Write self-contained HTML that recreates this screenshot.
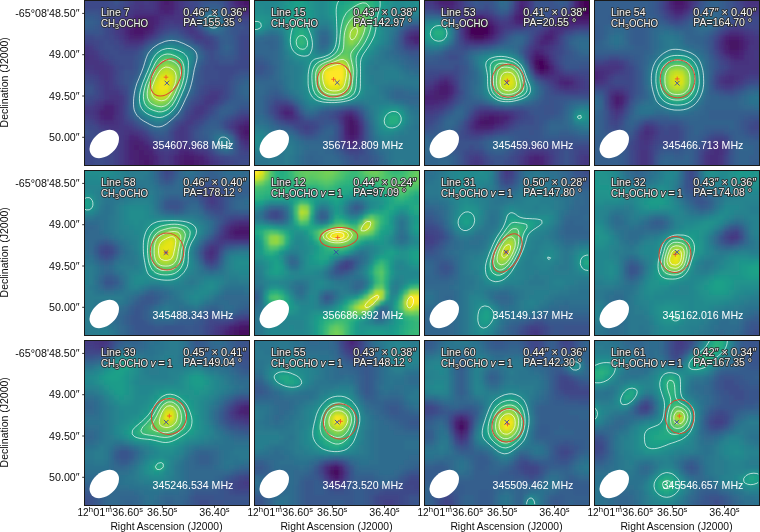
<!DOCTYPE html>
<html><head><meta charset="utf-8"><style>
html,body{margin:0;padding:0;background:#fff;}
svg{display:block;filter:blur(0.3px);font-family:"Liberation Sans",sans-serif;}
</style></head><body>
<svg width="760" height="532" viewBox="0 0 760 532">
<defs>
<filter id="bl" x="-10%" y="-10%" width="120%" height="120%"><feGaussianBlur stdDeviation="1.6"/></filter>
<clipPath id="cp0"><rect x="84" y="0" width="166" height="166"/></clipPath>
<clipPath id="cp1"><rect x="254" y="0" width="166" height="166"/></clipPath>
<clipPath id="cp2"><rect x="424" y="0" width="166" height="166"/></clipPath>
<clipPath id="cp3"><rect x="594" y="0" width="166" height="166"/></clipPath>
<clipPath id="cp4"><rect x="84" y="170" width="166" height="166"/></clipPath>
<clipPath id="cp5"><rect x="254" y="170" width="166" height="166"/></clipPath>
<clipPath id="cp6"><rect x="424" y="170" width="166" height="166"/></clipPath>
<clipPath id="cp7"><rect x="594" y="170" width="166" height="166"/></clipPath>
<clipPath id="cp8"><rect x="84" y="340" width="166" height="166"/></clipPath>
<clipPath id="cp9"><rect x="254" y="340" width="166" height="166"/></clipPath>
<clipPath id="cp10"><rect x="424" y="340" width="166" height="166"/></clipPath>
<clipPath id="cp11"><rect x="594" y="340" width="166" height="166"/></clipPath>
</defs>
<g clip-path="url(#cp0)">
<g filter="url(#bl)"><path fill="#471365" d="M244 0h5v5h-5z"/>
<path fill="#48186a" d="M244 -5h10v5h-10zM249 0h5v5h-5zM134 25h15v5h-15zM134 30h10v5h-10zM244 130h5v5h-5zM144 160h5v5h-5zM184 160h10v5h-10zM184 165h10v5h-10z"/>
<path fill="#481c6e" d="M244 -10h10v5h-10zM164 -5h5v5h-5zM239 -5h5v5h-5zM254 -5h5v5h-5zM164 0h5v5h-5zM239 0h5v5h-5zM254 0h5v5h-5zM244 5h10v5h-10zM139 20h10v5h-10zM129 30h5v5h-5zM244 125h10v5h-10zM249 130h5v5h-5zM134 145h5v5h-5zM139 150h5v5h-5zM139 155h10v5h-10zM184 155h10v5h-10zM139 160h5v5h-5zM149 160h5v5h-5zM179 160h5v5h-5zM194 160h5v5h-5zM139 165h15v5h-15zM179 165h5v5h-5zM194 165h5v5h-5zM139 170h10v5h-10zM184 170h10v5h-10z"/>
<path fill="#482071" d="M164 -10h5v5h-5zM239 -10h5v5h-5zM254 -10h5v5h-5zM169 -5h5v5h-5zM169 0h5v5h-5zM164 5h5v5h-5zM239 5h5v5h-5zM254 5h5v5h-5zM134 20h5v5h-5zM149 20h5v5h-5zM129 25h5v5h-5zM149 25h5v5h-5zM144 30h5v5h-5zM134 35h5v5h-5zM104 110h5v5h-5zM239 125h5v5h-5zM254 125h5v5h-5zM239 130h5v5h-5zM254 130h5v5h-5zM244 135h5v5h-5zM134 140h5v5h-5zM139 145h5v5h-5zM134 150h5v5h-5zM144 150h5v5h-5zM134 155h5v5h-5zM149 155h5v5h-5zM179 155h5v5h-5zM194 155h5v5h-5zM134 160h5v5h-5zM199 160h5v5h-5zM134 165h5v5h-5zM134 170h5v5h-5zM149 170h5v5h-5zM179 170h5v5h-5zM194 170h5v5h-5z"/>
<path fill="#482475" d="M159 -10h5v5h-5zM169 -10h5v5h-5zM159 -5h5v5h-5zM159 0h5v5h-5zM159 5h5v5h-5zM169 5h5v5h-5zM164 10h5v5h-5zM139 15h15v5h-15zM129 20h5v5h-5zM129 35h5v5h-5zM139 35h5v5h-5zM104 105h10v5h-10zM99 110h5v5h-5zM109 110h5v5h-5zM104 115h10v5h-10zM249 135h5v5h-5zM129 140h5v5h-5zM139 140h5v5h-5zM129 145h5v5h-5zM144 145h5v5h-5zM129 150h5v5h-5zM149 150h5v5h-5zM184 150h5v5h-5zM129 155h5v5h-5zM199 155h5v5h-5zM129 165h5v5h-5zM199 165h5v5h-5zM129 170h5v5h-5zM199 170h5v5h-5z"/>
<path fill="#482878" d="M234 -5h5v5h-5zM234 0h5v5h-5zM159 10h5v5h-5zM169 10h5v5h-5zM134 15h5v5h-5zM154 15h5v5h-5zM154 20h5v5h-5zM124 25h5v5h-5zM124 30h5v5h-5zM149 30h5v5h-5zM99 115h5v5h-5zM244 120h10v5h-10zM129 135h10v5h-10zM239 135h5v5h-5zM254 135h5v5h-5zM179 150h5v5h-5zM189 150h5v5h-5zM154 155h5v5h-5zM174 155h5v5h-5zM129 160h5v5h-5zM154 160h5v5h-5zM174 160h5v5h-5zM204 160h5v5h-5zM154 165h5v5h-5zM174 165h5v5h-5zM154 170h5v5h-5zM174 170h5v5h-5z"/>
<path fill="#472d7b" d="M174 -10h5v5h-5zM234 -10h5v5h-5zM174 -5h5v5h-5zM174 0h5v5h-5zM174 5h5v5h-5zM234 5h5v5h-5zM154 10h5v5h-5zM239 10h20v5h-20zM159 15h5v5h-5zM124 20h5v5h-5zM154 25h5v5h-5zM124 35h5v5h-5zM144 35h5v5h-5zM104 100h10v5h-10zM99 105h5v5h-5zM114 105h5v5h-5zM114 110h5v5h-5zM104 120h10v5h-10zM239 120h5v5h-5zM254 120h5v5h-5zM234 125h5v5h-5zM124 140h5v5h-5zM144 140h5v5h-5zM244 140h5v5h-5zM124 145h5v5h-5zM149 145h5v5h-5zM124 150h5v5h-5zM194 150h5v5h-5zM124 155h5v5h-5zM204 155h5v5h-5zM124 160h5v5h-5zM124 165h5v5h-5zM204 165h5v5h-5zM124 170h5v5h-5zM204 170h5v5h-5z"/>
<path fill="#46307e" d="M154 -10h5v5h-5zM154 -5h5v5h-5zM154 0h5v5h-5zM154 5h5v5h-5zM134 10h20v5h-20zM174 10h5v5h-5zM129 15h5v5h-5zM164 15h10v5h-10zM159 20h5v5h-5zM129 40h10v5h-10zM84 55h5v5h-5zM114 100h5v5h-5zM94 110h5v5h-5zM114 115h5v5h-5zM99 120h5v5h-5zM114 120h5v5h-5zM129 130h5v5h-5zM124 135h5v5h-5zM139 135h5v5h-5zM249 140h5v5h-5zM179 145h10v5h-10zM154 150h5v5h-5zM174 150h5v5h-5zM169 155h5v5h-5zM159 160h5v5h-5zM169 160h5v5h-5zM209 160h5v5h-5zM159 165h5v5h-5zM169 165h5v5h-5zM159 170h5v5h-5zM169 170h5v5h-5z"/>
<path fill="#463480" d="M139 -10h5v5h-5zM139 5h5v5h-5zM179 10h5v5h-5zM174 15h10v5h-10zM119 25h5v5h-5zM119 30h5v5h-5zM124 40h5v5h-5zM139 40h5v5h-5zM79 50h10v5h-10zM74 55h10v5h-10zM89 55h5v5h-5zM74 60h25v5h-25zM94 65h10v5h-10zM99 70h10v5h-10zM104 75h5v5h-5zM109 95h10v5h-10zM99 100h5v5h-5zM94 105h5v5h-5zM94 115h5v5h-5zM234 120h5v5h-5zM109 125h10v5h-10zM124 130h5v5h-5zM134 130h5v5h-5zM234 130h5v5h-5zM199 150h5v5h-5zM159 155h5v5h-5zM164 160h5v5h-5zM164 165h5v5h-5zM209 165h5v5h-5z"/>
<path fill="#453882" d="M134 -10h5v5h-5zM144 -10h10v5h-10zM179 -10h5v5h-5zM134 -5h20v5h-20zM179 -5h5v5h-5zM134 0h10v5h-10zM149 0h5v5h-5zM179 0h5v5h-5zM229 0h5v5h-5zM134 5h5v5h-5zM144 5h10v5h-10zM179 5h5v5h-5zM129 10h5v5h-5zM234 10h5v5h-5zM124 15h5v5h-5zM184 15h5v5h-5zM119 20h5v5h-5zM164 20h5v5h-5zM174 20h15v5h-15zM159 25h5v5h-5zM184 25h10v5h-10zM154 30h5v5h-5zM189 30h5v5h-5zM119 35h5v5h-5zM84 45h5v5h-5zM74 50h5v5h-5zM89 50h5v5h-5zM94 55h5v5h-5zM99 60h5v5h-5zM74 65h20v5h-20zM104 65h5v5h-5zM94 70h5v5h-5zM99 75h5v5h-5zM104 80h5v5h-5zM104 85h5v5h-5zM104 90h15v5h-15zM104 95h5v5h-5zM119 95h5v5h-5zM209 95h10v5h-10zM119 100h5v5h-5zM204 100h10v5h-10zM119 105h5v5h-5zM199 105h5v5h-5zM74 110h20v5h-20zM119 110h5v5h-5zM194 110h10v5h-10zM119 115h5v5h-5zM244 115h10v5h-10zM119 120h5v5h-5zM104 125h5v5h-5zM119 125h10v5h-10zM179 125h5v5h-5zM119 130h5v5h-5zM179 130h5v5h-5zM119 135h5v5h-5zM144 135h5v5h-5zM179 135h5v5h-5zM119 140h5v5h-5zM149 140h5v5h-5zM179 140h5v5h-5zM239 140h5v5h-5zM254 140h5v5h-5zM119 145h5v5h-5zM154 145h5v5h-5zM174 145h5v5h-5zM189 145h5v5h-5zM244 145h5v5h-5zM119 150h5v5h-5zM159 150h5v5h-5zM169 150h5v5h-5zM204 150h5v5h-5zM119 155h5v5h-5zM164 155h5v5h-5zM209 155h5v5h-5zM119 160h5v5h-5zM214 160h5v5h-5zM119 165h5v5h-5zM119 170h5v5h-5zM164 170h5v5h-5zM209 170h5v5h-5z"/>
<path fill="#443b84" d="M129 -10h5v5h-5zM229 -10h5v5h-5zM229 -5h5v5h-5zM144 0h5v5h-5zM129 5h5v5h-5zM229 5h5v5h-5zM184 10h5v5h-5zM169 20h5v5h-5zM189 20h5v5h-5zM114 25h5v5h-5zM114 30h5v5h-5zM194 30h5v5h-5zM149 35h5v5h-5zM194 35h10v5h-10zM74 45h10v5h-10zM89 45h5v5h-5zM94 50h5v5h-5zM104 60h5v5h-5zM109 65h5v5h-5zM74 70h5v5h-5zM89 70h5v5h-5zM109 70h5v5h-5zM109 75h5v5h-5zM99 80h5v5h-5zM109 80h5v5h-5zM109 85h5v5h-5zM209 90h10v5h-10zM204 95h5v5h-5zM94 100h5v5h-5zM74 105h20v5h-20zM194 105h5v5h-5zM204 105h5v5h-5zM74 115h10v5h-10zM89 115h5v5h-5zM189 115h10v5h-10zM239 115h5v5h-5zM254 115h5v5h-5zM94 120h5v5h-5zM184 120h10v5h-10zM99 125h5v5h-5zM129 125h5v5h-5zM184 125h5v5h-5zM229 125h5v5h-5zM109 130h10v5h-10zM139 130h5v5h-5zM174 130h5v5h-5zM184 130h5v5h-5zM114 135h5v5h-5zM174 135h5v5h-5zM184 135h5v5h-5zM174 140h5v5h-5zM184 140h5v5h-5zM249 145h5v5h-5zM164 150h5v5h-5zM214 165h5v5h-5z"/>
<path fill="#424086" d="M184 -10h5v5h-5zM129 -5h5v5h-5zM184 -5h5v5h-5zM129 0h5v5h-5zM184 0h5v5h-5zM184 5h5v5h-5zM124 10h5v5h-5zM119 15h5v5h-5zM189 15h5v5h-5zM239 15h20v5h-20zM114 20h5v5h-5zM164 25h5v5h-5zM179 25h5v5h-5zM184 30h5v5h-5zM114 35h5v5h-5zM119 40h5v5h-5zM204 40h5v5h-5zM124 45h15v5h-15zM99 55h5v5h-5zM79 70h10v5h-10zM94 75h5v5h-5zM99 85h5v5h-5zM114 85h5v5h-5zM99 90h5v5h-5zM119 90h5v5h-5zM219 90h5v5h-5zM99 95h5v5h-5zM199 100h5v5h-5zM214 100h5v5h-5zM189 110h5v5h-5zM204 110h5v5h-5zM84 115h5v5h-5zM199 115h5v5h-5zM124 120h5v5h-5zM229 120h5v5h-5zM104 130h5v5h-5zM114 140h5v5h-5zM114 145h5v5h-5zM169 145h5v5h-5zM194 145h5v5h-5zM239 145h5v5h-5zM254 145h5v5h-5zM114 150h5v5h-5zM114 155h5v5h-5zM214 155h5v5h-5zM114 160h5v5h-5zM219 160h5v5h-5zM114 165h5v5h-5zM219 165h5v5h-5zM114 170h5v5h-5zM214 170h5v5h-5z"/>
<path fill="#414487" d="M124 -10h5v5h-5zM189 -10h5v5h-5zM124 5h5v5h-5zM189 5h5v5h-5zM189 10h5v5h-5zM229 10h5v5h-5zM114 15h5v5h-5zM234 15h5v5h-5zM109 20h5v5h-5zM109 25h5v5h-5zM169 25h10v5h-10zM194 25h5v5h-5zM109 30h5v5h-5zM159 30h5v5h-5zM189 35h5v5h-5zM204 35h5v5h-5zM74 40h20v5h-20zM144 40h5v5h-5zM199 40h5v5h-5zM209 40h5v5h-5zM94 45h5v5h-5zM109 60h5v5h-5zM114 70h5v5h-5zM74 75h5v5h-5zM89 75h5v5h-5zM94 80h5v5h-5zM114 80h5v5h-5zM209 85h15v5h-15zM204 90h5v5h-5zM199 95h5v5h-5zM219 95h5v5h-5zM74 100h10v5h-10zM89 100h5v5h-5zM209 105h5v5h-5zM184 115h5v5h-5zM234 115h5v5h-5zM74 120h5v5h-5zM89 120h5v5h-5zM179 120h5v5h-5zM194 120h5v5h-5zM134 125h5v5h-5zM174 125h5v5h-5zM189 125h5v5h-5zM109 135h5v5h-5zM154 140h5v5h-5zM189 140h5v5h-5zM159 145h5v5h-5zM199 145h5v5h-5zM209 150h5v5h-5zM244 150h5v5h-5zM224 160h5v5h-5z"/>
<path fill="#3f4788" d="M124 -5h5v5h-5zM189 -5h5v5h-5zM124 0h5v5h-5zM189 0h5v5h-5zM119 10h5v5h-5zM109 15h5v5h-5zM199 30h5v5h-5zM109 35h5v5h-5zM154 35h5v5h-5zM94 40h5v5h-5zM114 40h5v5h-5zM244 40h5v5h-5zM119 45h5v5h-5zM204 45h10v5h-10zM244 45h5v5h-5zM99 50h5v5h-5zM104 55h5v5h-5zM244 55h5v5h-5zM114 65h5v5h-5zM79 75h10v5h-10zM114 75h5v5h-5zM94 85h5v5h-5zM119 85h5v5h-5zM204 85h5v5h-5zM94 95h5v5h-5zM124 95h5v5h-5zM84 100h5v5h-5zM124 100h5v5h-5zM194 100h5v5h-5zM189 105h5v5h-5zM124 115h5v5h-5zM79 120h10v5h-10zM129 120h5v5h-5zM94 125h5v5h-5zM99 130h5v5h-5zM144 130h5v5h-5zM189 130h5v5h-5zM104 135h5v5h-5zM149 135h5v5h-5zM189 135h5v5h-5zM234 135h5v5h-5zM109 140h5v5h-5zM169 140h5v5h-5zM109 145h5v5h-5zM164 145h5v5h-5zM204 145h5v5h-5zM109 150h5v5h-5zM239 150h5v5h-5zM249 150h10v5h-10zM109 155h5v5h-5zM219 155h5v5h-5zM109 160h5v5h-5zM229 160h5v5h-5zM109 165h5v5h-5zM224 165h5v5h-5zM109 170h5v5h-5zM219 170h5v5h-5z"/>
<path fill="#3e4a89" d="M74 -10h35v5h-35zM119 -10h5v5h-5zM194 -10h5v5h-5zM224 -10h5v5h-5zM74 -5h35v5h-35zM194 -5h5v5h-5zM224 -5h5v5h-5zM74 0h35v5h-35zM194 0h5v5h-5zM224 0h5v5h-5zM74 5h35v5h-35zM119 5h5v5h-5zM194 5h5v5h-5zM224 5h5v5h-5zM104 10h15v5h-15zM104 15h5v5h-5zM229 15h5v5h-5zM104 20h5v5h-5zM194 20h5v5h-5zM239 20h20v5h-20zM104 25h5v5h-5zM104 30h5v5h-5zM179 30h5v5h-5zM74 35h20v5h-20zM104 35h5v5h-5zM209 35h5v5h-5zM239 35h20v5h-20zM99 40h5v5h-5zM109 40h5v5h-5zM194 40h5v5h-5zM239 40h5v5h-5zM249 40h10v5h-10zM99 45h5v5h-5zM114 45h5v5h-5zM139 45h5v5h-5zM239 45h5v5h-5zM249 45h10v5h-10zM104 50h5v5h-5zM119 50h15v5h-15zM239 50h20v5h-20zM109 55h5v5h-5zM239 55h5v5h-5zM249 55h10v5h-10zM114 60h5v5h-5zM239 60h20v5h-20zM119 65h5v5h-5zM214 65h45v5h-45zM219 70h15v5h-15zM219 75h10v5h-10zM74 80h5v5h-5zM89 80h5v5h-5zM209 80h20v5h-20zM224 85h5v5h-5zM94 90h5v5h-5zM124 90h5v5h-5zM199 90h5v5h-5zM224 90h5v5h-5zM74 95h5v5h-5zM89 95h5v5h-5zM224 95h5v5h-5zM219 100h5v5h-5zM124 105h5v5h-5zM124 110h5v5h-5zM184 110h5v5h-5zM209 110h5v5h-5zM239 110h20v5h-20zM204 115h5v5h-5zM199 120h5v5h-5zM224 120h5v5h-5zM74 125h5v5h-5zM89 125h5v5h-5zM194 125h5v5h-5zM224 125h5v5h-5zM94 130h5v5h-5zM169 130h5v5h-5zM99 135h5v5h-5zM169 135h5v5h-5zM74 140h20v5h-20zM104 140h5v5h-5zM194 140h5v5h-5zM74 145h20v5h-20zM74 150h20v5h-20zM74 155h20v5h-20zM104 155h5v5h-5zM224 155h5v5h-5zM239 155h20v5h-20zM74 160h20v5h-20zM104 160h5v5h-5zM234 160h5v5h-5zM74 165h20v5h-20zM104 165h5v5h-5zM229 165h10v5h-10zM74 170h20v5h-20zM104 170h5v5h-5zM224 170h5v5h-5zM239 170h20v5h-20z"/>
<path fill="#3d4e8a" d="M109 -10h10v5h-10zM109 -5h15v5h-15zM109 0h5v5h-5zM119 0h5v5h-5zM109 5h10v5h-10zM99 10h5v5h-5zM194 10h5v5h-5zM194 15h5v5h-5zM234 20h5v5h-5zM244 25h10v5h-10zM164 30h5v5h-5zM239 30h20v5h-20zM94 35h10v5h-10zM184 35h5v5h-5zM104 40h5v5h-5zM214 40h5v5h-5zM104 45h10v5h-10zM214 45h5v5h-5zM109 50h10v5h-10zM134 50h5v5h-5zM209 50h5v5h-5zM114 55h20v5h-20zM209 55h5v5h-5zM119 60h15v5h-15zM209 60h10v5h-10zM234 60h5v5h-5zM124 65h10v5h-10zM204 65h10v5h-10zM119 70h5v5h-5zM204 70h15v5h-15zM234 70h5v5h-5zM119 75h5v5h-5zM204 75h15v5h-15zM229 75h5v5h-5zM79 80h10v5h-10zM119 80h5v5h-5zM204 80h5v5h-5zM124 85h5v5h-5zM199 85h5v5h-5zM79 95h10v5h-10zM194 95h5v5h-5zM189 100h5v5h-5zM214 105h5v5h-5zM229 115h5v5h-5zM174 120h5v5h-5zM79 125h10v5h-10zM139 125h5v5h-5zM74 130h10v5h-10zM89 130h5v5h-5zM229 130h5v5h-5zM74 135h25v5h-25zM94 140h10v5h-10zM159 140h10v5h-10zM94 145h15v5h-15zM94 150h15v5h-15zM94 155h10v5h-10zM229 155h10v5h-10zM94 160h10v5h-10zM239 160h20v5h-20zM94 165h10v5h-10zM239 165h20v5h-20zM94 170h10v5h-10zM229 170h10v5h-10z"/>
<path fill="#3b528b" d="M199 -5h5v5h-5zM114 0h5v5h-5zM199 0h5v5h-5zM74 10h5v5h-5zM89 10h10v5h-10zM224 10h5v5h-5zM99 15h5v5h-5zM99 25h5v5h-5zM234 25h10v5h-10zM254 25h5v5h-5zM99 30h5v5h-5zM169 30h10v5h-10zM234 35h5v5h-5zM149 40h5v5h-5zM199 45h5v5h-5zM204 50h5v5h-5zM214 50h5v5h-5zM134 55h5v5h-5zM214 55h5v5h-5zM234 55h5v5h-5zM204 60h5v5h-5zM219 60h15v5h-15zM124 70h10v5h-10zM199 70h5v5h-5zM239 70h20v5h-20zM124 75h5v5h-5zM199 75h5v5h-5zM124 80h5v5h-5zM199 80h5v5h-5zM229 80h5v5h-5zM74 85h20v5h-20zM229 85h5v5h-5zM74 90h20v5h-20zM229 90h5v5h-5zM234 110h5v5h-5zM179 115h5v5h-5zM134 120h5v5h-5zM169 125h5v5h-5zM84 130h5v5h-5zM194 130h5v5h-5zM154 135h5v5h-5zM164 135h5v5h-5zM194 135h5v5h-5zM199 140h5v5h-5zM234 140h5v5h-5zM214 150h5v5h-5zM234 150h5v5h-5z"/>
<path fill="#39558c" d="M199 -10h5v5h-5zM219 -5h5v5h-5zM204 0h5v5h-5zM219 0h5v5h-5zM199 5h5v5h-5zM79 10h10v5h-10zM99 20h5v5h-5zM229 20h5v5h-5zM74 30h25v5h-25zM204 30h5v5h-5zM234 30h5v5h-5zM159 35h5v5h-5zM214 35h5v5h-5zM234 40h5v5h-5zM234 45h5v5h-5zM234 50h5v5h-5zM204 55h5v5h-5zM219 55h5v5h-5zM134 60h5v5h-5zM134 65h5v5h-5zM199 65h5v5h-5zM129 75h5v5h-5zM234 75h5v5h-5zM194 90h5v5h-5zM229 95h5v5h-5zM224 100h5v5h-5zM184 105h5v5h-5zM239 105h20v5h-20zM214 110h5v5h-5zM129 115h5v5h-5zM209 115h5v5h-5zM224 115h5v5h-5zM204 120h5v5h-5zM219 120h5v5h-5zM199 125h5v5h-5zM149 130h5v5h-5zM159 135h5v5h-5zM204 140h5v5h-5zM209 145h5v5h-5zM234 145h5v5h-5z"/>
<path fill="#38598c" d="M219 -10h5v5h-5zM204 -5h5v5h-5zM209 0h10v5h-10zM219 5h5v5h-5zM94 15h5v5h-5zM224 15h5v5h-5zM94 25h5v5h-5zM199 25h5v5h-5zM229 25h5v5h-5zM229 30h5v5h-5zM179 35h5v5h-5zM189 40h5v5h-5zM144 45h5v5h-5zM139 50h5v5h-5zM224 55h10v5h-10zM134 70h5v5h-5zM239 75h5v5h-5zM254 75h5v5h-5zM129 80h5v5h-5zM194 80h5v5h-5zM234 80h5v5h-5zM194 85h5v5h-5zM189 95h5v5h-5zM219 105h5v5h-5zM214 115h5v5h-5zM144 125h5v5h-5zM219 125h5v5h-5zM164 130h5v5h-5zM199 130h5v5h-5zM199 135h5v5h-5z"/>
<path fill="#365c8d" d="M204 -10h5v5h-5zM209 -5h10v5h-10zM204 5h5v5h-5zM199 10h5v5h-5zM74 15h20v5h-20zM94 20h5v5h-5zM74 25h5v5h-5zM89 25h5v5h-5zM229 35h5v5h-5zM219 40h5v5h-5zM229 40h5v5h-5zM219 45h5v5h-5zM219 50h5v5h-5zM229 50h5v5h-5zM139 55h5v5h-5zM199 60h5v5h-5zM194 75h5v5h-5zM244 75h10v5h-10zM129 85h5v5h-5zM234 85h5v5h-5zM129 90h5v5h-5zM234 90h5v5h-5zM129 95h5v5h-5zM234 95h5v5h-5zM229 100h30v5h-30zM234 105h5v5h-5zM129 110h5v5h-5zM229 110h5v5h-5zM219 115h5v5h-5zM209 120h10v5h-10zM204 125h5v5h-5zM154 130h5v5h-5zM204 135h5v5h-5z"/>
<path fill="#355f8d" d="M209 -10h10v5h-10zM209 5h10v5h-10zM74 20h5v5h-5zM89 20h5v5h-5zM224 20h5v5h-5zM79 25h10v5h-10zM224 30h5v5h-5zM164 35h5v5h-5zM174 35h5v5h-5zM219 35h10v5h-10zM154 40h5v5h-5zM224 40h5v5h-5zM229 45h5v5h-5zM199 50h5v5h-5zM224 50h5v5h-5zM139 60h5v5h-5zM194 70h5v5h-5zM134 75h5v5h-5zM239 80h5v5h-5zM254 80h5v5h-5zM239 95h5v5h-5zM249 95h10v5h-10zM129 100h5v5h-5zM184 100h5v5h-5zM129 105h5v5h-5zM224 105h10v5h-10zM179 110h5v5h-5zM219 110h10v5h-10zM139 120h5v5h-5zM169 120h5v5h-5zM209 125h10v5h-10zM159 130h5v5h-5zM204 130h5v5h-5zM224 130h5v5h-5zM209 140h5v5h-5zM219 150h5v5h-5zM229 150h5v5h-5z"/>
<path fill="#33638d" d="M219 10h5v5h-5zM79 20h10v5h-10zM224 25h5v5h-5zM209 30h5v5h-5zM169 35h5v5h-5zM184 40h5v5h-5zM194 45h5v5h-5zM224 45h5v5h-5zM199 55h5v5h-5zM139 65h5v5h-5zM244 80h10v5h-10zM239 85h5v5h-5zM249 85h10v5h-10zM189 90h5v5h-5zM239 90h5v5h-5zM249 90h10v5h-10zM244 95h5v5h-5zM134 115h5v5h-5zM174 115h5v5h-5zM164 125h5v5h-5zM209 130h5v5h-5zM224 150h5v5h-5z"/>
<path fill="#31668e" d="M199 15h5v5h-5zM199 20h5v5h-5zM219 30h5v5h-5zM194 65h5v5h-5zM244 85h5v5h-5zM244 90h5v5h-5zM149 125h5v5h-5zM209 135h5v5h-5zM229 135h5v5h-5zM214 145h5v5h-5z"/>
<path fill="#30698e" d="M204 10h5v5h-5zM214 30h5v5h-5zM149 45h5v5h-5zM144 50h5v5h-5zM134 80h5v5h-5zM189 85h5v5h-5zM159 125h5v5h-5zM214 130h10v5h-10z"/>
<path fill="#2f6c8e" d="M214 10h5v5h-5zM219 15h5v5h-5zM204 25h5v5h-5zM159 40h5v5h-5zM194 60h5v5h-5zM139 70h5v5h-5zM189 80h5v5h-5zM184 95h5v5h-5zM179 105h5v5h-5zM144 120h5v5h-5zM154 125h5v5h-5zM229 145h5v5h-5z"/>
<path fill="#2e6f8e" d="M209 10h5v5h-5zM219 25h5v5h-5zM179 40h5v5h-5zM189 45h5v5h-5zM194 50h5v5h-5zM144 55h5v5h-5zM164 120h5v5h-5z"/>
<path fill="#2c728e" d="M219 20h5v5h-5zM194 55h5v5h-5zM189 75h5v5h-5zM134 85h5v5h-5zM134 110h5v5h-5zM139 115h5v5h-5zM214 135h5v5h-5zM214 140h5v5h-5zM229 140h5v5h-5z"/>
<path fill="#2b758e" d="M164 40h5v5h-5zM174 40h5v5h-5zM144 60h5v5h-5zM174 110h5v5h-5zM169 115h5v5h-5zM149 120h5v5h-5zM219 145h5v5h-5z"/>
<path fill="#2a788e" d="M204 15h5v5h-5zM214 25h5v5h-5zM169 40h5v5h-5zM154 45h5v5h-5zM189 70h5v5h-5zM139 75h5v5h-5zM134 90h5v5h-5zM184 90h5v5h-5zM224 135h5v5h-5z"/>
<path fill="#297b8e" d="M214 15h5v5h-5zM204 20h5v5h-5zM209 25h5v5h-5zM184 45h5v5h-5zM149 50h5v5h-5zM134 95h5v5h-5zM179 100h5v5h-5zM134 105h5v5h-5zM154 120h10v5h-10zM219 135h5v5h-5zM224 145h5v5h-5z"/>
<path fill="#277e8e" d="M144 65h5v5h-5zM189 65h5v5h-5zM134 100h5v5h-5zM144 115h5v5h-5z"/>
<path fill="#26828e" d="M209 15h5v5h-5zM214 20h5v5h-5zM189 50h5v5h-5zM219 140h5v5h-5z"/>
<path fill="#25848e" d="M179 45h5v5h-5zM189 60h5v5h-5zM184 85h5v5h-5zM139 110h5v5h-5zM224 140h5v5h-5z"/>
<path fill="#24878e" d="M209 20h5v5h-5zM159 45h5v5h-5zM189 55h5v5h-5zM139 80h5v5h-5zM179 95h5v5h-5zM164 115h5v5h-5z"/>
<path fill="#238a8d" d="M174 45h5v5h-5zM149 55h5v5h-5zM174 105h5v5h-5zM149 115h5v5h-5z"/>
<path fill="#228d8d" d="M184 50h5v5h-5zM144 70h5v5h-5zM184 80h5v5h-5zM169 110h5v5h-5z"/>
<path fill="#21918c" d="M164 45h10v5h-10zM154 115h10v5h-10z"/>
<path fill="#20938c" d="M154 50h5v5h-5zM139 85h5v5h-5zM139 105h5v5h-5z"/>
<path fill="#1f968b" d="M149 60h5v5h-5zM184 75h5v5h-5zM144 110h5v5h-5z"/>
<path fill="#1f998a" d="M179 50h5v5h-5zM184 55h5v5h-5zM179 90h5v5h-5z"/>
<path fill="#1e9c89" d="M184 70h5v5h-5zM144 75h5v5h-5zM139 90h5v5h-5zM174 100h5v5h-5z"/>
<path fill="#1fa088" d="M184 60h5v5h-5zM184 65h5v5h-5zM139 100h5v5h-5zM149 110h5v5h-5z"/>
<path fill="#1fa287" d="M159 50h5v5h-5zM174 50h5v5h-5zM149 65h5v5h-5zM139 95h5v5h-5zM164 110h5v5h-5z"/>
<path fill="#21a585" d="M154 55h5v5h-5z"/>
<path fill="#22a884" d="M169 105h5v5h-5zM154 110h5v5h-5z"/>
<path fill="#25ab82" d="M164 50h10v5h-10zM179 55h5v5h-5zM179 85h5v5h-5zM144 105h5v5h-5zM159 110h5v5h-5z"/>
<path fill="#28ae80" d="M144 80h5v5h-5zM174 95h5v5h-5z"/>
<path fill="#2fb47c" d="M149 70h5v5h-5z"/>
<path fill="#34b679" d="M174 55h5v5h-5zM154 60h5v5h-5zM179 60h5v5h-5zM179 80h5v5h-5z"/>
<path fill="#38b977" d="M159 55h5v5h-5zM144 100h5v5h-5zM149 105h5v5h-5z"/>
<path fill="#3fbc73" d="M144 85h5v5h-5zM164 105h5v5h-5z"/>
<path fill="#44bf70" d="M169 55h5v5h-5zM179 65h5v5h-5zM179 75h5v5h-5zM169 100h5v5h-5z"/>
<path fill="#4ac16d" d="M164 55h5v5h-5zM179 70h5v5h-5zM174 90h5v5h-5zM154 105h5v5h-5z"/>
<path fill="#50c46a" d="M144 90h5v5h-5zM144 95h5v5h-5zM159 105h5v5h-5z"/>
<path fill="#56c667" d="M174 60h5v5h-5zM154 65h5v5h-5zM149 75h5v5h-5z"/>
<path fill="#65cb5e" d="M159 60h5v5h-5zM149 100h5v5h-5z"/>
<path fill="#6ccd5a" d="M169 60h5v5h-5zM174 85h5v5h-5z"/>
<path fill="#73d056" d="M169 95h5v5h-5z"/>
<path fill="#7ad151" d="M164 60h5v5h-5zM174 65h5v5h-5zM149 80h5v5h-5zM164 100h5v5h-5z"/>
<path fill="#84d44b" d="M154 70h5v5h-5zM154 100h5v5h-5z"/>
<path fill="#8bd646" d="M149 95h5v5h-5zM159 100h5v5h-5z"/>
<path fill="#93d741" d="M159 65h5v5h-5zM174 70h5v5h-5zM174 80h5v5h-5z"/>
<path fill="#9bd93c" d="M169 65h5v5h-5zM174 75h5v5h-5zM149 85h5v5h-5z"/>
<path fill="#a2da37" d="M149 90h5v5h-5zM169 90h5v5h-5z"/>
<path fill="#addc30" d="M164 65h5v5h-5zM154 75h5v5h-5z"/>
<path fill="#b5de2b" d="M154 95h5v5h-5zM164 95h5v5h-5z"/>
<path fill="#bddf26" d="M159 70h5v5h-5zM169 70h5v5h-5z"/>
<path fill="#c5e021" d="M169 85h5v5h-5zM159 95h5v5h-5z"/>
<path fill="#cde11d" d="M164 70h5v5h-5zM154 80h5v5h-5z"/>
<path fill="#d8e219" d="M169 75h5v5h-5zM169 80h5v5h-5zM154 90h5v5h-5z"/>
<path fill="#dfe318" d="M159 75h5v5h-5zM154 85h5v5h-5zM164 90h5v5h-5z"/>
<path fill="#e7e419" d="M164 75h5v5h-5zM159 90h5v5h-5z"/>
<path fill="#efe51c" d="M159 80h10v5h-10zM159 85h10v5h-10z"/></g>
<path fill="none" stroke="#fff" stroke-opacity="0.72" stroke-width="0.95" stroke-linejoin="round" d="M209.2,15.6 212.2,14.9 215.2,15.7 216.8,16.7 218.2,18.5 219.1,20.2 219.4,23.2 218.2,26.1 216.8,27.3 215.2,27.9 212.2,27.9 210.8,27.5 208.7,26.2 207.2,24.8 206.2,23.2 205.9,20.2 206.3,18.8 207.8,16.6 209.2,15.6 Z M165.8,41.2 168.8,40.6 171.8,40.4 174.8,40.6 177.4,41.2 179.2,41.8 181.7,42.8 183.8,43.6 185.2,44.3 188.0,45.8 189.8,46.7 191.2,47.7 192.8,48.8 194.4,50.2 195.8,52.0 196.9,54.8 197.1,57.8 196.6,60.8 195.8,63.8 195.4,65.2 194.6,68.2 194.2,69.8 193.7,72.8 193.1,75.8 192.8,77.8 192.3,80.2 191.6,83.2 191.2,84.8 190.3,87.8 189.8,89.4 188.7,92.2 188.0,93.8 186.8,96.5 185.9,98.2 185.2,99.8 183.8,102.8 183.2,104.2 182.2,106.2 180.9,108.8 180.1,110.2 179.1,111.8 177.8,113.6 176.2,115.3 174.8,116.8 173.2,118.3 171.7,119.6 170.2,120.9 168.6,122.2 166.6,123.8 164.2,125.2 162.8,126.0 160.0,126.8 158.2,126.9 156.3,126.8 153.8,126.2 151.5,125.2 149.2,124.1 147.8,123.3 145.8,122.2 143.3,120.8 141.8,119.8 140.2,118.6 138.8,117.3 137.2,115.7 135.8,113.5 134.9,111.8 134.2,109.8 133.7,107.2 133.5,104.2 133.5,101.2 133.7,98.2 134.1,95.2 134.3,93.8 134.8,90.8 135.5,87.8 136.0,86.2 136.9,83.2 137.5,81.8 138.8,78.8 139.4,77.2 140.2,75.3 141.3,72.8 141.9,71.2 143.0,68.2 143.5,66.8 144.4,63.8 144.9,62.2 145.8,59.2 146.3,57.8 147.5,54.8 148.4,53.2 149.4,51.8 150.8,50.1 152.2,48.6 153.9,47.2 155.9,45.8 158.2,44.3 159.8,43.5 161.5,42.8 164.2,41.7 165.8,41.2 Z M222.8,137.1 224.7,137.2 227.2,138.4 228.8,139.9 229.7,141.8 229.7,144.8 228.8,146.4 225.8,147.8 225.5,147.8 222.8,147.1 221.2,146.2 219.8,144.7 218.5,141.8 219.3,138.8 221.2,137.4 222.8,137.1 Z M167.3,48.5 170.2,48.5 172.4,48.8 174.8,49.3 177.5,50.2 179.2,50.9 181.1,51.8 183.7,53.2 185.2,54.6 186.6,56.2 187.4,57.8 188.2,60.8 188.4,62.2 188.4,65.2 188.3,68.2 188.2,69.8 188.0,72.8 187.6,75.8 187.0,78.8 186.7,80.2 185.9,83.2 185.2,85.3 184.4,87.8 183.8,89.3 182.5,92.2 181.9,93.8 180.8,96.4 179.9,98.2 179.2,99.8 177.8,102.8 177.0,104.2 176.2,105.8 174.8,107.9 173.2,109.8 171.8,111.4 170.2,112.8 168.8,113.9 167.2,114.9 164.6,116.2 162.8,117.0 159.8,117.5 156.8,117.3 153.8,116.6 152.2,116.0 149.3,114.8 147.8,114.0 146.2,113.1 144.4,111.8 142.9,110.2 141.8,108.7 140.4,105.8 140.0,104.2 139.5,101.2 139.4,98.2 139.6,95.2 140.1,92.2 140.4,90.8 141.2,87.8 141.8,85.9 142.6,83.2 143.2,81.7 144.4,78.8 145.1,77.2 146.2,74.4 147.0,72.8 147.8,70.9 148.8,68.2 149.5,66.8 150.7,63.8 151.3,62.2 152.2,60.2 153.5,57.8 154.5,56.2 155.6,54.8 157.0,53.2 158.9,51.8 161.2,50.3 162.8,49.6 165.8,48.8 167.3,48.5 Z M164.2,54.6 167.2,54.0 170.2,54.2 172.3,54.8 174.8,55.7 176.2,56.4 178.6,57.8 180.5,59.2 181.7,60.8 182.6,62.2 183.6,65.2 183.9,66.8 184.2,69.8 184.2,72.8 184.0,75.8 183.8,77.5 183.2,80.2 182.4,83.2 181.9,84.8 180.8,87.8 180.2,89.2 179.2,91.5 178.3,93.8 177.6,95.2 176.2,98.2 175.4,99.8 174.6,101.2 173.2,103.5 171.8,105.5 170.2,107.2 168.8,108.5 167.2,109.6 165.8,110.5 162.8,111.5 161.3,111.8 158.4,111.8 156.8,111.4 153.8,110.5 152.2,109.9 149.9,108.8 147.8,107.3 146.2,105.8 145.2,104.2 144.5,102.8 143.7,99.8 143.4,96.8 143.5,93.8 144.0,90.8 144.7,87.8 145.1,86.2 146.1,83.2 146.7,81.8 147.8,79.2 148.6,77.2 149.2,75.7 150.5,72.8 151.2,71.2 152.2,69.0 153.4,66.8 154.1,65.2 155.2,63.1 156.7,60.8 157.8,59.2 159.2,57.8 161.0,56.2 162.8,55.2 164.2,54.6 Z M164.2,60.3 167.2,59.7 170.2,60.3 171.8,60.9 174.5,62.2 176.2,63.5 177.8,64.9 178.9,66.8 179.6,68.2 180.3,71.2 180.6,74.2 180.4,77.2 179.9,80.2 179.2,82.8 178.6,84.8 177.8,87.1 176.8,89.2 176.2,90.8 174.9,93.8 174.2,95.2 173.2,97.0 171.8,99.6 170.5,101.2 169.2,102.8 167.6,104.2 165.8,105.5 164.2,106.2 161.2,106.8 158.2,106.4 156.0,105.8 153.8,104.8 152.2,104.1 150.4,102.8 149.1,101.2 147.8,98.4 147.4,96.8 147.2,93.8 147.4,90.8 147.8,88.8 148.4,86.2 149.2,83.6 150.0,81.8 150.8,79.9 151.9,77.2 152.6,75.8 153.8,73.3 154.8,71.2 155.6,69.8 156.8,67.7 158.2,65.5 159.6,63.8 161.1,62.2 162.8,61.0 164.2,60.3 Z M162.8,68.2 165.8,67.0 168.8,67.4 170.7,68.2 173.2,69.8 174.6,71.2 175.4,72.8 176.1,75.8 176.1,78.8 175.6,81.8 174.8,84.7 174.1,86.2 173.2,88.5 172.2,90.8 171.5,92.2 170.2,94.6 168.8,96.8 167.4,98.2 165.8,99.6 164.2,100.3 161.2,100.8 158.2,100.1 156.8,99.5 154.6,98.2 153.1,96.8 152.2,95.2 151.6,92.2 151.7,89.2 152.2,86.4 152.8,84.8 153.8,82.0 154.6,80.2 155.2,78.7 156.7,75.8 157.6,74.2 158.5,72.8 159.8,71.0 161.2,69.4 162.8,68.2 Z"/>
<ellipse cx="166.0" cy="77.4" rx="20.3" ry="13.4" transform="rotate(-57.7 166.0 77.4)" fill="none" stroke="#e0442c" stroke-width="1"/>
<path d="M163.7 77.2h4.6M166.0 74.9v4.6" stroke="#f05a28" stroke-width="0.9"/>
<path d="M164.6 80.7l4.6 4.6M169.2 80.7l-4.6 4.6" stroke="#3446a8" stroke-width="0.9"/>
<ellipse cx="104.3" cy="144.0" rx="16.8" ry="11.6" transform="rotate(-42.0 104.3 144.0)" fill="#fff"/>
</g>
<rect x="84.5" y="0.5" width="165" height="165" fill="none" stroke="#1a1a1a" stroke-width="1"/>
<text x="100.9" y="16.2" font-size="10.20" fill="#f4f4f4" stroke="#2a2a2a" stroke-width="1.7" paint-order="stroke" stroke-linejoin="round" textLength="28.7" lengthAdjust="spacingAndGlyphs">Line 7</text>
<text x="101.0" y="26.5" font-size="10.20" fill="#f4f4f4" stroke="#2a2a2a" stroke-width="1.7" paint-order="stroke" stroke-linejoin="round" textLength="47" lengthAdjust="spacingAndGlyphs">CH<tspan font-size="7.4" dy="2.3">3</tspan><tspan dy="-2.3">OCHO</tspan></text>
<text x="183.3" y="15.8" font-size="10.20" fill="#f4f4f4" stroke="#2a2a2a" stroke-width="1.7" paint-order="stroke" stroke-linejoin="round" textLength="63.0" lengthAdjust="spacingAndGlyphs">0.46″ × 0.36″</text>
<text x="183.3" y="26.3" font-size="10.20" fill="#f4f4f4" stroke="#2a2a2a" stroke-width="1.7" paint-order="stroke" stroke-linejoin="round" textLength="58.7" lengthAdjust="spacingAndGlyphs">PA=155.35 °</text>
<text x="152.6" y="148.9" font-size="10.4" fill="#fff" textLength="80.8" lengthAdjust="spacingAndGlyphs">354607.968 MHz</text>
<g clip-path="url(#cp1)">
<g filter="url(#bl)"><path fill="#471365" d="M349 120h5v5h-5zM349 125h5v5h-5zM349 130h5v5h-5z"/>
<path fill="#481c6e" d="M349 115h5v5h-5zM354 125h5v5h-5zM354 130h5v5h-5zM349 135h5v5h-5z"/>
<path fill="#482071" d="M414 35h5v5h-5zM344 115h5v5h-5zM344 120h5v5h-5zM354 120h5v5h-5zM344 125h5v5h-5z"/>
<path fill="#482475" d="M419 35h5v5h-5zM284 110h5v5h-5zM344 130h5v5h-5zM354 135h5v5h-5z"/>
<path fill="#482878" d="M409 35h5v5h-5zM424 35h5v5h-5zM414 40h5v5h-5zM289 110h5v5h-5zM344 135h5v5h-5zM349 140h5v5h-5z"/>
<path fill="#472d7b" d="M419 40h5v5h-5zM279 110h5v5h-5zM284 115h10v5h-10zM354 115h5v5h-5z"/>
<path fill="#46307e" d="M414 30h10v5h-10zM409 40h5v5h-5zM424 40h5v5h-5zM284 105h5v5h-5zM349 110h5v5h-5zM344 140h5v5h-5zM354 140h5v5h-5z"/>
<path fill="#463480" d="M409 30h5v5h-5zM424 30h5v5h-5zM279 105h5v5h-5zM344 110h5v5h-5zM339 115h5v5h-5zM359 125h5v5h-5zM359 130h5v5h-5z"/>
<path fill="#453882" d="M404 35h5v5h-5zM289 105h5v5h-5zM279 115h5v5h-5zM294 115h5v5h-5zM339 120h5v5h-5zM359 135h5v5h-5zM349 145h5v5h-5z"/>
<path fill="#443b84" d="M404 40h5v5h-5zM359 120h5v5h-5zM354 145h5v5h-5z"/>
<path fill="#424086" d="M409 45h20v5h-20zM274 105h5v5h-5zM274 110h5v5h-5zM294 110h5v5h-5zM339 110h5v5h-5zM354 110h5v5h-5zM289 120h10v5h-10zM304 125h5v5h-5zM339 125h5v5h-5zM339 130h5v5h-5zM339 135h5v5h-5zM359 140h5v5h-5zM344 145h5v5h-5z"/>
<path fill="#414487" d="M404 30h5v5h-5zM334 115h5v5h-5zM284 120h5v5h-5zM299 120h5v5h-5zM299 125h5v5h-5zM309 125h5v5h-5zM339 140h5v5h-5z"/>
<path fill="#3f4788" d="M274 100h15v5h-15zM274 115h5v5h-5zM359 115h5v5h-5zM304 120h5v5h-5zM304 130h5v5h-5zM359 145h5v5h-5zM349 150h10v5h-10z"/>
<path fill="#3e4a89" d="M414 25h10v5h-10zM404 45h5v5h-5zM334 110h5v5h-5zM299 115h5v5h-5zM309 120h5v5h-5zM294 125h5v5h-5zM314 125h5v5h-5zM309 130h5v5h-5zM339 145h5v5h-5zM359 150h5v5h-5z"/>
<path fill="#3d4e8a" d="M409 25h5v5h-5zM424 25h5v5h-5zM269 105h5v5h-5zM294 105h5v5h-5zM269 110h5v5h-5zM329 115h5v5h-5zM279 120h5v5h-5zM314 120h5v5h-5zM334 120h5v5h-5zM299 130h5v5h-5zM344 150h5v5h-5zM354 155h5v5h-5zM354 170h5v5h-5z"/>
<path fill="#3b528b" d="M399 35h5v5h-5zM399 40h5v5h-5zM409 50h20v5h-20zM244 65h20v5h-20zM269 100h5v5h-5zM289 100h5v5h-5zM329 110h5v5h-5zM319 115h10v5h-10zM319 120h5v5h-5zM314 130h5v5h-5zM364 130h5v5h-5zM364 135h5v5h-5zM364 140h5v5h-5zM364 150h5v5h-5zM349 155h5v5h-5zM359 155h10v5h-10zM354 160h15v5h-15zM354 165h15v5h-15zM349 170h5v5h-5zM359 170h10v5h-10z"/>
<path fill="#39558c" d="M254 60h5v5h-5zM244 70h20v5h-20zM274 95h5v5h-5zM349 105h5v5h-5zM324 110h5v5h-5zM359 110h5v5h-5zM324 120h10v5h-10zM289 125h5v5h-5zM319 125h5v5h-5zM334 125h5v5h-5zM364 125h5v5h-5zM334 130h5v5h-5zM334 135h5v5h-5zM334 140h5v5h-5zM364 145h5v5h-5zM349 160h5v5h-5zM349 165h5v5h-5z"/>
<path fill="#38598c" d="M404 25h5v5h-5zM399 30h5v5h-5zM399 45h5v5h-5zM404 50h5v5h-5zM244 60h10v5h-10zM259 60h5v5h-5zM264 65h5v5h-5zM269 95h5v5h-5zM279 95h5v5h-5zM344 105h5v5h-5zM299 110h5v5h-5zM269 115h5v5h-5zM304 115h5v5h-5zM314 115h5v5h-5zM274 120h5v5h-5zM364 120h5v5h-5zM304 135h10v5h-10zM334 145h5v5h-5zM339 150h5v5h-5zM344 155h5v5h-5zM369 155h5v5h-5zM369 160h5v5h-5zM369 165h5v5h-5zM344 170h5v5h-5zM369 170h5v5h-5z"/>
<path fill="#365c8d" d="M409 55h20v5h-20zM264 60h5v5h-5zM264 70h5v5h-5zM274 90h5v5h-5zM264 100h5v5h-5zM264 105h5v5h-5zM354 105h5v5h-5zM264 110h5v5h-5zM319 110h5v5h-5zM309 115h5v5h-5zM284 125h5v5h-5zM324 125h5v5h-5zM294 130h5v5h-5zM319 130h5v5h-5zM314 135h5v5h-5zM369 150h5v5h-5zM344 160h5v5h-5zM374 160h5v5h-5zM344 165h5v5h-5z"/>
<path fill="#355f8d" d="M399 50h5v5h-5zM244 55h20v5h-20zM414 60h10v5h-10zM269 65h5v5h-5zM269 70h5v5h-5zM244 75h25v5h-25zM269 90h5v5h-5zM264 95h5v5h-5zM284 95h5v5h-5zM339 105h5v5h-5zM279 125h5v5h-5zM329 125h5v5h-5zM299 135h5v5h-5zM329 135h5v5h-5zM329 140h5v5h-5zM369 145h5v5h-5zM334 150h5v5h-5zM339 155h5v5h-5zM374 155h5v5h-5zM374 165h5v5h-5zM339 170h5v5h-5zM374 170h5v5h-5z"/>
<path fill="#33638d" d="M264 40h10v5h-10zM394 40h5v5h-5zM269 45h5v5h-5zM394 45h5v5h-5zM264 55h5v5h-5zM404 55h5v5h-5zM269 60h5v5h-5zM409 60h5v5h-5zM424 60h5v5h-5zM269 75h5v5h-5zM269 85h10v5h-10zM264 90h5v5h-5zM279 90h5v5h-5zM294 100h5v5h-5zM264 115h5v5h-5zM364 115h5v5h-5zM269 120h5v5h-5zM324 130h10v5h-10zM319 135h10v5h-10zM329 145h5v5h-5zM374 150h5v5h-5zM309 155h5v5h-5zM309 160h10v5h-10zM339 160h5v5h-5zM309 165h10v5h-10zM339 165h5v5h-5zM309 170h5v5h-5z"/>
<path fill="#31668e" d="M409 20h20v5h-20zM399 25h5v5h-5zM269 35h5v5h-5zM319 35h10v5h-10zM394 35h5v5h-5zM244 40h20v5h-20zM274 40h5v5h-5zM319 40h10v5h-10zM244 45h25v5h-25zM274 45h5v5h-5zM244 50h30v5h-30zM394 50h5v5h-5zM269 55h5v5h-5zM399 55h5v5h-5zM404 60h5v5h-5zM274 65h5v5h-5zM409 65h20v5h-20zM244 80h35v5h-35zM264 85h5v5h-5zM394 90h10v5h-10zM244 95h5v5h-5zM259 95h5v5h-5zM394 95h35v5h-35zM244 100h10v5h-10zM259 100h5v5h-5zM244 105h10v5h-10zM259 105h5v5h-5zM299 105h5v5h-5zM334 105h5v5h-5zM359 105h5v5h-5zM244 110h5v5h-5zM259 110h5v5h-5zM314 110h5v5h-5zM274 125h5v5h-5zM289 130h5v5h-5zM369 135h5v5h-5zM304 140h25v5h-25zM369 140h5v5h-5zM324 145h5v5h-5zM309 150h10v5h-10zM324 150h10v5h-10zM304 155h5v5h-5zM314 155h10v5h-10zM334 155h5v5h-5zM379 155h5v5h-5zM304 160h5v5h-5zM319 160h5v5h-5zM379 160h5v5h-5zM304 165h5v5h-5zM319 165h5v5h-5zM379 165h5v5h-5zM304 170h5v5h-5zM314 170h10v5h-10zM334 170h5v5h-5zM379 170h5v5h-5z"/>
<path fill="#30698e" d="M264 35h5v5h-5zM274 35h5v5h-5zM274 50h5v5h-5zM274 55h5v5h-5zM274 60h5v5h-5zM274 70h5v5h-5zM274 75h5v5h-5zM244 85h10v5h-10zM259 85h5v5h-5zM279 85h5v5h-5zM244 90h20v5h-20zM404 90h5v5h-5zM249 95h10v5h-10zM289 95h5v5h-5zM254 100h5v5h-5zM409 100h20v5h-20zM254 105h5v5h-5zM329 105h5v5h-5zM249 110h10v5h-10zM304 110h5v5h-5zM364 110h5v5h-5zM284 130h5v5h-5zM369 130h5v5h-5zM294 135h5v5h-5zM309 145h15v5h-15zM374 145h5v5h-5zM304 150h5v5h-5zM319 150h5v5h-5zM324 155h10v5h-10zM324 160h15v5h-15zM324 165h15v5h-15zM324 170h10v5h-10z"/>
<path fill="#2f6c8e" d="M404 20h5v5h-5zM319 30h10v5h-10zM394 30h5v5h-5zM244 35h5v5h-5zM259 35h5v5h-5zM319 45h5v5h-5zM389 50h5v5h-5zM394 55h5v5h-5zM399 60h5v5h-5zM404 65h5v5h-5zM414 70h10v5h-10zM279 80h5v5h-5zM254 85h5v5h-5zM284 90h5v5h-5zM389 90h5v5h-5zM409 90h20v5h-20zM389 95h5v5h-5zM404 100h5v5h-5zM324 105h5v5h-5zM309 110h5v5h-5zM244 115h20v5h-20zM264 120h5v5h-5zM269 125h5v5h-5zM369 125h5v5h-5zM279 130h5v5h-5zM299 140h5v5h-5zM304 145h5v5h-5zM379 150h5v5h-5zM299 155h5v5h-5zM299 160h5v5h-5zM384 160h5v5h-5zM299 165h5v5h-5zM384 165h5v5h-5zM299 170h5v5h-5z"/>
<path fill="#2e6f8e" d="M249 35h10v5h-10zM324 45h5v5h-5zM389 45h5v5h-5zM389 55h5v5h-5zM279 60h5v5h-5zM279 65h5v5h-5zM279 70h5v5h-5zM409 70h5v5h-5zM424 70h5v5h-5zM279 75h5v5h-5zM394 85h10v5h-10zM414 105h10v5h-10zM244 120h5v5h-5zM259 120h5v5h-5zM369 120h5v5h-5zM274 130h5v5h-5zM299 145h5v5h-5zM299 150h5v5h-5zM384 150h5v5h-5zM384 155h5v5h-5zM384 170h5v5h-5z"/>
<path fill="#2c728e" d="M399 20h5v5h-5zM394 25h5v5h-5zM269 30h5v5h-5zM279 40h5v5h-5zM389 40h5v5h-5zM279 45h5v5h-5zM279 50h5v5h-5zM384 50h5v5h-5zM279 55h5v5h-5zM384 55h5v5h-5zM394 60h5v5h-5zM399 65h5v5h-5zM404 70h5v5h-5zM284 85h5v5h-5zM389 85h5v5h-5zM404 85h10v5h-10zM424 85h5v5h-5zM384 90h5v5h-5zM294 95h5v5h-5zM299 100h5v5h-5zM399 100h5v5h-5zM319 105h5v5h-5zM364 105h5v5h-5zM409 105h5v5h-5zM424 105h5v5h-5zM249 120h10v5h-10zM289 135h5v5h-5zM294 140h5v5h-5zM374 140h5v5h-5zM379 145h5v5h-5zM294 155h5v5h-5zM294 160h5v5h-5zM294 165h5v5h-5zM294 170h5v5h-5z"/>
<path fill="#2b758e" d="M274 30h5v5h-5zM279 35h5v5h-5zM389 35h5v5h-5zM389 60h5v5h-5zM284 75h5v5h-5zM409 75h20v5h-20zM284 80h5v5h-5zM384 85h5v5h-5zM414 85h10v5h-10zM289 90h5v5h-5zM384 95h5v5h-5zM394 100h5v5h-5zM304 105h5v5h-5zM414 110h10v5h-10zM369 115h5v5h-5zM264 125h5v5h-5zM414 125h5v5h-5zM269 130h5v5h-5zM274 135h15v5h-15zM374 135h5v5h-5zM294 145h5v5h-5zM384 145h5v5h-5zM294 150h5v5h-5zM389 150h5v5h-5zM389 155h5v5h-5zM244 160h25v5h-25zM389 160h5v5h-5zM244 165h20v5h-20zM389 165h5v5h-5zM389 170h5v5h-5z"/>
<path fill="#2a788e" d="M409 15h20v5h-20zM394 20h5v5h-5zM319 25h10v5h-10zM264 30h5v5h-5zM389 30h5v5h-5zM329 35h5v5h-5zM329 40h5v5h-5zM384 45h5v5h-5zM319 50h5v5h-5zM379 50h5v5h-5zM379 55h5v5h-5zM284 60h5v5h-5zM379 60h10v5h-10zM284 65h5v5h-5zM374 65h5v5h-5zM394 65h5v5h-5zM284 70h5v5h-5zM399 70h5v5h-5zM404 75h5v5h-5zM389 80h40v5h-40zM379 85h5v5h-5zM379 90h5v5h-5zM354 100h10v5h-10zM314 105h5v5h-5zM369 110h5v5h-5zM409 110h5v5h-5zM424 110h5v5h-5zM414 115h10v5h-10zM414 120h10v5h-10zM244 125h10v5h-10zM259 125h5v5h-5zM409 125h5v5h-5zM419 125h10v5h-10zM409 130h20v5h-20zM399 135h30v5h-30zM274 140h20v5h-20zM379 140h5v5h-5zM394 140h35v5h-35zM274 145h10v5h-10zM389 145h40v5h-40zM274 150h10v5h-10zM394 150h35v5h-35zM244 155h40v5h-40zM289 155h5v5h-5zM394 155h35v5h-35zM269 160h15v5h-15zM289 160h5v5h-5zM394 160h5v5h-5zM404 160h25v5h-25zM264 165h20v5h-20zM289 165h5v5h-5zM394 165h5v5h-5zM404 165h25v5h-25zM244 170h40v5h-40zM289 170h5v5h-5zM394 170h35v5h-35z"/>
<path fill="#297b8e" d="M399 15h10v5h-10zM389 25h5v5h-5zM244 30h5v5h-5zM314 30h5v5h-5zM329 30h5v5h-5zM314 35h5v5h-5zM314 40h5v5h-5zM314 45h5v5h-5zM284 55h5v5h-5zM374 55h5v5h-5zM374 60h5v5h-5zM289 65h5v5h-5zM369 65h5v5h-5zM379 65h15v5h-15zM289 70h5v5h-5zM369 70h15v5h-15zM289 75h5v5h-5zM374 75h10v5h-10zM399 75h5v5h-5zM289 80h5v5h-5zM374 80h15v5h-15zM289 85h5v5h-5zM294 90h5v5h-5zM299 95h5v5h-5zM379 95h5v5h-5zM364 100h5v5h-5zM389 100h5v5h-5zM309 105h5v5h-5zM369 105h5v5h-5zM404 105h5v5h-5zM409 115h5v5h-5zM424 115h5v5h-5zM409 120h5v5h-5zM424 120h5v5h-5zM254 125h5v5h-5zM264 130h5v5h-5zM374 130h5v5h-5zM404 130h5v5h-5zM269 135h5v5h-5zM394 135h5v5h-5zM384 140h10v5h-10zM269 145h5v5h-5zM284 145h10v5h-10zM264 150h10v5h-10zM284 150h10v5h-10zM284 155h5v5h-5zM284 160h5v5h-5zM399 160h5v5h-5zM284 165h5v5h-5zM399 165h5v5h-5zM284 170h5v5h-5z"/>
<path fill="#277e8e" d="M394 15h5v5h-5zM389 20h5v5h-5zM279 30h5v5h-5zM384 40h5v5h-5zM379 45h5v5h-5zM284 50h5v5h-5zM324 50h5v5h-5zM289 60h5v5h-5zM369 60h5v5h-5zM294 65h5v5h-5zM294 70h5v5h-5zM384 70h15v5h-15zM294 75h5v5h-5zM369 75h5v5h-5zM384 75h15v5h-15zM294 80h5v5h-5zM369 80h5v5h-5zM294 85h5v5h-5zM374 85h5v5h-5zM374 90h5v5h-5zM369 95h10v5h-10zM304 100h5v5h-5zM349 100h5v5h-5zM369 100h20v5h-20zM374 125h5v5h-5zM404 125h5v5h-5zM399 130h5v5h-5zM379 135h5v5h-5zM389 135h5v5h-5zM269 140h5v5h-5zM244 150h20v5h-20z"/>
<path fill="#26828e" d="M389 15h5v5h-5zM319 20h10v5h-10zM384 20h5v5h-5zM269 25h10v5h-10zM314 25h5v5h-5zM384 25h5v5h-5zM259 30h5v5h-5zM384 30h5v5h-5zM384 35h5v5h-5zM329 45h5v5h-5zM314 50h5v5h-5zM374 50h5v5h-5zM299 65h5v5h-5zM364 65h5v5h-5zM299 70h5v5h-5zM364 70h5v5h-5zM369 85h5v5h-5zM299 90h5v5h-5zM369 90h5v5h-5zM364 95h5v5h-5zM374 105h5v5h-5zM374 110h5v5h-5zM374 120h5v5h-5zM244 130h20v5h-20zM264 135h5v5h-5zM384 135h5v5h-5zM264 145h5v5h-5z"/>
<path fill="#25848e" d="M394 10h35v5h-35zM329 25h5v5h-5zM249 30h5v5h-5zM284 45h5v5h-5zM289 55h5v5h-5zM369 55h5v5h-5zM294 60h5v5h-5zM299 75h5v5h-5zM364 75h5v5h-5zM299 80h5v5h-5zM364 80h5v5h-5zM299 85h5v5h-5zM364 90h5v5h-5zM344 100h5v5h-5zM399 105h5v5h-5zM404 110h5v5h-5zM374 115h5v5h-5zM394 130h5v5h-5zM264 140h5v5h-5zM244 145h5v5h-5zM259 145h5v5h-5z"/>
<path fill="#24878e" d="M264 -10h10v5h-10zM399 -10h5v5h-5zM264 -5h10v5h-10zM244 0h5v5h-5zM259 0h20v5h-20zM264 5h10v5h-10zM399 5h5v5h-5zM389 10h5v5h-5zM319 15h5v5h-5zM384 15h5v5h-5zM279 25h5v5h-5zM254 30h5v5h-5zM284 40h5v5h-5zM379 40h5v5h-5zM374 45h5v5h-5zM299 60h5v5h-5zM364 60h5v5h-5zM364 85h5v5h-5zM304 95h5v5h-5zM359 95h5v5h-5zM309 100h5v5h-5zM379 105h5v5h-5zM404 120h5v5h-5zM379 130h5v5h-5zM244 135h10v5h-10zM259 135h5v5h-5zM249 145h10v5h-10z"/>
<path fill="#238a8d" d="M244 -10h20v5h-20zM274 -10h5v5h-5zM319 -10h5v5h-5zM394 -10h5v5h-5zM404 -10h25v5h-25zM244 -5h20v5h-20zM274 -5h5v5h-5zM319 -5h5v5h-5zM394 -5h35v5h-35zM249 0h10v5h-10zM319 0h5v5h-5zM394 0h20v5h-20zM424 0h5v5h-5zM244 5h20v5h-20zM274 5h5v5h-5zM319 5h5v5h-5zM394 5h5v5h-5zM404 5h25v5h-25zM264 10h10v5h-10zM319 10h5v5h-5zM324 15h5v5h-5zM269 20h10v5h-10zM314 20h5v5h-5zM329 20h5v5h-5zM264 25h5v5h-5zM379 25h5v5h-5zM284 35h5v5h-5zM379 35h5v5h-5zM369 50h5v5h-5zM304 90h5v5h-5zM314 100h5v5h-5zM339 100h5v5h-5zM384 105h5v5h-5zM404 115h5v5h-5zM399 125h5v5h-5zM384 130h10v5h-10zM254 135h5v5h-5zM244 140h20v5h-20z"/>
<path fill="#228d8d" d="M279 -10h5v5h-5zM314 -10h5v5h-5zM324 -10h5v5h-5zM389 -10h5v5h-5zM279 -5h5v5h-5zM314 -5h5v5h-5zM324 -5h5v5h-5zM389 -5h5v5h-5zM279 0h5v5h-5zM314 0h5v5h-5zM324 0h5v5h-5zM414 0h10v5h-10zM279 5h5v5h-5zM314 5h5v5h-5zM324 5h5v5h-5zM389 5h5v5h-5zM244 10h20v5h-20zM274 10h5v5h-5zM314 10h5v5h-5zM324 10h5v5h-5zM384 10h5v5h-5zM269 15h10v5h-10zM314 15h5v5h-5zM379 20h5v5h-5zM244 25h5v5h-5zM284 30h5v5h-5zM379 30h5v5h-5zM289 50h5v5h-5zM294 55h5v5h-5zM364 55h5v5h-5zM304 60h5v5h-5zM304 65h5v5h-5zM304 70h5v5h-5zM304 85h5v5h-5zM319 100h5v5h-5zM389 105h10v5h-10zM379 110h5v5h-5zM379 125h5v5h-5z"/>
<path fill="#21918c" d="M389 0h5v5h-5zM279 10h5v5h-5zM244 15h5v5h-5zM264 15h5v5h-5zM279 15h5v5h-5zM329 15h5v5h-5zM379 15h5v5h-5zM264 20h5v5h-5zM279 20h5v5h-5zM374 40h5v5h-5zM309 50h5v5h-5zM299 55h20v5h-20zM359 70h5v5h-5zM304 75h5v5h-5zM359 75h5v5h-5zM304 80h5v5h-5zM359 80h5v5h-5zM359 85h5v5h-5zM359 90h5v5h-5zM354 95h5v5h-5zM324 100h15v5h-15z"/>
<path fill="#20938c" d="M309 -10h5v5h-5zM384 -10h5v5h-5zM284 -5h5v5h-5zM309 -5h5v5h-5zM284 0h5v5h-5zM309 0h5v5h-5zM309 5h5v5h-5zM384 5h5v5h-5zM249 15h15v5h-15zM244 20h5v5h-5zM309 20h5v5h-5zM284 25h5v5h-5zM309 25h5v5h-5zM309 30h5v5h-5zM334 30h5v5h-5zM334 35h5v5h-5zM309 45h5v5h-5zM369 45h5v5h-5zM329 50h5v5h-5zM319 55h5v5h-5zM359 60h5v5h-5zM359 65h5v5h-5zM309 95h5v5h-5zM379 115h5v5h-5zM379 120h5v5h-5z"/>
<path fill="#1f968b" d="M284 -10h5v5h-5zM329 -10h5v5h-5zM329 -5h5v5h-5zM384 -5h5v5h-5zM329 0h5v5h-5zM384 0h5v5h-5zM284 5h5v5h-5zM329 5h5v5h-5zM284 10h5v5h-5zM309 10h5v5h-5zM329 10h5v5h-5zM284 15h5v5h-5zM309 15h5v5h-5zM284 20h5v5h-5zM249 25h5v5h-5zM259 25h5v5h-5zM334 25h5v5h-5zM309 35h5v5h-5zM374 35h5v5h-5zM309 40h5v5h-5zM334 40h5v5h-5zM289 45h5v5h-5zM364 50h5v5h-5zM309 60h5v5h-5zM399 110h5v5h-5zM394 125h5v5h-5z"/>
<path fill="#1f998a" d="M289 0h5v5h-5zM304 0h5v5h-5zM379 10h5v5h-5zM249 20h5v5h-5zM259 20h5v5h-5zM334 20h5v5h-5zM374 30h5v5h-5zM294 50h5v5h-5zM359 55h5v5h-5zM384 110h5v5h-5zM399 120h5v5h-5zM384 125h5v5h-5z"/>
<path fill="#1e9c89" d="M289 -10h5v5h-5zM304 -10h5v5h-5zM334 -10h15v5h-15zM379 -10h5v5h-5zM289 -5h5v5h-5zM304 -5h5v5h-5zM334 -5h5v5h-5zM379 -5h5v5h-5zM289 5h5v5h-5zM304 5h5v5h-5zM379 5h5v5h-5zM289 10h5v5h-5zM304 10h5v5h-5zM289 15h5v5h-5zM304 15h5v5h-5zM334 15h5v5h-5zM254 20h5v5h-5zM289 20h5v5h-5zM254 25h5v5h-5zM289 25h5v5h-5zM374 25h5v5h-5zM289 30h5v5h-5zM289 40h5v5h-5zM369 40h5v5h-5zM304 50h5v5h-5zM309 90h5v5h-5zM399 115h5v5h-5zM389 125h5v5h-5z"/>
<path fill="#1fa088" d="M294 -10h10v5h-10zM349 -10h5v5h-5zM294 -5h10v5h-10zM339 -5h10v5h-10zM294 0h10v5h-10zM334 0h5v5h-5zM379 0h5v5h-5zM294 5h10v5h-10zM334 5h5v5h-5zM294 10h10v5h-10zM334 10h5v5h-5zM294 15h5v5h-5zM304 20h5v5h-5zM374 20h5v5h-5zM304 25h5v5h-5zM289 35h5v5h-5zM334 45h5v5h-5zM364 45h5v5h-5zM299 50h5v5h-5zM324 55h5v5h-5zM309 65h5v5h-5zM354 90h5v5h-5zM314 95h5v5h-5zM349 95h5v5h-5z"/>
<path fill="#1fa287" d="M349 -5h5v5h-5zM339 0h5v5h-5zM299 15h5v5h-5zM374 15h5v5h-5zM294 20h10v5h-10zM359 50h5v5h-5zM309 85h5v5h-5zM389 110h10v5h-10zM384 115h5v5h-5z"/>
<path fill="#21a585" d="M354 -10h5v5h-5zM374 -10h5v5h-5zM344 0h5v5h-5zM339 5h5v5h-5zM374 10h5v5h-5zM294 25h10v5h-10zM304 30h5v5h-5zM369 35h5v5h-5zM314 60h5v5h-5zM309 70h5v5h-5zM309 75h5v5h-5zM309 80h5v5h-5zM354 85h5v5h-5zM384 120h5v5h-5z"/>
<path fill="#22a884" d="M354 -5h5v5h-5zM374 -5h5v5h-5zM349 0h5v5h-5zM374 0h5v5h-5zM374 5h5v5h-5zM339 10h5v5h-5zM294 30h5v5h-5zM294 45h5v5h-5zM304 45h5v5h-5zM354 75h5v5h-5zM354 80h5v5h-5z"/>
<path fill="#25ab82" d="M359 -10h5v5h-5zM344 5h5v5h-5zM339 15h5v5h-5zM369 30h5v5h-5zM304 35h5v5h-5zM364 40h5v5h-5zM354 55h5v5h-5zM354 60h5v5h-5zM354 70h5v5h-5zM394 120h5v5h-5z"/>
<path fill="#28ae80" d="M369 -10h5v5h-5zM369 -5h5v5h-5zM339 20h5v5h-5zM299 30h5v5h-5zM294 35h5v5h-5zM294 40h5v5h-5zM304 40h5v5h-5zM299 45h5v5h-5zM334 50h5v5h-5zM354 65h5v5h-5zM319 95h5v5h-5zM344 95h5v5h-5zM389 115h10v5h-10zM389 120h5v5h-5z"/>
<path fill="#2cb17e" d="M364 -10h5v5h-5zM359 -5h5v5h-5zM354 0h5v5h-5zM369 0h5v5h-5zM349 5h5v5h-5zM344 10h5v5h-5zM339 25h5v5h-5zM369 25h5v5h-5zM359 45h5v5h-5zM329 55h5v5h-5zM314 90h5v5h-5z"/>
<path fill="#2fb47c" d="M364 -5h5v5h-5zM369 5h5v5h-5zM339 30h5v5h-5zM299 35h5v5h-5zM354 50h5v5h-5z"/>
<path fill="#34b679" d="M359 0h10v5h-10zM369 10h5v5h-5zM369 15h5v5h-5zM369 20h5v5h-5zM339 35h5v5h-5zM364 35h5v5h-5zM299 40h5v5h-5zM339 40h5v5h-5zM319 60h5v5h-5zM349 90h5v5h-5z"/>
<path fill="#38b977" d="M354 5h5v5h-5zM344 15h5v5h-5zM339 45h5v5h-5zM314 65h5v5h-5zM324 95h5v5h-5zM339 95h5v5h-5z"/>
<path fill="#3fbc73" d="M359 5h10v5h-10zM349 10h5v5h-5zM314 85h5v5h-5z"/>
<path fill="#44bf70" d="M364 30h5v5h-5zM359 40h5v5h-5zM329 95h10v5h-10z"/>
<path fill="#4ac16d" d="M364 10h5v5h-5zM344 20h5v5h-5zM354 45h5v5h-5zM339 50h5v5h-5zM349 55h5v5h-5zM314 80h5v5h-5zM349 85h5v5h-5z"/>
<path fill="#50c46a" d="M354 10h5v5h-5zM349 15h5v5h-5zM349 50h5v5h-5zM334 55h5v5h-5zM349 80h5v5h-5z"/>
<path fill="#56c667" d="M359 10h5v5h-5zM364 15h5v5h-5zM364 25h5v5h-5zM324 60h5v5h-5zM349 60h5v5h-5zM314 70h5v5h-5zM314 75h5v5h-5zM319 90h5v5h-5z"/>
<path fill="#5ec962" d="M364 20h5v5h-5zM344 25h5v5h-5zM359 35h5v5h-5zM344 50h5v5h-5zM349 75h5v5h-5z"/>
<path fill="#65cb5e" d="M344 45h10v5h-10zM349 65h5v5h-5zM349 70h5v5h-5zM344 90h5v5h-5z"/>
<path fill="#6ccd5a" d="M354 15h5v5h-5zM344 30h5v5h-5zM344 40h5v5h-5zM354 40h5v5h-5zM344 55h5v5h-5z"/>
<path fill="#73d056" d="M359 15h5v5h-5zM349 20h5v5h-5zM344 35h5v5h-5zM339 55h5v5h-5z"/>
<path fill="#7ad151" d="M359 30h5v5h-5zM329 60h5v5h-5zM319 65h5v5h-5z"/>
<path fill="#84d44b" d="M359 20h5v5h-5zM319 85h5v5h-5z"/>
<path fill="#8bd646" d="M354 20h5v5h-5zM349 25h5v5h-5zM359 25h5v5h-5zM349 40h5v5h-5zM324 90h5v5h-5z"/>
<path fill="#93d741" d="M354 35h5v5h-5zM344 60h5v5h-5zM344 85h5v5h-5zM339 90h5v5h-5z"/>
<path fill="#9bd93c" d="M354 25h5v5h-5zM349 35h5v5h-5zM319 80h5v5h-5z"/>
<path fill="#a2da37" d="M349 30h10v5h-10zM334 60h5v5h-5zM344 80h5v5h-5zM329 90h10v5h-10z"/>
<path fill="#addc30" d="M319 70h5v5h-5zM319 75h5v5h-5z"/>
<path fill="#b5de2b" d="M339 60h5v5h-5z"/>
<path fill="#bddf26" d="M324 65h5v5h-5zM344 65h5v5h-5zM344 75h5v5h-5z"/>
<path fill="#c5e021" d="M344 70h5v5h-5zM324 85h5v5h-5z"/>
<path fill="#cde11d" d="M339 85h5v5h-5z"/>
<path fill="#e7e419" d="M329 65h5v5h-5zM324 80h5v5h-5zM329 85h10v5h-10z"/>
<path fill="#efe51c" d="M339 80h5v5h-5z"/>
<path fill="#f6e620" d="M334 65h10v5h-10zM324 70h5v5h-5zM324 75h5v5h-5z"/>
<path fill="#fde725" d="M329 70h15v5h-15zM329 75h15v5h-15zM329 80h10v5h-10z"/></g>
<path fill="none" stroke="#fff" stroke-opacity="0.72" stroke-width="0.95" stroke-linejoin="round" d="M380.0,0.8 380.2,3.8 380.0,6.8 379.3,9.8 378.9,11.2 378.0,14.2 377.7,15.8 377.1,18.8 376.6,21.8 376.3,24.8 376.1,26.2 375.8,29.2 375.2,32.2 374.8,34.1 373.9,36.8 373.2,38.2 371.8,41.0 370.8,42.8 369.9,44.2 368.8,46.1 367.2,48.5 366.0,50.2 365.0,51.8 363.9,53.2 362.8,55.1 361.5,57.8 361.0,59.2 360.5,62.2 360.4,65.2 360.5,68.2 360.5,71.2 360.5,74.2 360.5,77.2 360.4,80.2 360.4,83.2 360.4,86.2 360.1,89.2 359.8,90.8 358.6,93.8 357.6,95.2 356.2,96.8 354.1,98.3 352.2,99.2 350.8,99.8 347.8,100.7 345.6,101.2 343.2,101.7 340.2,102.1 337.2,102.4 334.2,102.6 331.2,102.6 328.2,102.5 325.2,102.3 322.2,101.9 319.3,101.2 317.8,100.8 315.6,99.8 313.6,98.2 312.2,96.8 311.2,95.2 310.2,93.4 309.2,90.8 308.8,88.6 308.3,86.2 308.1,83.2 308.1,80.2 308.1,77.2 308.2,74.2 308.6,71.2 308.8,69.8 309.5,66.8 310.2,64.5 311.3,62.2 312.4,60.8 314.7,59.2 316.2,58.7 319.2,58.0 320.8,57.6 323.8,56.8 325.4,56.2 328.2,55.0 329.8,54.0 331.2,52.9 332.8,51.2 334.2,48.9 335.0,47.2 335.8,44.6 336.1,42.8 336.5,39.8 336.8,36.8 336.9,33.8 336.9,30.8 336.8,27.8 336.7,24.8 336.6,21.8 336.5,18.8 336.3,15.8 336.2,12.8 336.2,9.8 336.5,6.8 337.2,3.8 337.9,2.2 338.8,0.8 338.8,0.8 M254.8,21.4 257.8,21.5 259.2,22.0 260.8,23.2 261.3,26.2 260.4,27.8 257.9,29.2 256.2,29.5 254.8,29.4 M298.2,18.3 301.2,18.2 302.8,19.3 304.2,21.0 305.7,23.2 306.4,24.8 307.2,26.3 308.6,29.2 309.2,30.8 310.2,33.4 310.9,35.2 311.7,38.2 312.0,39.8 312.4,42.8 312.4,45.8 312.0,48.8 311.6,50.2 310.3,53.3 309.1,54.8 307.2,55.8 304.2,56.2 301.2,55.8 298.2,54.8 296.8,54.0 295.2,52.9 293.8,51.4 292.2,49.2 291.4,47.2 290.8,45.2 290.4,42.8 290.3,39.8 290.6,36.8 290.8,35.2 291.4,32.2 292.2,29.2 292.7,27.8 293.8,24.8 294.5,23.2 295.2,21.7 296.8,19.6 298.2,18.3 Z M392.8,111.5 395.8,111.7 397.2,112.3 398.8,113.3 400.2,115.2 401.2,117.8 401.1,120.8 400.2,123.0 398.8,125.1 397.2,126.3 395.8,127.1 392.8,127.9 389.8,127.8 387.2,126.8 385.5,125.2 384.7,123.8 384.2,120.8 384.8,117.8 385.5,116.2 386.8,114.6 388.2,113.2 391.2,111.8 392.8,111.5 Z M359.8,3.7 362.8,2.9 365.8,3.2 367.2,4.2 368.8,5.9 370.0,8.2 370.5,9.8 371.2,12.8 371.5,15.8 371.6,18.8 371.5,21.8 371.2,24.8 370.8,27.8 370.2,29.9 369.6,32.2 368.8,34.4 367.8,36.8 367.1,38.2 365.8,40.9 364.7,42.8 363.8,44.2 362.8,45.9 361.2,48.1 359.8,50.2 358.7,51.8 357.8,53.2 356.8,55.6 356.2,57.8 356.1,60.8 356.3,63.8 356.6,66.8 356.8,68.8 356.9,71.2 356.8,74.2 356.8,75.8 356.5,78.8 356.4,81.8 356.2,84.8 355.9,87.8 355.2,90.6 354.6,92.2 353.6,93.8 352.2,95.3 350.3,96.8 347.8,98.0 346.2,98.6 343.2,99.4 341.0,99.8 338.8,100.0 335.8,100.2 332.8,100.2 329.8,100.2 326.8,99.9 325.2,99.6 322.2,98.9 320.7,98.2 318.1,96.8 316.4,95.2 315.2,93.8 314.4,92.2 313.2,89.5 312.8,87.8 312.3,84.8 312.1,81.8 311.9,78.8 311.9,75.8 312.1,72.8 312.7,69.8 313.3,68.2 314.8,65.5 316.2,63.8 317.8,62.6 319.2,61.7 321.3,60.8 323.8,59.8 325.3,59.2 328.2,58.1 329.8,57.4 331.7,56.2 333.7,54.8 335.3,53.2 336.5,51.8 337.4,50.2 338.6,47.2 338.9,45.8 339.5,42.8 339.8,39.8 340.0,36.8 340.2,34.4 340.5,32.2 340.8,29.2 341.3,26.2 341.8,24.0 342.3,21.8 343.2,18.9 343.9,17.2 344.8,15.6 346.2,13.2 347.8,11.5 349.2,10.1 350.8,8.9 352.2,7.9 354.0,6.8 356.6,5.2 358.2,4.4 359.8,3.7 Z M299.8,35.8 302.8,35.5 304.8,36.8 306.1,38.2 307.2,40.7 307.6,42.8 307.3,45.8 306.5,47.2 304.8,48.8 302.8,49.3 300.2,48.8 298.2,47.4 297.1,45.8 296.5,44.2 296.2,41.2 296.8,39.1 298.2,36.8 299.8,35.8 Z M356.8,15.4 359.8,15.1 361.8,15.8 363.6,17.2 364.5,18.8 365.4,21.8 365.5,24.8 365.1,27.8 364.4,30.8 364.0,32.2 362.9,35.2 362.2,36.8 361.2,38.7 359.8,41.2 358.9,42.8 357.8,44.2 356.6,45.8 355.2,47.3 353.8,49.0 352.2,50.9 351.0,53.2 350.7,54.8 350.8,57.3 351.1,59.2 351.8,62.2 352.2,64.2 352.8,66.8 353.2,69.8 353.3,72.8 353.1,75.8 352.8,78.8 352.5,81.8 352.2,84.5 352.0,86.2 351.3,89.2 350.6,90.8 349.2,92.7 347.8,94.1 345.9,95.2 343.2,96.3 341.6,96.8 338.8,97.2 335.8,97.4 332.8,97.4 329.8,97.2 326.8,96.8 325.2,96.3 322.8,95.2 320.8,93.8 319.2,92.3 318.2,90.8 317.5,89.2 316.5,86.2 316.2,84.7 315.9,81.8 315.6,78.8 315.6,75.8 315.8,72.8 316.2,71.1 317.5,68.2 318.6,66.8 320.2,65.2 322.2,63.9 323.8,63.1 325.8,62.2 328.2,61.3 329.8,60.7 332.8,59.3 334.2,58.5 335.8,57.6 337.7,56.2 339.6,54.8 341.2,53.3 342.3,51.8 343.2,49.3 343.6,47.2 343.8,44.2 343.9,41.2 344.0,38.2 344.3,35.2 344.7,32.2 345.1,30.8 346.0,27.8 346.5,26.2 347.8,23.7 349.0,21.8 350.1,20.2 351.5,18.8 353.3,17.2 355.2,16.1 356.8,15.4 Z M355.2,27.3 356.8,27.9 357.5,30.8 357.0,33.8 356.4,35.2 355.2,37.4 353.8,39.0 352.2,39.8 350.8,39.3 349.9,36.8 350.2,33.8 350.7,31.9 352.2,29.3 353.8,27.9 355.2,27.3 Z M337.2,60.7 340.2,59.7 343.2,59.4 345.8,60.8 347.0,62.2 347.9,63.7 349.2,66.8 349.5,68.2 349.9,71.2 349.9,74.2 349.6,77.2 349.2,79.9 349.0,81.8 348.6,84.8 347.8,87.7 347.0,89.2 345.8,90.8 344.0,92.2 341.8,93.4 340.2,93.8 337.2,94.3 334.2,94.4 331.2,94.3 328.2,93.8 326.8,93.3 324.7,92.2 322.9,90.8 321.7,89.2 320.8,87.4 319.9,84.8 319.4,81.8 319.2,80.2 319.0,77.2 319.1,74.2 319.3,72.8 320.6,69.8 321.7,68.2 323.5,66.8 325.2,65.7 326.8,64.9 329.7,63.8 331.2,63.1 333.6,62.2 335.8,61.3 337.2,60.7 Z M335.8,64.9 338.8,64.2 341.8,64.4 343.4,65.2 344.8,66.8 346.2,69.8 346.5,71.2 346.6,74.2 346.2,77.0 345.9,78.8 345.3,81.8 344.8,83.9 343.9,86.2 342.9,87.8 341.2,89.2 338.8,90.4 336.7,90.8 334.2,90.9 332.3,90.8 329.8,90.3 327.5,89.2 325.7,87.8 324.7,86.2 323.8,84.0 323.2,81.8 322.7,78.8 322.6,75.8 323.2,72.8 324.0,71.2 325.3,69.7 327.2,68.2 329.8,67.0 331.2,66.4 334.2,65.3 335.8,64.9 Z"/>
<ellipse cx="334.2" cy="79.9" rx="17.5" ry="16.5" transform="rotate(-45.0 334.2 79.9)" fill="none" stroke="#e0442c" stroke-width="1"/>
<path d="M331.3 79.3h4.6M333.6 77.0v4.6" stroke="#f05a28" stroke-width="0.9"/>
<path d="M334.9 80.3l4.6 4.6M339.5 80.3l-4.6 4.6" stroke="#3446a8" stroke-width="0.9"/>
<ellipse cx="274.3" cy="144.0" rx="16.8" ry="11.6" transform="rotate(-42.0 274.3 144.0)" fill="#fff"/>
</g>
<rect x="254.5" y="0.5" width="165" height="165" fill="none" stroke="#1a1a1a" stroke-width="1"/>
<text x="270.9" y="16.2" font-size="10.20" fill="#f4f4f4" stroke="#2a2a2a" stroke-width="1.7" paint-order="stroke" stroke-linejoin="round" textLength="34.7" lengthAdjust="spacingAndGlyphs">Line 15</text>
<text x="271.0" y="26.5" font-size="10.20" fill="#f4f4f4" stroke="#2a2a2a" stroke-width="1.7" paint-order="stroke" stroke-linejoin="round" textLength="47" lengthAdjust="spacingAndGlyphs">CH<tspan font-size="7.4" dy="2.3">3</tspan><tspan dy="-2.3">OCHO</tspan></text>
<text x="353.3" y="15.8" font-size="10.20" fill="#f4f4f4" stroke="#2a2a2a" stroke-width="1.7" paint-order="stroke" stroke-linejoin="round" textLength="63.0" lengthAdjust="spacingAndGlyphs">0.43″ × 0.38″</text>
<text x="353.3" y="26.3" font-size="10.20" fill="#f4f4f4" stroke="#2a2a2a" stroke-width="1.7" paint-order="stroke" stroke-linejoin="round" textLength="58.7" lengthAdjust="spacingAndGlyphs">PA=142.97 °</text>
<text x="322.6" y="148.9" font-size="10.4" fill="#fff" textLength="80.8" lengthAdjust="spacingAndGlyphs">356712.809 MHz</text>
<g clip-path="url(#cp2)">
<g filter="url(#bl)"><path fill="#440154" d="M584 -10h5v5h-5zM584 -5h10v5h-10zM584 0h10v5h-10zM584 5h5v5h-5zM474 25h10v5h-10zM474 30h10v5h-10z"/>
<path fill="#450559" d="M589 -10h5v5h-5zM589 5h5v5h-5zM584 10h5v5h-5zM469 25h5v5h-5zM484 25h5v5h-5zM469 30h5v5h-5zM484 30h5v5h-5zM539 60h5v5h-5zM539 65h5v5h-5z"/>
<path fill="#460a5d" d="M579 -10h5v5h-5zM594 -10h5v5h-5zM579 -5h5v5h-5zM594 -5h5v5h-5zM579 0h5v5h-5zM594 0h5v5h-5zM579 5h5v5h-5zM594 5h5v5h-5zM589 10h5v5h-5zM474 20h10v5h-10zM474 35h10v5h-10z"/>
<path fill="#470e61" d="M579 10h5v5h-5zM594 10h5v5h-5zM534 60h5v5h-5zM544 65h5v5h-5z"/>
<path fill="#471365" d="M579 15h20v5h-20zM469 35h5v5h-5zM534 65h5v5h-5zM484 120h5v5h-5z"/>
<path fill="#48186a" d="M469 20h5v5h-5zM484 20h5v5h-5zM489 25h5v5h-5zM489 30h5v5h-5zM484 35h5v5h-5zM534 55h10v5h-10zM544 60h5v5h-5zM539 70h5v5h-5zM489 115h5v5h-5zM479 120h5v5h-5zM489 120h5v5h-5z"/>
<path fill="#481c6e" d="M574 10h5v5h-5zM519 15h5v5h-5zM574 15h5v5h-5zM544 70h5v5h-5zM439 85h10v5h-10zM439 90h10v5h-10zM484 115h5v5h-5zM494 115h5v5h-5zM494 120h5v5h-5z"/>
<path fill="#482071" d="M444 -5h5v5h-5zM444 0h5v5h-5zM519 10h5v5h-5zM464 25h5v5h-5zM464 30h5v5h-5zM434 90h5v5h-5zM434 95h10v5h-10zM479 115h5v5h-5zM499 115h5v5h-5zM479 125h10v5h-10zM534 160h5v5h-5zM534 165h5v5h-5z"/>
<path fill="#482475" d="M444 -10h5v5h-5zM519 -10h5v5h-5zM574 -10h5v5h-5zM439 -5h5v5h-5zM449 -5h5v5h-5zM519 -5h5v5h-5zM574 -5h5v5h-5zM439 0h5v5h-5zM449 0h5v5h-5zM574 0h5v5h-5zM519 5h5v5h-5zM574 5h5v5h-5zM474 15h10v5h-10zM514 15h5v5h-5zM569 15h5v5h-5zM489 20h5v5h-5zM519 20h5v5h-5zM564 20h35v5h-35zM489 35h5v5h-5zM544 35h10v5h-10zM534 50h5v5h-5zM544 55h5v5h-5zM549 65h5v5h-5zM444 80h5v5h-5zM564 80h5v5h-5zM414 95h20v5h-20zM444 95h5v5h-5zM504 115h5v5h-5zM474 120h5v5h-5zM499 120h5v5h-5zM474 125h5v5h-5zM489 125h5v5h-5zM534 155h5v5h-5zM529 160h5v5h-5zM539 160h5v5h-5zM529 165h5v5h-5zM539 165h5v5h-5zM534 170h5v5h-5z"/>
<path fill="#482878" d="M439 -10h5v5h-5zM449 -10h5v5h-5zM519 0h5v5h-5zM444 5h10v5h-10zM524 10h5v5h-5zM524 15h5v5h-5zM464 20h5v5h-5zM514 20h5v5h-5zM559 20h5v5h-5zM494 25h5v5h-5zM494 30h5v5h-5zM549 30h5v5h-5zM464 35h5v5h-5zM539 40h10v5h-10zM539 50h5v5h-5zM534 70h5v5h-5zM549 70h5v5h-5zM439 80h5v5h-5zM559 80h5v5h-5zM569 80h5v5h-5zM434 85h5v5h-5zM449 85h5v5h-5zM414 90h10v5h-10zM429 90h5v5h-5zM449 90h5v5h-5zM414 100h25v5h-25zM529 155h5v5h-5zM539 155h5v5h-5zM529 170h5v5h-5zM539 170h5v5h-5z"/>
<path fill="#472d7b" d="M524 -10h5v5h-5zM524 -5h5v5h-5zM434 0h5v5h-5zM454 0h5v5h-5zM524 0h5v5h-5zM439 5h5v5h-5zM524 5h5v5h-5zM514 10h5v5h-5zM469 15h5v5h-5zM484 15h5v5h-5zM564 15h5v5h-5zM554 25h15v5h-15zM544 30h5v5h-5zM554 30h5v5h-5zM539 35h5v5h-5zM474 40h10v5h-10zM549 40h5v5h-5zM539 45h5v5h-5zM529 55h5v5h-5zM529 60h5v5h-5zM549 60h5v5h-5zM559 75h5v5h-5zM564 85h5v5h-5zM424 90h5v5h-5zM439 100h5v5h-5zM484 110h15v5h-15zM474 115h5v5h-5zM504 120h5v5h-5zM494 125h5v5h-5zM524 160h5v5h-5zM544 160h5v5h-5zM544 165h5v5h-5z"/>
<path fill="#46307e" d="M454 -10h5v5h-5zM434 -5h5v5h-5zM454 -5h5v5h-5zM454 5h5v5h-5zM569 10h5v5h-5zM494 20h5v5h-5zM524 20h5v5h-5zM554 20h5v5h-5zM549 25h5v5h-5zM554 35h5v5h-5zM469 40h5v5h-5zM534 45h5v5h-5zM544 45h5v5h-5zM544 50h5v5h-5zM554 70h5v5h-5zM544 75h15v5h-15zM564 75h5v5h-5zM434 80h5v5h-5zM449 80h5v5h-5zM554 80h5v5h-5zM414 85h5v5h-5zM429 85h5v5h-5zM559 85h5v5h-5zM569 85h5v5h-5zM449 95h5v5h-5zM444 100h5v5h-5zM414 105h20v5h-20zM479 110h5v5h-5zM499 110h5v5h-5zM509 115h5v5h-5zM469 125h5v5h-5zM524 155h5v5h-5zM544 155h5v5h-5zM524 165h5v5h-5zM524 170h5v5h-5zM544 170h5v5h-5z"/>
<path fill="#463480" d="M434 -10h5v5h-5zM414 0h5v5h-5zM464 15h5v5h-5zM489 15h5v5h-5zM559 15h5v5h-5zM509 20h5v5h-5zM499 25h5v5h-5zM569 25h5v5h-5zM559 30h5v5h-5zM494 35h5v5h-5zM484 40h5v5h-5zM534 40h5v5h-5zM529 50h5v5h-5zM444 75h5v5h-5zM569 75h5v5h-5zM574 80h5v5h-5zM419 85h10v5h-10zM574 85h5v5h-5zM434 105h5v5h-5zM504 110h5v5h-5zM469 120h5v5h-5zM499 125h5v5h-5zM474 130h10v5h-10zM529 150h15v5h-15z"/>
<path fill="#453882" d="M514 -10h5v5h-5zM414 -5h10v5h-10zM429 -5h5v5h-5zM514 -5h5v5h-5zM419 0h15v5h-15zM434 5h5v5h-5zM514 5h5v5h-5zM509 15h5v5h-5zM574 25h5v5h-5zM499 30h5v5h-5zM539 30h5v5h-5zM464 40h5v5h-5zM554 40h5v5h-5zM549 45h5v5h-5zM549 55h5v5h-5zM554 65h5v5h-5zM439 75h5v5h-5zM539 75h5v5h-5zM439 105h5v5h-5zM509 110h5v5h-5zM509 120h5v5h-5zM484 130h5v5h-5zM544 150h5v5h-5zM584 155h10v5h-10zM474 160h5v5h-5zM519 160h5v5h-5zM584 160h10v5h-10zM474 165h5v5h-5zM584 165h10v5h-10zM584 170h10v5h-10z"/>
<path fill="#443b84" d="M414 -10h5v5h-5zM429 -10h5v5h-5zM459 -10h5v5h-5zM424 -5h5v5h-5zM459 -5h5v5h-5zM459 0h5v5h-5zM514 0h5v5h-5zM414 5h5v5h-5zM459 5h5v5h-5zM449 10h15v5h-15zM554 15h5v5h-5zM499 20h10v5h-10zM549 20h5v5h-5zM459 25h5v5h-5zM504 25h20v5h-20zM544 25h5v5h-5zM579 25h20v5h-20zM459 30h5v5h-5zM534 35h5v5h-5zM489 40h5v5h-5zM529 45h5v5h-5zM549 50h5v5h-5zM529 65h5v5h-5zM559 70h5v5h-5zM449 75h5v5h-5zM574 75h5v5h-5zM414 80h5v5h-5zM429 80h5v5h-5zM549 80h5v5h-5zM579 80h5v5h-5zM594 80h5v5h-5zM454 85h5v5h-5zM554 85h5v5h-5zM579 85h5v5h-5zM589 85h10v5h-10zM454 90h5v5h-5zM414 110h20v5h-20zM474 110h5v5h-5zM514 115h5v5h-5zM504 125h5v5h-5zM469 130h5v5h-5zM489 130h5v5h-5zM524 150h5v5h-5zM474 155h5v5h-5zM519 155h5v5h-5zM549 155h5v5h-5zM579 155h5v5h-5zM594 155h5v5h-5zM469 160h5v5h-5zM479 160h5v5h-5zM549 160h5v5h-5zM579 160h5v5h-5zM594 160h5v5h-5zM469 165h5v5h-5zM519 165h5v5h-5zM549 165h5v5h-5zM579 165h5v5h-5zM594 165h5v5h-5zM474 170h5v5h-5zM519 170h5v5h-5zM549 170h5v5h-5zM579 170h5v5h-5zM594 170h5v5h-5z"/>
<path fill="#424086" d="M419 -10h10v5h-10zM529 -10h5v5h-5zM569 -10h5v5h-5zM529 -5h5v5h-5zM569 -5h5v5h-5zM529 0h5v5h-5zM419 5h15v5h-15zM529 5h5v5h-5zM569 5h5v5h-5zM444 10h5v5h-5zM464 10h25v5h-25zM529 10h5v5h-5zM564 10h5v5h-5zM459 15h5v5h-5zM494 15h5v5h-5zM529 15h5v5h-5zM459 20h5v5h-5zM459 35h5v5h-5zM554 45h5v5h-5zM554 60h5v5h-5zM434 75h5v5h-5zM579 75h5v5h-5zM594 75h5v5h-5zM419 80h10v5h-10zM454 80h5v5h-5zM584 80h10v5h-10zM584 85h5v5h-5zM564 90h15v5h-15zM449 100h5v5h-5zM434 110h5v5h-5zM514 110h5v5h-5zM469 115h5v5h-5zM549 150h5v5h-5zM579 150h20v5h-20zM469 155h5v5h-5zM479 155h5v5h-5zM479 165h5v5h-5zM469 170h5v5h-5zM479 170h5v5h-5z"/>
<path fill="#414487" d="M569 0h5v5h-5zM529 20h5v5h-5zM524 25h5v5h-5zM534 30h5v5h-5zM564 30h5v5h-5zM499 35h5v5h-5zM559 35h5v5h-5zM554 50h5v5h-5zM554 55h5v5h-5zM564 70h5v5h-5zM414 75h5v5h-5zM429 75h5v5h-5zM584 75h10v5h-10zM559 90h5v5h-5zM579 90h20v5h-20zM454 95h5v5h-5zM444 105h5v5h-5zM519 110h5v5h-5zM414 115h20v5h-20zM519 115h5v5h-5zM514 120h5v5h-5zM464 125h5v5h-5zM464 130h5v5h-5zM494 130h5v5h-5zM529 145h15v5h-15zM519 150h5v5h-5zM514 155h5v5h-5zM574 155h5v5h-5zM514 160h5v5h-5zM574 160h5v5h-5zM514 165h5v5h-5zM574 165h5v5h-5zM514 170h5v5h-5zM574 170h5v5h-5z"/>
<path fill="#3f4788" d="M464 -10h5v5h-5zM464 -5h5v5h-5zM464 5h5v5h-5zM439 10h5v5h-5zM489 10h5v5h-5zM509 10h5v5h-5zM559 10h5v5h-5zM454 15h5v5h-5zM504 15h5v5h-5zM549 15h5v5h-5zM544 20h5v5h-5zM539 25h5v5h-5zM504 30h5v5h-5zM459 40h5v5h-5zM494 40h5v5h-5zM529 40h5v5h-5zM559 40h5v5h-5zM524 50h5v5h-5zM559 65h5v5h-5zM439 70h15v5h-15zM569 70h10v5h-10zM419 75h10v5h-10zM454 75h5v5h-5zM544 80h5v5h-5zM549 85h5v5h-5zM554 90h5v5h-5zM479 105h10v5h-10zM439 110h5v5h-5zM419 120h10v5h-10zM464 120h5v5h-5zM509 125h5v5h-5zM469 135h10v5h-10zM524 145h5v5h-5zM544 145h10v5h-10zM579 145h20v5h-20zM469 150h10v5h-10zM554 150h5v5h-5zM574 150h5v5h-5zM464 155h5v5h-5zM554 155h5v5h-5zM464 160h5v5h-5zM484 160h5v5h-5zM554 160h5v5h-5zM464 165h5v5h-5zM484 165h5v5h-5zM554 165h5v5h-5zM464 170h5v5h-5zM554 170h5v5h-5z"/>
<path fill="#3e4a89" d="M464 0h5v5h-5zM554 10h5v5h-5zM499 15h5v5h-5zM529 25h10v5h-10zM569 30h5v5h-5zM464 45h5v5h-5zM559 45h5v5h-5zM559 50h5v5h-5zM524 55h5v5h-5zM414 70h5v5h-5zM429 70h10v5h-10zM454 70h5v5h-5zM579 70h20v5h-20zM534 75h5v5h-5zM489 105h5v5h-5zM524 110h5v5h-5zM434 115h5v5h-5zM524 115h5v5h-5zM414 120h5v5h-5zM429 120h5v5h-5zM519 120h5v5h-5zM499 130h5v5h-5zM464 135h5v5h-5zM479 135h5v5h-5zM519 145h5v5h-5zM554 145h5v5h-5zM574 145h5v5h-5zM464 150h5v5h-5zM479 150h5v5h-5zM514 150h5v5h-5zM484 155h5v5h-5zM509 155h5v5h-5zM509 160h5v5h-5zM509 165h5v5h-5zM484 170h5v5h-5zM509 170h5v5h-5z"/>
<path fill="#3d4e8a" d="M469 -10h5v5h-5zM484 -10h5v5h-5zM469 5h5v5h-5zM484 5h5v5h-5zM414 10h5v5h-5zM434 10h5v5h-5zM549 10h5v5h-5zM509 30h5v5h-5zM529 30h5v5h-5zM529 35h5v5h-5zM459 45h5v5h-5zM469 45h10v5h-10zM524 45h5v5h-5zM449 55h10v5h-10zM559 55h5v5h-5zM559 60h5v5h-5zM454 65h5v5h-5zM419 70h10v5h-10zM459 90h5v5h-5zM549 90h5v5h-5zM454 100h5v5h-5zM449 105h5v5h-5zM474 105h5v5h-5zM469 110h5v5h-5zM529 115h5v5h-5zM524 120h10v5h-10zM424 125h5v5h-5zM514 125h5v5h-5zM459 130h5v5h-5zM504 130h5v5h-5zM459 135h5v5h-5zM449 140h5v5h-5zM524 140h5v5h-5zM469 145h5v5h-5zM559 145h15v5h-15zM559 150h5v5h-5zM569 150h5v5h-5zM559 155h5v5h-5zM569 155h5v5h-5zM489 160h5v5h-5zM504 160h5v5h-5zM559 160h5v5h-5zM569 160h5v5h-5zM489 165h5v5h-5zM504 165h5v5h-5zM559 165h5v5h-5zM569 165h5v5h-5zM559 170h5v5h-5zM569 170h5v5h-5z"/>
<path fill="#3b528b" d="M474 -10h10v5h-10zM489 -10h5v5h-5zM509 -10h5v5h-5zM534 -10h5v5h-5zM549 -10h5v5h-5zM564 -10h5v5h-5zM469 -5h5v5h-5zM484 -5h5v5h-5zM534 -5h5v5h-5zM549 -5h5v5h-5zM469 0h5v5h-5zM484 0h5v5h-5zM534 0h5v5h-5zM549 0h5v5h-5zM474 5h10v5h-10zM489 5h5v5h-5zM509 5h5v5h-5zM534 5h5v5h-5zM549 5h5v5h-5zM564 5h5v5h-5zM419 10h15v5h-15zM494 10h5v5h-5zM534 10h5v5h-5zM449 15h5v5h-5zM544 15h5v5h-5zM534 20h10v5h-10zM574 30h5v5h-5zM504 35h5v5h-5zM564 35h5v5h-5zM479 45h5v5h-5zM449 50h15v5h-15zM564 50h5v5h-5zM444 55h5v5h-5zM449 60h10v5h-10zM414 65h40v5h-40zM459 65h5v5h-5zM564 65h5v5h-5zM579 65h20v5h-20zM459 70h5v5h-5zM529 70h5v5h-5zM459 75h5v5h-5zM459 80h5v5h-5zM539 80h5v5h-5zM459 85h5v5h-5zM544 85h5v5h-5zM459 95h5v5h-5zM549 95h50v5h-50zM549 100h5v5h-5zM494 105h5v5h-5zM544 105h10v5h-10zM444 110h5v5h-5zM529 110h5v5h-5zM544 110h10v5h-10zM534 115h5v5h-5zM434 120h5v5h-5zM534 120h5v5h-5zM414 125h10v5h-10zM429 125h5v5h-5zM459 125h5v5h-5zM519 125h20v5h-20zM509 130h5v5h-5zM529 130h5v5h-5zM454 135h5v5h-5zM484 135h5v5h-5zM444 140h5v5h-5zM454 140h25v5h-25zM519 140h5v5h-5zM529 140h70v5h-70zM449 145h20v5h-20zM474 145h5v5h-5zM514 145h5v5h-5zM459 150h5v5h-5zM509 150h5v5h-5zM564 150h5v5h-5zM459 155h5v5h-5zM489 155h5v5h-5zM504 155h5v5h-5zM564 155h5v5h-5zM459 160h5v5h-5zM494 160h10v5h-10zM564 160h5v5h-5zM459 165h5v5h-5zM494 165h10v5h-10zM564 165h5v5h-5zM459 170h5v5h-5zM489 170h5v5h-5zM504 170h5v5h-5zM564 170h5v5h-5z"/>
<path fill="#39558c" d="M539 -10h10v5h-10zM554 -10h5v5h-5zM474 -5h10v5h-10zM489 -5h5v5h-5zM509 -5h5v5h-5zM539 -5h10v5h-10zM554 -5h5v5h-5zM564 -5h5v5h-5zM479 0h5v5h-5zM489 0h5v5h-5zM539 0h10v5h-10zM539 5h10v5h-10zM554 5h5v5h-5zM544 10h5v5h-5zM534 15h5v5h-5zM454 20h5v5h-5zM514 30h15v5h-15zM579 30h20v5h-20zM499 40h5v5h-5zM564 40h5v5h-5zM454 45h5v5h-5zM484 45h5v5h-5zM564 45h5v5h-5zM459 55h5v5h-5zM564 55h5v5h-5zM414 60h10v5h-10zM439 60h10v5h-10zM459 60h5v5h-5zM564 60h5v5h-5zM569 65h10v5h-10zM544 90h5v5h-5zM544 95h5v5h-5zM544 100h5v5h-5zM554 100h5v5h-5zM499 105h5v5h-5zM514 105h10v5h-10zM539 105h5v5h-5zM554 105h5v5h-5zM534 110h10v5h-10zM554 110h5v5h-5zM439 115h5v5h-5zM464 115h5v5h-5zM539 115h10v5h-10zM539 120h5v5h-5zM514 130h15v5h-15zM534 130h5v5h-5zM444 135h10v5h-10zM489 135h5v5h-5zM519 135h20v5h-20zM444 145h5v5h-5zM479 145h5v5h-5zM484 150h5v5h-5zM494 155h10v5h-10zM494 170h10v5h-10z"/>
<path fill="#38598c" d="M559 -10h5v5h-5zM474 0h5v5h-5zM509 0h5v5h-5zM554 0h5v5h-5zM564 0h5v5h-5zM559 5h5v5h-5zM504 10h5v5h-5zM539 10h5v5h-5zM539 15h5v5h-5zM454 40h5v5h-5zM524 40h5v5h-5zM444 50h5v5h-5zM464 50h5v5h-5zM569 50h5v5h-5zM439 55h5v5h-5zM569 55h5v5h-5zM424 60h15v5h-15zM569 60h30v5h-30zM464 65h5v5h-5zM464 70h5v5h-5zM459 100h5v5h-5zM539 100h5v5h-5zM559 100h5v5h-5zM469 105h5v5h-5zM504 105h10v5h-10zM524 105h15v5h-15zM559 105h5v5h-5zM549 115h5v5h-5zM459 120h5v5h-5zM434 125h5v5h-5zM539 125h5v5h-5zM414 130h20v5h-20zM454 130h5v5h-5zM539 130h5v5h-5zM439 135h5v5h-5zM514 135h5v5h-5zM539 135h5v5h-5zM559 135h15v5h-15zM439 140h5v5h-5zM479 140h5v5h-5zM514 140h5v5h-5zM454 150h5v5h-5zM504 150h5v5h-5z"/>
<path fill="#365c8d" d="M494 -10h5v5h-5zM559 -5h5v5h-5zM559 0h5v5h-5zM494 5h5v5h-5zM499 10h5v5h-5zM454 25h5v5h-5zM454 35h5v5h-5zM524 35h5v5h-5zM569 35h5v5h-5zM489 45h5v5h-5zM519 50h5v5h-5zM414 55h10v5h-10zM434 55h5v5h-5zM574 55h5v5h-5zM464 60h5v5h-5zM524 60h5v5h-5zM464 75h5v5h-5zM464 80h5v5h-5zM464 85h5v5h-5zM464 90h5v5h-5zM464 95h5v5h-5zM564 100h5v5h-5zM454 105h5v5h-5zM449 110h5v5h-5zM464 110h5v5h-5zM559 110h5v5h-5zM554 115h5v5h-5zM439 120h5v5h-5zM544 120h5v5h-5zM434 130h5v5h-5zM449 130h5v5h-5zM494 135h5v5h-5zM509 135h5v5h-5zM544 135h15v5h-15zM574 135h5v5h-5zM439 145h5v5h-5zM509 145h5v5h-5zM449 150h5v5h-5zM489 150h5v5h-5zM454 155h5v5h-5zM454 160h5v5h-5zM454 165h5v5h-5zM454 170h5v5h-5z"/>
<path fill="#355f8d" d="M494 -5h5v5h-5zM494 0h5v5h-5zM444 15h5v5h-5zM454 30h5v5h-5zM509 35h5v5h-5zM504 40h5v5h-5zM449 45h5v5h-5zM519 45h5v5h-5zM569 45h5v5h-5zM574 50h5v5h-5zM424 55h10v5h-10zM464 55h5v5h-5zM579 55h20v5h-20zM539 85h5v5h-5zM539 95h5v5h-5zM464 100h20v5h-20zM534 100h5v5h-5zM464 105h5v5h-5zM444 115h5v5h-5zM559 115h5v5h-5zM439 125h5v5h-5zM454 125h5v5h-5zM544 125h5v5h-5zM439 130h10v5h-10zM544 130h5v5h-5zM559 130h10v5h-10zM414 135h5v5h-5zM429 135h10v5h-10zM499 135h10v5h-10zM579 135h20v5h-20zM434 140h5v5h-5zM484 140h5v5h-5zM509 140h5v5h-5zM484 145h5v5h-5zM444 150h5v5h-5zM494 150h10v5h-10z"/>
<path fill="#33638d" d="M574 35h5v5h-5zM569 40h5v5h-5zM494 45h5v5h-5zM439 50h5v5h-5zM469 50h5v5h-5zM469 70h5v5h-5zM469 75h5v5h-5zM534 80h5v5h-5zM539 90h5v5h-5zM469 95h5v5h-5zM569 100h5v5h-5zM459 105h5v5h-5zM564 105h5v5h-5zM459 115h5v5h-5zM454 120h5v5h-5zM549 120h15v5h-15zM549 130h10v5h-10zM569 130h5v5h-5zM419 135h10v5h-10zM434 145h5v5h-5zM504 145h5v5h-5zM439 150h5v5h-5zM449 155h5v5h-5zM449 160h5v5h-5zM449 165h5v5h-5zM449 170h5v5h-5z"/>
<path fill="#31668e" d="M499 -10h10v5h-10zM499 5h10v5h-10zM414 15h10v5h-10zM514 35h10v5h-10zM579 35h20v5h-20zM509 40h5v5h-5zM519 40h5v5h-5zM574 45h5v5h-5zM414 50h5v5h-5zM579 50h5v5h-5zM589 50h10v5h-10zM469 65h5v5h-5zM469 80h5v5h-5zM469 85h5v5h-5zM469 90h5v5h-5zM484 100h5v5h-5zM529 100h5v5h-5zM574 100h5v5h-5zM454 110h10v5h-10zM564 110h5v5h-5zM449 115h10v5h-10zM444 120h5v5h-5zM444 125h10v5h-10zM549 125h20v5h-20zM574 130h5v5h-5zM414 140h10v5h-10zM429 140h5v5h-5zM489 140h5v5h-5zM504 140h5v5h-5zM489 145h5v5h-5zM414 150h5v5h-5zM429 150h10v5h-10zM414 155h35v5h-35zM414 160h25v5h-25zM414 165h25v5h-25zM414 170h35v5h-35z"/>
<path fill="#30698e" d="M499 -5h10v5h-10zM504 0h5v5h-5zM424 15h5v5h-5zM439 15h5v5h-5zM449 20h5v5h-5zM514 40h5v5h-5zM574 40h5v5h-5zM499 45h5v5h-5zM514 45h5v5h-5zM419 50h10v5h-10zM434 50h5v5h-5zM474 50h5v5h-5zM584 50h5v5h-5zM469 60h5v5h-5zM529 75h5v5h-5zM474 95h5v5h-5zM579 100h20v5h-20zM564 115h5v5h-5zM449 120h5v5h-5zM564 120h5v5h-5zM424 140h5v5h-5zM494 140h10v5h-10zM414 145h20v5h-20zM494 145h10v5h-10zM419 150h10v5h-10zM439 160h10v5h-10zM439 165h10v5h-10z"/>
<path fill="#2f6c8e" d="M499 0h5v5h-5zM429 15h10v5h-10zM579 40h20v5h-20zM444 45h5v5h-5zM504 45h10v5h-10zM579 45h20v5h-20zM429 50h5v5h-5zM469 55h5v5h-5zM519 55h5v5h-5zM474 70h5v5h-5zM474 75h5v5h-5zM474 80h5v5h-5zM534 95h5v5h-5zM524 100h5v5h-5zM569 105h5v5h-5zM569 125h5v5h-5zM579 130h20v5h-20z"/>
<path fill="#2e6f8e" d="M449 40h5v5h-5zM479 50h5v5h-5zM514 50h5v5h-5zM524 65h5v5h-5zM474 85h5v5h-5zM474 90h5v5h-5zM479 95h5v5h-5zM489 100h5v5h-5z"/>
<path fill="#2c728e" d="M414 45h5v5h-5zM474 65h5v5h-5zM534 85h5v5h-5zM534 90h5v5h-5zM569 110h5v5h-5zM569 120h5v5h-5zM574 125h5v5h-5z"/>
<path fill="#2b758e" d="M419 45h5v5h-5zM484 50h5v5h-5zM519 100h5v5h-5zM574 105h5v5h-5zM569 115h5v5h-5z"/>
<path fill="#2a788e" d="M414 20h5v5h-5zM449 25h5v5h-5zM424 45h5v5h-5zM439 45h5v5h-5zM489 50h5v5h-5zM509 50h5v5h-5zM474 55h5v5h-5zM474 60h5v5h-5zM479 75h5v5h-5zM479 80h5v5h-5zM479 85h5v5h-5zM479 90h5v5h-5zM529 95h5v5h-5zM579 125h5v5h-5zM589 125h10v5h-10z"/>
<path fill="#297b8e" d="M419 20h5v5h-5zM444 20h5v5h-5zM449 35h5v5h-5zM479 70h5v5h-5zM484 95h5v5h-5zM494 100h5v5h-5zM514 100h5v5h-5zM579 105h5v5h-5zM594 105h5v5h-5zM584 125h5v5h-5z"/>
<path fill="#277e8e" d="M449 30h5v5h-5zM429 45h10v5h-10zM494 50h15v5h-15zM529 80h5v5h-5zM584 105h10v5h-10z"/>
<path fill="#26828e" d="M424 20h5v5h-5zM414 40h5v5h-5zM479 55h5v5h-5zM514 55h5v5h-5zM519 60h5v5h-5zM479 65h5v5h-5zM524 70h5v5h-5zM574 120h5v5h-5z"/>
<path fill="#25848e" d="M419 40h5v5h-5zM444 40h5v5h-5zM499 100h5v5h-5zM509 100h5v5h-5zM594 120h5v5h-5z"/>
<path fill="#24878e" d="M429 20h5v5h-5zM439 20h5v5h-5zM414 25h5v5h-5zM479 60h5v5h-5zM484 90h5v5h-5zM529 90h5v5h-5zM504 100h5v5h-5zM574 110h5v5h-5zM579 120h15v5h-15z"/>
<path fill="#238a8d" d="M434 20h5v5h-5zM419 25h5v5h-5zM414 35h5v5h-5zM424 40h5v5h-5zM484 55h5v5h-5zM529 85h5v5h-5zM524 95h5v5h-5zM594 110h5v5h-5z"/>
<path fill="#228d8d" d="M414 30h5v5h-5zM419 35h5v5h-5zM484 75h5v5h-5zM484 80h5v5h-5zM484 85h5v5h-5zM489 95h5v5h-5zM584 110h10v5h-10zM589 115h10v5h-10z"/>
<path fill="#21918c" d="M424 25h5v5h-5zM419 30h5v5h-5zM429 40h5v5h-5zM509 55h5v5h-5zM484 70h5v5h-5zM579 110h5v5h-5zM584 115h5v5h-5z"/>
<path fill="#20938c" d="M444 25h5v5h-5zM439 40h5v5h-5zM489 55h5v5h-5zM524 75h5v5h-5z"/>
<path fill="#1f968b" d="M424 30h5v5h-5zM424 35h5v5h-5zM444 35h5v5h-5zM434 40h5v5h-5zM504 55h5v5h-5zM484 60h5v5h-5zM484 65h5v5h-5zM574 115h5v5h-5z"/>
<path fill="#1f998a" d="M429 25h5v5h-5zM494 55h5v5h-5zM519 95h5v5h-5z"/>
<path fill="#1e9c89" d="M444 30h5v5h-5zM499 55h5v5h-5zM519 65h5v5h-5z"/>
<path fill="#1fa088" d="M429 35h5v5h-5zM514 60h5v5h-5zM524 90h5v5h-5zM579 115h5v5h-5z"/>
<path fill="#1fa287" d="M434 25h10v5h-10zM429 30h5v5h-5zM524 80h5v5h-5zM489 90h5v5h-5zM494 95h5v5h-5z"/>
<path fill="#22a884" d="M434 35h10v5h-10zM489 60h5v5h-5zM524 85h5v5h-5zM514 95h5v5h-5z"/>
<path fill="#25ab82" d="M489 85h5v5h-5z"/>
<path fill="#28ae80" d="M434 30h10v5h-10zM509 60h5v5h-5zM489 65h5v5h-5zM489 70h5v5h-5zM489 75h5v5h-5zM489 80h5v5h-5z"/>
<path fill="#2cb17e" d="M519 70h5v5h-5z"/>
<path fill="#2fb47c" d="M494 60h5v5h-5zM499 95h5v5h-5zM509 95h5v5h-5z"/>
<path fill="#34b679" d="M504 60h5v5h-5z"/>
<path fill="#38b977" d="M499 60h5v5h-5zM519 90h5v5h-5zM504 95h5v5h-5z"/>
<path fill="#3fbc73" d="M514 65h5v5h-5z"/>
<path fill="#44bf70" d="M519 75h5v5h-5zM494 90h5v5h-5z"/>
<path fill="#4ac16d" d="M494 65h5v5h-5z"/>
<path fill="#56c667" d="M519 80h5v5h-5zM519 85h5v5h-5z"/>
<path fill="#5ec962" d="M494 70h5v5h-5z"/>
<path fill="#65cb5e" d="M509 65h5v5h-5zM494 75h5v5h-5zM494 85h5v5h-5zM514 90h5v5h-5z"/>
<path fill="#6ccd5a" d="M499 65h5v5h-5zM494 80h5v5h-5z"/>
<path fill="#73d056" d="M504 65h5v5h-5zM514 70h5v5h-5z"/>
<path fill="#7ad151" d="M499 90h5v5h-5z"/>
<path fill="#8bd646" d="M509 90h5v5h-5z"/>
<path fill="#93d741" d="M499 70h5v5h-5zM504 90h5v5h-5z"/>
<path fill="#9bd93c" d="M514 75h5v5h-5z"/>
<path fill="#a2da37" d="M514 85h5v5h-5z"/>
<path fill="#addc30" d="M504 70h10v5h-10zM514 80h5v5h-5z"/>
<path fill="#b5de2b" d="M499 75h5v5h-5zM499 85h5v5h-5z"/>
<path fill="#bddf26" d="M499 80h5v5h-5z"/>
<path fill="#cde11d" d="M509 85h5v5h-5z"/>
<path fill="#d8e219" d="M504 75h10v5h-10zM504 85h5v5h-5z"/>
<path fill="#dfe318" d="M509 80h5v5h-5z"/>
<path fill="#e7e419" d="M504 80h5v5h-5z"/></g>
<path fill="none" stroke="#fff" stroke-opacity="0.72" stroke-width="0.95" stroke-linejoin="round" d="M436.8,25.8 439.8,25.5 442.6,26.2 444.2,27.3 445.8,29.0 446.6,30.8 447.0,33.8 446.2,36.8 445.3,38.2 443.6,39.8 441.2,40.9 438.2,41.2 435.2,40.5 433.8,39.7 432.1,38.2 430.8,35.9 430.3,33.8 430.8,31.1 431.7,29.2 433.0,27.8 435.2,26.3 436.8,25.8 Z M492.2,57.7 495.2,56.9 498.2,56.5 501.2,56.4 504.2,56.6 507.2,57.1 509.8,57.8 511.8,58.3 513.9,59.2 516.2,60.5 517.8,61.6 519.2,62.9 520.8,64.6 522.2,66.8 523.0,68.2 523.8,69.8 524.9,72.8 525.4,74.2 526.5,77.2 527.1,78.8 528.2,81.6 528.9,83.2 529.8,85.6 530.3,87.8 530.4,90.8 529.8,93.0 528.3,95.2 526.8,96.5 525.2,97.4 523.6,98.2 520.8,99.3 519.2,99.8 516.2,100.6 513.2,101.2 511.8,101.5 508.8,101.7 505.8,101.7 502.8,101.5 501.2,101.2 498.2,100.4 496.8,99.7 494.2,98.2 492.3,96.8 491.0,95.2 489.9,93.8 489.2,92.2 488.2,89.2 487.8,86.2 487.7,84.8 487.6,81.8 487.6,78.8 487.5,75.8 487.1,72.8 486.5,69.8 486.2,68.2 485.7,65.2 486.2,62.2 487.1,60.8 488.8,59.2 490.8,58.2 492.2,57.7 Z M577.8,116.0 580.8,115.4 581.3,117.8 579.2,118.8 577.7,117.8 577.8,116.0 Z M495.2,60.4 498.2,59.7 501.2,59.5 504.2,59.7 507.2,60.2 509.4,60.8 511.8,61.4 513.7,62.2 516.2,63.7 517.8,64.9 519.2,66.5 520.5,68.2 521.4,69.8 522.2,71.7 523.2,74.2 523.8,75.8 524.7,78.8 525.2,80.4 526.2,83.2 526.8,85.4 527.2,87.8 526.9,90.8 526.2,92.2 525.1,93.8 523.3,95.2 520.8,96.6 519.2,97.3 516.3,98.2 514.8,98.7 511.8,99.3 508.8,99.6 505.8,99.6 502.8,99.2 499.8,98.4 498.2,97.7 496.6,96.8 494.8,95.2 493.5,93.8 492.2,91.6 491.3,89.2 490.8,86.2 490.6,84.8 490.5,81.8 490.5,78.8 490.5,75.8 490.4,72.8 490.2,69.8 490.2,66.8 490.8,64.2 492.1,62.2 493.8,61.1 495.2,60.4 Z M499.8,63.4 502.8,63.1 505.8,63.4 508.0,63.8 510.2,64.3 512.9,65.2 514.8,66.3 516.2,67.4 517.8,69.0 519.2,71.2 520.0,72.8 520.8,74.5 521.7,77.2 522.2,79.3 522.9,81.8 523.6,84.8 523.8,86.2 523.8,87.8 522.9,90.8 521.8,92.2 519.9,93.8 517.8,94.9 516.2,95.6 513.2,96.5 511.8,96.8 508.8,97.1 505.7,97.1 503.6,96.8 501.2,96.1 499.5,95.2 497.5,93.8 496.2,92.2 495.2,90.7 494.1,87.8 493.8,86.2 493.5,83.2 493.5,80.2 493.5,77.2 493.7,74.2 493.8,72.8 494.2,69.8 495.1,66.8 496.2,65.2 498.2,63.9 499.8,63.4 Z M501.2,67.8 504.2,67.1 507.2,67.2 510.2,67.7 511.8,68.3 514.2,69.8 515.8,71.2 516.9,72.8 517.8,74.3 518.9,77.2 519.4,78.8 520.0,81.8 520.5,84.8 520.2,87.8 519.2,89.8 517.8,91.4 516.2,92.4 513.2,93.7 511.8,94.1 508.8,94.4 505.8,94.3 503.4,93.8 501.2,92.8 499.8,91.6 498.2,89.8 497.2,87.8 496.8,86.2 496.4,83.2 496.4,80.2 496.6,77.2 496.8,75.8 497.5,72.8 498.2,70.8 499.8,68.8 501.2,67.8 Z M504.2,72.7 507.2,72.1 510.2,72.5 511.8,73.2 513.2,74.4 514.8,76.6 515.6,78.8 516.2,81.4 516.5,83.2 516.2,85.9 515.4,87.8 513.8,89.2 511.8,90.3 509.0,90.8 508.4,90.8 505.8,90.4 503.2,89.2 501.7,87.8 500.8,86.2 500.2,83.2 500.2,80.2 500.8,77.2 501.3,75.8 502.8,73.7 504.2,72.7 Z"/>
<ellipse cx="508.1" cy="80.7" rx="16.6" ry="16.1" transform="rotate(-90.0 508.1 80.7)" fill="none" stroke="#e0442c" stroke-width="1"/>
<path d="M505.0 81.0h4.6M507.3 78.7v4.6" stroke="#f05a28" stroke-width="0.9"/>
<path d="M504.4 80.4l4.6 4.6M509.0 80.4l-4.6 4.6" stroke="#3446a8" stroke-width="0.9"/>
<ellipse cx="444.3" cy="144.0" rx="16.8" ry="11.6" transform="rotate(-42.0 444.3 144.0)" fill="#fff"/>
</g>
<rect x="424.5" y="0.5" width="165" height="165" fill="none" stroke="#1a1a1a" stroke-width="1"/>
<text x="440.9" y="16.2" font-size="10.20" fill="#f4f4f4" stroke="#2a2a2a" stroke-width="1.7" paint-order="stroke" stroke-linejoin="round" textLength="34.7" lengthAdjust="spacingAndGlyphs">Line 53</text>
<text x="441.0" y="26.5" font-size="10.20" fill="#f4f4f4" stroke="#2a2a2a" stroke-width="1.7" paint-order="stroke" stroke-linejoin="round" textLength="47" lengthAdjust="spacingAndGlyphs">CH<tspan font-size="7.4" dy="2.3">3</tspan><tspan dy="-2.3">OCHO</tspan></text>
<text x="523.3" y="15.8" font-size="10.20" fill="#f4f4f4" stroke="#2a2a2a" stroke-width="1.7" paint-order="stroke" stroke-linejoin="round" textLength="63.0" lengthAdjust="spacingAndGlyphs">0.41″ × 0.38″</text>
<text x="523.3" y="26.3" font-size="10.20" fill="#f4f4f4" stroke="#2a2a2a" stroke-width="1.7" paint-order="stroke" stroke-linejoin="round" textLength="52.8" lengthAdjust="spacingAndGlyphs">PA=20.55 °</text>
<text x="492.6" y="148.9" font-size="10.4" fill="#fff" textLength="80.8" lengthAdjust="spacingAndGlyphs">345459.960 MHz</text>
<g clip-path="url(#cp3)">
<g filter="url(#bl)"><path fill="#471365" d="M729 40h10v5h-10zM729 45h10v5h-10z"/>
<path fill="#48186a" d="M674 -5h10v5h-10zM674 0h10v5h-10z"/>
<path fill="#481c6e" d="M674 -10h10v5h-10zM674 5h10v5h-10zM729 35h10v5h-10zM724 40h5v5h-5zM739 40h5v5h-5zM739 45h5v5h-5zM729 50h10v5h-10zM614 95h5v5h-5zM614 100h5v5h-5z"/>
<path fill="#482071" d="M684 -5h5v5h-5zM684 0h5v5h-5zM724 45h5v5h-5zM619 95h5v5h-5z"/>
<path fill="#482475" d="M684 -10h5v5h-5zM669 -5h5v5h-5zM669 0h5v5h-5zM684 5h5v5h-5zM724 35h5v5h-5zM739 35h5v5h-5zM724 50h5v5h-5zM739 50h5v5h-5zM734 55h5v5h-5zM619 100h5v5h-5z"/>
<path fill="#482878" d="M669 -10h5v5h-5zM669 5h5v5h-5zM674 10h10v5h-10zM744 40h5v5h-5zM744 45h5v5h-5zM729 55h5v5h-5zM739 55h5v5h-5zM594 70h5v5h-5zM589 75h10v5h-10zM614 105h5v5h-5z"/>
<path fill="#472d7b" d="M729 30h10v5h-10zM744 35h5v5h-5zM719 40h5v5h-5zM719 45h5v5h-5zM744 50h5v5h-5zM584 70h10v5h-10zM599 70h5v5h-5zM584 75h5v5h-5zM599 75h5v5h-5zM729 75h5v5h-5zM724 80h10v5h-10zM614 90h5v5h-5zM609 95h5v5h-5zM619 105h5v5h-5zM644 130h5v5h-5zM714 145h5v5h-5zM714 150h5v5h-5zM709 155h10v5h-10zM709 160h10v5h-10zM709 165h10v5h-10zM709 170h10v5h-10z"/>
<path fill="#46307e" d="M689 -5h5v5h-5zM749 -5h20v5h-20zM689 0h5v5h-5zM749 0h20v5h-20zM669 10h5v5h-5zM739 30h5v5h-5zM749 40h5v5h-5zM764 40h5v5h-5zM744 55h5v5h-5zM734 60h15v5h-15zM604 70h5v5h-5zM724 75h5v5h-5zM734 75h5v5h-5zM594 80h5v5h-5zM619 90h5v5h-5zM609 100h5v5h-5zM649 130h5v5h-5zM644 135h5v5h-5zM719 145h5v5h-5zM709 150h5v5h-5zM719 150h5v5h-5z"/>
<path fill="#463480" d="M689 -10h5v5h-5zM749 -10h20v5h-20zM689 5h5v5h-5zM749 5h20v5h-20zM684 10h5v5h-5zM719 35h5v5h-5zM749 35h5v5h-5zM759 35h10v5h-10zM754 40h10v5h-10zM749 45h20v5h-20zM719 50h5v5h-5zM749 50h5v5h-5zM759 50h10v5h-10zM724 55h5v5h-5zM749 55h5v5h-5zM759 55h10v5h-10zM729 60h5v5h-5zM749 60h20v5h-20zM584 65h35v5h-35zM734 65h35v5h-35zM609 70h5v5h-5zM729 70h20v5h-20zM604 75h5v5h-5zM739 75h5v5h-5zM584 80h10v5h-10zM599 80h5v5h-5zM719 80h5v5h-5zM734 80h5v5h-5zM609 90h5v5h-5zM624 95h5v5h-5zM609 105h5v5h-5zM614 110h5v5h-5zM644 125h5v5h-5zM639 135h5v5h-5zM649 135h5v5h-5zM644 140h5v5h-5zM714 140h10v5h-10zM709 145h5v5h-5zM639 150h10v5h-10zM639 155h10v5h-10zM704 155h5v5h-5zM719 155h5v5h-5zM639 160h10v5h-10zM704 160h5v5h-5zM719 160h5v5h-5zM639 165h10v5h-10zM704 165h5v5h-5zM719 165h5v5h-5zM639 170h10v5h-10zM704 170h5v5h-5zM719 170h5v5h-5z"/>
<path fill="#453882" d="M664 -10h5v5h-5zM744 -10h5v5h-5zM664 -5h5v5h-5zM744 -5h5v5h-5zM664 0h5v5h-5zM744 0h5v5h-5zM664 5h5v5h-5zM744 5h5v5h-5zM674 15h5v5h-5zM724 30h5v5h-5zM744 30h5v5h-5zM754 35h5v5h-5zM754 50h5v5h-5zM754 55h5v5h-5zM619 65h5v5h-5zM729 65h5v5h-5zM749 70h20v5h-20zM719 75h5v5h-5zM624 100h5v5h-5zM649 125h5v5h-5zM639 130h5v5h-5zM639 140h5v5h-5zM639 145h10v5h-10zM704 150h5v5h-5z"/>
<path fill="#443b84" d="M749 10h20v5h-20zM679 15h5v5h-5zM734 25h5v5h-5zM749 30h5v5h-5zM764 30h5v5h-5zM609 60h10v5h-10zM614 70h5v5h-5zM724 70h5v5h-5zM744 75h5v5h-5zM604 80h5v5h-5zM739 80h5v5h-5zM724 85h10v5h-10zM624 90h5v5h-5zM619 110h5v5h-5zM614 115h5v5h-5zM654 130h5v5h-5zM649 140h5v5h-5zM709 140h5v5h-5zM724 145h5v5h-5z"/>
<path fill="#424086" d="M739 -5h5v5h-5zM694 0h5v5h-5zM739 0h5v5h-5zM664 10h5v5h-5zM744 10h5v5h-5zM669 15h5v5h-5zM729 25h5v5h-5zM739 25h5v5h-5zM754 30h10v5h-10zM714 40h5v5h-5zM714 45h5v5h-5zM719 55h5v5h-5zM604 60h5v5h-5zM619 60h5v5h-5zM724 60h5v5h-5zM619 70h5v5h-5zM609 75h5v5h-5zM749 75h20v5h-20zM609 85h15v5h-15zM719 85h5v5h-5zM609 110h5v5h-5zM654 125h5v5h-5zM654 135h5v5h-5zM634 140h5v5h-5zM724 140h5v5h-5zM634 145h5v5h-5zM649 145h5v5h-5zM634 150h5v5h-5zM649 150h5v5h-5zM724 150h5v5h-5zM634 155h5v5h-5zM649 155h5v5h-5zM634 160h5v5h-5zM649 160h5v5h-5zM634 165h5v5h-5zM649 165h5v5h-5zM634 170h5v5h-5zM649 170h5v5h-5z"/>
<path fill="#414487" d="M739 -10h5v5h-5zM694 -5h5v5h-5zM739 5h5v5h-5zM689 10h5v5h-5zM744 25h5v5h-5zM719 30h5v5h-5zM584 60h20v5h-20zM624 65h5v5h-5zM724 65h5v5h-5zM624 70h5v5h-5zM719 70h5v5h-5zM609 80h5v5h-5zM714 80h5v5h-5zM744 80h5v5h-5zM584 85h25v5h-25zM624 85h5v5h-5zM734 85h5v5h-5zM624 105h5v5h-5zM609 115h5v5h-5zM614 120h5v5h-5zM639 125h5v5h-5zM634 135h5v5h-5zM714 135h10v5h-10zM654 140h5v5h-5zM704 145h5v5h-5zM699 155h5v5h-5zM724 155h5v5h-5zM699 160h5v5h-5zM724 160h5v5h-5zM699 165h5v5h-5zM724 165h5v5h-5zM699 170h5v5h-5zM724 170h5v5h-5z"/>
<path fill="#3f4788" d="M694 -10h5v5h-5zM694 5h5v5h-5zM739 10h5v5h-5zM684 15h5v5h-5zM744 15h25v5h-25zM749 25h20v5h-20zM714 35h5v5h-5zM714 50h5v5h-5zM624 60h5v5h-5zM719 60h5v5h-5zM614 75h15v5h-15zM714 75h5v5h-5zM604 90h5v5h-5zM619 115h5v5h-5zM609 120h5v5h-5zM754 125h5v5h-5zM659 130h5v5h-5zM669 130h10v5h-10zM659 135h20v5h-20zM629 145h5v5h-5zM699 150h5v5h-5z"/>
<path fill="#3e4a89" d="M659 -10h5v5h-5zM734 -10h5v5h-5zM659 -5h5v5h-5zM734 -5h5v5h-5zM659 0h5v5h-5zM734 0h5v5h-5zM659 5h5v5h-5zM734 5h5v5h-5zM664 15h5v5h-5zM739 15h5v5h-5zM674 20h5v5h-5zM734 20h35v5h-35zM724 25h5v5h-5zM629 65h5v5h-5zM719 65h5v5h-5zM629 70h5v5h-5zM629 75h5v5h-5zM614 80h20v5h-20zM749 80h5v5h-5zM759 80h10v5h-10zM629 85h5v5h-5zM714 85h5v5h-5zM739 85h5v5h-5zM629 90h5v5h-5zM604 95h5v5h-5zM629 95h5v5h-5zM604 100h5v5h-5zM644 120h10v5h-10zM754 120h10v5h-10zM614 125h5v5h-5zM659 125h5v5h-5zM669 125h10v5h-10zM749 125h5v5h-5zM759 125h10v5h-10zM634 130h5v5h-5zM664 130h5v5h-5zM709 135h5v5h-5zM724 135h5v5h-5zM629 140h5v5h-5zM659 140h20v5h-20zM704 140h5v5h-5zM654 145h5v5h-5zM629 150h5v5h-5zM629 155h5v5h-5zM629 160h5v5h-5zM629 165h5v5h-5zM629 170h5v5h-5z"/>
<path fill="#3d4e8a" d="M659 10h5v5h-5zM734 10h5v5h-5zM734 15h5v5h-5zM669 20h5v5h-5zM679 20h5v5h-5zM729 20h5v5h-5zM609 55h10v5h-10zM714 55h5v5h-5zM714 70h5v5h-5zM754 80h5v5h-5zM724 90h10v5h-10zM604 105h5v5h-5zM624 110h5v5h-5zM619 120h5v5h-5zM654 120h5v5h-5zM749 120h5v5h-5zM764 120h5v5h-5zM609 125h5v5h-5zM664 125h5v5h-5zM679 130h5v5h-5zM749 130h20v5h-20zM679 135h5v5h-5zM699 145h5v5h-5zM654 150h5v5h-5z"/>
<path fill="#3b528b" d="M729 -10h5v5h-5zM699 -5h5v5h-5zM729 -5h5v5h-5zM699 0h5v5h-5zM729 0h5v5h-5zM729 5h5v5h-5zM694 10h5v5h-5zM689 15h5v5h-5zM719 25h5v5h-5zM714 30h5v5h-5zM709 40h5v5h-5zM709 45h5v5h-5zM604 55h5v5h-5zM619 55h5v5h-5zM629 60h5v5h-5zM634 70h5v5h-5zM634 75h5v5h-5zM634 80h5v5h-5zM634 85h5v5h-5zM634 90h5v5h-5zM719 90h5v5h-5zM734 90h5v5h-5zM629 100h5v5h-5zM604 110h5v5h-5zM604 115h5v5h-5zM744 120h5v5h-5zM619 125h5v5h-5zM679 125h5v5h-5zM744 125h5v5h-5zM614 130h5v5h-5zM714 130h10v5h-10zM629 135h5v5h-5zM704 135h5v5h-5zM679 140h5v5h-5zM729 140h5v5h-5zM624 145h5v5h-5zM659 145h20v5h-20zM729 145h5v5h-5zM729 150h5v5h-5zM654 155h5v5h-5zM654 160h5v5h-5zM694 160h5v5h-5zM654 165h5v5h-5zM694 165h5v5h-5zM654 170h5v5h-5z"/>
<path fill="#39558c" d="M654 -10h5v5h-5zM699 -10h5v5h-5zM654 -5h5v5h-5zM654 0h5v5h-5zM654 5h5v5h-5zM699 5h5v5h-5zM729 10h5v5h-5zM659 15h5v5h-5zM729 15h5v5h-5zM684 20h5v5h-5zM724 20h5v5h-5zM709 35h5v5h-5zM709 50h5v5h-5zM584 55h20v5h-20zM624 55h5v5h-5zM714 60h5v5h-5zM634 65h5v5h-5zM714 65h5v5h-5zM744 85h5v5h-5zM584 90h10v5h-10zM599 90h5v5h-5zM624 115h5v5h-5zM749 115h20v5h-20zM604 120h5v5h-5zM639 120h5v5h-5zM659 120h20v5h-20zM604 125h5v5h-5zM634 125h5v5h-5zM609 130h5v5h-5zM619 130h5v5h-5zM709 130h5v5h-5zM744 130h5v5h-5zM754 135h5v5h-5zM624 140h5v5h-5zM699 140h5v5h-5zM679 145h5v5h-5zM624 150h5v5h-5zM694 150h5v5h-5zM624 155h5v5h-5zM694 155h5v5h-5zM729 155h5v5h-5zM624 160h5v5h-5zM729 160h5v5h-5zM624 165h5v5h-5zM729 165h5v5h-5zM624 170h5v5h-5zM694 170h5v5h-5zM729 170h5v5h-5z"/>
<path fill="#38598c" d="M724 -10h5v5h-5zM724 -5h5v5h-5zM724 0h5v5h-5zM724 5h5v5h-5zM654 10h5v5h-5zM664 20h5v5h-5zM629 55h5v5h-5zM634 60h5v5h-5zM709 80h5v5h-5zM594 90h5v5h-5zM714 90h5v5h-5zM634 95h5v5h-5zM629 105h5v5h-5zM744 115h5v5h-5zM679 120h5v5h-5zM739 120h5v5h-5zM684 125h5v5h-5zM739 125h5v5h-5zM604 130h5v5h-5zM629 130h5v5h-5zM684 130h5v5h-5zM724 130h5v5h-5zM614 135h15v5h-15zM684 135h5v5h-5zM729 135h5v5h-5zM749 135h5v5h-5zM759 135h10v5h-10zM684 140h5v5h-5zM694 145h5v5h-5zM659 150h5v5h-5zM674 150h5v5h-5z"/>
<path fill="#365c8d" d="M649 -10h5v5h-5zM649 -5h5v5h-5zM704 -5h5v5h-5zM649 0h5v5h-5zM704 0h5v5h-5zM649 5h5v5h-5zM649 10h5v5h-5zM724 10h5v5h-5zM609 15h15v5h-15zM654 15h5v5h-5zM724 15h5v5h-5zM594 25h5v5h-5zM634 25h10v5h-10zM674 25h10v5h-10zM589 30h10v5h-10zM634 30h10v5h-10zM589 35h10v5h-10zM634 35h10v5h-10zM634 40h10v5h-10zM704 40h5v5h-5zM634 55h5v5h-5zM709 55h5v5h-5zM639 70h5v5h-5zM639 75h5v5h-5zM709 75h5v5h-5zM639 80h5v5h-5zM639 85h5v5h-5zM709 85h5v5h-5zM749 85h20v5h-20zM639 90h5v5h-5zM739 90h5v5h-5zM729 95h5v5h-5zM739 115h5v5h-5zM624 120h5v5h-5zM624 125h5v5h-5zM624 130h5v5h-5zM704 130h5v5h-5zM729 130h5v5h-5zM739 130h5v5h-5zM609 135h5v5h-5zM699 135h5v5h-5zM744 135h5v5h-5zM619 140h5v5h-5zM619 145h5v5h-5zM684 145h5v5h-5zM619 150h5v5h-5zM664 150h10v5h-10zM679 150h5v5h-5zM619 155h5v5h-5zM619 160h5v5h-5zM754 160h5v5h-5zM619 165h5v5h-5zM619 170h5v5h-5z"/>
<path fill="#355f8d" d="M584 -10h65v5h-65zM704 -10h5v5h-5zM719 -10h5v5h-5zM584 -5h65v5h-65zM719 -5h5v5h-5zM584 0h65v5h-65zM719 0h5v5h-5zM584 5h65v5h-65zM704 5h5v5h-5zM719 5h5v5h-5zM584 10h65v5h-65zM699 10h5v5h-5zM584 15h25v5h-25zM624 15h30v5h-30zM694 15h5v5h-5zM584 20h65v5h-65zM659 20h5v5h-5zM689 20h5v5h-5zM719 20h5v5h-5zM584 25h10v5h-10zM599 25h5v5h-5zM629 25h5v5h-5zM644 25h5v5h-5zM684 25h5v5h-5zM714 25h5v5h-5zM584 30h5v5h-5zM599 30h5v5h-5zM629 30h5v5h-5zM644 30h5v5h-5zM709 30h5v5h-5zM584 35h5v5h-5zM599 35h5v5h-5zM629 35h5v5h-5zM644 35h5v5h-5zM704 35h5v5h-5zM589 40h10v5h-10zM629 40h5v5h-5zM644 40h5v5h-5zM634 45h15v5h-15zM704 45h5v5h-5zM584 50h60v5h-60zM639 55h5v5h-5zM639 60h5v5h-5zM709 60h5v5h-5zM639 65h5v5h-5zM709 65h5v5h-5zM709 70h5v5h-5zM709 90h5v5h-5zM584 95h5v5h-5zM599 95h5v5h-5zM639 95h5v5h-5zM719 95h10v5h-10zM734 95h5v5h-5zM634 100h5v5h-5zM584 110h5v5h-5zM599 110h5v5h-5zM629 110h5v5h-5zM709 110h60v5h-60zM584 115h5v5h-5zM599 115h5v5h-5zM649 115h20v5h-20zM709 115h30v5h-30zM584 120h5v5h-5zM599 120h5v5h-5zM634 120h5v5h-5zM684 120h5v5h-5zM734 120h5v5h-5zM584 125h5v5h-5zM599 125h5v5h-5zM629 125h5v5h-5zM689 125h5v5h-5zM704 125h25v5h-25zM734 125h5v5h-5zM584 130h10v5h-10zM599 130h5v5h-5zM689 130h5v5h-5zM699 130h5v5h-5zM734 130h5v5h-5zM584 135h25v5h-25zM689 135h10v5h-10zM734 135h10v5h-10zM584 140h35v5h-35zM689 140h10v5h-10zM734 140h5v5h-5zM749 140h20v5h-20zM584 145h20v5h-20zM689 145h5v5h-5zM734 145h5v5h-5zM754 145h5v5h-5zM584 150h25v5h-25zM614 150h5v5h-5zM684 150h10v5h-10zM734 150h5v5h-5zM754 150h10v5h-10zM584 155h35v5h-35zM659 155h5v5h-5zM674 155h10v5h-10zM689 155h5v5h-5zM734 155h5v5h-5zM749 155h20v5h-20zM584 160h35v5h-35zM689 160h5v5h-5zM734 160h5v5h-5zM749 160h5v5h-5zM759 160h10v5h-10zM584 165h35v5h-35zM659 165h5v5h-5zM674 165h5v5h-5zM689 165h5v5h-5zM734 165h5v5h-5zM749 165h20v5h-20zM584 170h35v5h-35zM659 170h5v5h-5zM674 170h10v5h-10zM689 170h5v5h-5zM734 170h5v5h-5zM749 170h20v5h-20z"/>
<path fill="#33638d" d="M709 -10h10v5h-10zM709 -5h10v5h-10zM709 0h10v5h-10zM709 5h10v5h-10zM719 10h5v5h-5zM719 15h5v5h-5zM649 20h10v5h-10zM604 25h5v5h-5zM624 25h5v5h-5zM649 25h5v5h-5zM669 25h5v5h-5zM689 25h5v5h-5zM604 30h5v5h-5zM684 30h10v5h-10zM689 35h15v5h-15zM584 40h5v5h-5zM599 40h5v5h-5zM694 40h10v5h-10zM584 45h20v5h-20zM629 45h5v5h-5zM644 50h5v5h-5zM704 50h5v5h-5zM744 90h5v5h-5zM589 95h5v5h-5zM709 95h10v5h-10zM584 100h5v5h-5zM599 100h5v5h-5zM709 100h30v5h-30zM584 105h5v5h-5zM599 105h5v5h-5zM704 105h35v5h-35zM589 110h5v5h-5zM704 110h5v5h-5zM589 115h10v5h-10zM629 115h5v5h-5zM644 115h5v5h-5zM669 115h10v5h-10zM699 115h10v5h-10zM589 120h10v5h-10zM629 120h5v5h-5zM689 120h45v5h-45zM589 125h10v5h-10zM694 125h10v5h-10zM729 125h5v5h-5zM594 130h5v5h-5zM694 130h5v5h-5zM739 140h10v5h-10zM604 145h15v5h-15zM749 145h5v5h-5zM759 145h10v5h-10zM609 150h5v5h-5zM739 150h15v5h-15zM764 150h5v5h-5zM664 155h10v5h-10zM684 155h5v5h-5zM739 155h10v5h-10zM659 160h5v5h-5zM669 160h20v5h-20zM739 160h10v5h-10zM669 165h5v5h-5zM679 165h10v5h-10zM739 165h10v5h-10zM664 170h10v5h-10zM684 170h5v5h-5zM739 170h10v5h-10z"/>
<path fill="#31668e" d="M704 10h5v5h-5zM714 10h5v5h-5zM609 25h15v5h-15zM654 25h5v5h-5zM664 25h5v5h-5zM624 30h5v5h-5zM649 30h5v5h-5zM694 30h5v5h-5zM704 30h5v5h-5zM604 35h5v5h-5zM624 35h5v5h-5zM649 35h5v5h-5zM684 35h5v5h-5zM649 40h5v5h-5zM689 40h5v5h-5zM604 45h5v5h-5zM624 45h5v5h-5zM649 45h5v5h-5zM699 45h5v5h-5zM649 50h5v5h-5zM644 55h5v5h-5zM644 60h5v5h-5zM644 90h5v5h-5zM594 95h5v5h-5zM644 95h5v5h-5zM739 95h5v5h-5zM704 100h5v5h-5zM589 105h5v5h-5zM739 105h5v5h-5zM594 110h5v5h-5zM699 110h5v5h-5zM639 115h5v5h-5zM679 115h20v5h-20zM739 145h10v5h-10zM664 160h5v5h-5zM664 165h5v5h-5z"/>
<path fill="#30698e" d="M709 10h5v5h-5zM699 15h5v5h-5zM714 15h5v5h-5zM694 20h5v5h-5zM714 20h5v5h-5zM659 25h5v5h-5zM694 25h5v5h-5zM709 25h5v5h-5zM609 30h5v5h-5zM679 30h5v5h-5zM699 30h5v5h-5zM604 40h5v5h-5zM624 40h5v5h-5zM684 40h5v5h-5zM609 45h5v5h-5zM619 45h5v5h-5zM694 45h5v5h-5zM704 55h5v5h-5zM644 65h5v5h-5zM644 85h5v5h-5zM749 90h5v5h-5zM764 90h5v5h-5zM704 95h5v5h-5zM589 100h5v5h-5zM639 100h5v5h-5zM739 100h5v5h-5zM594 105h5v5h-5zM634 105h5v5h-5zM699 105h5v5h-5zM744 105h10v5h-10zM764 105h5v5h-5zM694 110h5v5h-5zM634 115h5v5h-5z"/>
<path fill="#2f6c8e" d="M614 30h10v5h-10zM654 30h5v5h-5zM674 30h5v5h-5zM654 35h5v5h-5zM654 40h5v5h-5zM614 45h5v5h-5zM654 45h5v5h-5zM689 45h5v5h-5zM699 50h5v5h-5zM649 55h5v5h-5zM704 60h5v5h-5zM704 65h5v5h-5zM644 70h5v5h-5zM644 75h5v5h-5zM644 80h5v5h-5zM704 90h5v5h-5zM754 90h10v5h-10zM744 95h5v5h-5zM594 100h5v5h-5zM744 100h5v5h-5zM754 105h10v5h-10zM634 110h5v5h-5zM654 110h10v5h-10zM689 110h5v5h-5z"/>
<path fill="#2e6f8e" d="M704 15h10v5h-10zM699 20h5v5h-5zM709 20h5v5h-5zM699 25h10v5h-10zM659 30h5v5h-5zM669 30h5v5h-5zM609 35h5v5h-5zM619 35h5v5h-5zM679 35h5v5h-5zM609 40h5v5h-5zM619 40h5v5h-5zM654 50h5v5h-5zM704 70h5v5h-5zM704 75h5v5h-5zM704 80h5v5h-5zM704 85h5v5h-5zM644 100h5v5h-5zM699 100h5v5h-5zM664 110h5v5h-5z"/>
<path fill="#2c728e" d="M704 20h5v5h-5zM664 30h5v5h-5zM614 35h5v5h-5zM614 40h5v5h-5zM659 40h5v5h-5zM679 40h5v5h-5zM659 45h5v5h-5zM684 45h5v5h-5zM694 50h5v5h-5zM699 55h5v5h-5zM649 60h5v5h-5zM649 95h5v5h-5zM749 95h5v5h-5zM759 95h10v5h-10zM649 100h5v5h-5zM749 100h20v5h-20zM639 105h5v5h-5zM694 105h5v5h-5zM639 110h15v5h-15zM669 110h5v5h-5zM684 110h5v5h-5z"/>
<path fill="#2b758e" d="M659 35h5v5h-5zM674 35h5v5h-5zM654 55h5v5h-5zM649 90h5v5h-5zM754 95h5v5h-5zM644 105h15v5h-15zM674 110h10v5h-10z"/>
<path fill="#2a788e" d="M664 35h10v5h-10zM664 40h5v5h-5zM674 40h5v5h-5zM664 45h5v5h-5zM679 45h5v5h-5zM659 50h5v5h-5zM649 65h5v5h-5zM699 95h5v5h-5zM659 105h5v5h-5z"/>
<path fill="#297b8e" d="M669 40h5v5h-5zM669 45h10v5h-10zM689 50h5v5h-5zM699 60h5v5h-5zM649 85h5v5h-5zM654 100h5v5h-5zM689 105h5v5h-5z"/>
<path fill="#277e8e" d="M649 70h5v5h-5zM649 75h5v5h-5zM649 80h5v5h-5zM694 100h5v5h-5zM664 105h5v5h-5z"/>
<path fill="#26828e" d="M664 50h5v5h-5zM684 50h5v5h-5zM694 55h5v5h-5zM654 60h5v5h-5zM699 65h5v5h-5zM699 90h5v5h-5z"/>
<path fill="#25848e" d="M669 50h5v5h-5zM659 55h5v5h-5zM699 70h5v5h-5zM654 95h5v5h-5zM684 105h5v5h-5z"/>
<path fill="#24878e" d="M674 50h10v5h-10zM699 75h5v5h-5zM699 85h5v5h-5zM659 100h5v5h-5zM669 105h5v5h-5zM679 105h5v5h-5z"/>
<path fill="#238a8d" d="M699 80h5v5h-5zM694 95h5v5h-5zM674 105h5v5h-5z"/>
<path fill="#228d8d" d="M689 55h5v5h-5zM694 60h5v5h-5zM654 65h5v5h-5zM654 90h5v5h-5zM689 100h5v5h-5z"/>
<path fill="#20938c" d="M664 55h5v5h-5zM654 85h5v5h-5z"/>
<path fill="#1f968b" d="M659 60h5v5h-5zM654 70h5v5h-5zM664 100h5v5h-5z"/>
<path fill="#1f998a" d="M684 55h5v5h-5zM694 65h5v5h-5zM654 75h5v5h-5zM654 80h5v5h-5zM694 90h5v5h-5zM659 95h5v5h-5z"/>
<path fill="#1e9c89" d="M669 55h5v5h-5zM684 100h5v5h-5z"/>
<path fill="#1fa088" d="M674 55h10v5h-10zM669 100h5v5h-5z"/>
<path fill="#1fa287" d="M689 60h5v5h-5zM694 70h5v5h-5zM694 85h5v5h-5zM689 95h5v5h-5zM679 100h5v5h-5z"/>
<path fill="#21a585" d="M674 100h5v5h-5z"/>
<path fill="#22a884" d="M694 75h5v5h-5zM694 80h5v5h-5zM659 90h5v5h-5z"/>
<path fill="#25ab82" d="M664 60h5v5h-5zM659 65h5v5h-5z"/>
<path fill="#28ae80" d="M664 95h5v5h-5z"/>
<path fill="#2fb47c" d="M684 60h5v5h-5zM659 85h5v5h-5zM684 95h5v5h-5z"/>
<path fill="#34b679" d="M689 65h5v5h-5zM659 70h5v5h-5zM689 90h5v5h-5z"/>
<path fill="#38b977" d="M669 60h5v5h-5zM659 75h5v5h-5zM659 80h5v5h-5z"/>
<path fill="#3fbc73" d="M679 60h5v5h-5zM669 95h5v5h-5z"/>
<path fill="#44bf70" d="M674 60h5v5h-5zM679 95h5v5h-5z"/>
<path fill="#4ac16d" d="M689 70h5v5h-5zM689 85h5v5h-5zM674 95h5v5h-5z"/>
<path fill="#50c46a" d="M664 65h5v5h-5zM664 90h5v5h-5z"/>
<path fill="#56c667" d="M689 75h5v5h-5zM689 80h5v5h-5z"/>
<path fill="#65cb5e" d="M684 65h5v5h-5zM684 90h5v5h-5z"/>
<path fill="#73d056" d="M664 70h5v5h-5zM664 85h5v5h-5z"/>
<path fill="#7ad151" d="M669 65h5v5h-5zM669 90h5v5h-5z"/>
<path fill="#84d44b" d="M679 65h5v5h-5zM664 80h5v5h-5zM679 90h5v5h-5z"/>
<path fill="#8bd646" d="M674 65h5v5h-5zM664 75h5v5h-5zM684 85h5v5h-5zM674 90h5v5h-5z"/>
<path fill="#93d741" d="M684 70h5v5h-5z"/>
<path fill="#a2da37" d="M684 75h5v5h-5zM684 80h5v5h-5z"/>
<path fill="#addc30" d="M669 85h5v5h-5z"/>
<path fill="#b5de2b" d="M669 70h5v5h-5z"/>
<path fill="#bddf26" d="M679 70h5v5h-5zM679 85h5v5h-5z"/>
<path fill="#c5e021" d="M674 70h5v5h-5zM669 75h5v5h-5zM669 80h5v5h-5zM674 85h5v5h-5z"/>
<path fill="#d8e219" d="M679 75h5v5h-5zM679 80h5v5h-5z"/>
<path fill="#dfe318" d="M674 75h5v5h-5zM674 80h5v5h-5z"/></g>
<path fill="none" stroke="#fff" stroke-opacity="0.72" stroke-width="0.95" stroke-linejoin="round" d="M669.8,50.1 672.8,49.4 675.8,49.3 678.8,49.5 681.8,50.0 683.2,50.3 686.2,51.1 688.1,51.8 690.8,52.8 692.2,53.6 694.2,54.8 696.1,56.2 697.5,57.8 698.6,59.2 699.8,61.2 700.9,63.8 701.4,65.2 702.3,68.2 702.8,70.4 703.2,72.8 703.5,75.8 703.6,78.8 703.7,81.8 703.6,84.8 703.2,87.8 702.8,90.0 702.2,92.2 701.2,94.8 700.4,96.8 699.6,98.2 698.2,100.3 696.8,102.3 695.2,103.9 693.8,105.2 692.2,106.3 690.7,107.2 687.8,108.6 686.2,109.1 683.2,109.8 680.2,110.1 677.2,110.1 674.2,110.0 671.2,109.5 668.3,108.8 666.8,108.3 664.2,107.2 662.2,106.3 660.8,105.4 659.2,104.2 657.7,102.7 656.2,100.6 655.2,98.2 654.7,96.8 653.7,93.8 653.2,92.1 652.5,89.2 651.9,86.2 651.7,84.8 651.4,81.8 651.3,78.8 651.4,75.8 651.7,72.8 652.0,71.2 652.7,68.2 653.2,66.5 654.4,63.8 655.2,62.2 656.2,60.6 657.8,58.6 659.2,56.9 660.8,55.5 662.2,54.3 663.7,53.2 666.1,51.8 668.2,50.7 669.8,50.1 Z M671.3,56.0 674.2,55.5 677.2,55.4 680.2,55.5 683.2,55.8 685.1,56.2 687.8,57.1 689.2,57.9 691.4,59.2 693.1,60.8 694.4,62.2 695.4,63.8 696.8,66.4 697.5,68.2 698.2,71.0 698.6,72.8 699.0,75.8 699.2,78.8 699.3,81.8 699.1,84.8 698.6,87.8 698.2,89.3 697.3,92.2 696.6,93.8 695.2,96.3 693.8,98.2 692.4,99.8 690.8,101.2 689.2,102.2 687.8,103.1 684.8,104.2 683.2,104.6 680.2,105.0 677.2,105.1 674.2,104.9 671.2,104.4 669.8,104.0 666.8,102.8 665.2,101.9 663.8,100.9 662.2,99.5 660.8,97.7 659.2,95.3 658.5,93.8 657.8,91.7 657.0,89.2 656.4,86.2 656.2,84.7 655.9,81.8 655.9,78.8 656.0,75.8 656.2,73.5 656.7,71.2 657.6,68.2 658.2,66.8 659.2,64.7 660.8,62.6 662.2,60.9 663.8,59.6 665.2,58.5 666.8,57.7 669.8,56.4 671.3,56.0 Z M672.8,60.6 675.8,60.2 678.8,60.2 681.8,60.4 683.3,60.8 686.2,61.8 687.8,62.7 689.2,63.8 690.8,65.4 692.2,67.6 693.3,69.8 693.8,71.2 694.5,74.2 694.8,77.2 694.9,80.2 694.8,83.2 694.4,86.2 693.8,89.0 693.1,90.8 692.2,92.4 690.8,94.6 689.2,96.2 687.8,97.4 686.2,98.3 683.2,99.5 681.8,99.8 678.8,100.1 675.8,100.1 673.0,99.8 671.2,99.3 668.7,98.2 666.8,97.0 665.2,95.7 663.8,93.9 662.7,92.2 662.0,90.8 661.0,87.8 660.7,86.2 660.3,83.2 660.2,80.2 660.2,77.2 660.5,74.2 660.8,72.8 661.7,69.8 662.4,68.2 663.8,66.1 665.2,64.4 666.8,63.2 668.2,62.2 671.2,61.0 672.8,60.6 Z M671.2,66.7 674.2,65.7 677.2,65.5 680.2,65.6 683.2,66.4 684.8,67.2 686.2,68.4 687.8,70.2 689.0,72.8 689.5,74.2 689.9,77.2 690.0,80.2 689.9,83.2 689.3,86.2 688.8,87.8 687.8,89.7 686.2,91.5 684.8,92.7 682.7,93.8 680.2,94.4 677.2,94.5 674.2,94.3 672.2,93.8 669.8,92.4 668.2,91.0 667.0,89.2 666.2,87.8 665.3,84.8 665.1,83.3 664.9,80.2 665.0,77.2 665.2,75.3 665.9,72.8 666.8,70.9 668.2,68.9 669.8,67.6 671.2,66.7 Z"/>
<ellipse cx="677.6" cy="78.8" rx="19.0" ry="17.4" transform="rotate(-90.0 677.6 78.8)" fill="none" stroke="#e0442c" stroke-width="1"/>
<path d="M674.9 78.9h4.6M677.2 76.6v4.6" stroke="#f05a28" stroke-width="0.9"/>
<path d="M674.9 80.9l4.6 4.6M679.5 80.9l-4.6 4.6" stroke="#3446a8" stroke-width="0.9"/>
<ellipse cx="614.3" cy="144.0" rx="16.8" ry="11.6" transform="rotate(-42.0 614.3 144.0)" fill="#fff"/>
</g>
<rect x="594.5" y="0.5" width="165" height="165" fill="none" stroke="#1a1a1a" stroke-width="1"/>
<text x="610.9" y="16.2" font-size="10.20" fill="#f4f4f4" stroke="#2a2a2a" stroke-width="1.7" paint-order="stroke" stroke-linejoin="round" textLength="34.7" lengthAdjust="spacingAndGlyphs">Line 54</text>
<text x="611.0" y="26.5" font-size="10.20" fill="#f4f4f4" stroke="#2a2a2a" stroke-width="1.7" paint-order="stroke" stroke-linejoin="round" textLength="47" lengthAdjust="spacingAndGlyphs">CH<tspan font-size="7.4" dy="2.3">3</tspan><tspan dy="-2.3">OCHO</tspan></text>
<text x="693.3" y="15.8" font-size="10.20" fill="#f4f4f4" stroke="#2a2a2a" stroke-width="1.7" paint-order="stroke" stroke-linejoin="round" textLength="63.0" lengthAdjust="spacingAndGlyphs">0.47″ × 0.40″</text>
<text x="693.3" y="26.3" font-size="10.20" fill="#f4f4f4" stroke="#2a2a2a" stroke-width="1.7" paint-order="stroke" stroke-linejoin="round" textLength="58.7" lengthAdjust="spacingAndGlyphs">PA=164.70 °</text>
<text x="662.6" y="148.9" font-size="10.4" fill="#fff" textLength="80.8" lengthAdjust="spacingAndGlyphs">345466.713 MHz</text>
<g clip-path="url(#cp4)">
<g filter="url(#bl)"><path fill="#470e61" d="M239 330h20v5h-20zM244 335h10v5h-10z"/>
<path fill="#471365" d="M244 325h10v5h-10zM234 330h5v5h-5zM239 335h5v5h-5zM254 335h5v5h-5zM244 340h10v5h-10z"/>
<path fill="#48186a" d="M234 230h25v5h-25zM239 325h5v5h-5zM254 325h5v5h-5zM234 335h5v5h-5zM239 340h5v5h-5zM254 340h5v5h-5z"/>
<path fill="#481c6e" d="M239 225h20v5h-20zM234 325h5v5h-5zM229 330h5v5h-5zM234 340h5v5h-5z"/>
<path fill="#482071" d="M234 225h5v5h-5zM229 230h5v5h-5zM229 335h5v5h-5z"/>
<path fill="#482475" d="M234 235h25v5h-25zM229 325h5v5h-5zM224 330h5v5h-5zM229 340h5v5h-5z"/>
<path fill="#482878" d="M229 225h5v5h-5zM229 235h5v5h-5zM239 320h20v5h-20zM224 335h5v5h-5z"/>
<path fill="#472d7b" d="M239 220h20v5h-20zM224 230h5v5h-5zM224 235h5v5h-5zM209 250h5v5h-5zM224 325h5v5h-5zM224 340h5v5h-5z"/>
<path fill="#46307e" d="M234 220h5v5h-5zM209 255h5v5h-5zM234 320h5v5h-5zM219 330h5v5h-5zM219 335h5v5h-5z"/>
<path fill="#463480" d="M224 225h5v5h-5zM209 245h5v5h-5zM219 325h5v5h-5zM219 340h5v5h-5z"/>
<path fill="#453882" d="M229 220h5v5h-5zM219 235h5v5h-5zM214 245h5v5h-5zM204 250h5v5h-5zM214 250h5v5h-5zM214 330h5v5h-5zM214 335h5v5h-5z"/>
<path fill="#443b84" d="M209 195h5v5h-5zM209 200h5v5h-5zM219 240h5v5h-5zM204 255h5v5h-5zM229 320h5v5h-5zM214 325h5v5h-5zM214 340h5v5h-5z"/>
<path fill="#424086" d="M214 195h5v5h-5zM214 200h5v5h-5zM219 230h5v5h-5zM214 240h5v5h-5zM224 240h35v5h-35zM214 255h5v5h-5zM209 260h5v5h-5zM244 315h10v5h-10zM224 320h5v5h-5zM209 330h5v5h-5z"/>
<path fill="#414487" d="M209 190h5v5h-5zM204 195h5v5h-5zM209 205h10v5h-10zM244 215h5v5h-5zM224 220h5v5h-5zM204 245h5v5h-5zM104 250h5v5h-5zM239 315h5v5h-5zM254 315h5v5h-5zM214 320h10v5h-10zM209 325h5v5h-5zM209 335h5v5h-5zM209 340h5v5h-5z"/>
<path fill="#3f4788" d="M204 190h5v5h-5zM214 190h5v5h-5zM204 200h5v5h-5zM234 215h10v5h-10zM249 215h10v5h-10zM219 225h5v5h-5zM214 235h5v5h-5zM209 240h5v5h-5zM219 245h5v5h-5zM209 320h5v5h-5z"/>
<path fill="#3e4a89" d="M164 165h5v5h-5zM164 170h5v5h-5zM219 195h5v5h-5zM219 200h5v5h-5zM219 205h5v5h-5zM229 215h5v5h-5zM104 245h5v5h-5zM99 250h5v5h-5zM109 250h5v5h-5zM204 260h5v5h-5zM234 315h5v5h-5zM204 325h5v5h-5zM204 330h5v5h-5zM204 335h5v5h-5zM204 340h5v5h-5z"/>
<path fill="#3d4e8a" d="M164 160h5v5h-5zM169 170h5v5h-5zM164 175h5v5h-5zM204 185h10v5h-10zM199 190h5v5h-5zM219 190h5v5h-5zM199 195h5v5h-5zM204 205h5v5h-5zM214 210h10v5h-10zM224 215h5v5h-5zM99 245h5v5h-5zM109 245h5v5h-5zM104 255h5v5h-5zM214 260h5v5h-5zM209 315h5v5h-5zM204 320h5v5h-5z"/>
<path fill="#3b528b" d="M169 160h5v5h-5zM169 165h5v5h-5zM169 175h5v5h-5zM199 185h5v5h-5zM214 185h5v5h-5zM169 205h10v5h-10zM209 210h5v5h-5zM219 215h5v5h-5zM219 220h5v5h-5zM214 230h5v5h-5zM199 250h5v5h-5zM219 250h5v5h-5zM204 315h5v5h-5zM214 315h5v5h-5zM199 325h5v5h-5zM154 330h20v5h-20zM199 330h5v5h-5zM164 335h5v5h-5zM199 335h5v5h-5zM199 340h5v5h-5z"/>
<path fill="#39558c" d="M159 165h5v5h-5zM159 170h5v5h-5zM219 185h5v5h-5zM194 190h5v5h-5zM224 190h5v5h-5zM224 195h5v5h-5zM169 200h10v5h-10zM199 200h5v5h-5zM224 200h5v5h-5zM224 205h5v5h-5zM224 210h5v5h-5zM204 240h5v5h-5zM224 245h5v5h-5zM99 255h5v5h-5zM109 255h5v5h-5zM209 265h5v5h-5zM104 280h10v5h-10zM134 310h5v5h-5zM209 310h5v5h-5zM239 310h20v5h-20zM134 315h5v5h-5zM219 315h5v5h-5zM229 315h5v5h-5zM134 320h10v5h-10zM199 320h5v5h-5zM134 325h20v5h-20zM164 325h20v5h-20zM194 325h5v5h-5zM139 330h15v5h-15zM174 330h15v5h-15zM194 330h5v5h-5zM134 335h30v5h-30zM169 335h15v5h-15zM194 335h5v5h-5zM134 340h20v5h-20zM164 340h20v5h-20zM194 340h5v5h-5z"/>
<path fill="#38598c" d="M159 160h5v5h-5zM159 175h5v5h-5zM164 180h5v5h-5zM204 180h15v5h-15zM194 195h5v5h-5zM164 200h5v5h-5zM179 200h5v5h-5zM164 205h5v5h-5zM179 205h5v5h-5zM229 210h10v5h-10zM214 215h5v5h-5zM209 235h5v5h-5zM104 240h5v5h-5zM114 250h5v5h-5zM199 255h5v5h-5zM144 295h10v5h-10zM139 300h15v5h-15zM134 305h10v5h-10zM139 310h5v5h-5zM129 315h5v5h-5zM139 315h5v5h-5zM199 315h5v5h-5zM224 315h5v5h-5zM129 320h5v5h-5zM144 320h5v5h-5zM194 320h5v5h-5zM154 325h10v5h-10zM184 325h10v5h-10zM134 330h5v5h-5zM189 330h5v5h-5zM184 335h10v5h-10zM154 340h10v5h-10zM184 340h10v5h-10z"/>
<path fill="#365c8d" d="M174 165h5v5h-5zM174 170h5v5h-5zM169 180h5v5h-5zM199 180h5v5h-5zM194 185h5v5h-5zM224 185h5v5h-5zM229 190h10v5h-10zM229 195h5v5h-5zM204 210h5v5h-5zM239 210h20v5h-20zM214 225h5v5h-5zM99 240h5v5h-5zM94 245h5v5h-5zM114 245h5v5h-5zM199 245h5v5h-5zM229 245h5v5h-5zM94 250h5v5h-5zM219 255h5v5h-5zM214 265h5v5h-5zM104 275h10v5h-10zM114 280h5v5h-5zM154 295h5v5h-5zM144 305h5v5h-5zM129 310h5v5h-5zM204 310h5v5h-5zM214 310h5v5h-5zM179 320h15v5h-15zM129 325h5v5h-5zM129 330h5v5h-5zM129 335h5v5h-5zM129 340h5v5h-5z"/>
<path fill="#355f8d" d="M174 160h5v5h-5zM204 160h15v5h-15zM209 165h5v5h-5zM209 170h5v5h-5zM174 175h5v5h-5zM204 175h15v5h-15zM159 180h5v5h-5zM219 180h5v5h-5zM229 185h30v5h-30zM189 190h5v5h-5zM239 190h20v5h-20zM169 195h10v5h-10zM189 195h5v5h-5zM184 200h5v5h-5zM229 200h5v5h-5zM199 205h5v5h-5zM229 205h5v5h-5zM174 210h5v5h-5zM209 215h5v5h-5zM214 220h5v5h-5zM109 240h5v5h-5zM234 245h5v5h-5zM104 260h5v5h-5zM204 265h5v5h-5zM104 285h10v5h-10zM149 290h5v5h-5zM139 295h5v5h-5zM134 300h5v5h-5zM154 300h5v5h-5zM129 305h5v5h-5zM244 305h10v5h-10zM144 310h5v5h-5zM234 310h5v5h-5zM124 315h5v5h-5zM144 315h5v5h-5zM184 315h15v5h-15zM124 320h5v5h-5zM149 320h5v5h-5zM174 320h5v5h-5z"/>
<path fill="#33638d" d="M199 160h5v5h-5zM204 165h5v5h-5zM214 165h5v5h-5zM204 170h5v5h-5zM214 170h5v5h-5zM199 175h5v5h-5zM194 180h5v5h-5zM224 180h5v5h-5zM239 180h20v5h-20zM189 185h5v5h-5zM164 195h5v5h-5zM179 195h10v5h-10zM234 195h10v5h-10zM254 195h5v5h-5zM189 200h10v5h-10zM184 205h5v5h-5zM169 210h5v5h-5zM179 210h5v5h-5zM94 240h5v5h-5zM239 245h20v5h-20zM94 255h5v5h-5zM114 255h5v5h-5zM99 260h5v5h-5zM109 260h5v5h-5zM199 260h5v5h-5zM219 260h5v5h-5zM114 275h5v5h-5zM99 280h5v5h-5zM154 290h5v5h-5zM159 295h5v5h-5zM149 305h5v5h-5zM209 305h10v5h-10zM239 305h5v5h-5zM254 305h5v5h-5zM124 310h5v5h-5zM199 310h5v5h-5zM219 310h5v5h-5zM179 315h5v5h-5zM154 320h20v5h-20zM124 325h5v5h-5zM124 330h5v5h-5zM124 335h5v5h-5zM124 340h5v5h-5z"/>
<path fill="#31668e" d="M154 160h5v5h-5zM219 160h5v5h-5zM154 165h5v5h-5zM199 165h5v5h-5zM219 165h5v5h-5zM154 170h5v5h-5zM199 170h5v5h-5zM219 170h5v5h-5zM154 175h5v5h-5zM219 175h5v5h-5zM174 180h5v5h-5zM229 180h10v5h-10zM164 185h10v5h-10zM184 190h5v5h-5zM244 195h10v5h-10zM159 200h5v5h-5zM234 200h5v5h-5zM159 205h5v5h-5zM234 205h5v5h-5zM164 210h5v5h-5zM74 225h20v5h-20zM79 230h10v5h-10zM209 230h5v5h-5zM104 270h10v5h-10zM99 275h5v5h-5zM114 285h5v5h-5zM144 290h5v5h-5zM159 290h5v5h-5zM239 300h20v5h-20zM234 305h5v5h-5zM229 310h5v5h-5zM119 315h5v5h-5zM149 315h5v5h-5zM174 315h5v5h-5zM119 320h5v5h-5z"/>
<path fill="#30698e" d="M179 160h5v5h-5zM194 160h5v5h-5zM224 160h35v5h-35zM179 165h5v5h-5zM224 165h5v5h-5zM239 165h20v5h-20zM179 170h5v5h-5zM244 170h5v5h-5zM179 175h5v5h-5zM194 175h5v5h-5zM224 175h35v5h-35zM189 180h5v5h-5zM159 185h5v5h-5zM174 185h5v5h-5zM184 185h5v5h-5zM164 190h20v5h-20zM239 200h5v5h-5zM254 200h5v5h-5zM189 205h10v5h-10zM239 205h20v5h-20zM199 210h5v5h-5zM204 215h5v5h-5zM74 220h15v5h-15zM94 225h5v5h-5zM74 230h5v5h-5zM89 230h10v5h-10zM74 235h35v5h-35zM204 235h5v5h-5zM74 240h10v5h-10zM89 240h5v5h-5zM114 240h5v5h-5zM199 240h5v5h-5zM74 245h10v5h-10zM89 245h5v5h-5zM74 250h5v5h-5zM89 250h5v5h-5zM119 250h5v5h-5zM224 250h5v5h-5zM104 265h5v5h-5zM119 280h5v5h-5zM99 285h5v5h-5zM134 295h5v5h-5zM164 295h5v5h-5zM224 295h35v5h-35zM129 300h5v5h-5zM159 300h5v5h-5zM229 300h10v5h-10zM124 305h5v5h-5zM204 305h5v5h-5zM219 305h5v5h-5zM104 310h20v5h-20zM149 310h5v5h-5zM179 310h20v5h-20zM224 310h5v5h-5zM109 315h10v5h-10zM119 325h5v5h-5zM119 330h5v5h-5zM119 335h5v5h-5zM119 340h5v5h-5z"/>
<path fill="#2f6c8e" d="M184 160h10v5h-10zM194 165h5v5h-5zM229 165h10v5h-10zM194 170h5v5h-5zM224 170h20v5h-20zM249 170h10v5h-10zM184 175h10v5h-10zM154 180h5v5h-5zM179 180h10v5h-10zM179 185h5v5h-5zM159 195h5v5h-5zM244 200h10v5h-10zM184 210h5v5h-5zM89 220h10v5h-10zM209 220h5v5h-5zM209 225h5v5h-5zM99 230h5v5h-5zM84 240h5v5h-5zM84 245h5v5h-5zM119 245h5v5h-5zM79 250h5v5h-5zM194 250h5v5h-5zM94 260h5v5h-5zM99 265h5v5h-5zM109 265h5v5h-5zM219 265h5v5h-5zM99 270h5v5h-5zM209 270h5v5h-5zM119 285h5v5h-5zM164 290h5v5h-5zM224 290h20v5h-20zM254 290h5v5h-5zM219 295h5v5h-5zM214 300h15v5h-15zM154 305h5v5h-5zM224 305h10v5h-10zM104 315h5v5h-5zM154 315h5v5h-5zM114 320h5v5h-5z"/>
<path fill="#2e6f8e" d="M184 165h10v5h-10zM184 170h10v5h-10zM159 190h5v5h-5zM159 210h5v5h-5zM189 210h10v5h-10zM99 220h5v5h-5zM99 225h5v5h-5zM109 235h5v5h-5zM84 250h5v5h-5zM74 255h5v5h-5zM89 255h5v5h-5zM119 255h5v5h-5zM194 255h5v5h-5zM114 260h5v5h-5zM199 265h5v5h-5zM114 270h5v5h-5zM204 270h5v5h-5zM214 270h5v5h-5zM119 275h5v5h-5zM94 280h5v5h-5zM104 290h10v5h-10zM139 290h5v5h-5zM244 290h10v5h-10zM129 295h5v5h-5zM169 295h5v5h-5zM164 300h5v5h-5zM209 300h5v5h-5zM104 305h10v5h-10zM119 305h5v5h-5zM179 305h5v5h-5zM199 305h5v5h-5zM99 310h5v5h-5zM174 310h5v5h-5zM99 315h5v5h-5zM169 315h5v5h-5zM109 320h5v5h-5zM114 325h5v5h-5zM114 340h5v5h-5z"/>
<path fill="#2c728e" d="M149 160h5v5h-5zM149 165h5v5h-5zM149 170h5v5h-5zM149 175h5v5h-5zM124 185h15v5h-15zM154 185h5v5h-5zM119 190h20v5h-20zM104 205h5v5h-5zM104 210h5v5h-5zM74 215h5v5h-5zM94 215h15v5h-15zM199 215h5v5h-5zM104 220h5v5h-5zM104 225h5v5h-5zM104 230h5v5h-5zM119 240h5v5h-5zM194 245h5v5h-5zM124 250h5v5h-5zM79 255h10v5h-10zM94 275h5v5h-5zM94 285h5v5h-5zM149 285h10v5h-10zM229 285h15v5h-15zM254 285h5v5h-5zM99 290h5v5h-5zM114 290h5v5h-5zM169 290h5v5h-5zM214 295h5v5h-5zM124 300h5v5h-5zM169 300h10v5h-10zM99 305h5v5h-5zM114 305h5v5h-5zM159 305h5v5h-5zM174 305h5v5h-5zM184 305h5v5h-5zM154 310h5v5h-5zM159 315h10v5h-10zM104 320h5v5h-5zM114 330h5v5h-5zM114 335h5v5h-5z"/>
<path fill="#2b758e" d="M129 180h10v5h-10zM149 180h5v5h-5zM119 185h5v5h-5zM139 185h5v5h-5zM114 190h5v5h-5zM154 190h5v5h-5zM104 195h20v5h-20zM154 195h5v5h-5zM104 200h10v5h-10zM154 200h5v5h-5zM109 205h5v5h-5zM154 205h5v5h-5zM99 210h5v5h-5zM109 210h5v5h-5zM79 215h5v5h-5zM204 220h5v5h-5zM109 230h5v5h-5zM204 230h5v5h-5zM114 235h5v5h-5zM124 245h5v5h-5zM229 250h5v5h-5zM124 255h5v5h-5zM224 255h5v5h-5zM74 260h5v5h-5zM89 260h5v5h-5zM119 260h5v5h-5zM94 265h5v5h-5zM114 265h5v5h-5zM94 270h5v5h-5zM119 270h5v5h-5zM199 270h5v5h-5zM219 270h5v5h-5zM159 285h5v5h-5zM224 285h5v5h-5zM244 285h10v5h-10zM94 290h5v5h-5zM119 290h5v5h-5zM134 290h5v5h-5zM219 290h5v5h-5zM124 295h5v5h-5zM174 295h5v5h-5zM179 300h5v5h-5zM204 300h5v5h-5zM94 305h5v5h-5zM169 305h5v5h-5zM189 305h5v5h-5zM94 310h5v5h-5zM169 310h5v5h-5zM94 315h5v5h-5zM99 320h5v5h-5zM109 325h5v5h-5zM109 340h5v5h-5z"/>
<path fill="#2a788e" d="M144 160h5v5h-5zM144 165h5v5h-5zM144 175h5v5h-5zM124 180h5v5h-5zM139 180h10v5h-10zM114 185h5v5h-5zM144 185h10v5h-10zM109 190h5v5h-5zM139 190h5v5h-5zM124 195h10v5h-10zM114 200h5v5h-5zM99 205h5v5h-5zM84 215h10v5h-10zM109 215h5v5h-5zM194 215h5v5h-5zM109 220h5v5h-5zM109 225h5v5h-5zM204 225h5v5h-5zM199 235h5v5h-5zM124 240h5v5h-5zM129 250h5v5h-5zM234 250h5v5h-5zM129 255h5v5h-5zM79 260h10v5h-10zM124 260h10v5h-10zM194 260h5v5h-5zM224 260h5v5h-5zM124 275h5v5h-5zM124 280h5v5h-5zM189 280h5v5h-5zM229 280h10v5h-10zM74 285h5v5h-5zM89 285h5v5h-5zM124 285h5v5h-5zM144 285h5v5h-5zM164 285h5v5h-5zM124 290h10v5h-10zM174 290h5v5h-5zM94 300h30v5h-30zM164 305h5v5h-5zM194 305h5v5h-5zM159 310h5v5h-5zM94 320h5v5h-5zM79 330h10v5h-10zM109 330h5v5h-5zM84 335h5v5h-5zM109 335h5v5h-5z"/>
<path fill="#297b8e" d="M129 160h15v5h-15zM129 165h15v5h-15zM129 170h20v5h-20zM129 175h15v5h-15zM119 180h5v5h-5zM104 190h5v5h-5zM144 190h10v5h-10zM99 195h5v5h-5zM134 195h5v5h-5zM99 200h5v5h-5zM119 200h5v5h-5zM114 205h5v5h-5zM114 210h5v5h-5zM154 210h5v5h-5zM114 215h5v5h-5zM174 215h20v5h-20zM114 220h5v5h-5zM199 220h5v5h-5zM114 225h5v5h-5zM114 230h5v5h-5zM119 235h5v5h-5zM129 245h5v5h-5zM239 250h20v5h-20zM134 255h5v5h-5zM134 260h5v5h-5zM74 265h20v5h-20zM119 265h15v5h-15zM194 265h5v5h-5zM224 265h5v5h-5zM74 270h5v5h-5zM89 270h5v5h-5zM124 270h5v5h-5zM194 270h5v5h-5zM224 270h5v5h-5zM74 275h5v5h-5zM89 275h5v5h-5zM189 275h15v5h-15zM224 275h5v5h-5zM74 280h10v5h-10zM89 280h5v5h-5zM184 280h5v5h-5zM194 280h5v5h-5zM224 280h5v5h-5zM239 280h20v5h-20zM79 285h10v5h-10zM169 285h5v5h-5zM219 285h5v5h-5zM74 290h20v5h-20zM179 290h5v5h-5zM74 295h50v5h-50zM179 295h5v5h-5zM209 295h5v5h-5zM74 300h20v5h-20zM184 300h5v5h-5zM74 305h20v5h-20zM74 310h20v5h-20zM164 310h5v5h-5zM74 315h20v5h-20zM74 320h20v5h-20zM74 325h35v5h-35zM74 330h5v5h-5zM89 330h10v5h-10zM74 335h10v5h-10zM89 335h10v5h-10zM104 335h5v5h-5zM74 340h35v5h-35z"/>
<path fill="#277e8e" d="M124 160h5v5h-5zM124 165h5v5h-5zM124 170h5v5h-5zM124 175h5v5h-5zM114 180h5v5h-5zM109 185h5v5h-5zM99 190h5v5h-5zM139 195h15v5h-15zM124 200h5v5h-5zM149 200h5v5h-5zM74 210h5v5h-5zM94 210h5v5h-5zM164 215h10v5h-10zM119 230h5v5h-5zM124 235h5v5h-5zM129 240h5v5h-5zM194 240h5v5h-5zM134 250h5v5h-5zM134 265h5v5h-5zM79 270h10v5h-10zM79 275h10v5h-10zM204 275h20v5h-20zM229 275h10v5h-10zM84 280h5v5h-5zM139 285h5v5h-5zM174 285h20v5h-20zM214 290h5v5h-5zM199 300h5v5h-5zM99 330h10v5h-10zM99 335h5v5h-5z"/>
<path fill="#26828e" d="M119 160h5v5h-5zM119 165h5v5h-5zM119 170h5v5h-5zM119 175h5v5h-5zM99 185h10v5h-10zM74 190h5v5h-5zM94 190h5v5h-5zM129 200h5v5h-5zM119 205h5v5h-5zM149 205h5v5h-5zM119 210h5v5h-5zM119 215h5v5h-5zM159 215h5v5h-5zM119 220h5v5h-5zM119 225h5v5h-5zM199 225h5v5h-5zM124 230h5v5h-5zM199 230h5v5h-5zM129 235h5v5h-5zM134 240h5v5h-5zM134 245h5v5h-5zM189 250h5v5h-5zM229 255h5v5h-5zM129 270h5v5h-5zM189 270h5v5h-5zM229 270h5v5h-5zM184 275h5v5h-5zM239 275h20v5h-20zM179 280h5v5h-5zM199 280h5v5h-5zM219 280h5v5h-5zM129 285h5v5h-5zM194 285h5v5h-5zM184 290h5v5h-5zM184 295h5v5h-5zM204 295h5v5h-5zM189 300h5v5h-5z"/>
<path fill="#25848e" d="M114 160h5v5h-5zM114 175h5v5h-5zM109 180h5v5h-5zM74 185h25v5h-25zM74 195h5v5h-5zM94 195h5v5h-5zM134 200h15v5h-15zM79 210h5v5h-5zM149 210h5v5h-5zM154 215h5v5h-5zM194 220h5v5h-5zM124 225h5v5h-5zM129 230h5v5h-5zM134 235h5v5h-5zM189 255h5v5h-5zM139 260h5v5h-5zM229 260h5v5h-5zM139 265h5v5h-5zM229 265h5v5h-5zM134 270h5v5h-5zM234 270h5v5h-5zM129 275h5v5h-5zM129 280h5v5h-5zM149 280h10v5h-10zM134 285h5v5h-5zM189 290h5v5h-5zM209 290h5v5h-5zM194 300h5v5h-5z"/>
<path fill="#24878e" d="M109 160h5v5h-5zM114 165h5v5h-5zM114 170h5v5h-5zM109 175h5v5h-5zM74 180h35v5h-35zM79 190h5v5h-5zM89 190h5v5h-5zM94 200h5v5h-5zM74 205h5v5h-5zM94 205h5v5h-5zM124 205h5v5h-5zM144 205h5v5h-5zM89 210h5v5h-5zM124 210h5v5h-5zM124 215h5v5h-5zM149 215h5v5h-5zM124 220h5v5h-5zM129 225h5v5h-5zM134 230h5v5h-5zM189 245h5v5h-5zM139 255h5v5h-5zM234 255h25v5h-25zM189 260h5v5h-5zM189 265h5v5h-5zM139 270h5v5h-5zM239 270h20v5h-20zM144 280h5v5h-5zM159 280h5v5h-5zM174 280h5v5h-5zM204 280h5v5h-5zM214 280h5v5h-5zM199 285h5v5h-5zM214 285h5v5h-5zM194 290h5v5h-5zM189 295h5v5h-5zM199 295h5v5h-5z"/>
<path fill="#238a8d" d="M74 160h25v5h-25zM104 160h5v5h-5zM79 165h10v5h-10zM109 165h5v5h-5zM109 170h5v5h-5zM74 175h25v5h-25zM104 175h5v5h-5zM84 190h5v5h-5zM74 200h5v5h-5zM129 205h15v5h-15zM84 210h5v5h-5zM144 210h5v5h-5zM144 215h5v5h-5zM129 220h5v5h-5zM139 220h5v5h-5zM134 225h10v5h-10zM139 230h5v5h-5zM139 235h5v5h-5zM194 235h5v5h-5zM139 250h5v5h-5zM234 260h5v5h-5zM234 265h25v5h-25zM184 270h5v5h-5zM134 275h5v5h-5zM179 275h5v5h-5zM134 280h10v5h-10zM164 280h10v5h-10zM209 280h5v5h-5zM204 285h5v5h-5zM199 290h10v5h-10zM194 295h5v5h-5z"/>
<path fill="#228d8d" d="M99 160h5v5h-5zM74 165h5v5h-5zM89 165h20v5h-20zM74 170h35v5h-35zM99 175h5v5h-5zM79 195h5v5h-5zM129 210h15v5h-15zM129 215h15v5h-15zM134 220h5v5h-5zM144 220h5v5h-5zM189 220h5v5h-5zM139 240h5v5h-5zM139 245h5v5h-5zM239 260h20v5h-20zM139 275h10v5h-10zM209 285h5v5h-5z"/>
<path fill="#21918c" d="M89 195h5v5h-5zM149 220h5v5h-5zM144 225h5v5h-5zM194 225h5v5h-5zM144 270h5v5h-5z"/>
<path fill="#20938c" d="M79 200h5v5h-5zM79 205h5v5h-5zM184 220h5v5h-5zM194 230h5v5h-5zM189 240h5v5h-5zM184 265h5v5h-5zM149 275h5v5h-5z"/>
<path fill="#1f968b" d="M84 195h5v5h-5zM89 205h5v5h-5zM154 220h5v5h-5zM144 230h5v5h-5zM144 265h5v5h-5zM174 275h5v5h-5z"/>
<path fill="#1f998a" d="M89 200h5v5h-5zM179 220h5v5h-5zM144 260h5v5h-5zM184 260h5v5h-5zM179 270h5v5h-5zM154 275h5v5h-5z"/>
<path fill="#1e9c89" d="M84 205h5v5h-5zM159 220h5v5h-5zM149 225h5v5h-5zM189 225h5v5h-5zM144 235h5v5h-5zM184 250h5v5h-5zM184 255h5v5h-5zM159 275h5v5h-5zM169 275h5v5h-5z"/>
<path fill="#1fa088" d="M84 200h5v5h-5zM164 220h15v5h-15zM189 235h5v5h-5zM144 255h5v5h-5zM149 270h5v5h-5zM164 275h5v5h-5z"/>
<path fill="#1fa287" d="M144 240h5v5h-5zM144 245h5v5h-5zM144 250h5v5h-5z"/>
<path fill="#21a585" d="M189 230h5v5h-5zM184 245h5v5h-5z"/>
<path fill="#22a884" d="M154 225h5v5h-5zM149 230h5v5h-5zM179 265h5v5h-5zM174 270h5v5h-5z"/>
<path fill="#28ae80" d="M184 225h5v5h-5zM184 240h5v5h-5zM149 265h5v5h-5zM154 270h5v5h-5z"/>
<path fill="#2fb47c" d="M159 225h5v5h-5zM179 260h5v5h-5zM169 270h5v5h-5z"/>
<path fill="#34b679" d="M149 235h5v5h-5zM159 270h10v5h-10z"/>
<path fill="#38b977" d="M179 225h5v5h-5zM184 235h5v5h-5zM149 260h5v5h-5z"/>
<path fill="#3fbc73" d="M164 225h5v5h-5zM154 230h5v5h-5zM184 230h5v5h-5zM179 255h5v5h-5z"/>
<path fill="#44bf70" d="M149 240h5v5h-5zM179 250h5v5h-5zM174 265h5v5h-5z"/>
<path fill="#4ac16d" d="M169 225h10v5h-10zM149 255h5v5h-5zM154 265h5v5h-5z"/>
<path fill="#50c46a" d="M149 245h5v5h-5zM149 250h5v5h-5z"/>
<path fill="#56c667" d="M179 245h5v5h-5z"/>
<path fill="#65cb5e" d="M159 230h5v5h-5zM169 265h5v5h-5z"/>
<path fill="#6ccd5a" d="M179 230h5v5h-5zM154 235h5v5h-5zM179 240h5v5h-5zM174 260h5v5h-5zM159 265h10v5h-10z"/>
<path fill="#7ad151" d="M164 230h5v5h-5zM179 235h5v5h-5zM154 260h5v5h-5z"/>
<path fill="#8bd646" d="M174 255h5v5h-5z"/>
<path fill="#93d741" d="M169 230h10v5h-10zM154 240h5v5h-5z"/>
<path fill="#9bd93c" d="M159 235h5v5h-5zM174 250h5v5h-5zM154 255h5v5h-5zM169 260h5v5h-5z"/>
<path fill="#a2da37" d="M154 245h5v5h-5zM154 250h5v5h-5zM159 260h5v5h-5z"/>
<path fill="#addc30" d="M174 245h5v5h-5zM164 260h5v5h-5z"/>
<path fill="#b5de2b" d="M174 235h5v5h-5z"/>
<path fill="#bddf26" d="M164 235h5v5h-5zM174 240h5v5h-5z"/>
<path fill="#c5e021" d="M159 240h5v5h-5zM169 255h5v5h-5z"/>
<path fill="#cde11d" d="M169 235h5v5h-5zM159 255h5v5h-5z"/>
<path fill="#d8e219" d="M169 250h5v5h-5zM164 255h5v5h-5z"/>
<path fill="#dfe318" d="M164 240h5v5h-5zM159 245h5v5h-5zM159 250h5v5h-5z"/>
<path fill="#e7e419" d="M169 240h5v5h-5zM164 245h10v5h-10zM164 250h5v5h-5z"/></g>
<path fill="none" stroke="#fff" stroke-opacity="0.72" stroke-width="0.95" stroke-linejoin="round" d="M84.8,198.5 86.3,197.7 89.2,197.6 90.8,198.5 92.2,200.5 92.8,202.2 92.9,205.2 92.2,207.2 90.8,209.0 89.2,209.8 86.2,209.9 84.8,209.1 84.8,209.1 M158.2,221.5 161.2,221.1 164.2,220.8 167.2,220.7 170.2,220.6 173.2,220.6 176.2,220.7 179.2,220.9 182.2,221.2 185.2,221.7 186.8,222.0 189.8,223.0 191.2,223.7 192.9,224.8 194.6,226.2 195.8,228.0 196.5,230.8 196.1,233.8 195.6,235.2 194.2,238.0 193.2,239.8 192.3,241.2 191.2,243.2 190.1,245.8 189.5,247.2 188.8,250.2 188.4,253.2 188.3,256.2 188.3,259.2 188.2,260.8 187.9,263.8 187.2,266.8 186.5,268.2 185.2,270.4 183.8,272.5 182.2,274.2 180.8,275.6 179.2,276.9 177.8,277.8 175.9,278.8 173.2,279.7 170.2,280.1 167.2,280.2 164.2,280.1 161.2,279.8 158.2,279.3 156.0,278.8 153.8,278.0 152.1,277.2 149.8,275.8 148.4,274.2 147.5,272.8 146.4,269.8 146.0,268.2 145.3,265.2 144.8,262.3 144.5,260.8 144.0,257.8 143.6,254.8 143.4,251.8 143.3,248.8 143.3,245.8 143.4,242.8 143.7,239.8 144.3,236.8 144.8,235.0 145.7,232.2 146.4,230.8 147.8,228.4 149.2,226.6 150.8,225.1 152.2,224.0 153.8,223.1 156.8,221.9 158.2,221.5 Z M168.8,224.5 171.8,224.3 174.8,224.2 177.8,224.4 180.4,224.8 182.2,225.2 185.2,226.2 186.8,227.1 188.2,228.3 189.8,230.6 190.2,232.2 189.9,235.2 189.5,236.8 188.3,239.8 187.6,241.2 186.8,243.5 186.0,245.8 185.2,248.5 184.9,250.2 184.5,253.2 184.3,256.2 183.9,259.2 183.7,260.8 182.9,263.8 182.2,265.4 180.8,268.1 179.4,269.8 177.9,271.2 176.2,272.4 174.8,273.3 172.1,274.2 170.2,274.6 167.2,274.9 164.2,274.9 161.2,274.6 159.4,274.2 156.8,273.3 155.2,272.5 153.7,271.2 152.2,269.7 150.8,267.3 149.9,265.2 149.2,263.5 148.5,260.8 148.0,257.8 147.8,255.1 147.6,253.2 147.5,250.2 147.6,247.2 147.8,244.5 148.0,242.8 148.5,239.8 149.2,237.5 150.2,235.2 151.0,233.8 152.2,231.9 153.8,230.3 155.2,229.0 157.2,227.8 159.8,226.5 161.2,226.0 164.2,225.3 167.2,224.8 168.8,224.5 Z M173.2,227.7 176.2,227.7 177.8,227.9 180.8,228.8 182.2,229.5 183.8,230.8 185.2,233.8 185.3,235.3 185.1,236.8 184.4,239.8 183.8,241.8 183.0,244.2 182.3,247.2 181.9,248.8 181.4,251.8 181.1,254.8 180.8,257.3 180.4,259.2 179.4,262.2 178.7,263.8 177.8,265.3 176.2,267.0 174.8,268.3 171.8,269.7 170.2,270.1 167.2,270.5 164.2,270.5 161.2,270.2 159.8,269.7 156.9,268.2 155.2,266.8 154.1,265.2 153.2,263.8 152.2,261.4 151.7,259.2 151.2,256.2 150.9,253.2 150.9,250.2 151.0,247.2 151.3,244.2 151.9,241.2 152.4,239.8 153.8,236.9 154.9,235.2 156.2,233.8 158.1,232.2 159.8,231.2 161.2,230.5 164.2,229.5 165.8,229.1 168.8,228.3 171.8,227.8 173.2,227.7 Z M168.8,232.2 171.8,231.6 174.8,231.5 177.8,232.2 179.2,233.3 180.5,235.2 180.8,236.8 180.8,238.6 180.3,241.2 179.7,244.2 179.3,246.2 178.7,248.8 178.2,251.8 177.8,254.8 177.5,256.2 176.7,259.2 176.0,260.8 174.8,262.6 173.2,264.1 171.1,265.2 168.8,265.9 165.8,266.1 162.8,265.9 160.4,265.2 158.2,263.9 156.8,262.2 155.9,260.8 155.2,259.2 154.5,256.2 154.2,253.2 154.2,250.2 154.3,247.2 154.8,244.2 155.2,242.5 156.5,239.7 157.6,238.2 159.1,236.8 161.2,235.3 162.8,234.5 164.5,233.8 167.2,232.7 168.8,232.2 Z M171.8,236.7 173.2,236.9 175.1,238.2 175.8,241.2 175.5,244.2 175.0,247.2 174.7,248.8 174.0,251.8 173.4,254.8 172.8,256.2 171.8,258.1 170.2,259.5 167.2,260.4 164.2,260.4 161.2,259.3 159.9,257.8 159.2,256.2 158.6,253.2 158.5,250.2 158.7,247.2 159.6,244.2 160.4,242.8 161.7,241.2 163.8,239.8 165.8,238.8 167.2,238.0 170.2,236.9 171.8,236.7 Z"/>
<ellipse cx="167.0" cy="251.5" rx="18.5" ry="16.8" transform="rotate(-90.0 167.0 251.5)" fill="none" stroke="#e0442c" stroke-width="1"/>
<path d="M163.7 252.6h4.6M166.0 250.3v4.6" stroke="#f05a28" stroke-width="0.9"/>
<path d="M163.7 250.3l4.6 4.6M168.3 250.3l-4.6 4.6" stroke="#3446a8" stroke-width="0.9"/>
<ellipse cx="104.3" cy="314.0" rx="16.8" ry="11.6" transform="rotate(-42.0 104.3 314.0)" fill="#fff"/>
</g>
<rect x="84.5" y="170.5" width="165" height="165" fill="none" stroke="#1a1a1a" stroke-width="1"/>
<text x="100.9" y="186.2" font-size="10.20" fill="#f4f4f4" stroke="#2a2a2a" stroke-width="1.7" paint-order="stroke" stroke-linejoin="round" textLength="34.7" lengthAdjust="spacingAndGlyphs">Line 58</text>
<text x="101.0" y="196.5" font-size="10.20" fill="#f4f4f4" stroke="#2a2a2a" stroke-width="1.7" paint-order="stroke" stroke-linejoin="round" textLength="47" lengthAdjust="spacingAndGlyphs">CH<tspan font-size="7.4" dy="2.3">3</tspan><tspan dy="-2.3">OCHO</tspan></text>
<text x="183.3" y="185.8" font-size="10.20" fill="#f4f4f4" stroke="#2a2a2a" stroke-width="1.7" paint-order="stroke" stroke-linejoin="round" textLength="63.0" lengthAdjust="spacingAndGlyphs">0.46″ × 0.40″</text>
<text x="183.3" y="196.3" font-size="10.20" fill="#f4f4f4" stroke="#2a2a2a" stroke-width="1.7" paint-order="stroke" stroke-linejoin="round" textLength="58.7" lengthAdjust="spacingAndGlyphs">PA=178.12 °</text>
<text x="152.6" y="318.9" font-size="10.4" fill="#fff" textLength="80.8" lengthAdjust="spacingAndGlyphs">345488.343 MHz</text>
<g clip-path="url(#cp5)">
<g filter="url(#bl)"><path fill="#424086" d="M344 265h5v5h-5z"/>
<path fill="#414487" d="M344 260h5v5h-5zM339 265h5v5h-5z"/>
<path fill="#3e4a89" d="M274 210h5v5h-5zM274 215h5v5h-5zM349 260h5v5h-5z"/>
<path fill="#3d4e8a" d="M269 210h5v5h-5zM269 215h5v5h-5zM349 265h5v5h-5z"/>
<path fill="#3b528b" d="M279 215h5v5h-5zM339 260h5v5h-5zM339 270h5v5h-5z"/>
<path fill="#39558c" d="M279 210h5v5h-5zM334 265h5v5h-5zM334 270h5v5h-5zM324 295h5v5h-5z"/>
<path fill="#38598c" d="M354 205h5v5h-5zM344 270h5v5h-5zM379 310h5v5h-5z"/>
<path fill="#365c8d" d="M264 215h5v5h-5zM319 215h5v5h-5zM354 260h5v5h-5zM254 295h5v5h-5z"/>
<path fill="#355f8d" d="M264 210h5v5h-5zM249 295h5v5h-5zM329 295h5v5h-5zM379 315h5v5h-5z"/>
<path fill="#33638d" d="M359 205h5v5h-5zM319 210h5v5h-5zM324 215h5v5h-5zM354 265h5v5h-5zM329 270h5v5h-5zM349 270h5v5h-5zM254 290h5v5h-5zM249 300h10v5h-10zM324 300h5v5h-5z"/>
<path fill="#31668e" d="M274 205h5v5h-5zM349 205h5v5h-5zM354 210h5v5h-5zM284 215h5v5h-5zM349 255h10v5h-10zM289 260h5v5h-5zM334 275h10v5h-10zM354 285h5v5h-5zM249 290h5v5h-5zM244 295h5v5h-5zM384 310h5v5h-5z"/>
<path fill="#30698e" d="M269 205h5v5h-5zM279 205h5v5h-5zM284 210h5v5h-5zM324 210h5v5h-5zM274 220h10v5h-10zM294 260h5v5h-5zM334 260h5v5h-5zM354 280h10v5h-10zM359 285h5v5h-5zM324 290h10v5h-10zM319 295h5v5h-5zM244 300h5v5h-5zM374 315h5v5h-5z"/>
<path fill="#2f6c8e" d="M354 200h5v5h-5zM349 210h5v5h-5zM399 235h5v5h-5zM289 255h5v5h-5zM344 255h5v5h-5zM359 255h5v5h-5zM359 260h5v5h-5zM329 275h5v5h-5zM344 275h5v5h-5zM299 285h5v5h-5zM244 290h5v5h-5zM299 290h5v5h-5zM329 300h5v5h-5zM249 305h10v5h-10z"/>
<path fill="#2e6f8e" d="M359 200h5v5h-5zM259 215h5v5h-5zM269 220h5v5h-5zM399 230h5v5h-5zM329 265h5v5h-5zM354 270h5v5h-5zM349 275h5v5h-5zM349 280h5v5h-5zM254 285h5v5h-5zM294 285h5v5h-5zM349 285h5v5h-5zM334 295h5v5h-5zM319 300h5v5h-5zM244 305h5v5h-5zM384 305h5v5h-5zM384 315h5v5h-5z"/>
<path fill="#2c728e" d="M259 210h5v5h-5zM244 215h5v5h-5zM399 220h5v5h-5zM399 225h5v5h-5zM404 235h5v5h-5zM399 240h5v5h-5zM359 250h5v5h-5zM294 255h5v5h-5zM289 265h10v5h-10zM354 275h5v5h-5zM244 285h10v5h-10zM259 290h5v5h-5zM294 290h5v5h-5zM334 290h5v5h-5zM259 295h5v5h-5zM259 300h5v5h-5zM379 305h5v5h-5zM249 310h10v5h-10zM374 310h5v5h-5z"/>
<path fill="#2b758e" d="M349 200h5v5h-5zM264 205h5v5h-5zM284 205h5v5h-5zM359 210h5v5h-5zM249 215h10v5h-10zM314 215h5v5h-5zM284 220h5v5h-5zM319 220h5v5h-5zM364 255h5v5h-5zM359 265h5v5h-5zM324 270h5v5h-5zM359 275h5v5h-5zM294 280h10v5h-10zM339 280h10v5h-10zM364 280h5v5h-5zM259 285h5v5h-5zM304 285h5v5h-5zM319 290h5v5h-5zM354 290h5v5h-5zM299 295h5v5h-5zM259 305h5v5h-5zM244 310h5v5h-5zM259 310h5v5h-5zM244 315h15v5h-15zM244 320h15v5h-15zM244 325h15v5h-15zM244 330h15v5h-15zM244 335h15v5h-15zM244 340h15v5h-15z"/>
<path fill="#2a788e" d="M319 205h5v5h-5zM364 205h5v5h-5zM244 210h5v5h-5zM264 220h5v5h-5zM404 230h5v5h-5zM394 235h5v5h-5zM404 240h5v5h-5zM364 250h5v5h-5zM364 260h5v5h-5zM254 275h5v5h-5zM324 275h5v5h-5zM244 280h15v5h-15zM304 280h5v5h-5zM334 280h5v5h-5zM289 285h5v5h-5zM344 285h5v5h-5zM304 290h5v5h-5zM349 290h5v5h-5zM259 315h5v5h-5zM259 320h5v5h-5zM374 320h10v5h-10zM259 325h5v5h-5zM259 330h5v5h-5zM259 335h5v5h-5zM259 340h5v5h-5z"/>
<path fill="#297b8e" d="M324 205h5v5h-5zM344 205h5v5h-5zM249 210h10v5h-10zM314 210h5v5h-5zM399 215h5v5h-5zM404 220h5v5h-5zM404 225h5v5h-5zM394 240h5v5h-5zM354 250h5v5h-5zM284 255h5v5h-5zM339 255h5v5h-5zM284 260h5v5h-5zM249 270h10v5h-10zM359 270h5v5h-5zM244 275h10v5h-10zM259 280h5v5h-5zM289 280h5v5h-5zM334 285h10v5h-10zM394 285h5v5h-5zM339 290h10v5h-10zM294 295h5v5h-5z"/>
<path fill="#277e8e" d="M364 200h5v5h-5zM344 210h5v5h-5zM324 220h5v5h-5zM394 230h5v5h-5zM289 250h10v5h-10zM299 260h5v5h-5zM254 265h5v5h-5zM244 270h5v5h-5zM259 275h5v5h-5zM329 280h5v5h-5zM394 280h5v5h-5zM329 285h5v5h-5zM364 285h5v5h-5zM304 295h5v5h-5zM339 295h5v5h-5zM334 300h5v5h-5zM319 305h10v5h-10z"/>
<path fill="#26828e" d="M404 215h5v5h-5zM244 220h5v5h-5zM259 220h5v5h-5zM394 220h5v5h-5zM394 225h5v5h-5zM364 245h5v5h-5zM369 250h5v5h-5zM299 255h5v5h-5zM244 265h10v5h-10zM299 265h5v5h-5zM259 270h5v5h-5zM294 270h5v5h-5zM319 270h5v5h-5zM299 275h10v5h-10zM319 275h5v5h-5zM364 275h5v5h-5zM264 280h5v5h-5zM284 280h5v5h-5zM309 280h5v5h-5zM399 280h5v5h-5zM309 285h5v5h-5zM324 285h5v5h-5zM289 290h5v5h-5zM394 290h5v5h-5zM314 295h5v5h-5zM299 300h10v5h-10zM314 300h5v5h-5zM264 310h5v5h-5zM264 315h5v5h-5zM369 315h5v5h-5zM264 320h5v5h-5zM369 320h5v5h-5zM384 320h5v5h-5zM264 325h5v5h-5zM264 330h5v5h-5zM264 335h5v5h-5zM264 340h5v5h-5z"/>
<path fill="#25848e" d="M329 210h5v5h-5zM349 215h10v5h-10zM249 220h10v5h-10zM314 220h5v5h-5zM409 235h5v5h-5zM409 240h5v5h-5zM294 245h5v5h-5zM369 245h5v5h-5zM399 245h5v5h-5zM299 250h5v5h-5zM369 255h5v5h-5zM329 260h5v5h-5zM259 265h5v5h-5zM324 265h5v5h-5zM364 265h5v5h-5zM399 265h5v5h-5zM289 270h5v5h-5zM294 275h5v5h-5zM309 275h10v5h-10zM399 275h5v5h-5zM279 280h5v5h-5zM324 280h5v5h-5zM264 285h5v5h-5zM284 285h5v5h-5zM389 285h5v5h-5zM309 290h10v5h-10zM359 290h5v5h-5zM389 290h5v5h-5zM314 305h5v5h-5zM329 305h5v5h-5zM389 310h5v5h-5zM279 320h25v5h-25zM279 325h10v5h-10zM294 325h10v5h-10z"/>
<path fill="#24878e" d="M354 195h10v5h-10zM344 200h5v5h-5zM259 205h5v5h-5zM289 215h5v5h-5zM329 215h5v5h-5zM394 215h5v5h-5zM294 240h10v5h-10zM389 240h5v5h-5zM424 240h5v5h-5zM299 245h5v5h-5zM359 245h5v5h-5zM404 245h5v5h-5zM284 250h5v5h-5zM244 260h15v5h-15zM399 260h5v5h-5zM284 265h5v5h-5zM394 265h5v5h-5zM404 265h5v5h-5zM299 270h5v5h-5zM314 270h5v5h-5zM399 270h30v5h-30zM289 275h5v5h-5zM394 275h5v5h-5zM404 275h10v5h-10zM419 275h10v5h-10zM269 280h10v5h-10zM314 280h5v5h-5zM314 285h10v5h-10zM309 295h5v5h-5zM389 295h5v5h-5zM294 300h5v5h-5zM309 300h5v5h-5zM389 300h5v5h-5zM264 305h5v5h-5zM299 305h15v5h-15zM389 305h5v5h-5zM299 310h10v5h-10zM269 315h5v5h-5zM279 315h25v5h-25zM389 315h5v5h-5zM269 320h10v5h-10zM269 325h10v5h-10zM289 325h5v5h-5zM269 330h35v5h-35zM269 335h35v5h-35zM269 340h35v5h-35z"/>
<path fill="#238a8d" d="M269 200h15v5h-15zM369 200h5v5h-5zM244 205h5v5h-5zM314 205h5v5h-5zM369 205h5v5h-5zM289 210h5v5h-5zM399 210h5v5h-5zM294 235h10v5h-10zM389 235h5v5h-5zM424 235h5v5h-5zM414 240h10v5h-10zM289 245h5v5h-5zM304 245h5v5h-5zM374 245h5v5h-5zM394 245h5v5h-5zM304 250h5v5h-5zM349 250h5v5h-5zM374 250h5v5h-5zM334 255h5v5h-5zM259 260h5v5h-5zM394 260h5v5h-5zM304 270h10v5h-10zM364 270h5v5h-5zM394 270h5v5h-5zM264 275h5v5h-5zM284 275h5v5h-5zM414 275h5v5h-5zM319 280h5v5h-5zM389 280h5v5h-5zM404 280h5v5h-5zM399 285h5v5h-5zM344 295h5v5h-5zM274 315h5v5h-5zM304 315h5v5h-5zM304 320h5v5h-5zM364 320h5v5h-5zM304 325h5v5h-5zM304 330h5v5h-5zM304 335h5v5h-5zM304 340h5v5h-5z"/>
<path fill="#228d8d" d="M364 195h5v5h-5zM284 200h5v5h-5zM319 200h10v5h-10zM374 200h5v5h-5zM249 205h10v5h-10zM329 205h5v5h-5zM364 210h5v5h-5zM289 220h5v5h-5zM409 230h5v5h-5zM414 235h10v5h-10zM304 240h5v5h-5zM304 255h5v5h-5zM304 260h5v5h-5zM369 260h5v5h-5zM404 260h5v5h-5zM264 265h5v5h-5zM304 265h5v5h-5zM409 265h5v5h-5zM279 285h5v5h-5zM289 295h5v5h-5zM339 300h5v5h-5zM384 300h5v5h-5zM269 310h5v5h-5zM294 310h5v5h-5zM309 310h5v5h-5zM389 320h5v5h-5z"/>
<path fill="#21918c" d="M349 195h5v5h-5zM289 205h5v5h-5zM339 205h5v5h-5zM374 205h5v5h-5zM404 210h5v5h-5zM409 220h5v5h-5zM279 225h10v5h-10zM409 225h5v5h-5zM294 230h10v5h-10zM304 235h5v5h-5zM254 240h5v5h-5zM384 240h5v5h-5zM254 245h5v5h-5zM309 245h5v5h-5zM379 245h5v5h-5zM409 245h5v5h-5zM424 245h5v5h-5zM399 250h5v5h-5zM249 255h10v5h-10zM279 255h5v5h-5zM399 255h5v5h-5zM264 260h5v5h-5zM309 265h15v5h-15zM414 265h15v5h-15zM264 270h5v5h-5zM284 270h5v5h-5zM269 275h5v5h-5zM279 275h5v5h-5zM369 280h5v5h-5zM269 285h5v5h-5zM349 295h5v5h-5zM394 295h5v5h-5zM294 305h5v5h-5zM334 305h5v5h-5zM314 310h10v5h-10zM309 315h5v5h-5zM309 325h5v5h-5zM374 325h15v5h-15zM309 330h5v5h-5zM309 335h5v5h-5zM309 340h5v5h-5z"/>
<path fill="#20938c" d="M369 195h5v5h-5zM264 200h5v5h-5zM379 200h5v5h-5zM339 210h5v5h-5zM344 215h5v5h-5zM409 215h5v5h-5zM289 225h5v5h-5zM389 230h5v5h-5zM424 230h5v5h-5zM384 235h5v5h-5zM249 240h5v5h-5zM289 240h5v5h-5zM369 240h5v5h-5zM249 245h5v5h-5zM384 245h10v5h-10zM414 245h10v5h-10zM254 250h5v5h-5zM309 250h5v5h-5zM379 250h5v5h-5zM404 250h5v5h-5zM244 255h5v5h-5zM259 255h5v5h-5zM394 255h5v5h-5zM404 255h5v5h-5zM274 275h5v5h-5zM389 275h5v5h-5zM274 285h5v5h-5zM264 290h5v5h-5zM284 290h5v5h-5zM264 300h5v5h-5zM274 310h5v5h-5zM289 310h5v5h-5zM324 310h5v5h-5zM309 320h5v5h-5zM359 320h5v5h-5zM359 325h15v5h-15zM359 340h5v5h-5z"/>
<path fill="#1f968b" d="M374 195h5v5h-5zM314 200h5v5h-5zM379 205h5v5h-5zM394 210h5v5h-5zM389 220h5v5h-5zM424 220h5v5h-5zM274 225h5v5h-5zM424 225h5v5h-5zM419 230h5v5h-5zM244 240h5v5h-5zM309 240h5v5h-5zM364 240h5v5h-5zM374 240h10v5h-10zM244 245h5v5h-5zM354 245h5v5h-5zM249 250h5v5h-5zM279 250h5v5h-5zM309 255h5v5h-5zM374 255h5v5h-5zM279 260h5v5h-5zM309 260h5v5h-5zM409 260h5v5h-5zM389 265h5v5h-5zM409 280h5v5h-5zM424 280h5v5h-5zM289 300h5v5h-5zM374 305h5v5h-5zM279 310h10v5h-10zM364 315h5v5h-5zM389 325h5v5h-5zM359 330h5v5h-5zM359 335h10v5h-10zM364 340h30v5h-30z"/>
<path fill="#1f998a" d="M359 190h15v5h-15zM344 195h5v5h-5zM379 195h5v5h-5zM289 200h5v5h-5zM329 200h5v5h-5zM339 200h5v5h-5zM334 205h5v5h-5zM334 210h5v5h-5zM359 215h5v5h-5zM389 215h5v5h-5zM424 215h5v5h-5zM419 220h5v5h-5zM389 225h5v5h-5zM289 230h5v5h-5zM304 230h5v5h-5zM414 230h5v5h-5zM289 235h5v5h-5zM314 245h5v5h-5zM244 250h5v5h-5zM394 250h5v5h-5zM329 255h5v5h-5zM269 260h5v5h-5zM314 260h5v5h-5zM324 260h5v5h-5zM389 260h5v5h-5zM419 260h10v5h-10zM269 265h5v5h-5zM279 270h5v5h-5zM389 270h5v5h-5zM414 280h10v5h-10zM354 295h5v5h-5zM269 305h5v5h-5zM289 305h5v5h-5zM329 310h5v5h-5zM314 315h5v5h-5zM394 315h5v5h-5zM394 320h5v5h-5zM364 330h5v5h-5zM384 330h10v5h-10zM369 335h5v5h-5zM379 335h15v5h-15z"/>
<path fill="#1e9c89" d="M354 190h5v5h-5zM294 195h10v5h-10zM314 195h10v5h-10zM384 200h5v5h-5zM399 205h10v5h-10zM414 215h10v5h-10zM329 220h5v5h-5zM414 220h5v5h-5zM249 225h10v5h-10zM269 225h5v5h-5zM294 225h5v5h-5zM419 225h5v5h-5zM384 230h5v5h-5zM249 235h10v5h-10zM379 235h5v5h-5zM259 245h5v5h-5zM259 250h5v5h-5zM314 250h5v5h-5zM344 250h5v5h-5zM384 250h5v5h-5zM409 250h5v5h-5zM264 255h5v5h-5zM274 255h5v5h-5zM389 255h5v5h-5zM409 255h5v5h-5zM414 260h5v5h-5zM279 265h5v5h-5zM369 265h5v5h-5zM269 270h5v5h-5zM369 275h5v5h-5zM264 295h5v5h-5zM314 320h5v5h-5zM314 325h5v5h-5zM354 325h5v5h-5zM394 325h5v5h-5zM314 330h5v5h-5zM354 330h5v5h-5zM369 330h15v5h-15zM314 335h5v5h-5zM354 335h5v5h-5zM374 335h5v5h-5zM314 340h5v5h-5zM354 340h5v5h-5zM394 340h5v5h-5z"/>
<path fill="#1fa088" d="M294 190h15v5h-15zM349 190h5v5h-5zM374 190h5v5h-5zM289 195h5v5h-5zM304 195h10v5h-10zM324 195h5v5h-5zM384 195h5v5h-5zM259 200h5v5h-5zM334 200h5v5h-5zM409 210h5v5h-5zM244 225h5v5h-5zM259 225h10v5h-10zM414 225h5v5h-5zM259 240h5v5h-5zM284 245h5v5h-5zM389 250h5v5h-5zM414 250h15v5h-15zM314 255h5v5h-5zM424 255h5v5h-5zM274 260h5v5h-5zM319 260h5v5h-5zM274 270h5v5h-5zM404 285h5v5h-5zM399 290h5v5h-5zM344 300h5v5h-5zM394 300h5v5h-5zM339 305h5v5h-5zM334 310h5v5h-5zM369 310h5v5h-5zM354 320h5v5h-5zM394 330h5v5h-5zM394 335h5v5h-5z"/>
<path fill="#1fa287" d="M364 185h10v5h-10zM309 190h5v5h-5zM339 195h5v5h-5zM244 200h15v5h-15zM384 205h5v5h-5zM394 205h5v5h-5zM369 210h5v5h-5zM389 210h5v5h-5zM424 210h5v5h-5zM339 215h5v5h-5zM309 220h5v5h-5zM349 220h5v5h-5zM384 225h5v5h-5zM379 230h5v5h-5zM244 235h5v5h-5zM309 235h5v5h-5zM359 240h5v5h-5zM269 255h5v5h-5zM379 255h10v5h-10zM414 255h10v5h-10zM274 265h5v5h-5zM369 285h5v5h-5zM364 290h5v5h-5zM284 305h5v5h-5zM394 310h5v5h-5zM319 315h5v5h-5zM399 320h5v5h-5z"/>
<path fill="#21a585" d="M289 190h5v5h-5zM344 190h5v5h-5zM379 190h5v5h-5zM284 195h5v5h-5zM329 195h5v5h-5zM414 195h5v5h-5zM389 200h5v5h-5zM414 200h5v5h-5zM409 205h5v5h-5zM374 210h10v5h-10zM414 210h10v5h-10zM309 215h5v5h-5zM334 215h5v5h-5zM354 220h5v5h-5zM299 225h5v5h-5zM314 225h5v5h-5zM254 230h5v5h-5zM374 235h5v5h-5zM314 240h5v5h-5zM319 250h5v5h-5zM339 250h5v5h-5zM319 255h10v5h-10zM369 270h5v5h-5zM284 295h5v5h-5zM274 305h5v5h-5zM394 305h5v5h-5zM324 315h5v5h-5zM399 325h5v5h-5zM399 340h5v5h-5z"/>
<path fill="#22a884" d="M359 185h5v5h-5zM314 190h5v5h-5zM339 190h5v5h-5zM269 195h15v5h-15zM334 195h5v5h-5zM389 195h5v5h-5zM419 195h10v5h-10zM309 200h5v5h-5zM404 200h10v5h-10zM419 200h10v5h-10zM389 205h5v5h-5zM424 205h5v5h-5zM384 210h5v5h-5zM384 215h5v5h-5zM384 220h5v5h-5zM304 225h10v5h-10zM319 225h5v5h-5zM249 230h5v5h-5zM284 230h5v5h-5zM259 235h5v5h-5zM319 245h5v5h-5zM274 250h5v5h-5zM374 260h5v5h-5zM279 290h5v5h-5zM284 300h5v5h-5zM279 305h5v5h-5zM359 315h5v5h-5zM399 315h5v5h-5zM319 320h5v5h-5zM399 330h5v5h-5zM399 335h5v5h-5z"/>
<path fill="#25ab82" d="M279 160h5v5h-5zM279 165h5v5h-5zM279 170h5v5h-5zM289 185h10v5h-10zM344 185h15v5h-15zM374 185h5v5h-5zM319 190h5v5h-5zM264 195h5v5h-5zM409 195h5v5h-5zM294 200h5v5h-5zM394 200h10v5h-10zM414 205h10v5h-10zM294 220h5v5h-5zM379 225h5v5h-5zM244 230h5v5h-5zM309 230h5v5h-5zM349 245h5v5h-5zM264 250h5v5h-5zM324 250h15v5h-15zM384 260h5v5h-5zM384 280h5v5h-5zM379 300h5v5h-5zM339 310h5v5h-5zM329 315h5v5h-5zM404 320h5v5h-5zM319 325h5v5h-5zM349 325h5v5h-5zM319 330h5v5h-5zM349 330h5v5h-5zM319 335h5v5h-5zM349 335h5v5h-5zM319 340h5v5h-5zM349 340h5v5h-5z"/>
<path fill="#28ae80" d="M279 175h5v5h-5zM339 185h5v5h-5zM284 190h5v5h-5zM324 190h5v5h-5zM334 190h5v5h-5zM384 190h5v5h-5zM344 220h5v5h-5zM259 230h5v5h-5zM384 285h5v5h-5zM269 290h5v5h-5zM384 295h5v5h-5zM334 315h5v5h-5zM349 320h5v5h-5zM404 325h5v5h-5zM404 340h5v5h-5z"/>
<path fill="#2cb17e" d="M274 160h5v5h-5zM284 160h5v5h-5zM274 165h5v5h-5zM284 165h5v5h-5zM274 170h5v5h-5zM284 170h5v5h-5zM274 175h5v5h-5zM284 175h5v5h-5zM279 180h15v5h-15zM349 180h5v5h-5zM284 185h5v5h-5zM299 185h15v5h-15zM329 190h5v5h-5zM414 190h5v5h-5zM244 195h5v5h-5zM259 195h5v5h-5zM309 210h5v5h-5zM369 235h5v5h-5zM284 240h5v5h-5zM269 250h5v5h-5zM384 265h5v5h-5zM384 275h5v5h-5zM274 290h5v5h-5zM359 295h5v5h-5zM269 300h5v5h-5zM354 315h5v5h-5zM404 330h5v5h-5zM404 335h5v5h-5z"/>
<path fill="#2fb47c" d="M274 180h5v5h-5zM344 180h5v5h-5zM354 180h20v5h-20zM269 185h5v5h-5zM314 185h5v5h-5zM334 185h5v5h-5zM379 185h5v5h-5zM264 190h20v5h-20zM419 190h10v5h-10zM249 195h10v5h-10zM394 195h5v5h-5zM404 195h5v5h-5zM309 205h5v5h-5zM379 215h5v5h-5zM379 220h5v5h-5zM324 225h5v5h-5zM284 235h5v5h-5zM354 240h5v5h-5zM279 245h5v5h-5zM324 245h5v5h-5zM384 270h5v5h-5zM399 295h5v5h-5zM349 300h5v5h-5zM344 305h5v5h-5zM339 315h5v5h-5zM404 315h5v5h-5zM324 320h5v5h-5zM409 320h5v5h-5zM419 320h10v5h-10zM409 325h5v5h-5z"/>
<path fill="#34b679" d="M394 165h5v5h-5zM394 170h5v5h-5zM289 175h5v5h-5zM349 175h5v5h-5zM294 180h5v5h-5zM339 180h5v5h-5zM274 185h10v5h-10zM259 190h5v5h-5zM389 190h5v5h-5zM409 190h5v5h-5zM334 220h5v5h-5zM279 230h5v5h-5zM374 230h5v5h-5zM364 235h5v5h-5zM264 245h5v5h-5zM379 260h5v5h-5zM374 280h5v5h-5zM409 285h5v5h-5zM424 285h5v5h-5zM384 290h5v5h-5zM279 300h5v5h-5zM399 310h5v5h-5zM414 320h5v5h-5zM414 325h15v5h-15zM409 330h5v5h-5zM409 335h5v5h-5zM409 340h5v5h-5zM424 340h5v5h-5z"/>
<path fill="#38b977" d="M289 160h5v5h-5zM349 160h10v5h-10zM394 160h5v5h-5zM289 165h5v5h-5zM349 165h10v5h-10zM389 165h5v5h-5zM399 165h5v5h-5zM289 170h5v5h-5zM349 170h10v5h-10zM389 170h5v5h-5zM399 170h5v5h-5zM344 175h5v5h-5zM354 175h5v5h-5zM269 180h5v5h-5zM374 180h5v5h-5zM264 185h5v5h-5zM319 185h5v5h-5zM329 185h5v5h-5zM244 190h15v5h-15zM399 195h5v5h-5zM304 200h5v5h-5zM294 215h5v5h-5zM364 215h5v5h-5zM339 220h5v5h-5zM314 235h5v5h-5zM319 240h5v5h-5zM344 245h5v5h-5zM374 265h5v5h-5zM374 275h5v5h-5zM419 285h5v5h-5zM279 295h5v5h-5zM344 310h5v5h-5zM344 315h10v5h-10zM409 315h5v5h-5zM424 315h5v5h-5zM329 320h5v5h-5zM344 320h5v5h-5zM324 325h5v5h-5zM414 330h15v5h-15zM414 335h15v5h-15zM414 340h10v5h-10z"/>
<path fill="#3fbc73" d="M344 160h5v5h-5zM389 160h5v5h-5zM399 160h5v5h-5zM344 165h5v5h-5zM359 175h5v5h-5zM394 175h10v5h-10zM334 180h5v5h-5zM324 185h5v5h-5zM384 185h5v5h-5zM299 200h5v5h-5zM294 205h5v5h-5zM264 230h5v5h-5zM314 230h5v5h-5zM329 245h5v5h-5zM414 285h5v5h-5zM274 300h5v5h-5zM414 315h10v5h-10zM344 325h5v5h-5zM324 330h5v5h-5zM344 330h5v5h-5zM324 335h5v5h-5zM344 335h5v5h-5zM324 340h5v5h-5zM344 340h5v5h-5z"/>
<path fill="#44bf70" d="M269 160h5v5h-5zM359 160h5v5h-5zM359 165h5v5h-5zM344 170h5v5h-5zM404 170h5v5h-5zM269 175h5v5h-5zM389 175h5v5h-5zM299 180h5v5h-5zM309 180h10v5h-10zM379 180h5v5h-5zM259 185h5v5h-5zM394 190h5v5h-5zM404 190h5v5h-5zM294 210h5v5h-5zM374 215h5v5h-5zM304 220h5v5h-5zM359 220h5v5h-5zM354 225h5v5h-5zM359 235h5v5h-5zM264 240h5v5h-5zM334 245h5v5h-5zM374 270h5v5h-5zM269 295h5v5h-5zM334 320h10v5h-10z"/>
<path fill="#4ac16d" d="M294 160h5v5h-5zM339 160h5v5h-5zM384 160h5v5h-5zM404 160h5v5h-5zM269 165h5v5h-5zM384 165h5v5h-5zM404 165h5v5h-5zM269 170h5v5h-5zM359 170h5v5h-5zM384 170h5v5h-5zM294 175h5v5h-5zM339 175h5v5h-5zM364 175h5v5h-5zM384 175h5v5h-5zM404 175h5v5h-5zM304 180h5v5h-5zM244 185h15v5h-15zM414 185h15v5h-15zM349 225h5v5h-5zM274 230h5v5h-5zM339 245h5v5h-5zM379 265h5v5h-5zM379 280h5v5h-5zM404 290h5v5h-5zM399 300h5v5h-5z"/>
<path fill="#50c46a" d="M294 165h5v5h-5zM339 165h5v5h-5zM294 170h5v5h-5zM339 170h5v5h-5zM264 180h5v5h-5zM319 180h5v5h-5zM329 180h5v5h-5zM384 180h15v5h-15zM389 185h5v5h-5zM409 185h5v5h-5zM399 190h5v5h-5zM299 220h5v5h-5zM374 225h5v5h-5zM269 230h5v5h-5zM264 235h5v5h-5zM274 245h5v5h-5zM379 275h5v5h-5zM274 295h5v5h-5zM399 305h5v5h-5zM364 310h5v5h-5z"/>
<path fill="#56c667" d="M364 160h5v5h-5zM409 165h5v5h-5zM409 170h5v5h-5zM299 175h5v5h-5zM309 175h5v5h-5zM334 175h5v5h-5zM369 175h5v5h-5zM379 175h5v5h-5zM324 180h5v5h-5zM399 180h10v5h-10zM404 185h5v5h-5zM329 225h5v5h-5zM349 240h5v5h-5zM269 245h5v5h-5zM379 270h5v5h-5zM374 285h5v5h-5zM369 290h5v5h-5zM354 300h5v5h-5zM349 310h5v5h-5zM329 325h5v5h-5zM339 325h5v5h-5z"/>
<path fill="#5ec962" d="M299 160h20v5h-20zM334 160h5v5h-5zM379 160h5v5h-5zM409 160h5v5h-5zM424 160h5v5h-5zM299 165h5v5h-5zM364 165h5v5h-5zM379 165h5v5h-5zM424 165h5v5h-5zM299 170h5v5h-5zM364 170h5v5h-5zM379 170h5v5h-5zM424 170h5v5h-5zM304 175h5v5h-5zM314 175h5v5h-5zM374 175h5v5h-5zM409 175h5v5h-5zM424 175h5v5h-5zM409 180h20v5h-20zM394 185h10v5h-10zM369 215h5v5h-5zM374 220h5v5h-5zM349 305h5v5h-5zM329 340h5v5h-5zM339 340h5v5h-5z"/>
<path fill="#65cb5e" d="M369 160h10v5h-10zM414 160h10v5h-10zM304 165h15v5h-15zM334 165h5v5h-5zM414 165h10v5h-10zM304 170h15v5h-15zM334 170h5v5h-5zM414 170h10v5h-10zM319 175h5v5h-5zM329 175h5v5h-5zM414 175h10v5h-10zM369 230h5v5h-5zM354 235h5v5h-5zM324 240h5v5h-5zM379 285h5v5h-5zM364 295h5v5h-5zM404 310h5v5h-5zM334 325h5v5h-5zM329 330h5v5h-5zM339 330h5v5h-5zM329 335h5v5h-5zM339 335h5v5h-5z"/>
<path fill="#6ccd5a" d="M319 160h5v5h-5zM329 160h5v5h-5zM319 165h5v5h-5zM329 165h5v5h-5zM369 165h10v5h-10zM319 170h5v5h-5zM369 170h10v5h-10zM324 175h5v5h-5zM344 225h5v5h-5zM319 230h5v5h-5zM279 235h5v5h-5zM279 240h5v5h-5zM369 305h5v5h-5zM414 310h15v5h-15zM334 340h5v5h-5z"/>
<path fill="#73d056" d="M324 160h5v5h-5zM324 165h5v5h-5zM324 170h10v5h-10zM259 180h5v5h-5zM354 230h5v5h-5zM319 235h5v5h-5zM354 310h10v5h-10zM409 310h5v5h-5zM334 330h5v5h-5zM334 335h5v5h-5z"/>
<path fill="#7ad151" d="M264 175h5v5h-5zM304 215h5v5h-5zM334 225h5v5h-5z"/>
<path fill="#84d44b" d="M264 160h5v5h-5zM244 180h5v5h-5zM304 205h5v5h-5zM339 225h5v5h-5zM364 230h5v5h-5zM344 240h5v5h-5zM374 300h5v5h-5z"/>
<path fill="#8bd646" d="M264 165h5v5h-5zM249 180h10v5h-10zM359 230h5v5h-5zM269 235h5v5h-5zM269 240h5v5h-5zM329 240h5v5h-5zM359 300h5v5h-5z"/>
<path fill="#93d741" d="M264 170h5v5h-5zM299 205h5v5h-5zM299 215h5v5h-5zM349 230h5v5h-5zM274 235h5v5h-5zM274 240h5v5h-5zM424 290h5v5h-5z"/>
<path fill="#9bd93c" d="M359 225h5v5h-5zM369 225h5v5h-5zM349 235h5v5h-5zM334 240h10v5h-10zM419 290h5v5h-5zM404 295h5v5h-5zM354 305h5v5h-5z"/>
<path fill="#a2da37" d="M304 210h5v5h-5zM369 220h5v5h-5zM324 230h5v5h-5zM409 290h5v5h-5zM379 295h5v5h-5z"/>
<path fill="#addc30" d="M379 290h5v5h-5zM414 290h5v5h-5zM404 305h5v5h-5zM424 305h5v5h-5z"/>
<path fill="#b5de2b" d="M299 210h5v5h-5zM364 220h5v5h-5zM374 290h5v5h-5zM414 305h10v5h-10z"/>
<path fill="#bddf26" d="M259 175h5v5h-5zM324 235h5v5h-5zM369 295h5v5h-5z"/>
<path fill="#c5e021" d="M364 300h5v5h-5zM404 300h5v5h-5zM359 305h5v5h-5z"/>
<path fill="#cde11d" d="M259 160h5v5h-5zM244 175h5v5h-5zM344 230h5v5h-5z"/>
<path fill="#d8e219" d="M249 175h5v5h-5zM364 225h5v5h-5zM329 230h5v5h-5zM344 235h5v5h-5zM364 305h5v5h-5zM409 305h5v5h-5z"/>
<path fill="#dfe318" d="M244 160h5v5h-5zM259 165h5v5h-5zM259 170h5v5h-5zM254 175h5v5h-5z"/>
<path fill="#e7e419" d="M424 295h5v5h-5zM369 300h5v5h-5zM424 300h5v5h-5z"/>
<path fill="#efe51c" d="M249 160h10v5h-10zM244 165h5v5h-5zM334 230h10v5h-10zM329 235h5v5h-5zM419 295h5v5h-5zM419 300h5v5h-5z"/>
<path fill="#f6e620" d="M249 165h5v5h-5zM244 170h5v5h-5zM374 295h5v5h-5zM414 300h5v5h-5z"/>
<path fill="#fde725" d="M254 165h5v5h-5zM249 170h10v5h-10zM334 235h10v5h-10zM409 295h10v5h-10zM409 300h5v5h-5z"/></g>
<path fill="none" stroke="#fff" stroke-opacity="0.72" stroke-width="0.95" stroke-linejoin="round" d="M367.2,221.5 370.2,221.6 370.8,223.2 370.2,225.8 369.1,227.8 367.5,229.2 365.8,230.3 364.2,230.9 361.3,230.8 361.1,229.2 361.6,227.8 362.8,225.7 364.2,223.8 365.8,222.4 367.2,221.5 Z M334.2,229.1 337.2,228.5 340.2,228.4 343.2,228.7 345.4,229.2 347.8,230.1 349.2,231.0 350.9,232.2 352.3,234.9 352.2,235.5 350.8,238.2 349.2,239.6 347.8,240.6 346.3,241.3 343.2,242.3 340.2,242.7 338.8,242.8 335.8,242.8 334.2,242.7 331.2,242.2 328.3,241.2 326.8,240.5 325.2,239.6 323.8,238.2 322.8,235.2 323.8,233.5 325.2,232.2 328.2,230.9 329.8,230.4 332.8,229.4 334.2,229.1 Z M377.8,295.2 378.8,296.8 377.8,298.7 376.2,300.5 374.8,302.1 373.2,303.6 371.8,305.0 370.2,306.2 368.5,307.2 365.8,307.5 364.9,305.8 365.8,304.0 367.2,302.2 368.8,300.7 370.2,299.4 371.8,298.2 374.0,296.8 376.2,295.5 377.8,295.2 Z M410.8,296.5 412.2,296.9 413.6,299.8 413.4,302.8 412.2,305.6 410.8,307.3 409.2,307.8 407.8,307.0 406.9,304.2 407.2,301.2 407.8,299.7 409.2,297.5 410.8,296.5 Z M335.8,230.7 338.8,230.4 341.8,230.6 343.2,230.9 346.2,232.1 347.8,233.5 348.4,235.2 347.8,237.0 346.2,238.5 343.8,239.8 341.8,240.3 338.8,240.8 335.8,240.8 332.8,240.4 330.4,239.8 328.2,238.6 326.8,237.1 326.5,235.2 327.5,233.8 329.8,232.4 331.2,231.8 334.2,231.0 335.8,230.7 Z M332.8,233.5 335.8,232.6 338.8,232.4 341.8,232.9 343.7,233.8 344.0,236.8 341.8,238.1 340.2,238.5 337.2,238.8 334.2,238.6 332.8,238.2 330.5,236.8 331.2,234.4 332.8,233.5 Z"/>
<ellipse cx="338.8" cy="237.5" rx="19.0" ry="10.0" transform="rotate(-5.0 338.8 237.5)" fill="none" stroke="#e0442c" stroke-width="1"/>
<path d="M335.4 237.6h4.6M337.7 235.3v4.6" stroke="#f05a28" stroke-width="0.9"/>
<path d="M333.9 249.9l4.6 4.6M338.5 249.9l-4.6 4.6" stroke="#3446a8" stroke-width="0.9"/>
<ellipse cx="274.3" cy="314.0" rx="16.8" ry="11.6" transform="rotate(-42.0 274.3 314.0)" fill="#fff"/>
</g>
<rect x="254.5" y="170.5" width="165" height="165" fill="none" stroke="#1a1a1a" stroke-width="1"/>
<text x="270.9" y="186.2" font-size="10.20" fill="#f4f4f4" stroke="#2a2a2a" stroke-width="1.7" paint-order="stroke" stroke-linejoin="round" textLength="34.7" lengthAdjust="spacingAndGlyphs">Line 12</text>
<text x="271.0" y="196.5" font-size="10.20" fill="#f4f4f4" stroke="#2a2a2a" stroke-width="1.7" paint-order="stroke" stroke-linejoin="round" textLength="47" lengthAdjust="spacingAndGlyphs">CH<tspan font-size="7.4" dy="2.3">3</tspan><tspan dy="-2.3">OCHO</tspan></text>
<text x="320.6" y="196.5" font-size="10.20" font-style="italic" fill="#f4f4f4" stroke="#2a2a2a" stroke-width="1.7" paint-order="stroke" stroke-linejoin="round">v</text>
<text x="328.2" y="196.5" font-size="10.20" fill="#f4f4f4" stroke="#2a2a2a" stroke-width="1.7" paint-order="stroke" stroke-linejoin="round" textLength="6.6" lengthAdjust="spacingAndGlyphs">=</text>
<text x="337.0" y="196.5" font-size="10.20" fill="#f4f4f4" stroke="#2a2a2a" stroke-width="1.7" paint-order="stroke" stroke-linejoin="round">1</text>
<text x="353.3" y="185.8" font-size="10.20" fill="#f4f4f4" stroke="#2a2a2a" stroke-width="1.7" paint-order="stroke" stroke-linejoin="round" textLength="63.0" lengthAdjust="spacingAndGlyphs">0.44″ × 0.24″</text>
<text x="353.3" y="196.3" font-size="10.20" fill="#f4f4f4" stroke="#2a2a2a" stroke-width="1.7" paint-order="stroke" stroke-linejoin="round" textLength="52.8" lengthAdjust="spacingAndGlyphs">PA=97.09 °</text>
<text x="322.6" y="318.9" font-size="10.4" fill="#fff" textLength="80.8" lengthAdjust="spacingAndGlyphs">356686.392 MHz</text>
<g clip-path="url(#cp6)">
<g filter="url(#bl)"><path fill="#453882" d="M534 330h5v5h-5z"/>
<path fill="#443b84" d="M504 165h5v5h-5zM504 170h5v5h-5zM419 235h10v5h-10zM529 330h5v5h-5zM529 335h10v5h-10z"/>
<path fill="#424086" d="M504 160h5v5h-5zM509 165h5v5h-5zM509 170h5v5h-5zM504 175h5v5h-5zM419 230h10v5h-10zM414 235h5v5h-5zM429 235h5v5h-5zM414 240h20v5h-20zM529 325h10v5h-10zM539 330h5v5h-5zM539 335h5v5h-5zM529 340h10v5h-10z"/>
<path fill="#414487" d="M509 160h5v5h-5zM509 175h5v5h-5zM414 230h5v5h-5zM429 230h5v5h-5zM434 235h5v5h-5zM539 325h5v5h-5zM524 330h5v5h-5zM539 340h5v5h-5z"/>
<path fill="#3f4788" d="M434 230h5v5h-5zM434 240h5v5h-5zM419 245h10v5h-10zM524 335h5v5h-5z"/>
<path fill="#3e4a89" d="M504 180h5v5h-5zM414 225h20v5h-20zM439 235h5v5h-5zM414 245h5v5h-5zM429 245h5v5h-5zM524 325h5v5h-5zM544 325h5v5h-5zM544 330h5v5h-5zM544 335h5v5h-5zM524 340h5v5h-5zM544 340h5v5h-5z"/>
<path fill="#3d4e8a" d="M499 160h5v5h-5zM499 165h5v5h-5zM584 165h5v5h-5zM499 170h5v5h-5zM584 170h10v5h-10zM499 175h5v5h-5zM509 180h5v5h-5zM434 225h5v5h-5zM439 230h5v5h-5zM534 320h10v5h-10zM519 330h5v5h-5z"/>
<path fill="#3b528b" d="M579 160h20v5h-20zM514 165h5v5h-5zM579 165h5v5h-5zM589 165h10v5h-10zM514 170h5v5h-5zM579 170h5v5h-5zM594 170h5v5h-5zM579 175h20v5h-20zM414 220h20v5h-20zM439 240h5v5h-5zM434 245h5v5h-5zM414 250h20v5h-20zM444 265h5v5h-5zM529 320h5v5h-5zM519 325h5v5h-5zM549 325h5v5h-5zM564 325h35v5h-35zM549 330h5v5h-5zM559 330h40v5h-40zM519 335h5v5h-5zM549 335h5v5h-5zM564 335h35v5h-35zM519 340h5v5h-5zM549 340h5v5h-5zM564 340h35v5h-35z"/>
<path fill="#39558c" d="M514 160h5v5h-5zM574 170h5v5h-5zM514 175h5v5h-5zM499 180h5v5h-5zM444 235h5v5h-5zM439 265h5v5h-5zM444 270h5v5h-5zM544 320h5v5h-5zM554 325h10v5h-10zM554 330h5v5h-5zM554 335h10v5h-10zM554 340h10v5h-10z"/>
<path fill="#38598c" d="M574 160h5v5h-5zM574 165h5v5h-5zM574 175h5v5h-5zM579 180h20v5h-20zM504 185h5v5h-5zM414 215h20v5h-20zM434 220h5v5h-5zM439 225h5v5h-5zM439 245h5v5h-5zM434 250h5v5h-5zM439 260h10v5h-10zM449 265h5v5h-5zM439 270h5v5h-5zM524 320h5v5h-5zM549 320h50v5h-50zM514 330h5v5h-5zM514 335h5v5h-5z"/>
<path fill="#365c8d" d="M514 180h5v5h-5zM509 185h5v5h-5zM444 230h5v5h-5zM444 240h5v5h-5zM414 255h25v5h-25zM449 270h5v5h-5zM514 325h5v5h-5zM514 340h5v5h-5z"/>
<path fill="#355f8d" d="M569 160h5v5h-5zM569 165h5v5h-5zM569 170h5v5h-5zM569 175h5v5h-5zM574 180h5v5h-5zM499 185h5v5h-5zM579 185h20v5h-20zM414 210h20v5h-20zM434 215h5v5h-5zM439 220h5v5h-5zM439 250h5v5h-5zM439 255h5v5h-5zM434 260h5v5h-5zM449 260h5v5h-5zM434 265h5v5h-5zM434 270h5v5h-5zM439 275h10v5h-10zM534 315h65v5h-65zM519 320h5v5h-5zM509 325h5v5h-5zM509 330h5v5h-5zM509 335h5v5h-5zM509 340h5v5h-5z"/>
<path fill="#33638d" d="M569 180h5v5h-5zM434 210h5v5h-5zM569 220h5v5h-5zM564 225h20v5h-20zM594 225h5v5h-5zM564 230h35v5h-35zM449 235h5v5h-5zM444 245h5v5h-5zM444 255h5v5h-5zM414 260h10v5h-10zM429 260h5v5h-5zM434 275h5v5h-5zM449 275h5v5h-5zM514 320h5v5h-5z"/>
<path fill="#31668e" d="M519 160h5v5h-5zM564 160h5v5h-5zM519 165h5v5h-5zM564 165h5v5h-5zM519 170h5v5h-5zM564 170h5v5h-5zM519 175h5v5h-5zM564 175h5v5h-5zM514 185h5v5h-5zM574 185h5v5h-5zM504 190h5v5h-5zM579 190h20v5h-20zM584 195h5v5h-5zM584 200h10v5h-10zM414 205h20v5h-20zM579 205h20v5h-20zM579 210h20v5h-20zM439 215h5v5h-5zM569 215h15v5h-15zM589 215h10v5h-10zM564 220h5v5h-5zM574 220h25v5h-25zM444 225h5v5h-5zM584 225h10v5h-10zM564 235h35v5h-35zM449 240h5v5h-5zM444 250h5v5h-5zM449 255h5v5h-5zM424 260h5v5h-5zM414 265h5v5h-5zM429 265h5v5h-5zM454 265h5v5h-5zM414 270h5v5h-5zM429 270h5v5h-5zM454 270h5v5h-5zM414 275h20v5h-20zM414 280h35v5h-35zM444 295h10v5h-10zM499 295h10v5h-10zM444 300h10v5h-10zM439 305h10v5h-10zM414 310h35v5h-35zM549 310h50v5h-50zM414 315h35v5h-35zM529 315h5v5h-5zM414 320h35v5h-35zM509 320h5v5h-5zM414 325h35v5h-35zM504 325h5v5h-5zM414 330h35v5h-35zM504 330h5v5h-5zM414 335h35v5h-35zM504 335h5v5h-5zM414 340h35v5h-35zM504 340h5v5h-5z"/>
<path fill="#30698e" d="M494 160h5v5h-5zM494 165h5v5h-5zM494 170h5v5h-5zM559 170h5v5h-5zM494 175h5v5h-5zM564 180h5v5h-5zM569 185h5v5h-5zM499 190h5v5h-5zM509 190h5v5h-5zM574 190h5v5h-5zM579 195h5v5h-5zM589 195h10v5h-10zM574 200h10v5h-10zM594 200h5v5h-5zM434 205h5v5h-5zM574 205h5v5h-5zM439 210h5v5h-5zM569 210h10v5h-10zM564 215h5v5h-5zM584 215h5v5h-5zM559 230h5v5h-5zM449 245h5v5h-5zM454 260h5v5h-5zM419 265h10v5h-10zM419 270h10v5h-10zM454 275h5v5h-5zM449 280h5v5h-5zM414 285h35v5h-35zM439 290h15v5h-15zM439 295h5v5h-5zM494 295h5v5h-5zM439 300h5v5h-5zM499 300h10v5h-10zM434 305h5v5h-5zM449 305h5v5h-5zM559 305h10v5h-10zM449 310h5v5h-5zM544 310h5v5h-5zM449 315h5v5h-5zM524 315h5v5h-5zM449 320h5v5h-5zM449 325h5v5h-5zM449 330h5v5h-5zM449 335h5v5h-5zM449 340h5v5h-5z"/>
<path fill="#2f6c8e" d="M559 160h5v5h-5zM559 165h5v5h-5zM559 175h5v5h-5zM494 180h5v5h-5zM519 180h5v5h-5zM559 180h5v5h-5zM569 190h5v5h-5zM574 195h5v5h-5zM424 200h5v5h-5zM439 205h5v5h-5zM569 205h5v5h-5zM444 220h5v5h-5zM559 225h5v5h-5zM449 230h5v5h-5zM559 235h5v5h-5zM454 240h5v5h-5zM564 240h10v5h-10zM454 245h5v5h-5zM449 250h5v5h-5zM454 255h5v5h-5zM454 280h5v5h-5zM449 285h5v5h-5zM434 290h5v5h-5zM454 290h5v5h-5zM499 290h10v5h-10zM434 295h5v5h-5zM454 295h5v5h-5zM509 295h5v5h-5zM434 300h5v5h-5zM454 300h5v5h-5zM509 300h5v5h-5zM564 300h5v5h-5zM414 305h20v5h-20zM454 305h5v5h-5zM549 305h10v5h-10zM569 305h30v5h-30zM454 310h5v5h-5zM539 310h5v5h-5zM454 315h5v5h-5zM454 320h5v5h-5zM504 320h5v5h-5zM454 325h5v5h-5zM454 330h5v5h-5zM499 330h5v5h-5zM454 335h5v5h-5zM499 335h5v5h-5zM454 340h5v5h-5zM499 340h5v5h-5z"/>
<path fill="#2e6f8e" d="M419 160h10v5h-10zM554 160h5v5h-5zM414 165h20v5h-20zM554 165h5v5h-5zM414 170h20v5h-20zM549 170h10v5h-10zM419 175h10v5h-10zM554 175h5v5h-5zM554 180h5v5h-5zM494 185h5v5h-5zM564 185h5v5h-5zM569 195h5v5h-5zM414 200h10v5h-10zM429 200h10v5h-10zM569 200h5v5h-5zM444 210h5v5h-5zM564 210h5v5h-5zM444 215h5v5h-5zM559 220h5v5h-5zM454 235h5v5h-5zM474 235h10v5h-10zM459 240h5v5h-5zM469 240h10v5h-10zM574 240h5v5h-5zM459 245h5v5h-5zM454 250h5v5h-5zM454 285h5v5h-5zM414 290h20v5h-20zM494 290h5v5h-5zM414 300h20v5h-20zM554 300h10v5h-10zM569 300h30v5h-30zM504 305h5v5h-5zM509 315h15v5h-15zM499 325h5v5h-5z"/>
<path fill="#2c728e" d="M414 160h5v5h-5zM429 160h5v5h-5zM524 160h5v5h-5zM549 160h5v5h-5zM524 165h5v5h-5zM549 165h5v5h-5zM524 170h5v5h-5zM544 170h5v5h-5zM414 175h5v5h-5zM429 175h5v5h-5zM524 175h5v5h-5zM549 175h5v5h-5zM424 180h5v5h-5zM549 180h5v5h-5zM519 185h5v5h-5zM554 185h10v5h-10zM494 190h5v5h-5zM514 190h5v5h-5zM564 190h5v5h-5zM499 195h15v5h-15zM564 195h5v5h-5zM439 200h5v5h-5zM564 200h5v5h-5zM444 205h5v5h-5zM564 205h5v5h-5zM489 215h5v5h-5zM559 215h5v5h-5zM489 220h5v5h-5zM554 230h5v5h-5zM554 235h5v5h-5zM464 240h5v5h-5zM479 240h5v5h-5zM559 240h5v5h-5zM579 240h20v5h-20zM464 245h15v5h-15zM564 245h5v5h-5zM459 250h5v5h-5zM459 255h5v5h-5zM459 260h5v5h-5zM459 265h5v5h-5zM459 270h5v5h-5zM459 275h5v5h-5zM459 280h5v5h-5zM459 285h5v5h-5zM459 290h5v5h-5zM489 290h5v5h-5zM509 290h5v5h-5zM579 290h20v5h-20zM414 295h20v5h-20zM459 295h5v5h-5zM489 295h5v5h-5zM514 295h5v5h-5zM559 295h40v5h-40zM459 300h5v5h-5zM494 300h5v5h-5zM549 300h5v5h-5zM459 305h5v5h-5zM499 305h5v5h-5zM509 305h5v5h-5zM544 305h5v5h-5zM459 310h5v5h-5zM504 310h10v5h-10zM534 310h5v5h-5zM459 315h5v5h-5zM504 315h5v5h-5zM459 320h5v5h-5zM459 325h5v5h-5zM459 330h5v5h-5zM459 335h5v5h-5zM459 340h5v5h-5zM494 340h5v5h-5z"/>
<path fill="#2b758e" d="M434 160h5v5h-5zM544 160h5v5h-5zM434 165h5v5h-5zM529 165h5v5h-5zM539 165h10v5h-10zM434 170h5v5h-5zM529 170h5v5h-5zM539 170h5v5h-5zM434 175h5v5h-5zM544 175h5v5h-5zM414 180h10v5h-10zM429 180h5v5h-5zM524 180h5v5h-5zM544 180h5v5h-5zM549 185h5v5h-5zM554 190h10v5h-10zM414 195h25v5h-25zM494 195h5v5h-5zM559 195h5v5h-5zM444 200h5v5h-5zM494 200h10v5h-10zM489 210h10v5h-10zM559 210h5v5h-5zM494 215h5v5h-5zM494 220h5v5h-5zM449 225h5v5h-5zM484 225h10v5h-10zM554 225h5v5h-5zM479 230h10v5h-10zM469 235h5v5h-5zM484 235h5v5h-5zM479 245h5v5h-5zM569 245h5v5h-5zM464 250h5v5h-5zM464 275h5v5h-5zM464 280h10v5h-10zM464 285h5v5h-5zM579 285h20v5h-20zM514 290h5v5h-5zM569 290h10v5h-10zM554 295h5v5h-5zM514 300h5v5h-5zM514 305h5v5h-5zM539 305h5v5h-5zM514 310h5v5h-5zM529 310h5v5h-5zM499 320h5v5h-5zM494 330h5v5h-5zM494 335h5v5h-5z"/>
<path fill="#2a788e" d="M529 160h15v5h-15zM439 165h5v5h-5zM534 165h5v5h-5zM439 170h5v5h-5zM534 170h5v5h-5zM529 175h15v5h-15zM434 180h5v5h-5zM529 180h5v5h-5zM539 180h5v5h-5zM414 185h25v5h-25zM524 185h5v5h-5zM544 185h5v5h-5zM414 190h25v5h-25zM489 190h5v5h-5zM519 190h5v5h-5zM549 190h5v5h-5zM439 195h5v5h-5zM489 195h5v5h-5zM514 195h5v5h-5zM554 195h5v5h-5zM489 200h5v5h-5zM504 200h5v5h-5zM559 200h5v5h-5zM489 205h10v5h-10zM559 205h5v5h-5zM484 220h5v5h-5zM494 225h5v5h-5zM474 230h5v5h-5zM489 230h5v5h-5zM549 230h5v5h-5zM459 235h10v5h-10zM549 235h5v5h-5zM484 240h5v5h-5zM554 240h5v5h-5zM559 245h5v5h-5zM469 250h10v5h-10zM564 250h5v5h-5zM464 255h5v5h-5zM564 255h5v5h-5zM464 260h5v5h-5zM564 260h5v5h-5zM464 265h5v5h-5zM559 265h10v5h-10zM464 270h5v5h-5zM469 275h5v5h-5zM534 275h5v5h-5zM529 280h15v5h-15zM579 280h20v5h-20zM469 285h5v5h-5zM504 285h10v5h-10zM569 285h10v5h-10zM464 290h5v5h-5zM484 290h5v5h-5zM519 290h5v5h-5zM559 290h10v5h-10zM464 295h5v5h-5zM519 295h5v5h-5zM549 295h5v5h-5zM464 300h5v5h-5zM544 300h5v5h-5zM464 305h5v5h-5zM464 310h5v5h-5zM499 310h5v5h-5zM519 310h10v5h-10zM464 315h5v5h-5zM499 315h5v5h-5zM464 320h5v5h-5zM464 325h5v5h-5zM464 330h5v5h-5zM464 335h5v5h-5zM464 340h5v5h-5z"/>
<path fill="#297b8e" d="M439 160h5v5h-5zM439 175h5v5h-5zM439 180h5v5h-5zM534 180h5v5h-5zM439 185h5v5h-5zM489 185h5v5h-5zM529 185h5v5h-5zM539 185h5v5h-5zM439 190h5v5h-5zM484 190h5v5h-5zM544 190h5v5h-5zM444 195h5v5h-5zM484 195h5v5h-5zM519 195h5v5h-5zM549 195h5v5h-5zM509 200h5v5h-5zM554 200h5v5h-5zM449 205h5v5h-5zM499 205h5v5h-5zM554 205h5v5h-5zM449 210h5v5h-5zM484 210h5v5h-5zM449 215h5v5h-5zM484 215h5v5h-5zM449 220h5v5h-5zM554 220h5v5h-5zM479 225h5v5h-5zM454 230h5v5h-5zM544 235h5v5h-5zM484 245h5v5h-5zM574 245h5v5h-5zM479 250h5v5h-5zM559 250h5v5h-5zM569 250h5v5h-5zM469 255h5v5h-5zM559 255h5v5h-5zM559 260h5v5h-5zM554 265h5v5h-5zM469 270h5v5h-5zM534 270h5v5h-5zM554 270h15v5h-15zM474 275h5v5h-5zM529 275h5v5h-5zM539 275h10v5h-10zM474 280h5v5h-5zM524 280h5v5h-5zM544 280h5v5h-5zM574 280h5v5h-5zM474 285h5v5h-5zM499 285h5v5h-5zM514 285h35v5h-35zM564 285h5v5h-5zM469 290h5v5h-5zM524 290h10v5h-10zM549 290h10v5h-10zM484 295h5v5h-5zM524 295h5v5h-5zM544 295h5v5h-5zM489 300h5v5h-5zM519 300h5v5h-5zM539 300h5v5h-5zM519 305h5v5h-5zM534 305h5v5h-5zM494 325h5v5h-5zM489 335h5v5h-5zM489 340h5v5h-5z"/>
<path fill="#277e8e" d="M444 160h5v5h-5zM489 160h5v5h-5zM444 165h5v5h-5zM444 170h5v5h-5zM444 175h5v5h-5zM489 175h5v5h-5zM489 180h5v5h-5zM484 185h5v5h-5zM534 185h5v5h-5zM444 190h5v5h-5zM474 190h10v5h-10zM524 190h20v5h-20zM479 195h5v5h-5zM524 195h5v5h-5zM539 195h10v5h-10zM449 200h5v5h-5zM484 200h5v5h-5zM514 200h10v5h-10zM539 200h15v5h-15zM484 205h5v5h-5zM534 205h5v5h-5zM549 205h5v5h-5zM499 210h5v5h-5zM554 210h5v5h-5zM499 215h5v5h-5zM554 215h5v5h-5zM549 225h5v5h-5zM544 230h5v5h-5zM489 235h5v5h-5zM539 235h5v5h-5zM534 240h10v5h-10zM549 240h5v5h-5zM534 245h5v5h-5zM554 245h5v5h-5zM579 245h5v5h-5zM594 245h5v5h-5zM529 250h10v5h-10zM474 255h5v5h-5zM529 255h5v5h-5zM569 255h5v5h-5zM469 260h5v5h-5zM524 260h10v5h-10zM554 260h5v5h-5zM569 260h5v5h-5zM469 265h5v5h-5zM524 265h15v5h-15zM549 265h5v5h-5zM569 265h5v5h-5zM474 270h5v5h-5zM524 270h10v5h-10zM539 270h15v5h-15zM569 270h5v5h-5zM524 275h5v5h-5zM549 275h50v5h-50zM479 280h5v5h-5zM519 280h5v5h-5zM549 280h5v5h-5zM564 280h10v5h-10zM479 285h20v5h-20zM549 285h15v5h-15zM474 290h10v5h-10zM534 290h15v5h-15zM529 295h15v5h-15zM524 300h5v5h-5zM534 300h5v5h-5zM494 305h5v5h-5zM524 305h10v5h-10zM469 335h5v5h-5zM469 340h5v5h-5z"/>
<path fill="#26828e" d="M489 165h5v5h-5zM489 170h5v5h-5zM444 180h5v5h-5zM444 185h5v5h-5zM474 185h10v5h-10zM449 195h5v5h-5zM474 195h5v5h-5zM529 195h10v5h-10zM479 200h5v5h-5zM524 200h15v5h-15zM504 205h5v5h-5zM519 205h15v5h-15zM539 205h10v5h-10zM529 210h10v5h-10zM479 220h5v5h-5zM499 220h5v5h-5zM469 230h5v5h-5zM494 230h5v5h-5zM539 230h5v5h-5zM534 235h5v5h-5zM529 240h5v5h-5zM544 240h5v5h-5zM529 245h5v5h-5zM539 245h5v5h-5zM584 245h10v5h-10zM479 255h5v5h-5zM524 255h5v5h-5zM534 255h5v5h-5zM474 260h5v5h-5zM534 260h10v5h-10zM474 265h5v5h-5zM519 265h5v5h-5zM539 265h10v5h-10zM519 270h5v5h-5zM574 270h5v5h-5zM519 275h5v5h-5zM509 280h10v5h-10zM554 280h10v5h-10zM469 295h5v5h-5zM479 295h5v5h-5zM469 300h5v5h-5zM529 300h5v5h-5zM469 305h5v5h-5zM469 310h5v5h-5zM469 315h5v5h-5zM469 320h5v5h-5zM494 320h5v5h-5zM469 325h5v5h-5zM469 330h5v5h-5zM489 330h5v5h-5zM474 340h5v5h-5zM484 340h5v5h-5z"/>
<path fill="#25848e" d="M449 160h5v5h-5zM449 165h5v5h-5zM449 170h5v5h-5zM449 175h5v5h-5zM449 180h5v5h-5zM474 180h5v5h-5zM484 180h5v5h-5zM449 185h5v5h-5zM469 185h5v5h-5zM449 190h5v5h-5zM469 190h5v5h-5zM454 200h5v5h-5zM454 205h5v5h-5zM479 205h5v5h-5zM514 205h5v5h-5zM524 210h5v5h-5zM539 210h15v5h-15zM479 215h5v5h-5zM549 220h5v5h-5zM474 225h5v5h-5zM544 225h5v5h-5zM459 230h5v5h-5zM534 230h5v5h-5zM529 235h5v5h-5zM489 240h5v5h-5zM544 245h10v5h-10zM484 250h5v5h-5zM524 250h5v5h-5zM539 250h5v5h-5zM554 250h5v5h-5zM574 250h5v5h-5zM539 255h5v5h-5zM554 255h5v5h-5zM479 260h5v5h-5zM519 260h5v5h-5zM544 260h10v5h-10zM514 270h5v5h-5zM479 275h5v5h-5zM514 275h5v5h-5zM504 280h5v5h-5zM474 295h5v5h-5zM474 335h5v5h-5zM484 335h5v5h-5zM479 340h5v5h-5z"/>
<path fill="#24878e" d="M454 160h5v5h-5zM454 165h5v5h-5zM454 170h5v5h-5zM454 175h5v5h-5zM454 180h5v5h-5zM464 180h10v5h-10zM479 180h5v5h-5zM454 185h5v5h-5zM464 185h5v5h-5zM454 190h5v5h-5zM464 190h5v5h-5zM454 195h5v5h-5zM469 195h5v5h-5zM474 200h5v5h-5zM509 205h5v5h-5zM454 210h5v5h-5zM479 210h5v5h-5zM519 210h5v5h-5zM549 215h5v5h-5zM454 225h5v5h-5zM464 230h5v5h-5zM524 245h5v5h-5zM544 250h5v5h-5zM479 265h5v5h-5zM574 265h5v5h-5zM479 270h5v5h-5zM579 270h5v5h-5zM594 270h5v5h-5zM509 275h5v5h-5zM484 280h5v5h-5zM474 300h5v5h-5zM484 300h5v5h-5zM494 310h5v5h-5zM494 315h5v5h-5zM489 325h5v5h-5zM474 330h5v5h-5zM484 330h5v5h-5zM479 335h5v5h-5z"/>
<path fill="#238a8d" d="M459 160h30v5h-30zM459 165h20v5h-20zM484 165h5v5h-5zM459 170h20v5h-20zM484 170h5v5h-5zM459 175h30v5h-30zM459 180h5v5h-5zM459 185h5v5h-5zM459 190h5v5h-5zM459 195h10v5h-10zM459 200h5v5h-5zM469 200h5v5h-5zM504 210h5v5h-5zM454 215h5v5h-5zM499 225h5v5h-5zM539 225h5v5h-5zM549 250h5v5h-5zM594 250h5v5h-5zM484 255h5v5h-5zM519 255h5v5h-5zM574 255h5v5h-5zM574 260h5v5h-5zM514 265h5v5h-5zM479 300h5v5h-5zM474 305h5v5h-5zM474 325h5v5h-5z"/>
<path fill="#228d8d" d="M479 165h5v5h-5zM479 170h5v5h-5zM464 200h5v5h-5zM459 205h5v5h-5zM474 205h5v5h-5zM514 210h5v5h-5zM524 215h25v5h-25zM454 220h5v5h-5zM474 220h5v5h-5zM544 220h5v5h-5zM529 230h5v5h-5zM524 240h5v5h-5zM579 250h5v5h-5zM589 250h5v5h-5zM544 255h10v5h-10zM584 270h10v5h-10zM489 280h5v5h-5zM499 280h5v5h-5zM489 305h5v5h-5zM474 310h5v5h-5zM474 320h5v5h-5zM479 330h5v5h-5z"/>
<path fill="#21918c" d="M469 205h5v5h-5zM474 210h5v5h-5zM509 210h5v5h-5zM474 215h5v5h-5zM504 215h5v5h-5zM519 215h5v5h-5zM469 225h5v5h-5zM494 235h5v5h-5zM489 245h5v5h-5zM584 250h5v5h-5zM594 265h5v5h-5zM509 270h5v5h-5zM484 275h5v5h-5zM494 280h5v5h-5zM474 315h5v5h-5zM489 320h5v5h-5zM484 325h5v5h-5z"/>
<path fill="#20938c" d="M464 205h5v5h-5zM459 210h5v5h-5zM539 220h5v5h-5zM459 225h5v5h-5zM534 225h5v5h-5zM524 235h5v5h-5zM594 255h5v5h-5zM484 260h5v5h-5zM514 260h5v5h-5zM504 275h5v5h-5zM479 305h5v5h-5zM479 325h5v5h-5z"/>
<path fill="#1f968b" d="M464 210h10v5h-10zM504 220h5v5h-5zM464 225h5v5h-5zM519 250h5v5h-5zM579 255h5v5h-5zM594 260h5v5h-5zM484 265h5v5h-5zM579 265h5v5h-5zM484 270h5v5h-5zM484 305h5v5h-5z"/>
<path fill="#1f998a" d="M459 215h5v5h-5zM469 215h5v5h-5zM514 215h5v5h-5zM459 220h5v5h-5zM469 220h5v5h-5zM534 220h5v5h-5zM499 230h5v5h-5zM479 310h5v5h-5zM489 310h5v5h-5zM489 315h5v5h-5zM479 320h5v5h-5z"/>
<path fill="#1e9c89" d="M464 215h5v5h-5zM509 215h5v5h-5zM489 250h5v5h-5zM589 255h5v5h-5zM579 260h5v5h-5zM589 265h5v5h-5zM489 275h5v5h-5zM479 315h5v5h-5zM484 320h5v5h-5z"/>
<path fill="#1fa088" d="M464 220h5v5h-5zM529 220h5v5h-5zM529 225h5v5h-5zM524 230h5v5h-5zM584 255h5v5h-5zM509 265h5v5h-5zM584 265h5v5h-5zM499 275h5v5h-5zM484 310h5v5h-5z"/>
<path fill="#1fa287" d="M504 225h5v5h-5zM494 240h5v5h-5zM519 245h5v5h-5zM589 260h5v5h-5zM494 275h5v5h-5zM484 315h5v5h-5z"/>
<path fill="#21a585" d="M524 220h5v5h-5zM514 255h5v5h-5zM504 270h5v5h-5z"/>
<path fill="#22a884" d="M509 220h5v5h-5zM519 220h5v5h-5zM584 260h5v5h-5zM489 270h5v5h-5z"/>
<path fill="#25ab82" d="M514 220h5v5h-5zM524 225h5v5h-5zM519 240h5v5h-5zM489 255h5v5h-5z"/>
<path fill="#2cb17e" d="M499 235h5v5h-5zM519 235h5v5h-5zM489 260h5v5h-5zM489 265h5v5h-5z"/>
<path fill="#2fb47c" d="M494 245h5v5h-5zM494 270h10v5h-10z"/>
<path fill="#34b679" d="M519 225h5v5h-5zM504 230h5v5h-5zM519 230h5v5h-5zM509 260h5v5h-5z"/>
<path fill="#38b977" d="M509 225h5v5h-5zM514 250h5v5h-5z"/>
<path fill="#3fbc73" d="M514 225h5v5h-5zM504 265h5v5h-5z"/>
<path fill="#50c46a" d="M494 265h5v5h-5z"/>
<path fill="#56c667" d="M514 230h5v5h-5zM499 240h5v5h-5zM514 245h5v5h-5zM494 250h5v5h-5z"/>
<path fill="#5ec962" d="M509 230h5v5h-5z"/>
<path fill="#65cb5e" d="M514 235h5v5h-5zM509 255h5v5h-5zM499 265h5v5h-5z"/>
<path fill="#6ccd5a" d="M504 235h5v5h-5zM514 240h5v5h-5zM494 260h5v5h-5z"/>
<path fill="#73d056" d="M494 255h5v5h-5z"/>
<path fill="#7ad151" d="M504 260h5v5h-5z"/>
<path fill="#84d44b" d="M509 235h5v5h-5z"/>
<path fill="#93d741" d="M499 245h5v5h-5zM499 260h5v5h-5z"/>
<path fill="#9bd93c" d="M509 250h5v5h-5z"/>
<path fill="#a2da37" d="M504 240h5v5h-5z"/>
<path fill="#addc30" d="M509 240h5v5h-5z"/>
<path fill="#b5de2b" d="M509 245h5v5h-5zM499 250h5v5h-5zM499 255h10v5h-10z"/>
<path fill="#cde11d" d="M504 245h5v5h-5zM504 250h5v5h-5z"/></g>
<path fill="none" stroke="#fff" stroke-opacity="0.72" stroke-width="0.95" stroke-linejoin="round" d="M588.2,270.5 585.2,270.0 583.8,269.3 582.2,268.0 580.8,265.5 580.3,263.8 580.5,260.8 581.0,259.2 582.2,257.3 583.8,256.1 586.8,255.1 588.2,255.1 M465.2,212.1 468.2,211.8 470.9,212.8 472.6,214.2 473.6,215.8 474.2,217.3 474.7,220.2 474.2,223.1 473.6,224.8 472.7,226.2 471.2,228.0 469.6,229.2 466.8,230.5 463.8,230.5 461.2,229.2 459.8,227.8 458.9,226.2 458.1,223.2 458.3,220.2 459.2,217.8 460.5,215.8 461.9,214.2 463.8,212.8 465.2,212.1 Z M511.8,212.7 513.2,213.0 515.5,214.2 517.5,215.8 519.2,216.8 520.8,217.5 523.8,218.2 526.8,218.5 529.8,218.6 532.7,218.8 534.2,218.8 537.2,219.1 540.2,219.7 541.8,220.5 542.0,223.2 540.7,224.8 538.8,226.2 537.2,227.2 535.8,228.2 534.1,229.2 532.0,230.8 530.2,232.2 528.9,233.8 527.9,235.2 526.8,238.1 526.3,239.8 525.5,242.8 525.0,244.2 524.1,247.2 523.5,248.8 522.3,251.8 521.7,253.2 520.8,255.2 519.5,257.8 518.8,259.2 517.8,261.2 516.3,263.8 515.5,265.2 514.6,266.8 513.2,269.0 511.8,271.3 510.7,272.8 509.5,274.2 508.2,275.8 506.6,277.2 504.7,278.8 502.8,280.0 501.2,280.7 498.2,281.5 495.2,281.7 492.2,280.9 490.8,280.2 488.8,278.8 487.6,277.2 486.2,274.5 485.8,272.8 485.4,269.8 485.4,266.8 485.9,263.8 486.3,262.2 487.1,259.2 487.8,257.4 488.7,254.8 489.3,253.2 490.5,250.2 491.2,248.8 492.2,246.3 493.1,244.2 493.8,242.8 495.2,239.9 496.1,238.2 497.0,236.8 498.2,234.8 499.8,232.5 500.9,230.8 501.9,229.2 502.8,227.8 504.2,224.9 504.9,223.2 505.8,220.6 506.3,218.8 507.2,215.9 508.3,214.2 510.2,212.9 511.8,212.7 Z M547.8,257.0 550.6,257.8 549.2,259.6 547.8,258.8 547.8,257.0 Z M481.8,306.8 484.8,305.9 487.8,306.5 489.3,307.2 491.1,308.8 492.4,310.2 493.7,313.2 493.8,314.8 493.8,316.3 493.0,319.2 492.2,320.9 490.8,323.2 489.2,325.0 487.8,326.4 486.2,327.4 483.2,328.1 480.4,326.8 479.3,325.2 478.6,323.8 477.9,320.8 477.8,317.8 478.0,314.8 478.6,311.8 479.1,310.2 480.2,308.3 481.8,306.8 Z M511.8,222.9 514.8,222.3 517.8,222.7 520.8,223.1 522.2,223.3 525.2,224.0 526.9,224.8 527.0,227.8 526.0,229.2 525.0,230.8 523.8,233.2 523.0,235.2 522.4,238.2 522.2,239.8 521.6,242.8 520.8,245.8 520.4,247.2 519.3,250.2 518.7,251.8 517.8,253.8 516.6,256.2 515.8,257.8 514.8,259.7 513.3,262.2 512.4,263.8 511.4,265.2 510.2,266.9 508.8,268.8 507.2,270.5 505.8,271.9 504.3,273.1 502.3,274.2 499.8,275.2 496.8,275.1 494.6,274.2 492.6,272.8 491.5,271.2 490.8,269.6 490.2,266.8 490.1,263.8 490.5,260.8 490.9,259.2 491.7,256.2 492.2,254.5 493.2,251.8 493.9,250.2 495.2,247.2 495.8,245.8 496.8,243.9 498.1,241.2 499.0,239.8 499.9,238.2 501.2,236.2 502.8,234.0 504.0,232.2 505.1,230.8 506.1,229.2 507.2,227.7 508.8,225.7 510.2,224.0 511.8,222.9 Z M513.2,228.7 516.2,228.7 517.8,229.5 518.7,232.2 518.8,235.2 518.8,238.2 518.7,241.2 518.3,244.2 517.8,246.6 517.1,248.8 516.2,250.9 515.2,253.2 514.5,254.8 513.2,257.2 512.1,259.2 511.2,260.8 510.2,262.2 508.8,264.2 507.2,266.0 505.8,267.4 504.2,268.5 501.5,269.8 499.8,270.0 498.2,269.6 495.9,268.2 494.7,266.8 493.8,264.0 493.6,262.2 493.8,259.8 494.1,257.8 494.9,254.8 495.3,253.2 496.5,250.2 497.1,248.8 498.2,246.4 499.3,244.2 500.1,242.8 501.2,240.9 502.8,238.7 504.2,236.8 505.5,235.2 506.9,233.8 508.3,232.3 509.9,230.8 511.8,229.3 513.2,228.7 Z M508.8,237.3 511.8,236.9 513.8,238.2 514.8,239.8 515.3,242.8 515.1,245.8 514.8,247.4 513.8,250.2 513.2,251.8 511.8,254.7 511.0,256.2 510.1,257.8 508.8,259.8 507.2,261.6 505.8,263.1 504.2,264.1 501.2,264.8 499.0,263.8 497.7,262.2 497.0,259.2 497.3,256.2 498.0,253.2 498.5,251.8 499.8,248.8 500.5,247.2 501.3,245.8 502.8,243.3 504.2,241.3 505.6,239.8 507.2,238.3 508.8,237.3 Z M505.8,245.6 508.8,244.4 510.5,245.8 510.5,248.8 510.1,250.2 508.8,253.2 507.8,254.8 506.7,256.2 504.5,257.8 503.7,257.8 501.9,256.2 501.9,253.2 502.8,250.4 503.6,248.8 504.5,247.2 505.8,245.6 Z"/>
<ellipse cx="507.4" cy="253.0" rx="21.0" ry="12.0" transform="rotate(-60.0 507.4 253.0)" fill="none" stroke="#e0442c" stroke-width="1"/>
<path d="M503.9 252.2h4.6M506.2 249.9v4.6" stroke="#f05a28" stroke-width="0.9"/>
<path d="M503.9 249.9l4.6 4.6M508.5 249.9l-4.6 4.6" stroke="#3446a8" stroke-width="0.9"/>
<ellipse cx="444.3" cy="314.0" rx="16.8" ry="11.6" transform="rotate(-42.0 444.3 314.0)" fill="#fff"/>
</g>
<rect x="424.5" y="170.5" width="165" height="165" fill="none" stroke="#1a1a1a" stroke-width="1"/>
<text x="440.9" y="186.2" font-size="10.20" fill="#f4f4f4" stroke="#2a2a2a" stroke-width="1.7" paint-order="stroke" stroke-linejoin="round" textLength="34.7" lengthAdjust="spacingAndGlyphs">Line 31</text>
<text x="441.0" y="196.5" font-size="10.20" fill="#f4f4f4" stroke="#2a2a2a" stroke-width="1.7" paint-order="stroke" stroke-linejoin="round" textLength="47" lengthAdjust="spacingAndGlyphs">CH<tspan font-size="7.4" dy="2.3">3</tspan><tspan dy="-2.3">OCHO</tspan></text>
<text x="490.6" y="196.5" font-size="10.20" font-style="italic" fill="#f4f4f4" stroke="#2a2a2a" stroke-width="1.7" paint-order="stroke" stroke-linejoin="round">v</text>
<text x="498.2" y="196.5" font-size="10.20" fill="#f4f4f4" stroke="#2a2a2a" stroke-width="1.7" paint-order="stroke" stroke-linejoin="round" textLength="6.6" lengthAdjust="spacingAndGlyphs">=</text>
<text x="507.0" y="196.5" font-size="10.20" fill="#f4f4f4" stroke="#2a2a2a" stroke-width="1.7" paint-order="stroke" stroke-linejoin="round">1</text>
<text x="523.3" y="185.8" font-size="10.20" fill="#f4f4f4" stroke="#2a2a2a" stroke-width="1.7" paint-order="stroke" stroke-linejoin="round" textLength="63.0" lengthAdjust="spacingAndGlyphs">0.50″ × 0.28″</text>
<text x="523.3" y="196.3" font-size="10.20" fill="#f4f4f4" stroke="#2a2a2a" stroke-width="1.7" paint-order="stroke" stroke-linejoin="round" textLength="58.7" lengthAdjust="spacingAndGlyphs">PA=147.80 °</text>
<text x="492.6" y="318.9" font-size="10.4" fill="#fff" textLength="80.8" lengthAdjust="spacingAndGlyphs">345149.137 MHz</text>
<g clip-path="url(#cp7)">
<g filter="url(#bl)"><path fill="#453882" d="M729 235h5v5h-5z"/>
<path fill="#443b84" d="M734 235h5v5h-5z"/>
<path fill="#424086" d="M734 230h5v5h-5z"/>
<path fill="#414487" d="M729 230h5v5h-5zM724 235h5v5h-5z"/>
<path fill="#3f4788" d="M729 240h5v5h-5z"/>
<path fill="#3e4a89" d="M689 160h5v5h-5zM689 165h5v5h-5zM689 170h5v5h-5zM689 175h5v5h-5z"/>
<path fill="#3d4e8a" d="M689 180h5v5h-5zM689 185h5v5h-5zM724 230h5v5h-5zM739 235h5v5h-5zM724 240h5v5h-5zM734 240h5v5h-5zM754 330h5v5h-5z"/>
<path fill="#3b528b" d="M739 230h5v5h-5zM754 325h10v5h-10zM749 330h5v5h-5zM759 330h10v5h-10zM749 335h20v5h-20zM754 340h10v5h-10z"/>
<path fill="#39558c" d="M684 160h5v5h-5zM684 165h5v5h-5zM684 170h5v5h-5zM684 175h5v5h-5zM684 180h5v5h-5zM684 185h5v5h-5zM689 190h5v5h-5zM699 200h5v5h-5zM734 225h5v5h-5zM719 235h5v5h-5zM629 265h5v5h-5zM629 270h5v5h-5zM749 325h5v5h-5zM764 325h5v5h-5zM749 340h5v5h-5zM764 340h5v5h-5z"/>
<path fill="#38598c" d="M694 160h5v5h-5zM694 165h5v5h-5zM694 170h5v5h-5zM694 175h5v5h-5zM694 180h5v5h-5zM694 185h5v5h-5zM694 190h5v5h-5zM694 195h10v5h-10zM694 200h5v5h-5zM704 200h5v5h-5zM729 225h5v5h-5zM719 240h5v5h-5zM634 265h5v5h-5zM634 270h5v5h-5zM749 320h20v5h-20zM744 330h5v5h-5z"/>
<path fill="#365c8d" d="M684 190h5v5h-5zM689 195h5v5h-5zM699 205h5v5h-5zM654 220h5v5h-5zM739 240h5v5h-5zM744 325h5v5h-5zM744 335h5v5h-5zM744 340h5v5h-5z"/>
<path fill="#355f8d" d="M704 195h5v5h-5zM704 205h5v5h-5zM659 220h5v5h-5zM739 225h5v5h-5zM629 260h5v5h-5zM629 275h5v5h-5zM754 315h5v5h-5zM744 320h5v5h-5z"/>
<path fill="#33638d" d="M634 170h5v5h-5zM699 190h5v5h-5zM684 195h5v5h-5zM689 200h5v5h-5zM709 200h5v5h-5zM694 205h5v5h-5zM649 220h5v5h-5zM649 225h15v5h-15zM719 230h5v5h-5zM724 245h10v5h-10zM634 260h5v5h-5zM624 265h5v5h-5zM624 270h5v5h-5zM749 315h5v5h-5zM759 315h10v5h-10zM739 330h5v5h-5zM739 335h5v5h-5z"/>
<path fill="#31668e" d="M634 160h10v5h-10zM634 165h10v5h-10zM639 170h5v5h-5zM634 175h10v5h-10zM679 185h5v5h-5zM709 195h5v5h-5zM709 205h5v5h-5zM724 225h5v5h-5zM744 235h5v5h-5zM639 265h5v5h-5zM634 275h5v5h-5zM739 325h5v5h-5zM739 340h5v5h-5z"/>
<path fill="#30698e" d="M629 165h5v5h-5zM644 165h5v5h-5zM629 170h5v5h-5zM644 170h5v5h-5zM679 180h5v5h-5zM699 185h5v5h-5zM679 190h5v5h-5zM664 220h5v5h-5zM644 225h5v5h-5zM744 230h5v5h-5zM714 235h5v5h-5zM714 240h5v5h-5zM744 240h5v5h-5zM719 245h5v5h-5zM734 245h5v5h-5zM624 260h5v5h-5zM639 270h5v5h-5zM624 275h5v5h-5zM614 300h5v5h-5zM614 305h5v5h-5zM754 310h10v5h-10zM744 315h5v5h-5zM739 320h5v5h-5zM719 330h5v5h-5zM734 330h5v5h-5zM719 335h5v5h-5zM734 335h5v5h-5z"/>
<path fill="#2f6c8e" d="M629 160h5v5h-5zM644 160h5v5h-5zM679 160h5v5h-5zM679 165h5v5h-5zM679 170h5v5h-5zM629 175h5v5h-5zM644 175h5v5h-5zM679 175h5v5h-5zM704 190h5v5h-5zM684 200h5v5h-5zM689 205h5v5h-5zM699 210h5v5h-5zM614 215h5v5h-5zM654 215h10v5h-10zM614 220h10v5h-10zM644 220h5v5h-5zM734 220h5v5h-5zM639 225h5v5h-5zM664 225h5v5h-5zM629 230h15v5h-15zM629 235h10v5h-10zM629 255h5v5h-5zM629 280h5v5h-5zM614 295h10v5h-10zM609 300h5v5h-5zM619 300h5v5h-5zM619 305h5v5h-5zM614 310h10v5h-10zM749 310h5v5h-5zM764 310h5v5h-5zM614 315h10v5h-10zM614 320h10v5h-10zM719 320h10v5h-10zM609 325h10v5h-10zM719 325h20v5h-20zM609 330h10v5h-10zM714 330h5v5h-5zM724 330h10v5h-10zM609 335h10v5h-10zM714 335h5v5h-5zM724 335h10v5h-10zM609 340h10v5h-10zM719 340h20v5h-20z"/>
<path fill="#2e6f8e" d="M649 165h5v5h-5zM624 170h5v5h-5zM649 170h5v5h-5zM634 180h10v5h-10zM699 180h5v5h-5zM679 195h5v5h-5zM714 195h5v5h-5zM714 200h5v5h-5zM694 210h5v5h-5zM704 210h5v5h-5zM619 215h5v5h-5zM649 215h5v5h-5zM739 220h5v5h-5zM614 225h15v5h-15zM634 225h5v5h-5zM744 225h5v5h-5zM624 230h5v5h-5zM644 230h15v5h-15zM624 235h5v5h-5zM629 240h5v5h-5zM739 245h5v5h-5zM639 260h5v5h-5zM624 280h5v5h-5zM634 280h5v5h-5zM614 290h10v5h-10zM609 295h5v5h-5zM609 305h5v5h-5zM609 310h5v5h-5zM744 310h5v5h-5zM609 315h5v5h-5zM724 315h5v5h-5zM739 315h5v5h-5zM609 320h5v5h-5zM729 320h10v5h-10zM619 325h5v5h-5zM714 325h5v5h-5zM619 330h5v5h-5zM619 335h5v5h-5zM619 340h5v5h-5zM714 340h5v5h-5z"/>
<path fill="#2c728e" d="M624 160h5v5h-5zM649 160h5v5h-5zM699 160h5v5h-5zM624 165h5v5h-5zM624 175h5v5h-5zM649 175h5v5h-5zM699 175h5v5h-5zM644 180h5v5h-5zM709 190h5v5h-5zM609 215h5v5h-5zM664 215h5v5h-5zM609 220h5v5h-5zM624 220h5v5h-5zM639 220h5v5h-5zM729 220h5v5h-5zM629 225h5v5h-5zM619 230h5v5h-5zM714 230h5v5h-5zM639 235h5v5h-5zM624 240h5v5h-5zM634 240h5v5h-5zM714 245h5v5h-5zM624 255h5v5h-5zM634 255h5v5h-5zM639 275h5v5h-5zM624 285h10v5h-10zM609 290h5v5h-5zM624 290h5v5h-5zM604 295h5v5h-5zM624 295h5v5h-5zM624 300h5v5h-5zM624 305h5v5h-5zM749 305h20v5h-20zM624 310h5v5h-5zM624 315h5v5h-5zM719 315h5v5h-5zM729 315h10v5h-10zM624 320h5v5h-5zM714 320h5v5h-5zM604 325h5v5h-5zM624 325h5v5h-5zM709 325h5v5h-5zM604 330h5v5h-5zM624 330h5v5h-5zM709 330h5v5h-5zM604 335h5v5h-5zM624 335h5v5h-5zM709 335h5v5h-5zM604 340h5v5h-5zM624 340h5v5h-5zM709 340h5v5h-5z"/>
<path fill="#2b758e" d="M654 165h5v5h-5zM699 165h5v5h-5zM654 170h5v5h-5zM699 170h5v5h-5zM629 180h5v5h-5zM704 185h5v5h-5zM714 190h5v5h-5zM719 195h5v5h-5zM684 205h5v5h-5zM714 205h5v5h-5zM614 210h10v5h-10zM689 210h5v5h-5zM709 210h5v5h-5zM624 215h5v5h-5zM669 220h5v5h-5zM659 230h5v5h-5zM619 235h5v5h-5zM749 240h5v5h-5zM764 240h5v5h-5zM629 245h5v5h-5zM744 245h5v5h-5zM619 285h5v5h-5zM604 290h5v5h-5zM629 290h5v5h-5zM604 300h5v5h-5zM604 305h5v5h-5zM744 305h5v5h-5zM724 310h5v5h-5zM739 310h5v5h-5zM714 315h5v5h-5zM604 320h5v5h-5zM709 320h5v5h-5zM639 325h5v5h-5zM584 330h5v5h-5zM599 330h5v5h-5zM639 330h10v5h-10zM704 330h5v5h-5zM584 335h5v5h-5zM599 335h5v5h-5zM639 335h5v5h-5zM704 335h5v5h-5zM639 340h5v5h-5z"/>
<path fill="#2a788e" d="M654 160h5v5h-5zM654 175h5v5h-5zM649 180h5v5h-5zM674 185h5v5h-5zM674 190h5v5h-5zM719 190h10v5h-10zM679 200h5v5h-5zM719 200h5v5h-5zM609 210h5v5h-5zM624 210h5v5h-5zM644 215h5v5h-5zM629 220h10v5h-10zM744 220h5v5h-5zM609 225h5v5h-5zM669 225h5v5h-5zM719 225h5v5h-5zM614 230h5v5h-5zM644 235h5v5h-5zM709 235h5v5h-5zM749 235h5v5h-5zM764 235h5v5h-5zM619 240h5v5h-5zM709 240h5v5h-5zM759 240h5v5h-5zM624 245h5v5h-5zM749 245h5v5h-5zM759 245h10v5h-10zM624 250h10v5h-10zM719 250h10v5h-10zM619 255h5v5h-5zM619 260h5v5h-5zM704 260h10v5h-10zM619 265h5v5h-5zM644 265h5v5h-5zM704 265h5v5h-5zM619 270h5v5h-5zM619 275h5v5h-5zM619 280h5v5h-5zM614 285h5v5h-5zM634 285h5v5h-5zM584 290h20v5h-20zM584 295h20v5h-20zM629 295h5v5h-5zM629 300h5v5h-5zM749 300h20v5h-20zM629 305h5v5h-5zM739 305h5v5h-5zM604 310h5v5h-5zM629 310h5v5h-5zM719 310h5v5h-5zM729 310h10v5h-10zM604 315h5v5h-5zM629 315h15v5h-15zM629 320h20v5h-20zM584 325h20v5h-20zM629 325h10v5h-10zM644 325h5v5h-5zM704 325h5v5h-5zM589 330h10v5h-10zM629 330h10v5h-10zM699 330h5v5h-5zM589 335h10v5h-10zM629 335h10v5h-10zM644 335h5v5h-5zM584 340h20v5h-20zM629 340h10v5h-10zM644 340h5v5h-5zM704 340h5v5h-5z"/>
<path fill="#297b8e" d="M619 165h5v5h-5zM619 170h5v5h-5zM624 180h5v5h-5zM674 180h5v5h-5zM634 185h15v5h-15zM709 185h5v5h-5zM719 185h5v5h-5zM729 190h5v5h-5zM674 195h5v5h-5zM724 195h5v5h-5zM624 205h5v5h-5zM629 210h5v5h-5zM684 210h5v5h-5zM629 215h5v5h-5zM639 215h5v5h-5zM669 215h5v5h-5zM734 215h10v5h-10zM724 220h5v5h-5zM664 230h5v5h-5zM749 230h5v5h-5zM764 230h5v5h-5zM649 235h5v5h-5zM759 235h5v5h-5zM639 240h5v5h-5zM754 240h5v5h-5zM619 245h5v5h-5zM634 245h5v5h-5zM754 245h5v5h-5zM619 250h5v5h-5zM634 250h5v5h-5zM714 250h5v5h-5zM729 250h5v5h-5zM639 255h5v5h-5zM644 260h5v5h-5zM699 265h5v5h-5zM709 265h5v5h-5zM644 270h5v5h-5zM639 280h5v5h-5zM584 285h30v5h-30zM634 290h5v5h-5zM584 300h20v5h-20zM744 300h5v5h-5zM634 305h5v5h-5zM734 305h5v5h-5zM634 310h10v5h-10zM714 310h5v5h-5zM644 315h5v5h-5zM709 315h5v5h-5zM584 320h20v5h-20zM704 320h5v5h-5zM649 325h5v5h-5zM699 325h5v5h-5zM649 330h5v5h-5zM694 330h5v5h-5zM649 335h5v5h-5zM694 335h10v5h-10zM649 340h5v5h-5zM699 340h5v5h-5z"/>
<path fill="#277e8e" d="M619 160h5v5h-5zM659 160h5v5h-5zM674 160h5v5h-5zM659 165h5v5h-5zM659 170h5v5h-5zM619 175h5v5h-5zM659 175h5v5h-5zM674 175h5v5h-5zM654 180h5v5h-5zM629 185h5v5h-5zM714 185h5v5h-5zM724 185h5v5h-5zM734 190h5v5h-5zM729 195h5v5h-5zM614 205h10v5h-10zM629 205h5v5h-5zM679 205h5v5h-5zM719 205h5v5h-5zM749 205h20v5h-20zM714 210h5v5h-5zM749 210h20v5h-20zM604 215h5v5h-5zM634 215h5v5h-5zM689 215h15v5h-15zM744 215h5v5h-5zM604 220h5v5h-5zM749 220h5v5h-5zM764 220h5v5h-5zM749 225h5v5h-5zM764 225h5v5h-5zM759 230h5v5h-5zM614 235h5v5h-5zM654 235h5v5h-5zM754 235h5v5h-5zM709 245h5v5h-5zM614 250h5v5h-5zM734 250h5v5h-5zM749 250h20v5h-20zM709 255h15v5h-15zM699 260h5v5h-5zM714 260h5v5h-5zM699 270h10v5h-10zM584 280h20v5h-20zM614 280h5v5h-5zM634 295h5v5h-5zM749 295h20v5h-20zM634 300h5v5h-5zM739 300h5v5h-5zM584 305h10v5h-10zM599 305h5v5h-5zM639 305h5v5h-5zM724 305h10v5h-10zM584 310h5v5h-5zM599 310h5v5h-5zM644 310h5v5h-5zM584 315h10v5h-10zM599 315h5v5h-5zM649 320h5v5h-5zM699 320h5v5h-5zM689 325h10v5h-10zM689 330h5v5h-5zM689 335h5v5h-5zM689 340h10v5h-10z"/>
<path fill="#26828e" d="M674 165h5v5h-5zM674 170h5v5h-5zM704 180h5v5h-5zM719 180h5v5h-5zM649 185h5v5h-5zM729 185h5v5h-5zM739 190h5v5h-5zM734 195h10v5h-10zM724 200h5v5h-5zM744 200h25v5h-25zM609 205h5v5h-5zM744 205h5v5h-5zM604 210h5v5h-5zM634 210h5v5h-5zM654 210h15v5h-15zM739 210h10v5h-10zM684 215h5v5h-5zM704 215h5v5h-5zM729 215h5v5h-5zM749 215h20v5h-20zM674 220h5v5h-5zM754 220h10v5h-10zM674 225h5v5h-5zM754 225h10v5h-10zM609 230h5v5h-5zM709 230h5v5h-5zM754 230h5v5h-5zM614 240h5v5h-5zM644 240h5v5h-5zM614 245h5v5h-5zM639 245h5v5h-5zM709 250h5v5h-5zM739 250h10v5h-10zM614 255h5v5h-5zM644 255h5v5h-5zM704 255h5v5h-5zM694 265h5v5h-5zM714 265h5v5h-5zM694 270h5v5h-5zM589 275h10v5h-10zM644 275h5v5h-5zM604 280h10v5h-10zM639 285h5v5h-5zM744 295h5v5h-5zM639 300h5v5h-5zM734 300h5v5h-5zM594 305h5v5h-5zM644 305h5v5h-5zM719 305h5v5h-5zM589 310h10v5h-10zM709 310h5v5h-5zM594 315h5v5h-5zM649 315h5v5h-5zM704 315h5v5h-5zM689 320h10v5h-10zM654 325h5v5h-5zM684 325h5v5h-5zM654 330h5v5h-5zM684 330h5v5h-5zM654 335h5v5h-5zM684 335h5v5h-5zM654 340h5v5h-5zM684 340h5v5h-5z"/>
<path fill="#25848e" d="M664 165h5v5h-5zM664 170h5v5h-5zM619 180h5v5h-5zM659 180h5v5h-5zM669 180h5v5h-5zM714 180h5v5h-5zM724 180h5v5h-5zM624 185h5v5h-5zM669 185h5v5h-5zM734 185h5v5h-5zM634 190h10v5h-10zM669 190h5v5h-5zM744 190h5v5h-5zM744 195h25v5h-25zM624 200h10v5h-10zM674 200h5v5h-5zM729 200h15v5h-15zM604 205h5v5h-5zM739 205h5v5h-5zM584 210h5v5h-5zM599 210h5v5h-5zM649 210h5v5h-5zM679 210h5v5h-5zM734 210h5v5h-5zM584 215h5v5h-5zM599 215h5v5h-5zM674 215h10v5h-10zM679 220h5v5h-5zM604 225h5v5h-5zM714 225h5v5h-5zM659 235h5v5h-5zM649 240h5v5h-5zM609 245h5v5h-5zM609 250h5v5h-5zM639 250h5v5h-5zM609 255h5v5h-5zM724 255h5v5h-5zM614 260h5v5h-5zM649 260h5v5h-5zM719 260h5v5h-5zM589 270h10v5h-10zM709 270h5v5h-5zM584 275h5v5h-5zM599 275h5v5h-5zM614 275h5v5h-5zM679 285h10v5h-10zM639 290h5v5h-5zM674 290h15v5h-15zM754 290h10v5h-10zM639 295h5v5h-5zM739 295h5v5h-5zM644 300h5v5h-5zM729 300h5v5h-5zM714 305h5v5h-5zM689 315h15v5h-15zM684 320h5v5h-5zM679 325h5v5h-5zM679 330h5v5h-5zM679 335h5v5h-5zM679 340h5v5h-5z"/>
<path fill="#24878e" d="M614 160h5v5h-5zM664 160h10v5h-10zM704 160h5v5h-5zM719 160h5v5h-5zM614 165h5v5h-5zM669 165h5v5h-5zM614 170h5v5h-5zM669 170h5v5h-5zM614 175h5v5h-5zM664 175h10v5h-10zM704 175h5v5h-5zM719 175h5v5h-5zM664 180h5v5h-5zM709 180h5v5h-5zM729 180h5v5h-5zM654 185h5v5h-5zM739 185h5v5h-5zM629 190h5v5h-5zM644 190h5v5h-5zM749 190h20v5h-20zM629 195h5v5h-5zM619 200h5v5h-5zM584 205h20v5h-20zM634 205h5v5h-5zM674 205h5v5h-5zM724 205h15v5h-15zM589 210h10v5h-10zM639 210h10v5h-10zM669 210h10v5h-10zM719 210h5v5h-5zM729 210h5v5h-5zM589 215h10v5h-10zM709 215h5v5h-5zM724 215h5v5h-5zM584 220h5v5h-5zM599 220h5v5h-5zM684 220h10v5h-10zM719 220h5v5h-5zM679 225h5v5h-5zM669 230h5v5h-5zM609 235h5v5h-5zM704 235h5v5h-5zM609 240h5v5h-5zM654 240h5v5h-5zM704 240h5v5h-5zM644 245h10v5h-10zM704 245h5v5h-5zM584 250h25v5h-25zM644 250h10v5h-10zM704 250h5v5h-5zM584 255h25v5h-25zM649 255h5v5h-5zM699 255h5v5h-5zM584 260h20v5h-20zM694 260h5v5h-5zM584 265h20v5h-20zM614 265h5v5h-5zM649 265h5v5h-5zM719 265h5v5h-5zM584 270h5v5h-5zM599 270h5v5h-5zM614 270h5v5h-5zM604 275h5v5h-5zM689 275h15v5h-15zM644 280h5v5h-5zM684 280h10v5h-10zM669 285h10v5h-10zM689 285h5v5h-5zM664 290h10v5h-10zM689 290h5v5h-5zM744 290h10v5h-10zM764 290h5v5h-5zM644 295h5v5h-5zM654 295h40v5h-40zM734 295h5v5h-5zM649 300h5v5h-5zM689 300h5v5h-5zM724 300h5v5h-5zM649 305h5v5h-5zM689 305h5v5h-5zM709 305h5v5h-5zM649 310h5v5h-5zM689 310h20v5h-20zM654 320h5v5h-5zM659 325h5v5h-5zM674 325h5v5h-5zM659 330h20v5h-20zM659 335h20v5h-20zM659 340h5v5h-5zM674 340h5v5h-5z"/>
<path fill="#238a8d" d="M714 160h5v5h-5zM724 160h5v5h-5zM704 165h5v5h-5zM719 165h10v5h-10zM704 170h5v5h-5zM719 170h10v5h-10zM714 175h5v5h-5zM724 175h5v5h-5zM664 185h5v5h-5zM744 185h5v5h-5zM624 195h5v5h-5zM634 195h5v5h-5zM669 195h5v5h-5zM604 200h15v5h-15zM634 200h5v5h-5zM724 210h5v5h-5zM714 215h5v5h-5zM589 220h10v5h-10zM694 220h5v5h-5zM604 230h5v5h-5zM604 245h5v5h-5zM654 245h5v5h-5zM654 250h5v5h-5zM729 255h5v5h-5zM749 255h20v5h-20zM604 260h10v5h-10zM724 260h5v5h-5zM604 265h5v5h-5zM604 270h5v5h-5zM649 270h5v5h-5zM689 270h5v5h-5zM714 270h5v5h-5zM609 275h5v5h-5zM704 275h5v5h-5zM679 280h5v5h-5zM694 280h5v5h-5zM644 285h5v5h-5zM644 290h5v5h-5zM654 290h10v5h-10zM694 290h5v5h-5zM739 290h5v5h-5zM649 295h5v5h-5zM694 295h5v5h-5zM654 300h10v5h-10zM679 300h10v5h-10zM694 300h10v5h-10zM719 300h5v5h-5zM684 305h5v5h-5zM694 305h15v5h-15zM684 310h5v5h-5zM654 315h5v5h-5zM684 315h5v5h-5zM679 320h5v5h-5zM664 325h10v5h-10zM664 340h10v5h-10z"/>
<path fill="#228d8d" d="M609 160h5v5h-5zM709 160h5v5h-5zM609 165h5v5h-5zM714 165h5v5h-5zM609 170h5v5h-5zM714 170h5v5h-5zM609 175h5v5h-5zM709 175h5v5h-5zM614 180h5v5h-5zM734 180h5v5h-5zM619 185h5v5h-5zM659 185h5v5h-5zM749 185h20v5h-20zM624 190h5v5h-5zM649 190h5v5h-5zM619 195h5v5h-5zM639 195h5v5h-5zM584 200h20v5h-20zM669 200h5v5h-5zM639 205h5v5h-5zM669 205h5v5h-5zM719 215h5v5h-5zM699 220h5v5h-5zM714 220h5v5h-5zM584 225h10v5h-10zM599 225h5v5h-5zM684 225h10v5h-10zM709 225h5v5h-5zM674 230h5v5h-5zM704 230h5v5h-5zM604 240h5v5h-5zM584 245h20v5h-20zM654 255h5v5h-5zM734 255h15v5h-15zM729 260h5v5h-5zM609 265h5v5h-5zM724 265h5v5h-5zM609 270h5v5h-5zM649 275h5v5h-5zM674 280h5v5h-5zM699 280h5v5h-5zM659 285h10v5h-10zM694 285h5v5h-5zM739 285h30v5h-30zM649 290h5v5h-5zM734 290h5v5h-5zM699 295h5v5h-5zM729 295h5v5h-5zM664 300h15v5h-15zM704 300h15v5h-15zM654 305h5v5h-5zM679 305h5v5h-5zM654 310h5v5h-5zM659 320h5v5h-5z"/>
<path fill="#21918c" d="M729 160h5v5h-5zM604 165h5v5h-5zM709 165h5v5h-5zM729 165h5v5h-5zM604 170h5v5h-5zM709 170h5v5h-5zM729 170h5v5h-5zM729 175h5v5h-5zM609 180h5v5h-5zM739 180h30v5h-30zM614 185h5v5h-5zM619 190h5v5h-5zM664 190h5v5h-5zM584 195h35v5h-35zM644 195h5v5h-5zM639 200h5v5h-5zM664 205h5v5h-5zM704 220h10v5h-10zM594 225h5v5h-5zM694 225h5v5h-5zM584 230h5v5h-5zM599 230h5v5h-5zM679 230h5v5h-5zM604 235h5v5h-5zM664 235h5v5h-5zM699 235h5v5h-5zM584 240h5v5h-5zM599 240h5v5h-5zM659 240h5v5h-5zM699 250h5v5h-5zM694 255h5v5h-5zM689 265h5v5h-5zM729 265h5v5h-5zM719 270h5v5h-5zM684 275h5v5h-5zM709 275h5v5h-5zM649 280h5v5h-5zM649 285h10v5h-10zM699 285h5v5h-5zM734 285h5v5h-5zM699 290h5v5h-5zM704 295h5v5h-5zM724 295h5v5h-5zM659 305h5v5h-5zM674 305h5v5h-5zM679 310h5v5h-5zM659 315h5v5h-5zM664 320h15v5h-15z"/>
<path fill="#20938c" d="M584 160h25v5h-25zM734 160h5v5h-5zM749 160h20v5h-20zM584 165h20v5h-20zM749 165h20v5h-20zM584 170h20v5h-20zM754 170h10v5h-10zM584 175h25v5h-25zM734 175h5v5h-5zM749 175h20v5h-20zM584 180h5v5h-5zM599 180h10v5h-10zM609 185h5v5h-5zM584 190h25v5h-25zM614 190h5v5h-5zM654 190h10v5h-10zM664 195h5v5h-5zM644 205h5v5h-5zM659 205h5v5h-5zM699 225h10v5h-10zM589 230h10v5h-10zM684 230h5v5h-5zM699 230h5v5h-5zM584 235h5v5h-5zM599 235h5v5h-5zM589 240h10v5h-10zM699 240h5v5h-5zM699 245h5v5h-5zM654 260h5v5h-5zM734 260h5v5h-5zM734 265h5v5h-5zM724 270h15v5h-15zM654 280h5v5h-5zM669 280h5v5h-5zM704 280h5v5h-5zM734 280h35v5h-35zM704 290h5v5h-5zM729 290h5v5h-5zM709 295h15v5h-15zM664 305h10v5h-10zM659 310h5v5h-5zM674 310h5v5h-5zM679 315h5v5h-5z"/>
<path fill="#1f968b" d="M739 160h10v5h-10zM734 165h15v5h-15zM734 170h5v5h-5zM744 170h10v5h-10zM764 170h5v5h-5zM739 175h10v5h-10zM589 180h10v5h-10zM584 185h25v5h-25zM609 190h5v5h-5zM649 195h5v5h-5zM644 200h5v5h-5zM664 200h5v5h-5zM649 205h10v5h-10zM689 230h10v5h-10zM589 235h10v5h-10zM694 235h5v5h-5zM659 245h5v5h-5zM739 260h15v5h-15zM764 260h5v5h-5zM654 265h5v5h-5zM654 275h5v5h-5zM714 275h5v5h-5zM729 275h15v5h-15zM659 280h10v5h-10zM704 285h5v5h-5zM729 285h5v5h-5zM664 310h10v5h-10zM664 315h5v5h-5z"/>
<path fill="#1f998a" d="M739 170h5v5h-5zM659 195h5v5h-5zM694 240h5v5h-5zM694 250h5v5h-5zM689 260h5v5h-5zM754 260h10v5h-10zM739 265h5v5h-5zM654 270h5v5h-5zM739 270h5v5h-5zM679 275h5v5h-5zM719 275h10v5h-10zM744 275h5v5h-5zM709 280h5v5h-5zM729 280h5v5h-5zM709 290h5v5h-5zM724 290h5v5h-5z"/>
<path fill="#1e9c89" d="M654 195h5v5h-5zM649 200h15v5h-15zM689 235h5v5h-5zM694 245h5v5h-5zM659 250h5v5h-5zM744 265h5v5h-5zM684 270h5v5h-5zM744 270h5v5h-5zM749 275h20v5h-20zM724 280h5v5h-5zM709 285h5v5h-5zM724 285h5v5h-5zM714 290h10v5h-10z"/>
<path fill="#1fa088" d="M669 235h5v5h-5zM749 265h5v5h-5zM764 265h5v5h-5zM749 270h5v5h-5zM764 270h5v5h-5zM659 275h5v5h-5zM714 280h10v5h-10zM714 285h10v5h-10zM669 315h5v5h-5z"/>
<path fill="#1fa287" d="M684 235h5v5h-5zM754 265h10v5h-10zM754 270h10v5h-10zM674 275h5v5h-5zM674 315h5v5h-5z"/>
<path fill="#21a585" d="M674 235h10v5h-10zM664 240h5v5h-5zM689 240h5v5h-5zM689 255h5v5h-5zM664 275h10v5h-10z"/>
<path fill="#22a884" d="M659 255h5v5h-5z"/>
<path fill="#25ab82" d="M689 250h5v5h-5zM659 270h5v5h-5z"/>
<path fill="#28ae80" d="M689 245h5v5h-5zM684 265h5v5h-5z"/>
<path fill="#2cb17e" d="M659 260h5v5h-5z"/>
<path fill="#2fb47c" d="M659 265h5v5h-5zM679 270h5v5h-5z"/>
<path fill="#34b679" d="M684 240h5v5h-5zM664 245h5v5h-5z"/>
<path fill="#3fbc73" d="M669 240h5v5h-5zM664 270h5v5h-5z"/>
<path fill="#44bf70" d="M684 260h5v5h-5z"/>
<path fill="#4ac16d" d="M679 240h5v5h-5z"/>
<path fill="#50c46a" d="M674 240h5v5h-5zM664 250h5v5h-5zM669 270h10v5h-10z"/>
<path fill="#56c667" d="M684 245h5v5h-5zM684 255h5v5h-5z"/>
<path fill="#65cb5e" d="M684 250h5v5h-5z"/>
<path fill="#73d056" d="M664 265h5v5h-5zM679 265h5v5h-5z"/>
<path fill="#7ad151" d="M664 255h5v5h-5z"/>
<path fill="#84d44b" d="M669 245h5v5h-5z"/>
<path fill="#8bd646" d="M664 260h5v5h-5z"/>
<path fill="#93d741" d="M679 245h5v5h-5z"/>
<path fill="#a2da37" d="M674 245h5v5h-5zM669 265h5v5h-5z"/>
<path fill="#addc30" d="M679 260h5v5h-5zM674 265h5v5h-5z"/>
<path fill="#b5de2b" d="M669 250h5v5h-5z"/>
<path fill="#c5e021" d="M679 250h5v5h-5zM679 255h5v5h-5z"/>
<path fill="#d8e219" d="M674 250h5v5h-5zM669 255h5v5h-5z"/>
<path fill="#dfe318" d="M669 260h5v5h-5z"/>
<path fill="#e7e419" d="M674 260h5v5h-5z"/>
<path fill="#efe51c" d="M674 255h5v5h-5z"/></g>
<path fill="none" stroke="#fff" stroke-opacity="0.72" stroke-width="0.95" stroke-linejoin="round" d="M674.2,235.2 677.2,234.9 680.2,235.0 683.3,235.1 684.8,235.4 687.8,236.3 689.2,237.1 690.8,238.3 692.2,240.1 693.6,242.8 694.1,244.3 694.5,247.2 694.4,250.2 693.8,253.3 693.4,254.8 692.5,257.8 692.0,259.2 691.1,262.2 690.6,263.8 689.6,266.8 689.0,268.2 687.8,270.7 686.4,272.8 685.2,274.2 683.6,275.8 681.8,277.0 680.2,277.7 677.2,278.6 675.8,278.9 672.8,279.1 669.8,279.0 667.0,278.8 665.2,278.4 662.6,277.2 660.8,275.8 659.8,274.2 659.1,272.8 658.3,269.8 658.0,266.8 658.1,263.8 658.4,260.8 659.1,257.8 659.5,256.2 660.3,253.2 660.8,251.5 661.4,248.8 662.2,246.0 662.9,244.2 663.8,242.5 665.2,240.3 666.8,238.8 668.2,237.6 669.8,236.7 672.8,235.6 674.2,235.2 Z M672.8,317.3 675.8,316.8 678.8,317.6 679.6,319.2 677.2,320.7 675.8,320.9 674.1,320.8 671.5,319.2 672.8,317.3 Z M672.8,239.3 675.8,238.8 678.8,238.9 681.8,239.3 683.5,239.8 686.2,241.2 687.8,242.6 688.8,244.2 689.5,245.7 690.1,248.8 690.2,251.8 689.8,254.8 689.2,257.1 688.8,259.2 687.9,262.2 687.5,263.8 686.3,266.8 685.5,268.2 684.5,269.8 683.2,271.3 681.6,272.8 678.8,274.2 677.2,274.7 674.2,275.0 671.2,274.8 668.6,274.2 666.8,273.6 665.2,272.7 663.7,271.2 662.2,268.6 661.7,266.8 661.4,263.8 661.6,260.8 662.1,257.8 662.5,256.2 663.3,253.2 663.8,251.5 664.5,248.8 665.2,246.8 666.5,244.2 667.6,242.8 669.1,241.2 671.2,239.8 672.8,239.3 Z M674.2,242.4 677.2,242.3 680.2,242.7 681.8,243.1 683.9,244.2 685.4,245.7 686.3,247.2 687.0,250.2 687.1,253.2 686.7,256.2 686.2,258.3 685.7,260.8 684.8,263.7 684.1,265.2 683.2,266.8 681.8,268.7 680.2,269.9 677.4,271.2 675.8,271.5 672.8,271.4 671.2,271.2 668.2,270.1 666.8,269.0 665.2,266.9 664.6,265.2 664.2,262.2 664.4,259.2 665.1,256.2 665.5,254.8 666.3,251.8 666.8,250.2 668.1,247.2 669.1,245.8 670.5,244.2 672.8,242.8 674.2,242.4 Z M672.8,246.7 675.8,245.8 678.8,246.0 681.8,247.1 683.2,248.8 683.9,250.2 684.3,253.2 684.0,256.2 683.5,259.2 683.1,260.8 681.9,263.8 681.0,265.2 679.5,266.8 677.2,268.0 675.8,268.3 674.2,268.2 671.2,267.6 669.5,266.8 668.1,265.2 667.0,262.2 667.0,259.2 667.6,256.2 668.2,254.1 669.1,251.8 669.8,250.1 671.2,247.9 672.8,246.7 Z M674.2,249.9 677.2,249.6 679.7,250.2 681.0,251.8 681.6,254.8 681.3,257.8 680.6,260.8 679.9,262.2 678.8,263.8 675.8,265.1 672.8,264.6 671.1,263.8 669.8,261.4 669.6,259.2 669.8,257.8 670.8,254.8 671.3,253.2 672.8,251.0 674.2,249.9 Z"/>
<ellipse cx="675.0" cy="254.5" rx="18.0" ry="16.0" transform="rotate(-90.0 675.0 254.5)" fill="none" stroke="#e0442c" stroke-width="1"/>
<path d="M673.0 254.4h4.6M675.3 252.1v4.6" stroke="#f05a28" stroke-width="0.9"/>
<path d="M674.8 249.9l4.6 4.6M679.4 249.9l-4.6 4.6" stroke="#3446a8" stroke-width="0.9"/>
<ellipse cx="614.3" cy="314.0" rx="16.8" ry="11.6" transform="rotate(-42.0 614.3 314.0)" fill="#fff"/>
</g>
<rect x="594.5" y="170.5" width="165" height="165" fill="none" stroke="#1a1a1a" stroke-width="1"/>
<text x="610.9" y="186.2" font-size="10.20" fill="#f4f4f4" stroke="#2a2a2a" stroke-width="1.7" paint-order="stroke" stroke-linejoin="round" textLength="34.7" lengthAdjust="spacingAndGlyphs">Line 32</text>
<text x="611.0" y="196.5" font-size="10.20" fill="#f4f4f4" stroke="#2a2a2a" stroke-width="1.7" paint-order="stroke" stroke-linejoin="round" textLength="47" lengthAdjust="spacingAndGlyphs">CH<tspan font-size="7.4" dy="2.3">3</tspan><tspan dy="-2.3">OCHO</tspan></text>
<text x="660.6" y="196.5" font-size="10.20" font-style="italic" fill="#f4f4f4" stroke="#2a2a2a" stroke-width="1.7" paint-order="stroke" stroke-linejoin="round">v</text>
<text x="668.2" y="196.5" font-size="10.20" fill="#f4f4f4" stroke="#2a2a2a" stroke-width="1.7" paint-order="stroke" stroke-linejoin="round" textLength="6.6" lengthAdjust="spacingAndGlyphs">=</text>
<text x="677.0" y="196.5" font-size="10.20" fill="#f4f4f4" stroke="#2a2a2a" stroke-width="1.7" paint-order="stroke" stroke-linejoin="round">1</text>
<text x="693.3" y="185.8" font-size="10.20" fill="#f4f4f4" stroke="#2a2a2a" stroke-width="1.7" paint-order="stroke" stroke-linejoin="round" textLength="63.0" lengthAdjust="spacingAndGlyphs">0.43″ × 0.36″</text>
<text x="693.3" y="196.3" font-size="10.20" fill="#f4f4f4" stroke="#2a2a2a" stroke-width="1.7" paint-order="stroke" stroke-linejoin="round" textLength="58.7" lengthAdjust="spacingAndGlyphs">PA=174.08 °</text>
<text x="662.6" y="318.9" font-size="10.4" fill="#fff" textLength="80.8" lengthAdjust="spacingAndGlyphs">345162.016 MHz</text>
<g clip-path="url(#cp8)">
<g filter="url(#bl)"><path fill="#482071" d="M244 410h5v5h-5z"/>
<path fill="#482475" d="M244 405h10v5h-10zM239 410h5v5h-5zM249 410h10v5h-10z"/>
<path fill="#482878" d="M239 405h5v5h-5zM254 405h5v5h-5z"/>
<path fill="#472d7b" d="M234 410h5v5h-5zM244 415h10v5h-10z"/>
<path fill="#46307e" d="M239 415h5v5h-5zM254 415h5v5h-5z"/>
<path fill="#463480" d="M99 335h5v5h-5zM99 340h5v5h-5zM234 405h5v5h-5zM234 415h5v5h-5z"/>
<path fill="#453882" d="M99 330h5v5h-5zM94 335h5v5h-5zM94 340h5v5h-5zM104 340h5v5h-5zM99 345h5v5h-5zM244 400h10v5h-10z"/>
<path fill="#443b84" d="M94 330h5v5h-5zM74 335h20v5h-20zM104 335h5v5h-5zM74 340h20v5h-20zM94 345h5v5h-5zM239 400h5v5h-5zM254 400h5v5h-5zM229 410h5v5h-5zM244 420h10v5h-10zM244 480h10v5h-10z"/>
<path fill="#424086" d="M74 330h20v5h-20zM104 330h5v5h-5zM74 345h20v5h-20zM104 345h5v5h-5zM229 415h5v5h-5zM239 420h5v5h-5zM254 420h5v5h-5zM239 480h5v5h-5zM254 480h5v5h-5zM239 485h20v5h-20z"/>
<path fill="#414487" d="M234 400h5v5h-5zM229 405h5v5h-5zM234 420h5v5h-5zM244 475h5v5h-5zM234 480h5v5h-5zM234 485h5v5h-5z"/>
<path fill="#3f4788" d="M109 335h5v5h-5zM109 340h5v5h-5zM74 350h30v5h-30zM239 475h5v5h-5zM249 475h10v5h-10z"/>
<path fill="#3e4a89" d="M109 330h5v5h-5zM109 345h5v5h-5zM229 420h5v5h-5zM229 480h5v5h-5zM229 485h5v5h-5zM234 490h25v5h-25z"/>
<path fill="#3d4e8a" d="M104 350h5v5h-5zM244 350h5v5h-5zM244 355h10v5h-10zM224 410h5v5h-5zM224 415h5v5h-5zM239 425h20v5h-20zM234 475h5v5h-5zM224 485h5v5h-5zM229 490h5v5h-5zM79 500h10v5h-10zM199 500h10v5h-10zM84 505h5v5h-5zM199 505h10v5h-10z"/>
<path fill="#3b528b" d="M239 330h20v5h-20zM239 335h20v5h-20zM244 340h10v5h-10zM239 345h20v5h-20zM239 350h5v5h-5zM249 350h10v5h-10zM239 355h5v5h-5zM254 355h5v5h-5zM239 360h20v5h-20zM239 395h20v5h-20zM229 400h5v5h-5zM224 405h5v5h-5zM224 420h5v5h-5zM234 425h5v5h-5zM224 480h5v5h-5zM224 490h5v5h-5zM74 495h20v5h-20zM194 495h20v5h-20zM224 495h35v5h-35zM74 500h5v5h-5zM89 500h5v5h-5zM194 500h5v5h-5zM209 500h15v5h-15zM74 505h10v5h-10zM89 505h5v5h-5zM194 505h5v5h-5zM209 505h15v5h-15zM74 510h20v5h-20zM194 510h20v5h-20zM224 510h35v5h-35z"/>
<path fill="#39558c" d="M114 335h5v5h-5zM114 340h5v5h-5zM239 340h5v5h-5zM254 340h5v5h-5zM74 355h20v5h-20zM244 365h10v5h-10zM229 425h5v5h-5zM119 450h10v5h-10zM119 455h10v5h-10zM244 470h10v5h-10zM229 475h5v5h-5zM219 485h5v5h-5zM219 490h5v5h-5zM214 495h10v5h-10zM224 500h35v5h-35zM224 505h35v5h-35zM214 510h10v5h-10z"/>
<path fill="#38598c" d="M234 330h5v5h-5zM194 335h5v5h-5zM234 335h5v5h-5zM194 340h5v5h-5zM234 340h5v5h-5zM234 345h5v5h-5zM234 350h5v5h-5zM94 355h5v5h-5zM234 355h5v5h-5zM234 360h5v5h-5zM239 365h5v5h-5zM254 365h5v5h-5zM234 395h5v5h-5zM244 430h5v5h-5zM239 470h5v5h-5zM254 470h5v5h-5zM74 490h20v5h-20zM194 490h25v5h-25zM94 495h5v5h-5zM189 495h5v5h-5zM94 500h5v5h-5zM189 500h5v5h-5zM94 505h5v5h-5zM189 505h5v5h-5zM94 510h5v5h-5zM189 510h5v5h-5z"/>
<path fill="#365c8d" d="M114 330h5v5h-5zM194 330h10v5h-10zM199 335h5v5h-5zM199 340h5v5h-5zM114 345h5v5h-5zM194 345h10v5h-10zM109 350h5v5h-5zM199 350h5v5h-5zM99 355h5v5h-5zM244 370h5v5h-5zM219 410h5v5h-5zM219 415h5v5h-5zM239 430h5v5h-5zM249 430h10v5h-10zM129 450h5v5h-5zM114 455h5v5h-5zM129 455h5v5h-5zM119 460h10v5h-10zM234 470h5v5h-5zM224 475h5v5h-5zM219 480h5v5h-5zM214 485h5v5h-5zM94 490h5v5h-5z"/>
<path fill="#355f8d" d="M204 330h5v5h-5zM229 330h5v5h-5zM204 335h5v5h-5zM229 335h5v5h-5zM119 340h5v5h-5zM204 340h5v5h-5zM229 340h5v5h-5zM204 345h5v5h-5zM229 345h5v5h-5zM194 350h5v5h-5zM204 350h5v5h-5zM229 350h5v5h-5zM229 355h5v5h-5zM234 365h5v5h-5zM239 370h5v5h-5zM249 370h10v5h-10zM224 400h5v5h-5zM219 420h5v5h-5zM224 425h5v5h-5zM234 430h5v5h-5zM114 450h5v5h-5zM199 455h10v5h-10zM199 460h10v5h-10zM74 485h20v5h-20zM194 485h20v5h-20zM189 490h5v5h-5zM99 495h5v5h-5zM99 500h5v5h-5zM184 500h5v5h-5zM99 505h5v5h-5zM184 505h5v5h-5zM99 510h5v5h-5z"/>
<path fill="#33638d" d="M189 330h5v5h-5zM119 335h5v5h-5zM134 335h5v5h-5zM189 335h5v5h-5zM124 340h15v5h-15zM189 340h5v5h-5zM189 345h5v5h-5zM209 350h5v5h-5zM104 355h5v5h-5zM199 355h15v5h-15zM229 360h5v5h-5zM229 395h5v5h-5zM219 405h5v5h-5zM229 430h5v5h-5zM119 445h10v5h-10zM199 450h10v5h-10zM194 455h5v5h-5zM209 455h5v5h-5zM114 460h5v5h-5zM194 460h5v5h-5zM209 460h5v5h-5zM229 470h5v5h-5zM219 475h5v5h-5zM214 480h5v5h-5zM94 485h10v5h-10zM189 485h5v5h-5zM99 490h5v5h-5zM184 495h5v5h-5zM124 500h10v5h-10zM164 500h10v5h-10zM124 505h10v5h-10zM184 510h5v5h-5z"/>
<path fill="#31668e" d="M119 330h5v5h-5zM134 330h5v5h-5zM209 330h5v5h-5zM224 330h5v5h-5zM124 335h10v5h-10zM139 335h5v5h-5zM209 335h5v5h-5zM224 335h5v5h-5zM139 340h5v5h-5zM224 340h5v5h-5zM119 345h5v5h-5zM134 345h5v5h-5zM209 345h5v5h-5zM224 345h5v5h-5zM189 350h5v5h-5zM214 350h5v5h-5zM224 350h5v5h-5zM194 355h5v5h-5zM214 355h15v5h-15zM74 360h20v5h-20zM209 360h10v5h-10zM224 360h5v5h-5zM229 365h5v5h-5zM234 370h5v5h-5zM239 375h20v5h-20zM239 390h20v5h-20zM84 400h5v5h-5zM74 405h20v5h-20zM74 435h20v5h-20zM239 435h20v5h-20zM134 450h5v5h-5zM194 450h5v5h-5zM209 450h5v5h-5zM129 460h5v5h-5zM119 465h5v5h-5zM194 465h20v5h-20zM239 465h20v5h-20zM214 475h5v5h-5zM74 480h35v5h-35zM194 480h20v5h-20zM104 485h5v5h-5zM104 490h5v5h-5zM184 490h5v5h-5zM104 495h5v5h-5zM119 495h20v5h-20zM164 495h10v5h-10zM179 495h5v5h-5zM104 500h5v5h-5zM119 500h5v5h-5zM134 500h5v5h-5zM174 500h10v5h-10zM104 505h5v5h-5zM119 505h5v5h-5zM134 505h5v5h-5zM164 505h20v5h-20zM104 510h5v5h-5zM119 510h20v5h-20zM164 510h10v5h-10zM179 510h5v5h-5z"/>
<path fill="#30698e" d="M124 330h10v5h-10zM139 330h5v5h-5zM214 330h10v5h-10zM214 335h10v5h-10zM209 340h5v5h-5zM124 345h10v5h-10zM139 345h5v5h-5zM214 345h10v5h-10zM219 350h5v5h-5zM94 360h5v5h-5zM204 360h5v5h-5zM219 360h5v5h-5zM74 400h10v5h-10zM89 400h5v5h-5zM74 410h20v5h-20zM214 410h5v5h-5zM214 415h5v5h-5zM219 425h5v5h-5zM74 430h20v5h-20zM224 430h5v5h-5zM234 435h5v5h-5zM79 440h10v5h-10zM114 445h5v5h-5zM214 450h5v5h-5zM134 455h5v5h-5zM189 455h5v5h-5zM214 455h5v5h-5zM189 460h5v5h-5zM214 460h5v5h-5zM114 465h5v5h-5zM124 465h5v5h-5zM189 465h5v5h-5zM189 470h40v5h-40zM94 475h15v5h-15zM189 475h25v5h-25zM109 480h5v5h-5zM189 480h5v5h-5zM109 485h5v5h-5zM184 485h5v5h-5zM109 490h25v5h-25zM179 490h5v5h-5zM109 495h10v5h-10zM159 495h5v5h-5zM174 495h5v5h-5zM109 500h10v5h-10zM139 500h5v5h-5zM159 500h5v5h-5zM109 505h10v5h-10zM139 505h5v5h-5zM159 505h5v5h-5zM109 510h10v5h-10zM159 510h5v5h-5zM174 510h5v5h-5z"/>
<path fill="#2f6c8e" d="M144 330h5v5h-5zM144 335h5v5h-5zM144 340h5v5h-5zM214 340h10v5h-10zM144 345h5v5h-5zM114 350h5v5h-5zM189 355h5v5h-5zM199 360h5v5h-5zM224 365h5v5h-5zM229 370h5v5h-5zM234 375h5v5h-5zM239 380h20v5h-20zM244 385h10v5h-10zM234 390h5v5h-5zM224 395h5v5h-5zM94 400h5v5h-5zM219 400h5v5h-5zM94 405h5v5h-5zM94 410h5v5h-5zM214 420h5v5h-5zM79 425h10v5h-10zM94 430h5v5h-5zM94 435h5v5h-5zM229 435h5v5h-5zM74 440h5v5h-5zM89 440h5v5h-5zM129 445h5v5h-5zM109 450h5v5h-5zM109 455h5v5h-5zM109 460h5v5h-5zM184 460h5v5h-5zM109 465h5v5h-5zM184 465h5v5h-5zM214 465h5v5h-5zM234 465h5v5h-5zM104 470h15v5h-15zM184 470h5v5h-5zM74 475h20v5h-20zM109 475h5v5h-5zM184 475h5v5h-5zM114 480h5v5h-5zM184 480h5v5h-5zM114 485h5v5h-5zM134 490h5v5h-5zM164 490h15v5h-15zM139 495h5v5h-5zM154 500h5v5h-5zM139 510h5v5h-5z"/>
<path fill="#2e6f8e" d="M184 330h5v5h-5zM184 335h5v5h-5zM149 340h5v5h-5zM184 340h5v5h-5zM184 345h5v5h-5zM139 350h5v5h-5zM184 350h5v5h-5zM99 360h5v5h-5zM214 365h10v5h-10zM234 380h5v5h-5zM239 385h5v5h-5zM254 385h5v5h-5zM74 395h20v5h-20zM214 405h5v5h-5zM74 415h25v5h-25zM74 425h5v5h-5zM89 425h10v5h-10zM94 440h5v5h-5zM234 440h25v5h-25zM199 445h20v5h-20zM189 450h5v5h-5zM219 450h5v5h-5zM219 455h5v5h-5zM134 460h5v5h-5zM219 460h5v5h-5zM244 460h10v5h-10zM129 465h5v5h-5zM219 465h5v5h-5zM229 465h5v5h-5zM74 470h30v5h-30zM119 470h10v5h-10zM114 475h5v5h-5zM119 485h10v5h-10zM179 485h5v5h-5zM139 490h5v5h-5zM159 490h5v5h-5zM144 495h5v5h-5zM154 495h5v5h-5zM144 500h10v5h-10zM144 505h5v5h-5zM154 505h5v5h-5zM144 510h5v5h-5zM154 510h5v5h-5z"/>
<path fill="#2c728e" d="M149 330h5v5h-5zM149 335h5v5h-5zM154 340h5v5h-5zM149 345h5v5h-5zM134 350h5v5h-5zM144 350h10v5h-10zM109 355h5v5h-5zM184 355h5v5h-5zM194 360h5v5h-5zM209 365h5v5h-5zM224 370h5v5h-5zM229 375h5v5h-5zM234 385h5v5h-5zM229 390h5v5h-5zM94 395h5v5h-5zM99 405h5v5h-5zM99 410h5v5h-5zM99 415h5v5h-5zM74 420h25v5h-25zM99 425h5v5h-5zM214 425h5v5h-5zM99 430h5v5h-5zM219 430h5v5h-5zM99 435h5v5h-5zM224 435h5v5h-5zM224 440h10v5h-10zM74 445h20v5h-20zM109 445h5v5h-5zM134 445h5v5h-5zM194 445h5v5h-5zM219 445h15v5h-15zM139 450h5v5h-5zM224 450h5v5h-5zM184 455h5v5h-5zM224 455h5v5h-5zM234 460h10v5h-10zM254 460h5v5h-5zM74 465h35v5h-35zM179 465h5v5h-5zM224 465h5v5h-5zM179 470h5v5h-5zM119 475h5v5h-5zM179 475h5v5h-5zM119 480h5v5h-5zM179 480h5v5h-5zM129 485h10v5h-10zM174 485h5v5h-5zM144 490h15v5h-15zM149 495h5v5h-5zM149 505h5v5h-5zM149 510h5v5h-5z"/>
<path fill="#2b758e" d="M154 330h10v5h-10zM154 335h10v5h-10zM159 340h5v5h-5zM154 345h10v5h-10zM129 350h5v5h-5zM154 350h5v5h-5zM144 355h10v5h-10zM179 355h5v5h-5zM184 360h10v5h-10zM74 365h20v5h-20zM204 365h5v5h-5zM219 370h5v5h-5zM229 380h5v5h-5zM219 395h5v5h-5zM99 400h5v5h-5zM214 400h5v5h-5zM209 410h5v5h-5zM209 415h5v5h-5zM99 420h5v5h-5zM219 435h5v5h-5zM99 440h5v5h-5zM114 440h10v5h-10zM214 440h10v5h-10zM94 445h5v5h-5zM234 445h25v5h-25zM229 450h5v5h-5zM139 455h5v5h-5zM229 455h10v5h-10zM74 460h20v5h-20zM104 460h5v5h-5zM179 460h5v5h-5zM224 460h10v5h-10zM129 470h5v5h-5zM124 475h5v5h-5zM124 480h10v5h-10zM174 480h5v5h-5zM139 485h10v5h-10zM164 485h10v5h-10z"/>
<path fill="#2a788e" d="M164 330h5v5h-5zM179 330h5v5h-5zM164 335h5v5h-5zM179 335h5v5h-5zM164 340h5v5h-5zM179 340h5v5h-5zM164 345h5v5h-5zM179 345h5v5h-5zM119 350h10v5h-10zM159 350h5v5h-5zM179 350h5v5h-5zM139 355h5v5h-5zM154 355h5v5h-5zM104 360h5v5h-5zM149 360h10v5h-10zM179 360h5v5h-5zM224 375h5v5h-5zM229 385h5v5h-5zM74 390h20v5h-20zM224 390h5v5h-5zM99 395h5v5h-5zM104 405h5v5h-5zM209 405h5v5h-5zM104 410h5v5h-5zM104 415h5v5h-5zM104 420h5v5h-5zM209 420h5v5h-5zM104 425h5v5h-5zM104 430h5v5h-5zM214 430h5v5h-5zM104 435h5v5h-5zM104 440h10v5h-10zM209 440h5v5h-5zM104 445h5v5h-5zM189 445h5v5h-5zM74 450h20v5h-20zM104 450h5v5h-5zM184 450h5v5h-5zM234 450h25v5h-25zM74 455h20v5h-20zM104 455h5v5h-5zM239 455h20v5h-20zM94 460h10v5h-10zM134 465h5v5h-5zM174 465h5v5h-5zM174 470h5v5h-5zM129 475h5v5h-5zM174 475h5v5h-5zM134 480h5v5h-5zM149 485h15v5h-15z"/>
<path fill="#297b8e" d="M169 330h10v5h-10zM169 335h10v5h-10zM169 340h10v5h-10zM169 345h10v5h-10zM164 350h15v5h-15zM159 355h5v5h-5zM174 355h5v5h-5zM144 360h5v5h-5zM174 360h5v5h-5zM94 365h5v5h-5zM149 365h10v5h-10zM199 365h5v5h-5zM149 370h10v5h-10zM214 370h5v5h-5zM224 380h5v5h-5zM94 390h5v5h-5zM104 400h5v5h-5zM109 435h5v5h-5zM214 435h5v5h-5zM124 440h5v5h-5zM204 440h5v5h-5zM99 445h5v5h-5zM139 445h5v5h-5zM94 450h10v5h-10zM144 450h5v5h-5zM94 455h10v5h-10zM179 455h5v5h-5zM139 460h5v5h-5zM174 460h5v5h-5zM134 470h5v5h-5zM134 475h5v5h-5zM139 480h5v5h-5zM169 480h5v5h-5z"/>
<path fill="#277e8e" d="M134 355h5v5h-5zM164 355h10v5h-10zM159 360h15v5h-15zM144 365h5v5h-5zM159 365h30v5h-30zM144 370h5v5h-5zM159 370h10v5h-10zM209 370h5v5h-5zM149 375h20v5h-20zM219 375h5v5h-5zM224 385h5v5h-5zM219 390h5v5h-5zM214 395h5v5h-5zM209 400h5v5h-5zM109 405h5v5h-5zM109 410h5v5h-5zM109 415h5v5h-5zM109 420h5v5h-5zM109 425h5v5h-5zM209 425h5v5h-5zM109 430h5v5h-5zM209 435h5v5h-5zM199 440h5v5h-5zM184 445h5v5h-5zM144 455h5v5h-5zM169 475h5v5h-5zM144 480h10v5h-10zM164 480h5v5h-5z"/>
<path fill="#26828e" d="M114 355h5v5h-5zM139 360h5v5h-5zM99 365h5v5h-5zM189 365h10v5h-10zM74 370h20v5h-20zM169 370h10v5h-10zM144 375h5v5h-5zM169 375h5v5h-5zM219 380h5v5h-5zM74 385h20v5h-20zM219 385h5v5h-5zM99 390h5v5h-5zM104 395h5v5h-5zM204 405h5v5h-5zM204 410h5v5h-5zM204 415h5v5h-5zM209 430h5v5h-5zM114 435h5v5h-5zM129 440h5v5h-5zM194 440h5v5h-5zM144 445h5v5h-5zM149 450h5v5h-5zM179 450h5v5h-5zM174 455h5v5h-5zM169 465h5v5h-5zM169 470h5v5h-5zM139 475h5v5h-5zM154 480h10v5h-10z"/>
<path fill="#25848e" d="M109 360h5v5h-5zM139 365h5v5h-5zM139 370h5v5h-5zM179 370h5v5h-5zM204 370h5v5h-5zM139 375h5v5h-5zM174 375h5v5h-5zM214 375h5v5h-5zM139 380h35v5h-35zM94 385h5v5h-5zM214 390h5v5h-5zM209 395h5v5h-5zM109 400h5v5h-5zM204 400h5v5h-5zM114 405h5v5h-5zM114 410h5v5h-5zM114 415h5v5h-5zM114 420h5v5h-5zM204 420h5v5h-5zM204 435h5v5h-5zM189 440h5v5h-5zM169 460h5v5h-5zM139 465h5v5h-5zM139 470h5v5h-5zM144 475h5v5h-5zM164 475h5v5h-5z"/>
<path fill="#24878e" d="M129 355h5v5h-5zM94 370h5v5h-5zM79 375h10v5h-10zM74 380h20v5h-20zM134 380h5v5h-5zM174 380h5v5h-5zM214 380h5v5h-5zM139 385h15v5h-15zM214 385h5v5h-5zM139 390h10v5h-10zM119 410h5v5h-5zM119 415h5v5h-5zM114 425h5v5h-5zM204 425h5v5h-5zM114 430h5v5h-5zM204 430h5v5h-5zM119 435h5v5h-5zM199 435h5v5h-5zM149 445h5v5h-5zM179 445h5v5h-5zM154 450h5v5h-5zM174 450h5v5h-5zM149 455h5v5h-5zM169 455h5v5h-5zM144 460h5v5h-5zM164 470h5v5h-5z"/>
<path fill="#238a8d" d="M119 355h5v5h-5zM134 360h5v5h-5zM104 365h5v5h-5zM184 370h5v5h-5zM74 375h5v5h-5zM89 375h5v5h-5zM134 375h5v5h-5zM179 375h5v5h-5zM209 375h5v5h-5zM99 385h5v5h-5zM134 385h5v5h-5zM154 385h10v5h-10zM104 390h5v5h-5zM134 390h5v5h-5zM149 390h5v5h-5zM209 390h5v5h-5zM109 395h5v5h-5zM134 395h15v5h-15zM204 395h5v5h-5zM114 400h5v5h-5zM134 400h10v5h-10zM199 400h5v5h-5zM119 405h20v5h-20zM199 405h5v5h-5zM124 410h15v5h-15zM199 410h5v5h-5zM124 415h5v5h-5zM199 415h5v5h-5zM119 420h5v5h-5zM134 440h5v5h-5zM184 440h5v5h-5zM154 455h5v5h-5zM164 455h5v5h-5zM149 475h15v5h-15z"/>
<path fill="#228d8d" d="M124 355h5v5h-5zM134 365h5v5h-5zM99 370h5v5h-5zM134 370h5v5h-5zM189 370h5v5h-5zM199 370h5v5h-5zM94 375h5v5h-5zM94 380h5v5h-5zM129 380h5v5h-5zM179 380h5v5h-5zM209 380h5v5h-5zM164 385h20v5h-20zM209 385h5v5h-5zM199 395h5v5h-5zM129 400h5v5h-5zM144 400h5v5h-5zM139 405h5v5h-5zM129 415h5v5h-5zM124 420h5v5h-5zM199 420h5v5h-5zM119 425h5v5h-5zM199 425h5v5h-5zM119 430h5v5h-5zM199 430h5v5h-5zM124 435h5v5h-5zM194 435h5v5h-5zM139 440h5v5h-5zM154 445h5v5h-5zM174 445h5v5h-5zM159 450h15v5h-15zM159 455h5v5h-5zM144 465h5v5h-5zM164 465h5v5h-5zM144 470h5v5h-5z"/>
<path fill="#21918c" d="M194 370h5v5h-5zM129 375h5v5h-5zM184 375h5v5h-5zM204 375h5v5h-5zM129 385h5v5h-5zM129 390h5v5h-5zM154 390h5v5h-5zM204 390h5v5h-5zM129 395h5v5h-5zM149 395h5v5h-5zM194 395h5v5h-5zM119 400h10v5h-10zM194 400h5v5h-5zM144 405h5v5h-5zM194 405h5v5h-5zM139 410h5v5h-5zM134 415h5v5h-5zM189 435h5v5h-5zM144 440h5v5h-5zM179 440h5v5h-5zM149 460h5v5h-5zM164 460h5v5h-5zM159 470h5v5h-5z"/>
<path fill="#20938c" d="M114 360h5v5h-5zM129 360h5v5h-5zM109 365h5v5h-5zM129 370h5v5h-5zM99 380h5v5h-5zM184 380h5v5h-5zM104 385h5v5h-5zM184 385h5v5h-5zM204 385h5v5h-5zM109 390h5v5h-5zM179 390h15v5h-15zM199 390h5v5h-5zM114 395h5v5h-5zM124 395h5v5h-5zM189 395h5v5h-5zM149 400h5v5h-5zM194 410h5v5h-5zM129 420h5v5h-5zM124 425h5v5h-5zM194 430h5v5h-5zM159 445h15v5h-15zM149 470h5v5h-5z"/>
<path fill="#1f968b" d="M129 365h5v5h-5zM104 370h5v5h-5zM99 375h5v5h-5zM124 375h5v5h-5zM124 380h5v5h-5zM204 380h5v5h-5zM124 385h5v5h-5zM189 385h5v5h-5zM124 390h5v5h-5zM159 390h5v5h-5zM174 390h5v5h-5zM194 390h5v5h-5zM119 395h5v5h-5zM154 395h5v5h-5zM184 395h5v5h-5zM189 400h5v5h-5zM144 410h5v5h-5zM139 415h5v5h-5zM194 415h5v5h-5zM194 420h5v5h-5zM194 425h5v5h-5zM124 430h5v5h-5zM184 435h5v5h-5zM149 440h5v5h-5zM149 465h5v5h-5zM154 470h5v5h-5z"/>
<path fill="#1f998a" d="M124 360h5v5h-5zM124 370h5v5h-5zM189 375h5v5h-5zM199 375h5v5h-5zM104 380h5v5h-5zM189 380h5v5h-5zM109 385h5v5h-5zM194 385h10v5h-10zM114 390h5v5h-5zM164 390h10v5h-10zM189 405h5v5h-5zM134 420h5v5h-5zM129 435h5v5h-5zM174 440h5v5h-5zM154 460h5v5h-5z"/>
<path fill="#1e9c89" d="M119 360h5v5h-5zM114 365h5v5h-5zM109 370h5v5h-5zM104 375h5v5h-5zM119 375h5v5h-5zM194 375h5v5h-5zM109 380h15v5h-15zM194 380h10v5h-10zM114 385h10v5h-10zM119 390h5v5h-5zM179 395h5v5h-5zM149 405h5v5h-5zM129 425h5v5h-5zM189 430h5v5h-5zM154 440h5v5h-5z"/>
<path fill="#1fa088" d="M119 365h10v5h-10zM114 370h10v5h-10zM109 375h10v5h-10zM184 400h5v5h-5zM189 410h5v5h-5zM179 435h5v5h-5zM159 440h5v5h-5zM169 440h5v5h-5z"/>
<path fill="#1fa287" d="M154 400h5v5h-5zM144 415h5v5h-5zM189 415h5v5h-5zM189 420h5v5h-5zM189 425h5v5h-5zM129 430h5v5h-5zM184 430h5v5h-5zM134 435h5v5h-5zM164 440h5v5h-5zM159 460h5v5h-5z"/>
<path fill="#21a585" d="M159 395h5v5h-5zM149 410h5v5h-5zM139 420h5v5h-5zM134 425h5v5h-5z"/>
<path fill="#22a884" d="M174 395h5v5h-5zM184 405h5v5h-5zM139 435h10v5h-10zM174 435h5v5h-5z"/>
<path fill="#25ab82" d="M179 400h5v5h-5zM134 430h5v5h-5zM149 435h5v5h-5zM154 465h10v5h-10z"/>
<path fill="#28ae80" d="M164 395h5v5h-5zM154 405h5v5h-5zM184 410h5v5h-5zM184 425h5v5h-5zM179 430h5v5h-5zM154 435h5v5h-5zM169 435h5v5h-5z"/>
<path fill="#2cb17e" d="M169 395h5v5h-5z"/>
<path fill="#2fb47c" d="M149 415h5v5h-5zM184 415h5v5h-5zM144 420h5v5h-5zM184 420h5v5h-5zM139 425h5v5h-5zM159 435h10v5h-10z"/>
<path fill="#34b679" d="M159 400h5v5h-5zM139 430h5v5h-5z"/>
<path fill="#38b977" d="M174 430h5v5h-5z"/>
<path fill="#3fbc73" d="M179 405h5v5h-5zM179 425h5v5h-5zM144 430h5v5h-5z"/>
<path fill="#44bf70" d="M174 400h5v5h-5zM154 410h5v5h-5zM144 425h5v5h-5zM149 430h5v5h-5z"/>
<path fill="#4ac16d" d="M149 420h5v5h-5z"/>
<path fill="#50c46a" d="M179 410h5v5h-5zM179 420h5v5h-5zM154 430h5v5h-5zM169 430h5v5h-5z"/>
<path fill="#56c667" d="M164 400h5v5h-5zM179 415h5v5h-5zM159 430h5v5h-5z"/>
<path fill="#5ec962" d="M169 400h5v5h-5zM159 405h5v5h-5zM154 415h5v5h-5zM149 425h5v5h-5zM164 430h5v5h-5z"/>
<path fill="#65cb5e" d="M174 425h5v5h-5z"/>
<path fill="#73d056" d="M154 425h5v5h-5z"/>
<path fill="#7ad151" d="M174 405h5v5h-5zM154 420h5v5h-5z"/>
<path fill="#8bd646" d="M159 410h5v5h-5zM174 420h5v5h-5zM159 425h5v5h-5zM169 425h5v5h-5z"/>
<path fill="#9bd93c" d="M164 425h5v5h-5z"/>
<path fill="#a2da37" d="M164 405h5v5h-5zM174 410h5v5h-5zM174 415h5v5h-5z"/>
<path fill="#addc30" d="M169 405h5v5h-5zM159 415h5v5h-5zM159 420h5v5h-5z"/>
<path fill="#bddf26" d="M169 420h5v5h-5z"/>
<path fill="#cde11d" d="M164 420h5v5h-5z"/>
<path fill="#d8e219" d="M164 410h5v5h-5z"/>
<path fill="#dfe318" d="M169 410h5v5h-5z"/>
<path fill="#e7e419" d="M164 415h10v5h-10z"/></g>
<path fill="none" stroke="#fff" stroke-opacity="0.72" stroke-width="0.95" stroke-linejoin="round" d="M167.2,394.4 170.2,394.2 173.2,394.7 174.8,395.1 177.2,396.2 179.3,397.4 180.8,398.5 182.2,399.8 183.8,401.2 185.2,402.9 186.8,405.0 187.8,406.8 188.5,408.2 189.7,411.2 190.3,412.8 191.2,415.8 191.6,417.2 192.0,420.2 191.9,423.2 191.3,426.2 190.7,427.8 189.8,429.4 188.2,431.2 186.8,432.7 185.2,433.9 183.2,435.2 180.8,436.7 179.2,437.7 177.8,438.5 175.5,439.8 173.2,440.8 171.8,441.4 168.8,442.2 165.8,442.5 162.8,442.3 159.8,441.7 158.1,441.2 155.2,440.5 152.2,439.9 150.8,439.6 147.8,439.3 144.8,439.0 141.8,438.7 139.1,438.2 137.2,437.7 134.9,436.8 133.0,435.2 132.2,433.8 132.4,430.8 133.3,429.2 134.6,427.8 136.1,426.2 137.9,424.8 139.7,423.2 141.5,421.8 143.2,420.2 144.7,418.8 146.2,417.2 147.5,415.8 148.8,414.2 149.9,412.8 151.0,411.2 152.2,409.3 153.8,407.0 154.8,405.2 155.7,403.8 156.8,402.2 158.2,400.3 159.8,398.6 161.2,397.2 162.8,396.2 165.8,394.8 167.2,394.4 Z M158.2,463.2 161.2,462.6 163.2,463.8 163.3,466.8 162.2,468.2 159.8,469.6 156.8,469.3 155.4,466.8 156.8,464.3 158.2,463.2 Z M165.8,399.0 168.8,398.2 171.8,398.4 174.5,399.2 176.2,400.2 177.8,401.2 179.2,402.5 180.8,404.2 182.2,406.3 183.3,408.2 184.0,409.8 185.0,412.8 185.3,414.2 186.0,417.2 186.1,420.2 185.8,423.2 185.2,424.8 183.8,427.6 182.4,429.2 180.8,430.8 179.2,432.0 177.8,433.0 176.2,434.0 173.9,435.2 171.8,436.2 169.9,436.8 167.2,437.3 164.2,437.4 161.2,437.1 159.3,436.8 156.8,436.3 153.8,435.7 150.8,435.3 149.2,435.1 146.2,434.6 143.2,433.8 141.8,432.7 140.9,430.8 141.8,428.6 143.2,426.5 144.8,424.9 146.2,423.3 147.8,421.8 149.1,420.3 150.4,418.8 151.6,417.2 152.7,415.8 153.8,414.1 155.2,411.5 156.2,409.7 157.1,408.2 158.2,406.4 159.8,404.2 161.2,402.4 162.8,400.9 164.2,399.8 165.8,399.0 Z M168.8,401.9 171.8,402.0 173.2,402.5 175.3,403.8 177.0,405.2 178.3,406.8 179.2,408.3 180.5,411.2 180.9,412.8 181.4,415.8 181.4,418.8 181.0,421.8 180.5,423.2 179.2,425.5 177.8,427.3 176.2,428.6 174.8,429.7 173.0,430.8 170.2,431.9 168.8,432.3 165.8,432.7 162.8,432.5 161.0,432.2 158.2,431.6 155.2,430.8 153.8,430.1 152.2,429.2 151.3,426.2 152.2,424.1 153.5,421.8 154.4,420.2 155.2,418.7 156.8,415.8 157.5,414.2 158.2,412.7 159.8,409.8 160.7,408.2 161.7,406.8 162.9,405.2 164.6,403.8 167.2,402.3 168.8,401.9 Z M167.2,406.3 170.2,405.7 173.2,406.8 174.8,408.1 175.9,409.8 176.6,411.2 177.4,414.2 177.4,417.2 176.7,420.2 176.1,421.8 174.8,423.7 173.2,425.1 171.5,426.2 168.8,427.3 165.8,427.5 162.8,426.8 161.2,426.0 159.8,424.3 159.3,421.8 159.7,418.8 160.1,417.2 161.2,414.2 161.8,412.8 162.8,411.0 164.2,408.8 165.8,407.3 167.2,406.3 Z"/>
<ellipse cx="169.0" cy="416.5" rx="18.0" ry="17.4" transform="rotate(-60.0 169.0 416.5)" fill="none" stroke="#e0442c" stroke-width="1"/>
<path d="M167.0 416.0h4.6M169.3 413.7v4.6" stroke="#f05a28" stroke-width="0.9"/>
<path d="M163.9 419.9l4.6 4.6M168.5 419.9l-4.6 4.6" stroke="#3446a8" stroke-width="0.9"/>
<ellipse cx="104.3" cy="484.0" rx="16.8" ry="11.6" transform="rotate(-42.0 104.3 484.0)" fill="#fff"/>
</g>
<rect x="84.5" y="340.5" width="165" height="165" fill="none" stroke="#1a1a1a" stroke-width="1"/>
<text x="100.9" y="356.2" font-size="10.20" fill="#f4f4f4" stroke="#2a2a2a" stroke-width="1.7" paint-order="stroke" stroke-linejoin="round" textLength="34.7" lengthAdjust="spacingAndGlyphs">Line 39</text>
<text x="101.0" y="366.5" font-size="10.20" fill="#f4f4f4" stroke="#2a2a2a" stroke-width="1.7" paint-order="stroke" stroke-linejoin="round" textLength="47" lengthAdjust="spacingAndGlyphs">CH<tspan font-size="7.4" dy="2.3">3</tspan><tspan dy="-2.3">OCHO</tspan></text>
<text x="150.6" y="366.5" font-size="10.20" font-style="italic" fill="#f4f4f4" stroke="#2a2a2a" stroke-width="1.7" paint-order="stroke" stroke-linejoin="round">v</text>
<text x="158.2" y="366.5" font-size="10.20" fill="#f4f4f4" stroke="#2a2a2a" stroke-width="1.7" paint-order="stroke" stroke-linejoin="round" textLength="6.6" lengthAdjust="spacingAndGlyphs">=</text>
<text x="167.0" y="366.5" font-size="10.20" fill="#f4f4f4" stroke="#2a2a2a" stroke-width="1.7" paint-order="stroke" stroke-linejoin="round">1</text>
<text x="183.3" y="355.8" font-size="10.20" fill="#f4f4f4" stroke="#2a2a2a" stroke-width="1.7" paint-order="stroke" stroke-linejoin="round" textLength="63.0" lengthAdjust="spacingAndGlyphs">0.45″ × 0.41″</text>
<text x="183.3" y="366.3" font-size="10.20" fill="#f4f4f4" stroke="#2a2a2a" stroke-width="1.7" paint-order="stroke" stroke-linejoin="round" textLength="58.7" lengthAdjust="spacingAndGlyphs">PA=149.04 °</text>
<text x="152.6" y="488.9" font-size="10.4" fill="#fff" textLength="80.8" lengthAdjust="spacingAndGlyphs">345246.534 MHz</text>
<g clip-path="url(#cp9)">
<g filter="url(#bl)"><path fill="#460a5d" d="M334 470h5v5h-5z"/>
<path fill="#471365" d="M329 470h5v5h-5z"/>
<path fill="#48186a" d="M334 465h5v5h-5zM334 475h5v5h-5z"/>
<path fill="#481c6e" d="M329 465h5v5h-5z"/>
<path fill="#482071" d="M339 470h5v5h-5z"/>
<path fill="#482475" d="M329 475h5v5h-5z"/>
<path fill="#482878" d="M349 340h5v5h-5zM339 465h5v5h-5zM339 475h5v5h-5z"/>
<path fill="#472d7b" d="M349 335h5v5h-5zM324 465h5v5h-5zM324 470h5v5h-5z"/>
<path fill="#46307e" d="M349 330h5v5h-5zM354 340h5v5h-5zM349 345h5v5h-5zM334 480h5v5h-5z"/>
<path fill="#463480" d="M354 330h5v5h-5zM354 335h5v5h-5zM354 345h5v5h-5z"/>
<path fill="#453882" d="M344 335h5v5h-5zM344 340h5v5h-5zM324 475h5v5h-5zM329 480h5v5h-5zM339 480h5v5h-5z"/>
<path fill="#443b84" d="M344 330h5v5h-5zM344 345h5v5h-5zM349 350h5v5h-5zM334 460h5v5h-5zM344 470h5v5h-5z"/>
<path fill="#424086" d="M354 350h5v5h-5zM329 460h5v5h-5zM344 475h5v5h-5zM384 500h10v5h-10zM384 505h10v5h-10z"/>
<path fill="#414487" d="M359 340h5v5h-5zM319 465h5v5h-5zM344 465h5v5h-5zM319 470h5v5h-5zM409 480h20v5h-20zM334 485h5v5h-5zM414 485h5v5h-5zM379 495h20v5h-20zM379 500h5v5h-5zM394 500h5v5h-5zM379 505h5v5h-5zM394 505h5v5h-5zM379 510h20v5h-20z"/>
<path fill="#3f4788" d="M359 330h5v5h-5zM359 335h5v5h-5zM359 345h5v5h-5zM344 350h5v5h-5zM339 460h5v5h-5zM339 485h5v5h-5zM404 485h10v5h-10zM419 485h10v5h-10z"/>
<path fill="#3e4a89" d="M339 340h5v5h-5zM359 350h5v5h-5zM349 355h10v5h-10zM324 460h5v5h-5zM409 475h20v5h-20zM324 480h5v5h-5zM344 480h5v5h-5zM404 480h5v5h-5zM329 485h5v5h-5zM384 490h45v5h-45zM374 495h5v5h-5zM399 495h5v5h-5zM374 500h5v5h-5zM399 500h5v5h-5zM374 505h5v5h-5zM399 505h5v5h-5zM374 510h5v5h-5zM399 510h5v5h-5z"/>
<path fill="#3d4e8a" d="M339 330h5v5h-5zM339 335h5v5h-5zM339 345h5v5h-5zM319 475h5v5h-5zM399 485h5v5h-5zM379 490h5v5h-5zM404 495h5v5h-5zM404 500h5v5h-5zM404 505h5v5h-5zM404 510h5v5h-5z"/>
<path fill="#3b528b" d="M344 355h5v5h-5zM359 355h5v5h-5zM404 475h5v5h-5zM399 480h5v5h-5zM344 485h5v5h-5zM394 485h5v5h-5zM334 490h10v5h-10zM374 490h5v5h-5zM369 495h5v5h-5zM409 495h20v5h-20zM369 500h5v5h-5zM409 500h5v5h-5zM424 500h5v5h-5zM369 505h5v5h-5zM409 505h5v5h-5zM424 505h5v5h-5zM369 510h5v5h-5zM409 510h20v5h-20z"/>
<path fill="#39558c" d="M339 350h5v5h-5zM354 360h10v5h-10zM344 460h5v5h-5zM314 470h5v5h-5zM349 470h5v5h-5zM409 470h20v5h-20zM349 475h5v5h-5zM324 485h5v5h-5zM369 485h5v5h-5zM384 485h10v5h-10zM329 490h5v5h-5zM344 490h5v5h-5zM369 490h5v5h-5zM244 500h20v5h-20zM414 500h10v5h-10zM249 505h10v5h-10zM414 505h10v5h-10z"/>
<path fill="#38598c" d="M364 330h5v5h-5zM364 335h5v5h-5zM364 340h5v5h-5zM364 345h5v5h-5zM364 350h5v5h-5zM364 355h5v5h-5zM349 360h5v5h-5zM364 360h5v5h-5zM364 365h5v5h-5zM364 370h5v5h-5zM364 375h5v5h-5zM364 380h5v5h-5zM249 385h10v5h-10zM364 385h5v5h-5zM244 390h20v5h-20zM364 390h5v5h-5zM389 405h10v5h-10zM389 410h10v5h-10zM409 420h20v5h-20zM319 460h5v5h-5zM244 465h20v5h-20zM314 465h5v5h-5zM349 465h5v5h-5zM314 475h5v5h-5zM399 475h5v5h-5zM274 480h5v5h-5zM304 480h10v5h-10zM319 480h5v5h-5zM349 480h5v5h-5zM364 480h5v5h-5zM394 480h5v5h-5zM304 485h10v5h-10zM364 485h5v5h-5zM374 485h10v5h-10zM304 490h10v5h-10zM324 490h5v5h-5zM349 490h5v5h-5zM364 490h5v5h-5zM244 495h20v5h-20zM304 495h50v5h-50zM364 495h5v5h-5zM304 500h25v5h-25zM344 500h10v5h-10zM364 500h5v5h-5zM244 505h5v5h-5zM259 505h5v5h-5zM304 505h25v5h-25zM339 505h15v5h-15zM364 505h5v5h-5zM244 510h20v5h-20zM304 510h50v5h-50zM364 510h5v5h-5z"/>
<path fill="#365c8d" d="M359 365h5v5h-5zM369 365h5v5h-5zM359 370h5v5h-5zM369 370h5v5h-5zM369 375h5v5h-5zM369 380h5v5h-5zM244 385h5v5h-5zM259 385h5v5h-5zM369 385h5v5h-5zM369 390h5v5h-5zM384 405h5v5h-5zM399 410h5v5h-5zM394 415h35v5h-35zM404 420h5v5h-5zM409 425h20v5h-20zM244 470h20v5h-20zM404 470h5v5h-5zM309 475h5v5h-5zM269 480h5v5h-5zM314 480h5v5h-5zM359 480h5v5h-5zM369 480h5v5h-5zM274 485h5v5h-5zM314 485h10v5h-10zM349 485h15v5h-15zM314 490h10v5h-10zM354 490h10v5h-10zM354 495h10v5h-10zM329 500h15v5h-15zM354 500h10v5h-10zM329 505h10v5h-10zM354 505h10v5h-10zM354 510h10v5h-10z"/>
<path fill="#355f8d" d="M334 335h5v5h-5zM334 340h5v5h-5zM339 355h5v5h-5zM369 355h5v5h-5zM344 360h5v5h-5zM369 360h5v5h-5zM354 365h5v5h-5zM359 375h5v5h-5zM249 380h10v5h-10zM359 380h5v5h-5zM359 385h5v5h-5zM264 390h5v5h-5zM249 395h10v5h-10zM364 395h10v5h-10zM384 400h15v5h-15zM399 405h5v5h-5zM384 410h5v5h-5zM404 410h5v5h-5zM389 415h5v5h-5zM399 420h5v5h-5zM404 425h5v5h-5zM244 460h20v5h-20zM264 465h5v5h-5zM414 465h10v5h-10zM264 470h5v5h-5zM309 470h5v5h-5zM269 475h10v5h-10zM304 475h5v5h-5zM354 475h20v5h-20zM279 480h5v5h-5zM299 480h5v5h-5zM354 480h5v5h-5zM374 480h5v5h-5zM389 480h5v5h-5zM269 485h5v5h-5zM299 485h5v5h-5zM299 490h5v5h-5zM264 495h5v5h-5zM299 495h5v5h-5zM264 500h5v5h-5zM299 500h5v5h-5zM264 505h5v5h-5zM299 505h5v5h-5zM264 510h5v5h-5zM299 510h5v5h-5z"/>
<path fill="#33638d" d="M334 330h5v5h-5zM334 345h5v5h-5zM369 350h5v5h-5zM374 360h5v5h-5zM349 365h5v5h-5zM374 365h5v5h-5zM354 370h5v5h-5zM374 370h5v5h-5zM374 375h5v5h-5zM244 380h5v5h-5zM259 380h5v5h-5zM264 385h5v5h-5zM359 390h5v5h-5zM374 390h5v5h-5zM244 395h5v5h-5zM259 395h10v5h-10zM374 395h5v5h-5zM369 400h15v5h-15zM399 400h5v5h-5zM379 405h5v5h-5zM379 410h5v5h-5zM409 410h5v5h-5zM424 410h5v5h-5zM384 415h5v5h-5zM394 420h5v5h-5zM399 425h5v5h-5zM264 460h5v5h-5zM409 465h5v5h-5zM424 465h5v5h-5zM269 470h5v5h-5zM354 470h5v5h-5zM399 470h5v5h-5zM264 475h5v5h-5zM279 475h5v5h-5zM299 475h5v5h-5zM374 475h5v5h-5zM394 475h5v5h-5zM379 480h10v5h-10zM264 485h5v5h-5zM279 485h5v5h-5zM244 490h30v5h-30z"/>
<path fill="#31668e" d="M369 330h5v5h-5zM369 335h5v5h-5zM369 345h5v5h-5zM334 350h5v5h-5zM339 360h5v5h-5zM344 365h5v5h-5zM349 370h5v5h-5zM354 375h5v5h-5zM374 380h5v5h-5zM374 385h5v5h-5zM269 390h5v5h-5zM269 395h5v5h-5zM389 395h10v5h-10zM374 405h5v5h-5zM404 405h5v5h-5zM414 410h10v5h-10zM389 420h5v5h-5zM394 425h5v5h-5zM404 430h25v5h-25zM314 460h5v5h-5zM349 460h5v5h-5zM409 460h20v5h-20zM269 465h5v5h-5zM309 465h5v5h-5zM354 465h5v5h-5zM404 465h5v5h-5zM274 470h5v5h-5zM304 470h5v5h-5zM359 470h15v5h-15zM244 475h5v5h-5zM259 475h5v5h-5zM379 475h5v5h-5zM389 475h5v5h-5zM264 480h5v5h-5zM294 485h5v5h-5zM274 490h5v5h-5zM294 490h5v5h-5zM269 495h5v5h-5zM294 495h5v5h-5zM269 500h5v5h-5zM294 500h5v5h-5zM269 505h5v5h-5zM294 505h5v5h-5zM269 510h5v5h-5zM294 510h5v5h-5z"/>
<path fill="#30698e" d="M329 330h5v5h-5zM309 335h10v5h-10zM329 335h5v5h-5zM309 340h10v5h-10zM329 340h5v5h-5zM369 340h5v5h-5zM329 345h5v5h-5zM334 355h5v5h-5zM374 355h5v5h-5zM339 365h5v5h-5zM339 370h10v5h-10zM249 375h10v5h-10zM354 380h5v5h-5zM274 395h5v5h-5zM379 395h10v5h-10zM399 395h5v5h-5zM274 400h15v5h-15zM364 400h5v5h-5zM279 405h10v5h-10zM369 405h5v5h-5zM279 410h5v5h-5zM374 410h5v5h-5zM274 415h5v5h-5zM379 415h5v5h-5zM384 420h5v5h-5zM389 425h5v5h-5zM394 430h10v5h-10zM334 455h5v5h-5zM409 455h20v5h-20zM269 460h5v5h-5zM404 460h5v5h-5zM399 465h5v5h-5zM279 470h10v5h-10zM294 470h10v5h-10zM374 470h5v5h-5zM394 470h5v5h-5zM249 475h10v5h-10zM284 475h5v5h-5zM294 475h5v5h-5zM384 475h5v5h-5zM284 480h5v5h-5zM294 480h5v5h-5zM244 485h10v5h-10zM259 485h5v5h-5zM284 485h5v5h-5zM279 490h5v5h-5z"/>
<path fill="#2f6c8e" d="M304 330h25v5h-25zM304 335h5v5h-5zM319 335h10v5h-10zM304 340h5v5h-5zM319 340h10v5h-10zM304 345h25v5h-25zM329 350h5v5h-5zM374 350h5v5h-5zM334 360h5v5h-5zM379 360h5v5h-5zM334 365h5v5h-5zM379 365h5v5h-5zM334 370h5v5h-5zM379 370h5v5h-5zM244 375h5v5h-5zM259 375h5v5h-5zM334 375h10v5h-10zM349 375h5v5h-5zM379 375h5v5h-5zM409 375h20v5h-20zM379 380h5v5h-5zM409 380h20v5h-20zM274 390h5v5h-5zM379 390h5v5h-5zM389 390h10v5h-10zM279 395h5v5h-5zM359 395h5v5h-5zM244 400h30v5h-30zM289 400h5v5h-5zM404 400h5v5h-5zM274 405h5v5h-5zM289 405h5v5h-5zM409 405h5v5h-5zM419 405h10v5h-10zM274 410h5v5h-5zM284 410h5v5h-5zM279 415h5v5h-5zM374 415h5v5h-5zM274 420h5v5h-5zM379 420h5v5h-5zM379 425h10v5h-10zM379 430h15v5h-15zM379 435h50v5h-50zM379 440h25v5h-25zM379 445h25v5h-25zM274 450h5v5h-5zM379 450h50v5h-50zM244 455h40v5h-40zM329 455h5v5h-5zM339 455h5v5h-5zM379 455h30v5h-30zM274 460h5v5h-5zM309 460h5v5h-5zM354 460h5v5h-5zM379 460h25v5h-25zM274 465h25v5h-25zM304 465h5v5h-5zM359 465h40v5h-40zM289 470h5v5h-5zM379 470h15v5h-15zM289 475h5v5h-5zM244 480h5v5h-5zM259 480h5v5h-5zM289 480h5v5h-5zM254 485h5v5h-5zM289 485h5v5h-5zM284 490h10v5h-10zM274 495h5v5h-5zM289 495h5v5h-5zM289 500h5v5h-5zM289 505h5v5h-5zM274 510h5v5h-5zM289 510h5v5h-5z"/>
<path fill="#2e6f8e" d="M299 330h5v5h-5zM374 330h5v5h-5zM299 335h5v5h-5zM374 335h5v5h-5zM299 340h5v5h-5zM299 345h5v5h-5zM374 345h5v5h-5zM304 350h25v5h-25zM329 355h5v5h-5zM379 355h5v5h-5zM329 365h5v5h-5zM249 370h10v5h-10zM329 370h5v5h-5zM329 375h5v5h-5zM344 375h5v5h-5zM404 375h5v5h-5zM264 380h5v5h-5zM404 380h5v5h-5zM269 385h5v5h-5zM354 385h5v5h-5zM379 385h5v5h-5zM394 385h10v5h-10zM384 390h5v5h-5zM399 390h5v5h-5zM284 395h25v5h-25zM294 400h5v5h-5zM269 405h5v5h-5zM364 405h5v5h-5zM414 405h5v5h-5zM269 410h5v5h-5zM289 410h5v5h-5zM369 410h5v5h-5zM269 415h5v5h-5zM284 415h5v5h-5zM269 420h5v5h-5zM279 420h5v5h-5zM374 420h5v5h-5zM374 425h5v5h-5zM374 430h5v5h-5zM374 435h5v5h-5zM374 440h5v5h-5zM404 440h25v5h-25zM374 445h5v5h-5zM404 445h25v5h-25zM269 450h5v5h-5zM279 450h5v5h-5zM374 450h5v5h-5zM284 455h5v5h-5zM324 455h5v5h-5zM344 455h5v5h-5zM374 455h5v5h-5zM279 460h15v5h-15zM369 460h10v5h-10zM299 465h5v5h-5zM249 480h10v5h-10zM279 495h10v5h-10zM274 500h5v5h-5zM284 500h5v5h-5zM274 505h5v5h-5zM284 505h5v5h-5zM279 510h10v5h-10z"/>
<path fill="#2c728e" d="M294 330h5v5h-5zM294 335h5v5h-5zM294 340h5v5h-5zM374 340h5v5h-5zM294 345h5v5h-5zM299 350h5v5h-5zM379 350h5v5h-5zM319 355h10v5h-10zM329 360h5v5h-5zM324 365h5v5h-5zM384 365h5v5h-5zM244 370h5v5h-5zM259 370h5v5h-5zM324 370h5v5h-5zM384 370h5v5h-5zM409 370h20v5h-20zM324 375h5v5h-5zM384 375h5v5h-5zM329 380h10v5h-10zM349 380h5v5h-5zM384 380h5v5h-5zM394 380h10v5h-10zM384 385h10v5h-10zM404 385h25v5h-25zM279 390h5v5h-5zM304 390h10v5h-10zM354 390h5v5h-5zM404 390h5v5h-5zM309 395h5v5h-5zM404 395h5v5h-5zM299 400h5v5h-5zM409 400h5v5h-5zM424 400h5v5h-5zM294 405h5v5h-5zM264 415h5v5h-5zM289 415h5v5h-5zM369 415h5v5h-5zM264 420h5v5h-5zM284 420h5v5h-5zM274 425h10v5h-10zM369 430h5v5h-5zM369 435h5v5h-5zM369 440h5v5h-5zM274 445h10v5h-10zM369 445h5v5h-5zM264 450h5v5h-5zM284 450h5v5h-5zM369 450h5v5h-5zM289 455h5v5h-5zM319 455h5v5h-5zM349 455h5v5h-5zM369 455h5v5h-5zM294 460h15v5h-15zM359 460h10v5h-10zM279 500h5v5h-5zM279 505h5v5h-5z"/>
<path fill="#2b758e" d="M244 330h10v5h-10zM259 330h20v5h-20zM289 330h5v5h-5zM379 330h5v5h-5zM244 335h35v5h-35zM289 335h5v5h-5zM244 340h35v5h-35zM289 340h5v5h-5zM244 345h10v5h-10zM259 345h20v5h-20zM289 345h5v5h-5zM379 345h5v5h-5zM264 350h10v5h-10zM304 355h15v5h-15zM244 360h20v5h-20zM319 360h10v5h-10zM384 360h5v5h-5zM244 365h20v5h-20zM404 370h5v5h-5zM389 375h15v5h-15zM319 380h10v5h-10zM339 380h10v5h-10zM389 380h5v5h-5zM314 385h5v5h-5zM299 390h5v5h-5zM314 390h5v5h-5zM409 390h5v5h-5zM424 390h5v5h-5zM359 400h5v5h-5zM414 400h10v5h-10zM244 405h5v5h-5zM259 405h10v5h-10zM264 410h5v5h-5zM294 410h5v5h-5zM364 410h5v5h-5zM244 420h5v5h-5zM259 420h5v5h-5zM289 420h5v5h-5zM369 420h5v5h-5zM264 425h10v5h-10zM284 425h5v5h-5zM369 425h5v5h-5zM289 435h5v5h-5zM284 440h5v5h-5zM269 445h5v5h-5zM284 445h5v5h-5zM244 450h5v5h-5zM259 450h5v5h-5zM289 450h5v5h-5zM294 455h5v5h-5zM314 455h5v5h-5zM354 455h15v5h-15z"/>
<path fill="#2a788e" d="M254 330h5v5h-5zM279 330h10v5h-10zM279 335h10v5h-10zM379 335h5v5h-5zM279 340h10v5h-10zM379 340h5v5h-5zM254 345h5v5h-5zM279 345h10v5h-10zM244 350h20v5h-20zM274 350h10v5h-10zM294 350h5v5h-5zM244 355h35v5h-35zM384 355h5v5h-5zM264 360h5v5h-5zM314 360h5v5h-5zM319 365h5v5h-5zM319 370h5v5h-5zM389 370h5v5h-5zM319 375h5v5h-5zM314 380h5v5h-5zM309 385h5v5h-5zM319 385h15v5h-15zM284 390h5v5h-5zM294 390h5v5h-5zM414 390h10v5h-10zM314 395h5v5h-5zM409 395h20v5h-20zM304 400h5v5h-5zM249 405h10v5h-10zM299 405h5v5h-5zM244 410h5v5h-5zM259 410h5v5h-5zM244 415h10v5h-10zM259 415h5v5h-5zM294 415h5v5h-5zM249 420h10v5h-10zM244 425h20v5h-20zM289 425h5v5h-5zM279 430h15v5h-15zM364 430h5v5h-5zM284 435h5v5h-5zM364 435h5v5h-5zM279 440h5v5h-5zM289 440h5v5h-5zM364 440h5v5h-5zM264 445h5v5h-5zM289 445h5v5h-5zM364 445h5v5h-5zM249 450h10v5h-10zM364 450h5v5h-5zM299 455h15v5h-15z"/>
<path fill="#297b8e" d="M414 330h5v5h-5zM409 335h20v5h-20zM409 340h20v5h-20zM414 345h5v5h-5zM284 350h10v5h-10zM384 350h5v5h-5zM279 355h5v5h-5zM299 355h5v5h-5zM269 360h5v5h-5zM309 360h5v5h-5zM264 365h5v5h-5zM314 365h5v5h-5zM389 365h5v5h-5zM414 365h10v5h-10zM394 370h10v5h-10zM264 375h5v5h-5zM314 375h5v5h-5zM274 385h5v5h-5zM334 385h5v5h-5zM349 385h5v5h-5zM289 390h5v5h-5zM319 390h5v5h-5zM354 395h5v5h-5zM309 400h5v5h-5zM249 410h10v5h-10zM299 410h5v5h-5zM254 415h5v5h-5zM299 415h5v5h-5zM364 415h5v5h-5zM294 420h5v5h-5zM364 420h5v5h-5zM294 425h5v5h-5zM364 425h5v5h-5zM244 430h35v5h-35zM294 430h5v5h-5zM279 435h5v5h-5zM294 435h5v5h-5zM269 440h10v5h-10zM294 440h5v5h-5zM294 445h5v5h-5zM359 445h5v5h-5zM294 450h10v5h-10zM359 450h5v5h-5z"/>
<path fill="#277e8e" d="M384 330h5v5h-5zM409 330h5v5h-5zM419 330h10v5h-10zM384 335h5v5h-5zM404 335h5v5h-5zM384 340h5v5h-5zM404 340h5v5h-5zM384 345h5v5h-5zM409 345h5v5h-5zM419 345h10v5h-10zM284 355h15v5h-15zM274 360h5v5h-5zM304 360h5v5h-5zM389 360h5v5h-5zM404 365h10v5h-10zM424 365h5v5h-5zM264 370h5v5h-5zM314 370h5v5h-5zM269 380h5v5h-5zM309 380h5v5h-5zM304 385h5v5h-5zM339 385h10v5h-10zM324 390h5v5h-5zM304 405h5v5h-5zM359 405h5v5h-5zM299 420h5v5h-5zM299 425h5v5h-5zM244 435h35v5h-35zM244 440h25v5h-25zM359 440h5v5h-5zM244 445h20v5h-20zM299 445h5v5h-5zM304 450h5v5h-5zM354 450h5v5h-5z"/>
<path fill="#26828e" d="M389 330h5v5h-5zM404 330h5v5h-5zM389 335h5v5h-5zM389 340h5v5h-5zM399 340h5v5h-5zM389 345h5v5h-5zM404 345h5v5h-5zM389 350h5v5h-5zM409 350h20v5h-20zM389 355h5v5h-5zM279 360h5v5h-5zM299 360h5v5h-5zM269 365h5v5h-5zM309 365h5v5h-5zM394 365h10v5h-10zM309 370h5v5h-5zM309 375h5v5h-5zM349 390h5v5h-5zM319 395h5v5h-5zM314 400h5v5h-5zM309 405h5v5h-5zM304 410h5v5h-5zM304 415h5v5h-5zM304 420h5v5h-5zM299 430h5v5h-5zM359 430h5v5h-5zM299 435h5v5h-5zM359 435h5v5h-5zM299 440h5v5h-5zM309 450h5v5h-5zM349 450h5v5h-5z"/>
<path fill="#25848e" d="M394 330h10v5h-10zM394 335h10v5h-10zM394 340h5v5h-5zM394 345h10v5h-10zM394 350h5v5h-5zM404 350h5v5h-5zM409 355h20v5h-20zM284 360h15v5h-15zM394 360h5v5h-5zM409 360h20v5h-20zM304 365h5v5h-5zM279 385h5v5h-5zM299 385h5v5h-5zM329 390h5v5h-5zM354 400h5v5h-5zM359 410h5v5h-5zM304 425h5v5h-5zM359 425h5v5h-5zM304 445h5v5h-5zM354 445h5v5h-5zM314 450h5v5h-5z"/>
<path fill="#24878e" d="M399 350h5v5h-5zM394 355h15v5h-15zM399 360h10v5h-10zM274 365h5v5h-5zM299 365h5v5h-5zM304 370h5v5h-5zM304 375h5v5h-5zM304 380h5v5h-5zM334 390h15v5h-15zM309 410h5v5h-5zM309 415h5v5h-5zM359 415h5v5h-5zM309 420h5v5h-5zM359 420h5v5h-5zM304 430h5v5h-5zM304 435h5v5h-5zM304 440h5v5h-5zM309 445h5v5h-5zM344 450h5v5h-5z"/>
<path fill="#238a8d" d="M279 365h5v5h-5zM289 365h10v5h-10zM269 370h5v5h-5zM299 370h5v5h-5zM269 375h5v5h-5zM324 395h5v5h-5zM349 395h5v5h-5zM319 400h5v5h-5zM314 405h5v5h-5zM354 440h5v5h-5zM319 450h5v5h-5z"/>
<path fill="#228d8d" d="M284 365h5v5h-5zM284 385h5v5h-5zM294 385h5v5h-5zM309 425h5v5h-5zM354 435h5v5h-5zM309 440h5v5h-5zM349 445h5v5h-5zM324 450h10v5h-10zM339 450h5v5h-5z"/>
<path fill="#21918c" d="M294 370h5v5h-5zM299 375h5v5h-5zM274 380h5v5h-5zM289 385h5v5h-5zM329 395h5v5h-5zM354 405h5v5h-5zM314 410h5v5h-5zM309 430h5v5h-5zM309 435h5v5h-5zM314 445h5v5h-5zM334 450h5v5h-5z"/>
<path fill="#20938c" d="M274 370h5v5h-5zM289 370h5v5h-5zM299 380h5v5h-5zM344 395h5v5h-5zM314 415h5v5h-5zM354 430h5v5h-5z"/>
<path fill="#1f968b" d="M334 395h10v5h-10zM324 400h5v5h-5zM349 400h5v5h-5zM319 405h5v5h-5zM314 440h5v5h-5zM319 445h5v5h-5z"/>
<path fill="#1f998a" d="M279 370h10v5h-10zM294 375h5v5h-5zM314 420h5v5h-5zM354 425h5v5h-5zM349 440h5v5h-5zM344 445h5v5h-5z"/>
<path fill="#1e9c89" d="M274 375h5v5h-5zM279 380h5v5h-5zM354 410h5v5h-5zM314 425h5v5h-5zM314 435h5v5h-5z"/>
<path fill="#1fa088" d="M294 380h5v5h-5zM354 420h5v5h-5zM314 430h5v5h-5zM319 440h5v5h-5zM324 445h5v5h-5z"/>
<path fill="#1fa287" d="M289 375h5v5h-5zM344 400h5v5h-5zM319 410h5v5h-5zM354 415h5v5h-5zM349 435h5v5h-5zM339 445h5v5h-5z"/>
<path fill="#21a585" d="M279 375h5v5h-5zM284 380h10v5h-10zM329 400h5v5h-5zM329 445h5v5h-5z"/>
<path fill="#22a884" d="M284 375h5v5h-5zM349 405h5v5h-5zM319 435h5v5h-5zM344 440h5v5h-5zM334 445h5v5h-5z"/>
<path fill="#25ab82" d="M334 400h10v5h-10zM324 405h5v5h-5zM319 415h5v5h-5zM324 440h5v5h-5z"/>
<path fill="#28ae80" d="M349 430h5v5h-5z"/>
<path fill="#2cb17e" d="M319 430h5v5h-5zM329 440h5v5h-5z"/>
<path fill="#2fb47c" d="M319 420h5v5h-5zM319 425h5v5h-5zM339 440h5v5h-5z"/>
<path fill="#34b679" d="M349 425h5v5h-5zM324 435h5v5h-5zM344 435h5v5h-5zM334 440h5v5h-5z"/>
<path fill="#38b977" d="M344 405h5v5h-5zM349 410h5v5h-5z"/>
<path fill="#3fbc73" d="M324 410h5v5h-5z"/>
<path fill="#44bf70" d="M329 405h5v5h-5zM329 435h5v5h-5z"/>
<path fill="#4ac16d" d="M349 415h5v5h-5zM349 420h5v5h-5zM324 430h5v5h-5z"/>
<path fill="#50c46a" d="M344 430h5v5h-5zM334 435h10v5h-10z"/>
<path fill="#56c667" d="M339 405h5v5h-5z"/>
<path fill="#5ec962" d="M334 405h5v5h-5zM324 415h5v5h-5z"/>
<path fill="#65cb5e" d="M324 425h5v5h-5z"/>
<path fill="#6ccd5a" d="M324 420h5v5h-5zM329 430h5v5h-5z"/>
<path fill="#7ad151" d="M344 410h5v5h-5zM344 425h5v5h-5zM339 430h5v5h-5z"/>
<path fill="#84d44b" d="M329 410h5v5h-5zM334 430h5v5h-5z"/>
<path fill="#9bd93c" d="M329 425h5v5h-5z"/>
<path fill="#addc30" d="M339 410h5v5h-5zM344 415h5v5h-5zM344 420h5v5h-5z"/>
<path fill="#b5de2b" d="M334 410h5v5h-5z"/>
<path fill="#bddf26" d="M329 415h5v5h-5zM329 420h5v5h-5zM339 425h5v5h-5z"/>
<path fill="#c5e021" d="M334 425h5v5h-5z"/>
<path fill="#efe51c" d="M339 415h5v5h-5zM339 420h5v5h-5z"/>
<path fill="#f6e620" d="M334 415h5v5h-5zM334 420h5v5h-5z"/></g>
<path fill="none" stroke="#fff" stroke-opacity="0.72" stroke-width="0.95" stroke-linejoin="round" d="M280.2,372.0 283.2,371.7 286.2,372.0 287.8,372.3 290.8,373.1 292.4,373.8 295.2,375.0 296.8,375.8 298.2,376.8 299.9,378.3 301.2,380.3 301.7,382.8 301.2,384.2 299.5,385.8 296.8,386.8 294.2,387.2 292.2,387.3 290.7,387.2 287.8,386.8 284.8,386.0 283.2,385.4 280.6,384.2 278.8,383.2 277.2,382.1 275.8,380.6 274.4,378.2 274.2,376.8 274.7,375.2 275.9,373.8 278.8,372.3 280.2,372.0 Z M337.2,396.2 340.2,396.2 341.8,396.3 344.8,396.9 346.9,397.8 349.2,399.0 350.8,400.1 352.2,401.5 353.8,403.1 355.2,405.0 356.5,406.8 357.3,408.2 358.2,410.2 359.1,412.8 359.7,415.8 359.8,417.2 359.8,420.2 359.7,421.8 359.2,424.8 358.5,427.8 358.1,429.2 357.2,432.2 356.7,433.8 355.7,436.8 355.1,438.2 353.8,441.2 352.9,442.8 351.8,444.2 350.6,445.8 349.2,447.2 347.3,448.8 344.8,450.1 343.2,450.6 340.2,451.3 337.2,451.6 334.2,451.6 331.2,451.3 328.2,450.8 326.2,450.2 323.8,449.4 322.2,448.7 320.0,447.2 318.2,445.8 316.8,444.2 315.7,442.8 314.7,441.2 313.4,438.2 313.0,436.8 312.7,433.8 312.8,430.8 313.2,428.0 313.6,426.2 314.2,423.2 314.8,421.0 315.3,418.8 316.1,415.8 316.6,414.2 317.8,411.3 318.5,409.8 319.4,408.2 320.8,406.2 322.2,404.3 323.8,402.7 325.2,401.2 326.8,400.0 328.2,399.0 330.7,397.8 332.8,397.0 335.8,396.4 337.2,396.2 Z M332.8,403.7 335.8,403.0 338.8,402.9 341.8,403.4 343.2,403.8 346.2,405.0 347.8,405.8 349.2,406.9 350.8,408.3 352.2,410.2 353.6,412.8 354.1,414.2 354.7,417.2 354.7,420.2 354.3,423.2 353.8,425.4 353.0,427.8 352.2,429.8 351.2,432.2 350.5,433.8 349.2,436.0 347.8,438.2 346.4,439.8 344.8,441.2 343.2,442.3 341.8,443.1 338.8,444.0 335.8,444.0 332.8,443.2 331.2,442.5 328.9,441.2 326.8,439.9 325.2,438.8 323.8,437.3 322.2,435.4 321.4,433.8 320.8,432.1 320.2,429.2 320.1,426.2 320.4,423.3 320.8,421.5 321.4,418.8 322.2,416.0 322.9,414.2 323.8,412.3 325.2,409.8 326.4,408.2 327.9,406.8 329.8,405.3 331.2,404.4 332.8,403.7 Z M337.2,406.7 339.2,406.8 341.8,407.2 344.4,408.2 346.2,409.3 347.8,410.4 349.2,412.1 350.5,414.2 351.0,415.8 351.5,418.8 351.3,421.8 350.8,424.0 350.0,426.2 349.2,427.9 347.8,430.8 346.7,432.2 345.5,433.8 343.9,435.2 341.8,436.6 340.2,437.2 337.2,437.5 334.2,436.8 332.8,436.2 330.9,435.3 328.5,433.8 326.9,432.2 325.9,430.8 325.2,429.2 324.5,426.2 324.4,423.2 324.8,420.2 325.2,418.1 326.0,415.8 326.8,414.0 328.2,411.6 329.8,409.9 331.2,408.7 332.8,407.8 335.8,406.8 337.2,406.7 Z M335.8,410.9 338.8,410.7 341.5,411.2 343.2,412.0 344.8,413.0 346.2,414.6 347.5,417.2 347.8,419.1 347.8,420.4 347.1,423.2 346.2,425.2 344.8,427.5 343.2,429.1 341.8,430.1 340.1,430.8 337.3,430.9 335.8,430.6 332.8,429.2 331.2,428.0 329.9,426.2 329.3,424.7 328.9,421.8 329.2,418.8 329.8,416.7 331.1,414.2 332.4,412.8 334.2,411.5 335.8,410.9 Z"/>
<ellipse cx="340.2" cy="421.5" rx="17.6" ry="16.9" transform="rotate(-90.0 340.2 421.5)" fill="none" stroke="#e0442c" stroke-width="1"/>
<path d="M338.2 421.3h4.6M340.5 419.0v4.6" stroke="#f05a28" stroke-width="0.9"/>
<path d="M334.9 419.9l4.6 4.6M339.5 419.9l-4.6 4.6" stroke="#3446a8" stroke-width="0.9"/>
<ellipse cx="274.3" cy="484.0" rx="16.8" ry="11.6" transform="rotate(-42.0 274.3 484.0)" fill="#fff"/>
</g>
<rect x="254.5" y="340.5" width="165" height="165" fill="none" stroke="#1a1a1a" stroke-width="1"/>
<text x="270.9" y="356.2" font-size="10.20" fill="#f4f4f4" stroke="#2a2a2a" stroke-width="1.7" paint-order="stroke" stroke-linejoin="round" textLength="34.7" lengthAdjust="spacingAndGlyphs">Line 55</text>
<text x="271.0" y="366.5" font-size="10.20" fill="#f4f4f4" stroke="#2a2a2a" stroke-width="1.7" paint-order="stroke" stroke-linejoin="round" textLength="47" lengthAdjust="spacingAndGlyphs">CH<tspan font-size="7.4" dy="2.3">3</tspan><tspan dy="-2.3">OCHO</tspan></text>
<text x="320.6" y="366.5" font-size="10.20" font-style="italic" fill="#f4f4f4" stroke="#2a2a2a" stroke-width="1.7" paint-order="stroke" stroke-linejoin="round">v</text>
<text x="328.2" y="366.5" font-size="10.20" fill="#f4f4f4" stroke="#2a2a2a" stroke-width="1.7" paint-order="stroke" stroke-linejoin="round" textLength="6.6" lengthAdjust="spacingAndGlyphs">=</text>
<text x="337.0" y="366.5" font-size="10.20" fill="#f4f4f4" stroke="#2a2a2a" stroke-width="1.7" paint-order="stroke" stroke-linejoin="round">1</text>
<text x="353.3" y="355.8" font-size="10.20" fill="#f4f4f4" stroke="#2a2a2a" stroke-width="1.7" paint-order="stroke" stroke-linejoin="round" textLength="63.0" lengthAdjust="spacingAndGlyphs">0.43″ × 0.38″</text>
<text x="353.3" y="366.3" font-size="10.20" fill="#f4f4f4" stroke="#2a2a2a" stroke-width="1.7" paint-order="stroke" stroke-linejoin="round" textLength="58.7" lengthAdjust="spacingAndGlyphs">PA=148.12 °</text>
<text x="322.6" y="488.9" font-size="10.4" fill="#fff" textLength="80.8" lengthAdjust="spacingAndGlyphs">345473.520 MHz</text>
<g clip-path="url(#cp10)">
<g filter="url(#bl)"><path fill="#470e61" d="M459 425h5v5h-5z"/>
<path fill="#471365" d="M459 420h5v5h-5z"/>
<path fill="#481c6e" d="M459 430h5v5h-5z"/>
<path fill="#482071" d="M464 420h5v5h-5zM464 425h5v5h-5z"/>
<path fill="#482475" d="M454 420h5v5h-5zM454 425h5v5h-5z"/>
<path fill="#482878" d="M459 415h5v5h-5z"/>
<path fill="#472d7b" d="M464 430h5v5h-5zM459 435h5v5h-5z"/>
<path fill="#46307e" d="M454 430h5v5h-5z"/>
<path fill="#463480" d="M454 415h5v5h-5zM464 415h5v5h-5z"/>
<path fill="#443b84" d="M464 435h5v5h-5z"/>
<path fill="#424086" d="M454 435h5v5h-5zM459 440h5v5h-5z"/>
<path fill="#414487" d="M564 340h5v5h-5zM564 380h5v5h-5zM564 385h10v5h-10zM424 405h5v5h-5zM449 420h5v5h-5zM469 420h5v5h-5zM524 465h10v5h-10zM529 470h5v5h-5zM444 500h5v5h-5z"/>
<path fill="#3f4788" d="M534 330h5v5h-5zM564 330h5v5h-5zM534 335h5v5h-5zM564 335h5v5h-5zM534 340h5v5h-5zM534 345h5v5h-5zM564 345h5v5h-5zM559 380h5v5h-5zM569 380h5v5h-5zM559 385h5v5h-5zM574 385h5v5h-5zM564 390h35v5h-35zM414 405h10v5h-10zM429 405h5v5h-5zM419 410h10v5h-10zM469 415h5v5h-5zM564 450h5v5h-5zM534 465h5v5h-5zM524 470h5v5h-5zM534 470h5v5h-5zM444 495h5v5h-5zM444 505h5v5h-5zM444 510h5v5h-5z"/>
<path fill="#3e4a89" d="M529 330h5v5h-5zM569 330h5v5h-5zM529 335h5v5h-5zM569 335h5v5h-5zM529 340h5v5h-5zM559 340h5v5h-5zM569 340h5v5h-5zM529 345h5v5h-5zM569 345h5v5h-5zM559 375h10v5h-10zM414 410h5v5h-5zM429 410h5v5h-5zM459 410h10v5h-10zM449 415h5v5h-5zM449 425h5v5h-5zM469 425h5v5h-5zM464 440h5v5h-5zM559 450h5v5h-5zM524 460h5v5h-5zM519 465h5v5h-5zM439 500h5v5h-5zM449 500h5v5h-5zM439 505h5v5h-5zM449 505h5v5h-5z"/>
<path fill="#3d4e8a" d="M539 330h5v5h-5zM559 330h5v5h-5zM539 335h5v5h-5zM559 335h5v5h-5zM539 340h5v5h-5zM539 345h5v5h-5zM559 345h5v5h-5zM534 350h5v5h-5zM574 380h5v5h-5zM579 385h20v5h-20zM559 390h5v5h-5zM569 395h30v5h-30zM434 405h5v5h-5zM434 410h5v5h-5zM454 410h5v5h-5zM454 440h5v5h-5zM559 445h10v5h-10zM569 450h5v5h-5zM559 455h10v5h-10zM519 460h5v5h-5zM519 470h5v5h-5zM529 475h5v5h-5zM444 490h5v5h-5zM439 495h5v5h-5zM449 495h5v5h-5zM439 510h5v5h-5zM449 510h5v5h-5z"/>
<path fill="#3b528b" d="M524 340h5v5h-5zM529 350h5v5h-5zM539 350h5v5h-5zM564 350h5v5h-5zM569 375h5v5h-5zM554 380h5v5h-5zM554 385h5v5h-5zM564 395h5v5h-5zM469 410h5v5h-5zM419 415h10v5h-10zM449 430h5v5h-5zM459 445h5v5h-5zM569 445h5v5h-5zM554 450h5v5h-5zM529 460h5v5h-5zM514 465h5v5h-5zM539 465h5v5h-5zM539 470h5v5h-5zM524 475h5v5h-5zM534 475h5v5h-5zM439 490h5v5h-5zM449 490h5v5h-5z"/>
<path fill="#39558c" d="M524 330h5v5h-5zM574 330h5v5h-5zM524 335h5v5h-5zM574 335h5v5h-5zM574 340h5v5h-5zM524 345h5v5h-5zM574 345h5v5h-5zM559 350h5v5h-5zM569 350h5v5h-5zM534 355h10v5h-10zM559 370h5v5h-5zM554 375h5v5h-5zM579 380h5v5h-5zM594 380h5v5h-5zM554 390h5v5h-5zM559 395h5v5h-5zM419 400h10v5h-10zM579 400h20v5h-20zM439 410h5v5h-5zM449 410h5v5h-5zM414 415h5v5h-5zM429 415h5v5h-5zM469 430h5v5h-5zM564 440h5v5h-5zM464 445h5v5h-5zM554 445h5v5h-5zM574 445h5v5h-5zM554 455h5v5h-5zM569 455h5v5h-5zM534 460h5v5h-5zM559 460h10v5h-10zM514 470h5v5h-5zM434 495h5v5h-5zM454 495h5v5h-5zM434 500h5v5h-5zM454 500h5v5h-5zM434 505h5v5h-5zM454 505h5v5h-5zM434 510h5v5h-5zM454 510h5v5h-5z"/>
<path fill="#38598c" d="M544 330h5v5h-5zM554 330h5v5h-5zM424 335h5v5h-5zM494 335h5v5h-5zM544 335h5v5h-5zM554 335h5v5h-5zM419 340h10v5h-10zM494 340h10v5h-10zM544 340h5v5h-5zM554 340h5v5h-5zM544 345h5v5h-5zM554 345h5v5h-5zM544 350h5v5h-5zM554 370h5v5h-5zM584 380h10v5h-10zM554 395h5v5h-5zM414 400h5v5h-5zM429 400h5v5h-5zM564 400h15v5h-15zM439 405h5v5h-5zM444 410h5v5h-5zM559 440h5v5h-5zM569 440h5v5h-5zM574 450h5v5h-5zM519 455h5v5h-5zM514 460h5v5h-5zM554 460h5v5h-5zM544 465h5v5h-5zM509 470h5v5h-5zM514 475h10v5h-10zM444 485h10v5h-10zM434 490h5v5h-5zM454 490h5v5h-5zM554 500h5v5h-5zM554 505h5v5h-5z"/>
<path fill="#365c8d" d="M424 330h5v5h-5zM494 330h10v5h-10zM414 335h10v5h-10zM429 335h5v5h-5zM489 335h5v5h-5zM499 335h5v5h-5zM414 340h5v5h-5zM429 340h5v5h-5zM489 340h5v5h-5zM504 340h5v5h-5zM519 340h5v5h-5zM424 345h5v5h-5zM494 345h10v5h-10zM524 350h5v5h-5zM554 350h5v5h-5zM574 350h5v5h-5zM529 355h5v5h-5zM544 355h5v5h-5zM539 360h5v5h-5zM459 365h5v5h-5zM554 365h5v5h-5zM564 370h5v5h-5zM574 375h5v5h-5zM554 400h10v5h-10zM464 405h10v5h-10zM474 410h5v5h-5zM434 415h5v5h-5zM444 415h5v5h-5zM424 420h5v5h-5zM539 425h10v5h-10zM419 430h10v5h-10zM539 430h10v5h-10zM419 435h10v5h-10zM554 440h5v5h-5zM574 440h10v5h-10zM594 440h5v5h-5zM454 445h5v5h-5zM579 445h5v5h-5zM594 445h5v5h-5zM479 455h5v5h-5zM524 455h5v5h-5zM549 455h5v5h-5zM479 460h10v5h-10zM539 460h15v5h-15zM434 465h10v5h-10zM479 465h5v5h-5zM509 465h5v5h-5zM414 470h30v5h-30zM504 470h5v5h-5zM414 475h25v5h-25zM499 475h15v5h-15zM539 475h5v5h-5zM524 480h10v5h-10zM569 480h10v5h-10zM439 485h5v5h-5zM454 485h10v5h-10zM569 485h30v5h-30zM459 490h5v5h-5zM479 490h10v5h-10zM574 490h25v5h-25zM479 495h10v5h-10zM554 495h10v5h-10zM479 500h10v5h-10zM549 500h5v5h-5zM559 500h5v5h-5zM479 505h10v5h-10zM549 505h5v5h-5zM559 505h5v5h-5zM479 510h10v5h-10zM554 510h10v5h-10z"/>
<path fill="#355f8d" d="M414 330h10v5h-10zM429 330h5v5h-5zM489 330h5v5h-5zM504 330h5v5h-5zM519 330h5v5h-5zM549 330h5v5h-5zM579 330h5v5h-5zM594 330h5v5h-5zM504 335h10v5h-10zM519 335h5v5h-5zM549 335h5v5h-5zM579 335h5v5h-5zM594 335h5v5h-5zM509 340h10v5h-10zM549 340h5v5h-5zM579 340h5v5h-5zM594 340h5v5h-5zM414 345h10v5h-10zM429 345h5v5h-5zM489 345h5v5h-5zM504 345h5v5h-5zM519 345h5v5h-5zM549 345h5v5h-5zM579 345h5v5h-5zM594 345h5v5h-5zM549 350h5v5h-5zM579 350h5v5h-5zM589 350h10v5h-10zM549 355h20v5h-20zM589 355h10v5h-10zM459 360h5v5h-5zM534 360h5v5h-5zM544 360h15v5h-15zM589 360h10v5h-10zM549 365h5v5h-5zM559 365h5v5h-5zM459 370h5v5h-5zM549 370h5v5h-5zM459 375h5v5h-5zM489 375h5v5h-5zM549 375h5v5h-5zM594 375h5v5h-5zM459 380h5v5h-5zM549 380h5v5h-5zM459 385h5v5h-5zM549 385h5v5h-5zM459 390h5v5h-5zM549 390h5v5h-5zM549 395h5v5h-5zM434 400h5v5h-5zM549 400h5v5h-5zM444 405h5v5h-5zM459 405h5v5h-5zM539 405h60v5h-60zM539 410h30v5h-30zM439 415h5v5h-5zM474 415h5v5h-5zM539 415h40v5h-40zM414 420h10v5h-10zM429 420h5v5h-5zM444 420h5v5h-5zM539 420h60v5h-60zM419 425h10v5h-10zM549 425h10v5h-10zM564 425h35v5h-35zM414 430h5v5h-5zM429 430h5v5h-5zM549 430h5v5h-5zM574 430h25v5h-25zM414 435h5v5h-5zM429 435h5v5h-5zM449 435h5v5h-5zM469 435h5v5h-5zM539 435h60v5h-60zM469 440h5v5h-5zM549 440h5v5h-5zM584 440h10v5h-10zM469 445h5v5h-5zM549 445h5v5h-5zM584 445h10v5h-10zM459 450h15v5h-15zM549 450h5v5h-5zM579 450h5v5h-5zM594 450h5v5h-5zM474 455h5v5h-5zM484 455h5v5h-5zM574 455h5v5h-5zM474 460h5v5h-5zM569 460h5v5h-5zM414 465h20v5h-20zM444 465h5v5h-5zM474 465h5v5h-5zM484 465h5v5h-5zM549 465h20v5h-20zM444 470h5v5h-5zM474 470h15v5h-15zM499 470h5v5h-5zM544 470h5v5h-5zM439 475h10v5h-10zM474 475h25v5h-25zM569 475h5v5h-5zM414 480h110v5h-110zM534 480h5v5h-5zM564 480h5v5h-5zM579 480h20v5h-20zM414 485h10v5h-10zM429 485h10v5h-10zM464 485h30v5h-30zM564 485h5v5h-5zM414 490h5v5h-5zM429 490h5v5h-5zM464 490h15v5h-15zM489 490h5v5h-5zM559 490h15v5h-15zM414 495h5v5h-5zM429 495h5v5h-5zM459 495h5v5h-5zM474 495h5v5h-5zM489 495h5v5h-5zM549 495h5v5h-5zM564 495h35v5h-35zM414 500h5v5h-5zM429 500h5v5h-5zM459 500h5v5h-5zM474 500h5v5h-5zM489 500h5v5h-5zM564 500h5v5h-5zM574 500h25v5h-25zM414 505h5v5h-5zM429 505h5v5h-5zM459 505h5v5h-5zM474 505h5v5h-5zM489 505h5v5h-5zM564 505h35v5h-35zM414 510h5v5h-5zM429 510h5v5h-5zM459 510h5v5h-5zM474 510h5v5h-5zM489 510h5v5h-5zM549 510h5v5h-5zM564 510h35v5h-35z"/>
<path fill="#33638d" d="M509 330h10v5h-10zM584 330h10v5h-10zM434 335h5v5h-5zM514 335h5v5h-5zM584 335h10v5h-10zM434 340h5v5h-5zM484 340h5v5h-5zM584 340h10v5h-10zM509 345h10v5h-10zM584 345h10v5h-10zM584 350h5v5h-5zM584 355h5v5h-5zM559 360h5v5h-5zM454 365h5v5h-5zM544 365h5v5h-5zM589 365h10v5h-10zM594 370h5v5h-5zM494 375h5v5h-5zM579 375h15v5h-15zM459 395h5v5h-5zM544 400h5v5h-5zM449 405h10v5h-10zM474 405h5v5h-5zM569 410h30v5h-30zM579 415h20v5h-20zM414 425h5v5h-5zM429 425h5v5h-5zM559 425h5v5h-5zM534 430h5v5h-5zM554 430h20v5h-20zM534 435h5v5h-5zM419 440h10v5h-10zM544 440h5v5h-5zM474 450h10v5h-10zM584 450h10v5h-10zM469 455h5v5h-5zM529 455h5v5h-5zM439 460h5v5h-5zM489 460h5v5h-5zM489 465h5v5h-5zM504 465h5v5h-5zM489 470h10v5h-10zM564 470h5v5h-5zM449 475h5v5h-5zM469 475h5v5h-5zM564 475h5v5h-5zM574 475h5v5h-5zM424 485h5v5h-5zM494 485h5v5h-5zM514 485h15v5h-15zM419 490h10v5h-10zM519 490h5v5h-5zM554 490h5v5h-5zM419 495h10v5h-10zM464 495h10v5h-10zM519 495h5v5h-5zM419 500h10v5h-10zM464 500h10v5h-10zM519 500h5v5h-5zM569 500h5v5h-5zM419 505h10v5h-10zM464 505h10v5h-10zM519 505h5v5h-5zM419 510h10v5h-10zM464 510h10v5h-10zM519 510h5v5h-5z"/>
<path fill="#31668e" d="M434 330h5v5h-5zM484 330h5v5h-5zM484 335h5v5h-5zM434 345h5v5h-5zM484 345h5v5h-5zM494 350h15v5h-15zM519 350h5v5h-5zM459 355h5v5h-5zM524 355h5v5h-5zM569 355h5v5h-5zM579 355h5v5h-5zM454 360h5v5h-5zM464 360h5v5h-5zM529 360h5v5h-5zM584 360h5v5h-5zM464 365h5v5h-5zM539 365h5v5h-5zM454 370h5v5h-5zM489 370h10v5h-10zM544 370h5v5h-5zM589 370h5v5h-5zM454 375h5v5h-5zM454 380h5v5h-5zM489 380h10v5h-10zM454 385h5v5h-5zM454 390h5v5h-5zM464 390h5v5h-5zM544 395h5v5h-5zM439 400h5v5h-5zM459 400h10v5h-10zM539 400h5v5h-5zM534 405h5v5h-5zM534 410h5v5h-5zM434 420h5v5h-5zM474 420h5v5h-5zM444 425h5v5h-5zM534 425h5v5h-5zM414 440h5v5h-5zM429 440h5v5h-5zM449 440h5v5h-5zM454 450h5v5h-5zM464 455h5v5h-5zM514 455h5v5h-5zM544 455h5v5h-5zM434 460h5v5h-5zM444 460h5v5h-5zM469 460h5v5h-5zM509 460h5v5h-5zM494 465h10v5h-10zM569 465h5v5h-5zM449 470h5v5h-5zM469 470h5v5h-5zM559 470h5v5h-5zM569 470h5v5h-5zM454 475h15v5h-15zM499 485h15v5h-15zM529 485h5v5h-5zM559 485h5v5h-5zM494 490h5v5h-5zM514 490h5v5h-5zM514 495h5v5h-5zM514 500h5v5h-5zM544 500h5v5h-5zM514 505h5v5h-5zM544 505h5v5h-5zM514 510h5v5h-5z"/>
<path fill="#30698e" d="M414 350h20v5h-20zM489 350h5v5h-5zM509 350h10v5h-10zM574 355h5v5h-5zM534 365h5v5h-5zM464 370h5v5h-5zM584 370h5v5h-5zM464 375h5v5h-5zM544 375h5v5h-5zM464 380h5v5h-5zM464 385h5v5h-5zM544 390h5v5h-5zM454 395h5v5h-5zM464 395h5v5h-5zM454 400h5v5h-5zM469 400h5v5h-5zM534 415h5v5h-5zM439 420h5v5h-5zM534 420h5v5h-5zM434 425h5v5h-5zM539 440h5v5h-5zM544 445h5v5h-5zM484 450h5v5h-5zM519 450h10v5h-10zM489 455h5v5h-5zM534 455h10v5h-10zM579 455h5v5h-5zM589 455h10v5h-10zM414 460h20v5h-20zM449 460h5v5h-5zM494 460h5v5h-5zM574 460h5v5h-5zM449 465h5v5h-5zM469 465h5v5h-5zM549 470h10v5h-10zM544 475h5v5h-5zM559 475h5v5h-5zM579 475h20v5h-20zM539 480h5v5h-5zM559 480h5v5h-5zM534 485h5v5h-5zM524 490h5v5h-5zM549 490h5v5h-5zM494 495h5v5h-5zM544 495h5v5h-5zM494 500h5v5h-5zM494 505h5v5h-5zM494 510h5v5h-5zM544 510h5v5h-5z"/>
<path fill="#2f6c8e" d="M439 335h5v5h-5zM479 335h5v5h-5zM439 340h5v5h-5zM479 340h5v5h-5zM454 355h5v5h-5zM464 355h5v5h-5zM494 355h10v5h-10zM529 365h5v5h-5zM584 365h5v5h-5zM539 370h5v5h-5zM569 370h5v5h-5zM484 375h5v5h-5zM499 375h5v5h-5zM544 380h5v5h-5zM544 385h5v5h-5zM539 395h5v5h-5zM444 400h10v5h-10zM474 400h5v5h-5zM534 400h5v5h-5zM479 405h5v5h-5zM434 430h5v5h-5zM434 435h5v5h-5zM534 440h5v5h-5zM449 445h5v5h-5zM474 445h5v5h-5zM544 450h5v5h-5zM444 455h20v5h-20zM584 455h5v5h-5zM454 470h5v5h-5zM464 470h5v5h-5zM574 470h5v5h-5zM554 485h5v5h-5zM499 490h5v5h-5zM509 490h5v5h-5zM544 490h5v5h-5z"/>
<path fill="#2e6f8e" d="M439 330h5v5h-5zM479 330h5v5h-5zM439 345h5v5h-5zM479 345h5v5h-5zM434 350h5v5h-5zM459 350h5v5h-5zM484 350h5v5h-5zM504 355h10v5h-10zM519 355h5v5h-5zM524 360h5v5h-5zM564 360h5v5h-5zM489 365h10v5h-10zM564 365h5v5h-5zM484 370h5v5h-5zM499 370h5v5h-5zM534 370h5v5h-5zM579 370h5v5h-5zM539 375h5v5h-5zM484 380h5v5h-5zM499 380h5v5h-5zM489 385h10v5h-10zM539 390h5v5h-5zM414 395h20v5h-20zM469 395h5v5h-5zM479 410h5v5h-5zM439 425h5v5h-5zM474 425h5v5h-5zM444 430h5v5h-5zM434 440h5v5h-5zM414 445h20v5h-20zM449 450h5v5h-5zM529 450h5v5h-5zM434 455h10v5h-10zM454 460h5v5h-5zM464 460h5v5h-5zM499 460h10v5h-10zM579 460h5v5h-5zM594 460h5v5h-5zM454 465h5v5h-5zM464 465h5v5h-5zM574 465h5v5h-5zM459 470h5v5h-5zM579 470h5v5h-5zM594 470h5v5h-5zM549 475h10v5h-10zM544 480h5v5h-5zM554 480h5v5h-5zM539 485h5v5h-5zM549 485h5v5h-5zM504 490h5v5h-5zM509 495h5v5h-5zM509 500h5v5h-5zM509 505h5v5h-5zM509 510h5v5h-5z"/>
<path fill="#2c728e" d="M444 335h5v5h-5zM474 335h5v5h-5zM444 340h5v5h-5zM474 340h5v5h-5zM454 350h5v5h-5zM464 350h5v5h-5zM489 355h5v5h-5zM514 355h5v5h-5zM494 360h10v5h-10zM449 365h5v5h-5zM499 365h5v5h-5zM524 365h5v5h-5zM449 370h5v5h-5zM529 370h5v5h-5zM539 380h5v5h-5zM539 385h5v5h-5zM434 395h5v5h-5zM449 395h5v5h-5zM534 395h5v5h-5zM439 430h5v5h-5zM529 430h5v5h-5zM529 435h5v5h-5zM529 440h5v5h-5zM479 445h5v5h-5zM539 445h5v5h-5zM489 450h5v5h-5zM539 450h5v5h-5zM414 455h20v5h-20zM494 455h5v5h-5zM459 460h5v5h-5zM584 460h10v5h-10zM584 470h10v5h-10zM544 485h5v5h-5zM529 490h15v5h-15zM499 495h5v5h-5zM539 495h5v5h-5zM499 500h5v5h-5zM539 500h5v5h-5zM499 505h5v5h-5zM539 505h5v5h-5zM499 510h5v5h-5zM524 510h5v5h-5zM539 510h5v5h-5z"/>
<path fill="#2b758e" d="M444 330h35v5h-35zM449 335h25v5h-25zM449 340h5v5h-5zM469 340h5v5h-5zM444 345h35v5h-35zM439 350h5v5h-5zM449 350h5v5h-5zM469 350h5v5h-5zM479 350h5v5h-5zM419 355h10v5h-10zM449 355h5v5h-5zM469 355h5v5h-5zM449 360h5v5h-5zM469 360h5v5h-5zM489 360h5v5h-5zM504 360h5v5h-5zM519 360h5v5h-5zM469 365h5v5h-5zM504 370h5v5h-5zM519 370h10v5h-10zM574 370h5v5h-5zM449 375h5v5h-5zM504 375h5v5h-5zM519 375h20v5h-20zM449 380h5v5h-5zM449 385h5v5h-5zM449 390h5v5h-5zM469 390h5v5h-5zM534 390h5v5h-5zM479 400h5v5h-5zM529 400h5v5h-5zM529 405h5v5h-5zM479 415h5v5h-5zM439 435h10v5h-10zM474 440h5v5h-5zM434 445h5v5h-5zM524 445h15v5h-15zM414 450h25v5h-25zM444 450h5v5h-5zM514 450h5v5h-5zM534 450h5v5h-5zM509 455h5v5h-5zM459 465h5v5h-5zM579 465h5v5h-5zM589 465h10v5h-10zM549 480h5v5h-5zM504 495h5v5h-5zM504 500h5v5h-5zM504 505h5v5h-5zM504 510h5v5h-5z"/>
<path fill="#2a788e" d="M454 340h15v5h-15zM444 350h5v5h-5zM474 350h5v5h-5zM414 355h5v5h-5zM429 355h5v5h-5zM484 355h5v5h-5zM509 360h10v5h-10zM579 360h5v5h-5zM484 365h5v5h-5zM504 365h20v5h-20zM469 370h5v5h-5zM514 370h5v5h-5zM469 375h5v5h-5zM509 375h10v5h-10zM469 380h5v5h-5zM504 380h5v5h-5zM514 380h25v5h-25zM469 385h5v5h-5zM484 385h5v5h-5zM499 385h5v5h-5zM534 385h5v5h-5zM439 395h10v5h-10zM474 395h5v5h-5zM529 395h5v5h-5zM529 410h5v5h-5zM529 425h5v5h-5zM474 430h5v5h-5zM439 440h10v5h-10zM444 445h5v5h-5zM484 445h5v5h-5zM439 450h5v5h-5zM584 465h5v5h-5zM524 495h5v5h-5zM534 510h5v5h-5z"/>
<path fill="#297b8e" d="M434 355h5v5h-5zM484 360h5v5h-5zM479 370h5v5h-5zM509 370h5v5h-5zM479 375h5v5h-5zM509 380h5v5h-5zM519 385h15v5h-15zM489 390h10v5h-10zM529 390h5v5h-5zM479 395h5v5h-5zM529 415h5v5h-5zM529 420h5v5h-5zM474 435h5v5h-5zM439 445h5v5h-5zM519 445h5v5h-5zM499 455h5v5h-5zM534 495h5v5h-5z"/>
<path fill="#277e8e" d="M439 355h10v5h-10zM474 355h10v5h-10zM424 360h5v5h-5zM579 365h5v5h-5zM424 375h5v5h-5zM479 380h5v5h-5zM504 385h15v5h-15zM424 390h5v5h-5zM484 390h5v5h-5zM524 390h5v5h-5zM484 395h5v5h-5zM484 400h5v5h-5zM484 405h5v5h-5zM479 420h5v5h-5zM524 440h5v5h-5zM504 455h5v5h-5zM529 510h5v5h-5z"/>
<path fill="#26828e" d="M414 360h10v5h-10zM429 360h5v5h-5zM444 360h5v5h-5zM474 360h10v5h-10zM419 365h10v5h-10zM444 365h5v5h-5zM474 365h10v5h-10zM414 370h20v5h-20zM444 370h5v5h-5zM474 370h5v5h-5zM414 375h10v5h-10zM429 375h5v5h-5zM444 375h5v5h-5zM474 375h5v5h-5zM479 385h5v5h-5zM414 390h10v5h-10zM429 390h5v5h-5zM444 390h5v5h-5zM474 390h10v5h-10zM499 390h5v5h-5zM519 390h5v5h-5zM524 395h5v5h-5zM479 440h5v5h-5zM489 445h5v5h-5zM494 450h5v5h-5zM534 500h5v5h-5zM524 505h5v5h-5zM534 505h5v5h-5z"/>
<path fill="#25848e" d="M434 360h10v5h-10zM569 360h5v5h-5zM414 365h5v5h-5zM429 365h5v5h-5zM434 370h5v5h-5zM434 375h10v5h-10zM414 380h20v5h-20zM444 380h5v5h-5zM474 380h5v5h-5zM424 385h5v5h-5zM444 385h5v5h-5zM474 385h5v5h-5zM434 390h10v5h-10zM489 395h5v5h-5zM484 410h5v5h-5zM524 435h5v5h-5zM524 500h5v5h-5z"/>
<path fill="#24878e" d="M574 360h5v5h-5zM434 365h10v5h-10zM569 365h5v5h-5zM439 370h5v5h-5zM434 380h10v5h-10zM414 385h10v5h-10zM429 385h5v5h-5zM504 390h5v5h-5zM514 390h5v5h-5zM524 400h5v5h-5zM479 425h5v5h-5zM509 450h5v5h-5zM529 495h5v5h-5z"/>
<path fill="#238a8d" d="M434 385h10v5h-10zM509 390h5v5h-5zM494 395h5v5h-5zM489 400h5v5h-5zM484 440h5v5h-5zM514 445h5v5h-5z"/>
<path fill="#228d8d" d="M519 395h5v5h-5zM524 405h5v5h-5zM484 415h5v5h-5zM479 430h5v5h-5zM524 430h5v5h-5zM479 435h5v5h-5zM519 440h5v5h-5zM499 450h5v5h-5z"/>
<path fill="#21918c" d="M574 365h5v5h-5zM499 395h5v5h-5zM504 450h5v5h-5z"/>
<path fill="#20938c" d="M514 395h5v5h-5zM489 405h5v5h-5zM524 410h5v5h-5zM494 445h5v5h-5z"/>
<path fill="#1f968b" d="M504 395h5v5h-5zM524 415h5v5h-5zM484 420h5v5h-5zM524 425h5v5h-5zM489 440h5v5h-5zM529 505h5v5h-5z"/>
<path fill="#1f998a" d="M509 395h5v5h-5zM494 400h5v5h-5zM519 400h5v5h-5zM524 420h5v5h-5zM484 435h5v5h-5z"/>
<path fill="#1e9c89" d="M509 445h5v5h-5zM529 500h5v5h-5z"/>
<path fill="#1fa088" d="M489 410h5v5h-5zM484 425h5v5h-5zM484 430h5v5h-5zM519 435h5v5h-5z"/>
<path fill="#1fa287" d="M514 440h5v5h-5zM499 445h5v5h-5z"/>
<path fill="#21a585" d="M499 400h5v5h-5z"/>
<path fill="#22a884" d="M514 400h5v5h-5zM519 405h5v5h-5zM504 445h5v5h-5z"/>
<path fill="#25ab82" d="M494 405h5v5h-5zM489 415h5v5h-5zM489 435h5v5h-5zM494 440h5v5h-5z"/>
<path fill="#28ae80" d="M504 400h10v5h-10zM519 430h5v5h-5z"/>
<path fill="#2fb47c" d="M519 410h5v5h-5zM489 420h5v5h-5z"/>
<path fill="#34b679" d="M489 430h5v5h-5zM509 440h5v5h-5z"/>
<path fill="#38b977" d="M489 425h5v5h-5zM519 425h5v5h-5zM514 435h5v5h-5zM499 440h5v5h-5z"/>
<path fill="#3fbc73" d="M499 405h5v5h-5zM514 405h5v5h-5zM494 410h5v5h-5zM519 415h5v5h-5z"/>
<path fill="#44bf70" d="M519 420h5v5h-5zM494 435h5v5h-5zM504 440h5v5h-5z"/>
<path fill="#56c667" d="M504 405h10v5h-10z"/>
<path fill="#65cb5e" d="M494 415h5v5h-5z"/>
<path fill="#6ccd5a" d="M514 410h5v5h-5zM494 430h5v5h-5zM514 430h5v5h-5zM509 435h5v5h-5z"/>
<path fill="#73d056" d="M499 410h5v5h-5zM499 435h5v5h-5z"/>
<path fill="#7ad151" d="M494 420h5v5h-5z"/>
<path fill="#84d44b" d="M494 425h5v5h-5zM504 435h5v5h-5z"/>
<path fill="#93d741" d="M514 415h5v5h-5zM514 425h5v5h-5z"/>
<path fill="#9bd93c" d="M504 410h10v5h-10zM514 420h5v5h-5z"/>
<path fill="#addc30" d="M499 430h5v5h-5zM509 430h5v5h-5z"/>
<path fill="#b5de2b" d="M499 415h5v5h-5z"/>
<path fill="#c5e021" d="M504 430h5v5h-5z"/>
<path fill="#d8e219" d="M509 415h5v5h-5zM499 420h5v5h-5zM499 425h5v5h-5z"/>
<path fill="#dfe318" d="M504 415h5v5h-5zM509 425h5v5h-5z"/>
<path fill="#efe51c" d="M509 420h5v5h-5z"/>
<path fill="#f6e620" d="M504 425h5v5h-5z"/>
<path fill="#fde725" d="M504 420h5v5h-5z"/></g>
<path fill="none" stroke="#fff" stroke-opacity="0.72" stroke-width="0.95" stroke-linejoin="round" d="M526.6,504.2 526.8,502.2 527.8,499.8 529.4,498.2 531.2,498.0 532.8,498.8 534.2,501.1 534.6,502.8 534.7,504.2 M574.8,361.7 576.2,361.8 579.1,363.2 580.1,364.8 580.0,367.8 578.6,369.2 576.2,370.1 573.2,369.8 571.8,368.9 570.2,367.0 570.0,364.8 571.0,363.2 573.2,361.9 574.8,361.7 Z M505.8,394.5 508.8,393.9 511.8,393.8 514.8,394.4 516.2,394.8 519.2,396.2 520.8,397.2 522.2,398.5 523.8,400.2 525.0,402.2 525.8,403.8 526.8,406.4 527.3,408.2 528.0,411.2 528.3,412.8 528.8,415.7 529.0,418.8 529.0,421.8 528.8,424.8 528.3,427.8 528.0,429.2 527.3,432.2 526.8,434.0 525.8,436.8 525.1,438.2 523.8,440.6 522.2,442.6 520.8,444.2 519.2,445.6 517.8,446.9 516.2,448.1 514.8,449.3 513.2,450.3 511.1,451.8 508.8,453.0 507.2,453.5 504.2,453.8 501.7,453.2 499.8,452.4 498.2,451.6 496.4,450.2 494.5,448.8 492.7,447.2 490.9,445.8 489.3,444.3 487.8,443.0 486.2,441.6 484.8,440.0 483.5,438.2 482.8,436.8 482.2,433.8 482.3,430.8 482.8,427.8 483.2,425.9 484.0,423.2 484.8,420.9 485.4,418.8 486.2,416.5 487.0,414.2 487.8,412.3 488.7,409.8 489.4,408.2 490.8,405.4 491.7,403.8 492.8,402.2 494.2,400.8 496.0,399.2 498.2,397.8 499.8,396.9 501.2,396.2 504.2,394.9 505.8,394.5 Z M507.2,400.5 510.2,400.2 513.2,400.7 514.8,401.1 517.0,402.2 519.0,403.8 520.4,405.2 521.5,406.8 522.4,408.2 523.6,411.2 524.0,412.8 524.7,415.8 525.0,418.8 525.1,421.8 524.9,424.8 524.4,427.8 523.8,430.5 523.2,432.2 522.2,434.6 521.1,436.8 520.1,438.2 518.9,439.8 517.5,441.2 515.9,442.8 514.0,444.2 511.8,445.8 510.2,446.6 508.7,447.2 505.8,447.9 502.7,447.6 501.2,447.1 498.7,445.8 496.8,444.4 495.2,443.2 493.8,441.8 492.2,440.2 490.7,438.3 489.8,436.8 489.1,435.2 488.2,432.2 488.0,429.2 488.2,426.2 488.7,423.2 489.2,421.0 489.9,418.8 490.8,416.2 491.5,414.2 492.2,412.7 493.8,409.9 494.9,408.2 496.1,406.8 497.6,405.2 499.4,403.8 501.2,402.6 502.8,401.8 505.8,400.8 507.2,400.5 Z M507.2,405.2 510.2,405.0 511.8,405.2 514.8,406.3 516.2,407.4 517.8,408.8 519.2,410.9 520.2,412.8 520.8,414.4 521.4,417.2 521.8,420.2 521.7,423.2 521.4,426.2 520.8,429.0 520.2,430.8 519.2,432.9 517.9,435.2 516.8,436.8 515.4,438.2 513.7,439.8 511.8,441.1 510.2,441.9 507.9,442.8 505.8,443.1 502.9,442.8 501.2,442.2 499.6,441.2 497.6,439.8 496.1,438.2 494.9,436.8 493.8,434.8 492.7,432.2 492.2,429.8 492.1,427.8 492.2,424.8 492.4,423.2 493.1,420.2 493.8,418.1 494.7,415.8 495.5,414.2 496.8,412.2 498.2,410.3 499.8,408.8 501.2,407.6 502.8,406.7 505.8,405.5 507.2,405.2 Z M505.8,409.7 508.8,409.2 511.8,409.7 513.2,410.4 514.8,411.5 516.2,413.3 517.5,415.8 518.0,417.2 518.6,420.2 518.6,423.2 518.2,426.2 517.8,428.1 516.7,430.8 515.9,432.2 514.8,433.8 513.2,435.5 511.6,436.8 508.8,438.2 507.2,438.6 504.2,438.6 502.8,438.2 500.2,436.8 498.7,435.2 497.5,433.8 496.7,432.2 495.8,429.2 495.5,426.2 495.7,423.2 496.4,420.2 496.9,418.8 498.2,416.1 499.5,414.2 500.8,412.8 502.6,411.2 504.2,410.3 505.8,409.7 Z M505.8,414.1 508.8,413.7 510.9,414.2 512.9,415.8 514.0,417.2 514.8,419.1 515.2,421.8 515.1,424.8 514.8,426.4 513.6,429.2 512.6,430.8 511.1,432.2 508.8,433.7 507.2,434.2 504.2,433.9 502.8,433.2 501.2,431.9 499.8,429.4 499.3,427.8 499.0,424.8 499.5,421.8 500.0,420.2 501.2,417.9 502.8,416.1 504.2,414.9 505.8,414.1 Z"/>
<ellipse cx="507.8" cy="425.3" rx="17.0" ry="15.5" transform="rotate(-60.0 507.8 425.3)" fill="none" stroke="#e0442c" stroke-width="1"/>
<path d="M505.2 424.0h4.6M507.5 421.7v4.6" stroke="#f05a28" stroke-width="0.9"/>
<path d="M504.5 419.9l4.6 4.6M509.1 419.9l-4.6 4.6" stroke="#3446a8" stroke-width="0.9"/>
<ellipse cx="444.3" cy="484.0" rx="16.8" ry="11.6" transform="rotate(-42.0 444.3 484.0)" fill="#fff"/>
</g>
<rect x="424.5" y="340.5" width="165" height="165" fill="none" stroke="#1a1a1a" stroke-width="1"/>
<text x="440.9" y="356.2" font-size="10.20" fill="#f4f4f4" stroke="#2a2a2a" stroke-width="1.7" paint-order="stroke" stroke-linejoin="round" textLength="34.7" lengthAdjust="spacingAndGlyphs">Line 60</text>
<text x="441.0" y="366.5" font-size="10.20" fill="#f4f4f4" stroke="#2a2a2a" stroke-width="1.7" paint-order="stroke" stroke-linejoin="round" textLength="47" lengthAdjust="spacingAndGlyphs">CH<tspan font-size="7.4" dy="2.3">3</tspan><tspan dy="-2.3">OCHO</tspan></text>
<text x="490.6" y="366.5" font-size="10.20" font-style="italic" fill="#f4f4f4" stroke="#2a2a2a" stroke-width="1.7" paint-order="stroke" stroke-linejoin="round">v</text>
<text x="498.2" y="366.5" font-size="10.20" fill="#f4f4f4" stroke="#2a2a2a" stroke-width="1.7" paint-order="stroke" stroke-linejoin="round" textLength="6.6" lengthAdjust="spacingAndGlyphs">=</text>
<text x="507.0" y="366.5" font-size="10.20" fill="#f4f4f4" stroke="#2a2a2a" stroke-width="1.7" paint-order="stroke" stroke-linejoin="round">1</text>
<text x="523.3" y="355.8" font-size="10.20" fill="#f4f4f4" stroke="#2a2a2a" stroke-width="1.7" paint-order="stroke" stroke-linejoin="round" textLength="63.0" lengthAdjust="spacingAndGlyphs">0.44″ × 0.36″</text>
<text x="523.3" y="366.3" font-size="10.20" fill="#f4f4f4" stroke="#2a2a2a" stroke-width="1.7" paint-order="stroke" stroke-linejoin="round" textLength="58.7" lengthAdjust="spacingAndGlyphs">PA=142.30 °</text>
<text x="492.6" y="488.9" font-size="10.4" fill="#fff" textLength="80.8" lengthAdjust="spacingAndGlyphs">345509.462 MHz</text>
<g clip-path="url(#cp11)">
<g filter="url(#bl)"><path fill="#443b84" d="M679 335h5v5h-5zM679 340h5v5h-5z"/>
<path fill="#424086" d="M674 330h10v5h-10zM674 335h5v5h-5zM674 340h5v5h-5zM674 345h10v5h-10zM644 405h5v5h-5zM714 420h10v5h-10z"/>
<path fill="#414487" d="M684 335h5v5h-5zM684 340h5v5h-5zM674 350h5v5h-5zM714 415h10v5h-10z"/>
<path fill="#3f4788" d="M684 330h5v5h-5zM684 345h5v5h-5zM679 350h5v5h-5zM639 405h5v5h-5zM709 420h5v5h-5zM589 445h10v5h-10z"/>
<path fill="#3e4a89" d="M674 355h5v5h-5zM719 410h5v5h-5zM724 415h5v5h-5zM724 420h5v5h-5zM714 425h5v5h-5zM589 440h10v5h-10zM584 445h5v5h-5zM599 445h5v5h-5zM589 450h10v5h-10z"/>
<path fill="#3d4e8a" d="M669 330h5v5h-5zM669 335h5v5h-5zM669 340h5v5h-5zM689 340h5v5h-5zM669 345h5v5h-5zM669 350h5v5h-5zM724 380h10v5h-10zM724 385h15v5h-15zM729 390h15v5h-15zM734 395h10v5h-10zM644 400h5v5h-5zM639 410h10v5h-10zM714 410h5v5h-5zM724 410h5v5h-5zM709 415h5v5h-5zM709 425h5v5h-5zM719 425h5v5h-5zM584 440h5v5h-5zM599 440h5v5h-5zM584 450h5v5h-5zM599 450h5v5h-5zM714 500h5v5h-5z"/>
<path fill="#3b528b" d="M689 335h5v5h-5zM669 355h5v5h-5zM754 355h10v5h-10zM724 375h10v5h-10zM719 380h5v5h-5zM734 380h5v5h-5zM719 385h5v5h-5zM739 385h5v5h-5zM724 390h5v5h-5zM744 390h5v5h-5zM729 395h5v5h-5zM744 395h5v5h-5zM729 400h15v5h-15zM649 405h5v5h-5zM594 435h5v5h-5zM594 455h5v5h-5zM709 495h10v5h-10zM709 500h5v5h-5zM719 500h5v5h-5zM709 505h15v5h-15zM709 510h10v5h-10z"/>
<path fill="#39558c" d="M689 330h5v5h-5zM749 330h20v5h-20zM749 335h20v5h-20zM749 340h20v5h-20zM749 345h20v5h-20zM749 350h20v5h-20zM749 355h5v5h-5zM764 355h5v5h-5zM749 360h20v5h-20zM719 375h5v5h-5zM734 375h5v5h-5zM739 380h5v5h-5zM744 385h5v5h-5zM719 390h5v5h-5zM749 390h20v5h-20zM724 395h5v5h-5zM749 395h20v5h-20zM724 400h5v5h-5zM744 400h10v5h-10zM764 400h5v5h-5zM719 405h20v5h-20zM709 410h5v5h-5zM729 410h5v5h-5zM729 415h5v5h-5zM584 435h10v5h-10zM599 435h5v5h-5zM584 455h10v5h-10zM599 455h5v5h-5zM689 465h5v5h-5zM704 495h5v5h-5zM719 495h5v5h-5zM704 500h5v5h-5zM704 505h5v5h-5zM704 510h5v5h-5zM719 510h5v5h-5z"/>
<path fill="#38598c" d="M744 330h5v5h-5zM744 335h5v5h-5zM744 340h5v5h-5zM689 345h5v5h-5zM744 345h5v5h-5zM684 350h5v5h-5zM744 350h5v5h-5zM679 355h5v5h-5zM744 355h5v5h-5zM749 365h20v5h-20zM739 375h5v5h-5zM714 380h5v5h-5zM744 380h5v5h-5zM714 385h5v5h-5zM749 385h20v5h-20zM719 395h5v5h-5zM639 400h5v5h-5zM719 400h5v5h-5zM754 400h10v5h-10zM714 405h5v5h-5zM739 405h5v5h-5zM704 420h5v5h-5zM724 425h5v5h-5zM604 440h5v5h-5zM604 445h5v5h-5zM604 450h5v5h-5zM699 500h5v5h-5zM724 500h5v5h-5zM699 505h5v5h-5zM724 505h5v5h-5z"/>
<path fill="#365c8d" d="M664 330h5v5h-5zM664 335h5v5h-5zM664 340h5v5h-5zM739 340h5v5h-5zM664 345h5v5h-5zM739 345h5v5h-5zM674 360h5v5h-5zM744 360h5v5h-5zM744 365h5v5h-5zM724 370h45v5h-45zM744 375h10v5h-10zM764 375h5v5h-5zM749 380h20v5h-20zM714 390h5v5h-5zM649 400h5v5h-5zM634 405h5v5h-5zM744 405h10v5h-10zM764 405h5v5h-5zM634 410h5v5h-5zM734 410h5v5h-5zM704 415h5v5h-5zM729 420h5v5h-5zM704 425h5v5h-5zM709 430h10v5h-10zM689 460h5v5h-5zM684 465h5v5h-5zM694 465h5v5h-5zM689 470h5v5h-5zM704 490h15v5h-15zM699 495h5v5h-5zM724 495h5v5h-5zM699 510h5v5h-5zM724 510h5v5h-5z"/>
<path fill="#355f8d" d="M739 330h5v5h-5zM739 335h5v5h-5zM664 350h5v5h-5zM739 350h5v5h-5zM669 360h5v5h-5zM739 365h5v5h-5zM719 370h5v5h-5zM714 375h5v5h-5zM754 375h10v5h-10zM714 395h5v5h-5zM714 400h5v5h-5zM709 405h5v5h-5zM754 405h10v5h-10zM649 410h5v5h-5zM604 435h5v5h-5zM604 455h5v5h-5zM584 460h20v5h-20zM694 470h5v5h-5zM699 490h5v5h-5zM694 500h5v5h-5zM729 500h5v5h-5zM694 505h5v5h-5zM729 505h5v5h-5z"/>
<path fill="#33638d" d="M694 335h5v5h-5zM694 340h5v5h-5zM664 355h5v5h-5zM739 355h5v5h-5zM739 360h5v5h-5zM734 365h5v5h-5zM709 380h5v5h-5zM709 385h5v5h-5zM709 390h5v5h-5zM704 410h5v5h-5zM739 410h5v5h-5zM734 415h5v5h-5zM584 430h20v5h-20zM704 430h5v5h-5zM719 430h5v5h-5zM684 460h5v5h-5zM694 460h5v5h-5zM704 485h5v5h-5zM719 490h5v5h-5zM694 495h5v5h-5zM729 495h5v5h-5zM694 510h5v5h-5zM729 510h5v5h-5z"/>
<path fill="#31668e" d="M634 330h10v5h-10zM634 335h10v5h-10zM629 340h15v5h-15zM634 345h10v5h-10zM724 365h10v5h-10zM644 395h5v5h-5zM709 395h5v5h-5zM709 400h5v5h-5zM744 410h5v5h-5zM729 425h5v5h-5zM604 430h5v5h-5zM609 450h5v5h-5zM604 460h5v5h-5zM684 470h5v5h-5zM699 485h5v5h-5zM709 485h5v5h-5zM694 490h5v5h-5zM724 490h5v5h-5zM619 495h10v5h-10zM619 500h10v5h-10zM689 500h5v5h-5zM734 500h5v5h-5zM619 505h10v5h-10zM734 505h5v5h-5zM619 510h10v5h-10z"/>
<path fill="#30698e" d="M629 330h5v5h-5zM644 330h5v5h-5zM659 330h5v5h-5zM694 330h5v5h-5zM629 335h5v5h-5zM644 335h5v5h-5zM659 335h5v5h-5zM624 340h5v5h-5zM644 340h5v5h-5zM659 340h5v5h-5zM629 345h5v5h-5zM644 345h5v5h-5zM659 345h5v5h-5zM734 345h5v5h-5zM639 350h10v5h-10zM659 350h5v5h-5zM734 350h5v5h-5zM639 355h10v5h-10zM734 355h5v5h-5zM639 360h10v5h-10zM734 360h5v5h-5zM714 370h5v5h-5zM704 385h5v5h-5zM704 390h5v5h-5zM704 405h5v5h-5zM629 410h5v5h-5zM749 410h20v5h-20zM634 415h10v5h-10zM739 415h5v5h-5zM614 420h10v5h-10zM734 420h5v5h-5zM609 425h10v5h-10zM609 430h5v5h-5zM609 435h5v5h-5zM704 435h10v5h-10zM609 440h5v5h-5zM609 445h5v5h-5zM609 455h5v5h-5zM584 465h20v5h-20zM644 465h5v5h-5zM699 465h5v5h-5zM699 470h5v5h-5zM694 475h10v5h-10zM699 480h10v5h-10zM714 485h5v5h-5zM619 490h10v5h-10zM614 495h5v5h-5zM629 495h5v5h-5zM689 495h5v5h-5zM734 495h5v5h-5zM614 500h5v5h-5zM629 500h5v5h-5zM614 505h5v5h-5zM629 505h5v5h-5zM689 505h5v5h-5zM614 510h5v5h-5zM629 510h5v5h-5zM689 510h5v5h-5zM734 510h5v5h-5z"/>
<path fill="#2f6c8e" d="M624 330h5v5h-5zM649 330h10v5h-10zM624 335h5v5h-5zM649 335h10v5h-10zM734 335h5v5h-5zM649 340h10v5h-10zM734 340h5v5h-5zM624 345h5v5h-5zM649 345h10v5h-10zM694 345h5v5h-5zM634 350h5v5h-5zM649 350h5v5h-5zM649 355h5v5h-5zM664 360h5v5h-5zM679 360h5v5h-5zM729 360h5v5h-5zM639 365h10v5h-10zM719 365h5v5h-5zM709 375h5v5h-5zM704 380h5v5h-5zM694 385h10v5h-10zM699 390h5v5h-5zM649 395h5v5h-5zM704 395h5v5h-5zM704 400h5v5h-5zM619 415h15v5h-15zM644 415h5v5h-5zM624 420h5v5h-5zM699 420h5v5h-5zM604 425h5v5h-5zM619 425h5v5h-5zM699 425h5v5h-5zM699 430h5v5h-5zM724 430h5v5h-5zM714 435h5v5h-5zM689 455h10v5h-10zM609 460h5v5h-5zM679 460h5v5h-5zM699 460h5v5h-5zM604 465h5v5h-5zM639 465h5v5h-5zM679 465h5v5h-5zM639 470h10v5h-10zM689 475h5v5h-5zM694 480h5v5h-5zM709 480h5v5h-5zM694 485h5v5h-5zM614 490h5v5h-5zM629 490h5v5h-5zM729 490h5v5h-5zM609 495h5v5h-5zM609 500h5v5h-5zM634 500h5v5h-5zM739 500h5v5h-5zM609 505h5v5h-5zM634 505h5v5h-5zM739 505h5v5h-5zM609 510h5v5h-5z"/>
<path fill="#2e6f8e" d="M619 330h5v5h-5zM734 330h5v5h-5zM619 335h5v5h-5zM619 340h5v5h-5zM619 345h5v5h-5zM629 350h5v5h-5zM654 350h5v5h-5zM689 350h5v5h-5zM634 355h5v5h-5zM654 355h10v5h-10zM684 355h5v5h-5zM634 360h5v5h-5zM649 360h5v5h-5zM634 365h5v5h-5zM629 370h15v5h-15zM694 380h10v5h-10zM694 390h5v5h-5zM699 395h5v5h-5zM654 405h5v5h-5zM614 415h5v5h-5zM699 415h5v5h-5zM744 415h5v5h-5zM609 420h5v5h-5zM584 425h5v5h-5zM599 425h5v5h-5zM614 430h5v5h-5zM699 435h5v5h-5zM704 440h10v5h-10zM684 455h5v5h-5zM699 455h5v5h-5zM609 465h5v5h-5zM649 465h5v5h-5zM584 470h25v5h-25zM704 475h5v5h-5zM614 485h20v5h-20zM719 485h5v5h-5zM609 490h5v5h-5zM634 490h5v5h-5zM689 490h5v5h-5zM604 495h5v5h-5zM634 495h5v5h-5zM739 495h5v5h-5zM604 500h5v5h-5zM684 500h5v5h-5zM744 500h10v5h-10zM759 500h10v5h-10zM604 505h5v5h-5zM684 505h5v5h-5zM744 505h5v5h-5zM604 510h5v5h-5zM634 510h5v5h-5zM684 510h5v5h-5zM739 510h5v5h-5z"/>
<path fill="#2c728e" d="M614 330h5v5h-5zM614 335h5v5h-5zM614 340h5v5h-5zM624 350h5v5h-5zM724 360h5v5h-5zM629 365h5v5h-5zM649 365h5v5h-5zM644 370h5v5h-5zM704 375h5v5h-5zM689 385h5v5h-5zM604 390h5v5h-5zM634 400h5v5h-5zM654 400h5v5h-5zM699 400h5v5h-5zM629 405h5v5h-5zM624 410h5v5h-5zM654 410h5v5h-5zM699 410h5v5h-5zM649 415h5v5h-5zM629 420h5v5h-5zM739 420h5v5h-5zM624 425h5v5h-5zM734 425h5v5h-5zM729 430h5v5h-5zM614 435h5v5h-5zM719 435h5v5h-5zM749 435h20v5h-20zM699 440h5v5h-5zM704 445h5v5h-5zM614 450h5v5h-5zM704 450h5v5h-5zM614 455h5v5h-5zM614 460h5v5h-5zM644 460h5v5h-5zM614 465h5v5h-5zM704 465h5v5h-5zM609 470h5v5h-5zM634 470h5v5h-5zM704 470h5v5h-5zM584 475h30v5h-30zM634 475h10v5h-10zM709 475h5v5h-5zM584 480h55v5h-55zM604 485h10v5h-10zM634 485h5v5h-5zM584 490h5v5h-5zM599 490h10v5h-10zM734 490h5v5h-5zM584 495h5v5h-5zM599 495h5v5h-5zM684 495h5v5h-5zM744 495h10v5h-10zM764 495h5v5h-5zM584 500h5v5h-5zM599 500h5v5h-5zM754 500h5v5h-5zM584 505h5v5h-5zM599 505h5v5h-5zM749 505h20v5h-20zM584 510h5v5h-5zM599 510h5v5h-5zM744 510h10v5h-10zM764 510h5v5h-5z"/>
<path fill="#2b758e" d="M609 330h5v5h-5zM609 335h5v5h-5zM609 340h5v5h-5zM614 345h5v5h-5zM619 350h5v5h-5zM629 355h5v5h-5zM729 355h5v5h-5zM654 360h10v5h-10zM674 365h5v5h-5zM624 370h5v5h-5zM624 375h15v5h-15zM689 380h5v5h-5zM584 390h20v5h-20zM609 390h5v5h-5zM689 390h5v5h-5zM584 395h25v5h-25zM639 395h5v5h-5zM694 395h5v5h-5zM699 405h5v5h-5zM609 415h5v5h-5zM749 415h20v5h-20zM604 420h5v5h-5zM589 425h10v5h-10zM619 430h5v5h-5zM749 430h20v5h-20zM614 440h5v5h-5zM714 440h5v5h-5zM754 440h10v5h-10zM614 445h5v5h-5zM699 445h5v5h-5zM709 445h5v5h-5zM699 450h5v5h-5zM709 450h5v5h-5zM679 455h5v5h-5zM704 455h5v5h-5zM639 460h5v5h-5zM649 460h5v5h-5zM674 460h5v5h-5zM704 460h5v5h-5zM634 465h5v5h-5zM614 470h5v5h-5zM649 470h5v5h-5zM679 470h5v5h-5zM614 475h10v5h-10zM629 475h5v5h-5zM644 475h5v5h-5zM684 475h5v5h-5zM639 480h5v5h-5zM689 480h5v5h-5zM714 480h5v5h-5zM584 485h20v5h-20zM689 485h5v5h-5zM724 485h5v5h-5zM589 490h10v5h-10zM639 490h5v5h-5zM739 490h5v5h-5zM589 495h10v5h-10zM639 495h5v5h-5zM754 495h10v5h-10zM589 500h10v5h-10zM639 500h5v5h-5zM589 505h10v5h-10zM639 505h5v5h-5zM679 505h5v5h-5zM589 510h10v5h-10zM639 510h5v5h-5zM679 510h5v5h-5zM754 510h10v5h-10z"/>
<path fill="#2a788e" d="M604 330h5v5h-5zM584 335h5v5h-5zM599 335h10v5h-10zM699 335h5v5h-5zM584 340h25v5h-25zM699 340h5v5h-5zM604 345h10v5h-10zM614 350h5v5h-5zM729 350h5v5h-5zM624 355h5v5h-5zM629 360h5v5h-5zM669 365h5v5h-5zM714 365h5v5h-5zM709 370h5v5h-5zM619 375h5v5h-5zM639 375h5v5h-5zM694 375h10v5h-10zM609 385h5v5h-5zM609 395h5v5h-5zM614 410h10v5h-10zM634 420h5v5h-5zM744 420h5v5h-5zM739 425h30v5h-30zM624 430h5v5h-5zM734 430h5v5h-5zM744 430h5v5h-5zM744 435h5v5h-5zM749 440h5v5h-5zM764 440h5v5h-5zM694 450h5v5h-5zM619 455h5v5h-5zM709 455h5v5h-5zM619 460h5v5h-5zM634 460h5v5h-5zM709 460h5v5h-5zM619 465h5v5h-5zM654 465h5v5h-5zM674 465h5v5h-5zM709 465h5v5h-5zM619 470h15v5h-15zM709 470h5v5h-5zM624 475h5v5h-5zM714 475h5v5h-5zM639 485h5v5h-5zM729 485h5v5h-5zM679 500h5v5h-5z"/>
<path fill="#297b8e" d="M584 330h20v5h-20zM699 330h5v5h-5zM589 335h10v5h-10zM584 345h20v5h-20zM609 350h5v5h-5zM719 360h5v5h-5zM624 365h5v5h-5zM654 365h5v5h-5zM649 370h5v5h-5zM644 375h5v5h-5zM619 380h5v5h-5zM614 385h5v5h-5zM644 390h5v5h-5zM689 395h5v5h-5zM584 400h5v5h-5zM599 400h10v5h-10zM694 400h5v5h-5zM609 410h5v5h-5zM604 415h5v5h-5zM749 420h20v5h-20zM629 425h5v5h-5zM739 430h5v5h-5zM619 435h5v5h-5zM694 435h5v5h-5zM724 435h5v5h-5zM619 440h5v5h-5zM694 440h5v5h-5zM744 440h5v5h-5zM619 445h5v5h-5zM694 445h5v5h-5zM714 445h5v5h-5zM754 445h10v5h-10zM619 450h5v5h-5zM689 450h5v5h-5zM714 450h5v5h-5zM674 455h5v5h-5zM714 455h5v5h-5zM624 460h5v5h-5zM654 460h5v5h-5zM714 460h10v5h-10zM749 460h20v5h-20zM624 465h10v5h-10zM714 465h10v5h-10zM764 465h5v5h-5zM714 470h10v5h-10zM719 480h5v5h-5zM734 485h5v5h-5zM684 490h5v5h-5zM744 490h5v5h-5zM764 490h5v5h-5zM644 495h5v5h-5zM644 500h5v5h-5zM644 505h5v5h-5zM674 505h5v5h-5zM644 510h5v5h-5zM674 510h5v5h-5z"/>
<path fill="#277e8e" d="M729 345h5v5h-5zM584 350h25v5h-25zM619 355h5v5h-5zM724 355h5v5h-5zM624 360h5v5h-5zM664 365h5v5h-5zM679 365h5v5h-5zM619 370h5v5h-5zM689 375h5v5h-5zM614 380h5v5h-5zM624 380h5v5h-5zM604 385h5v5h-5zM684 385h5v5h-5zM614 390h5v5h-5zM649 390h5v5h-5zM684 390h5v5h-5zM654 395h5v5h-5zM609 400h5v5h-5zM654 415h5v5h-5zM584 420h5v5h-5zM599 420h5v5h-5zM639 420h5v5h-5zM694 430h5v5h-5zM624 435h5v5h-5zM739 435h5v5h-5zM719 440h5v5h-5zM749 445h5v5h-5zM764 445h5v5h-5zM624 450h5v5h-5zM679 450h10v5h-10zM624 455h10v5h-10zM669 455h5v5h-5zM719 455h5v5h-5zM749 455h20v5h-20zM629 460h5v5h-5zM659 460h5v5h-5zM669 460h5v5h-5zM724 460h5v5h-5zM744 460h5v5h-5zM724 465h5v5h-5zM744 465h20v5h-20zM724 470h5v5h-5zM719 475h5v5h-5zM644 480h5v5h-5zM724 480h5v5h-5zM644 490h5v5h-5zM749 490h15v5h-15zM679 495h5v5h-5zM674 500h5v5h-5zM649 505h5v5h-5zM649 510h5v5h-5z"/>
<path fill="#26828e" d="M729 330h5v5h-5zM729 340h5v5h-5zM614 355h5v5h-5zM659 365h5v5h-5zM649 375h5v5h-5zM639 380h10v5h-10zM684 380h5v5h-5zM584 385h10v5h-10zM599 385h5v5h-5zM589 400h10v5h-10zM604 405h10v5h-10zM604 410h5v5h-5zM694 425h5v5h-5zM629 430h5v5h-5zM729 435h10v5h-10zM624 440h5v5h-5zM624 445h5v5h-5zM689 445h5v5h-5zM719 445h5v5h-5zM744 445h5v5h-5zM629 450h5v5h-5zM674 450h5v5h-5zM719 450h5v5h-5zM749 450h20v5h-20zM634 455h20v5h-20zM664 460h5v5h-5zM729 460h5v5h-5zM739 460h5v5h-5zM659 465h5v5h-5zM669 465h5v5h-5zM729 465h15v5h-15zM654 470h5v5h-5zM729 470h5v5h-5zM649 475h5v5h-5zM724 475h10v5h-10zM684 480h5v5h-5zM729 480h5v5h-5zM644 485h5v5h-5zM684 485h5v5h-5zM649 500h5v5h-5zM654 505h5v5h-5zM669 505h5v5h-5zM654 510h5v5h-5zM664 510h10v5h-10z"/>
<path fill="#25848e" d="M729 335h5v5h-5zM699 345h5v5h-5zM584 355h10v5h-10zM609 355h5v5h-5zM619 360h5v5h-5zM684 360h5v5h-5zM619 365h5v5h-5zM654 370h5v5h-5zM704 370h5v5h-5zM614 375h5v5h-5zM684 375h5v5h-5zM609 380h5v5h-5zM629 380h10v5h-10zM649 380h5v5h-5zM594 385h5v5h-5zM619 385h5v5h-5zM644 385h10v5h-10zM614 395h5v5h-5zM584 405h5v5h-5zM599 405h5v5h-5zM614 405h5v5h-5zM624 405h5v5h-5zM694 405h5v5h-5zM584 415h5v5h-5zM599 415h5v5h-5zM644 420h5v5h-5zM694 420h5v5h-5zM634 425h5v5h-5zM629 435h5v5h-5zM629 440h5v5h-5zM689 440h5v5h-5zM724 440h5v5h-5zM739 440h5v5h-5zM629 445h5v5h-5zM684 445h5v5h-5zM744 450h5v5h-5zM654 455h15v5h-15zM724 455h5v5h-5zM744 455h5v5h-5zM734 460h5v5h-5zM664 465h5v5h-5zM734 470h10v5h-10zM764 470h5v5h-5zM679 475h5v5h-5zM734 480h5v5h-5zM739 485h5v5h-5zM649 495h5v5h-5zM654 500h5v5h-5zM669 500h5v5h-5zM659 505h10v5h-10zM659 510h5v5h-5z"/>
<path fill="#24878e" d="M694 350h5v5h-5zM594 355h15v5h-15zM714 360h5v5h-5zM709 365h5v5h-5zM639 390h5v5h-5zM654 390h5v5h-5zM684 395h5v5h-5zM614 400h5v5h-5zM619 405h5v5h-5zM584 410h5v5h-5zM599 410h5v5h-5zM694 410h5v5h-5zM694 415h5v5h-5zM589 420h10v5h-10zM649 420h5v5h-5zM634 430h5v5h-5zM689 435h5v5h-5zM729 440h10v5h-10zM679 445h5v5h-5zM724 445h5v5h-5zM739 445h5v5h-5zM634 450h5v5h-5zM669 450h5v5h-5zM724 450h5v5h-5zM729 455h15v5h-15zM674 470h5v5h-5zM734 475h5v5h-5zM759 485h10v5h-10zM679 490h5v5h-5zM674 495h5v5h-5zM659 500h10v5h-10z"/>
<path fill="#238a8d" d="M724 350h5v5h-5zM719 355h5v5h-5zM614 360h5v5h-5zM679 370h10v5h-10zM699 370h5v5h-5zM654 375h5v5h-5zM639 385h5v5h-5zM659 400h5v5h-5zM689 400h5v5h-5zM659 405h5v5h-5zM659 410h5v5h-5zM634 435h5v5h-5zM634 440h5v5h-5zM684 440h5v5h-5zM634 445h5v5h-5zM674 445h5v5h-5zM729 445h10v5h-10zM639 450h5v5h-5zM664 450h5v5h-5zM729 450h5v5h-5zM739 450h5v5h-5zM744 470h5v5h-5zM759 470h5v5h-5zM744 485h5v5h-5zM754 485h5v5h-5zM649 490h5v5h-5zM654 495h5v5h-5z"/>
<path fill="#228d8d" d="M704 330h5v5h-5zM704 335h5v5h-5zM689 355h5v5h-5zM584 360h5v5h-5zM684 365h5v5h-5zM614 370h5v5h-5zM659 370h5v5h-5zM674 370h5v5h-5zM689 370h10v5h-10zM654 380h5v5h-5zM654 385h5v5h-5zM619 390h5v5h-5zM634 395h5v5h-5zM629 400h5v5h-5zM659 415h5v5h-5zM654 420h5v5h-5zM639 425h5v5h-5zM669 445h5v5h-5zM659 450h5v5h-5zM734 450h5v5h-5zM764 475h5v5h-5zM649 480h5v5h-5zM764 480h5v5h-5zM649 485h5v5h-5zM749 485h5v5h-5z"/>
<path fill="#21918c" d="M704 340h5v5h-5zM589 360h5v5h-5zM614 365h5v5h-5zM584 380h5v5h-5zM604 380h5v5h-5zM624 385h5v5h-5zM659 395h5v5h-5zM589 405h10v5h-10zM639 430h5v5h-5zM689 430h5v5h-5zM679 440h5v5h-5zM639 445h5v5h-5zM644 450h15v5h-15zM659 470h5v5h-5zM749 470h10v5h-10zM739 475h5v5h-5zM679 480h5v5h-5zM739 480h5v5h-5zM679 485h5v5h-5zM659 495h5v5h-5zM669 495h5v5h-5z"/>
<path fill="#20938c" d="M724 330h5v5h-5zM594 360h5v5h-5zM609 360h5v5h-5zM664 370h10v5h-10zM609 375h5v5h-5zM679 375h5v5h-5zM679 380h5v5h-5zM634 385h5v5h-5zM679 385h5v5h-5zM679 390h5v5h-5zM644 425h5v5h-5zM639 435h5v5h-5zM684 435h5v5h-5zM639 440h5v5h-5zM664 445h5v5h-5zM669 470h5v5h-5zM654 475h5v5h-5zM759 480h5v5h-5zM664 495h5v5h-5z"/>
<path fill="#1f968b" d="M724 345h5v5h-5zM599 360h10v5h-10zM584 365h5v5h-5zM704 365h5v5h-5zM589 380h5v5h-5zM599 380h5v5h-5zM629 385h5v5h-5zM619 395h5v5h-5zM679 395h5v5h-5zM619 400h5v5h-5zM684 400h5v5h-5zM589 415h10v5h-10zM659 420h5v5h-5zM649 425h5v5h-5zM674 440h5v5h-5zM664 470h5v5h-5zM674 475h5v5h-5zM759 475h5v5h-5zM654 490h5v5h-5zM674 490h5v5h-5z"/>
<path fill="#1f998a" d="M709 330h5v5h-5zM724 335h5v5h-5zM714 355h5v5h-5zM709 360h5v5h-5zM659 375h5v5h-5zM594 380h5v5h-5zM659 390h5v5h-5zM689 405h5v5h-5zM589 410h10v5h-10zM689 425h5v5h-5zM644 430h5v5h-5zM644 440h5v5h-5zM669 440h5v5h-5zM644 445h5v5h-5zM659 445h5v5h-5z"/>
<path fill="#1e9c89" d="M709 335h5v5h-5zM724 340h5v5h-5zM704 345h5v5h-5zM699 350h5v5h-5zM719 350h5v5h-5zM589 365h5v5h-5zM609 365h5v5h-5zM689 365h5v5h-5zM584 370h5v5h-5zM584 375h5v5h-5zM659 385h5v5h-5zM634 390h5v5h-5zM624 400h5v5h-5zM654 425h5v5h-5zM644 435h5v5h-5zM679 435h5v5h-5zM649 445h10v5h-10zM744 475h5v5h-5zM744 480h5v5h-5zM754 480h5v5h-5z"/>
<path fill="#1fa088" d="M689 360h5v5h-5zM699 365h5v5h-5zM609 370h5v5h-5zM659 380h5v5h-5zM664 400h5v5h-5zM664 405h5v5h-5zM659 425h5v5h-5zM649 430h5v5h-5zM649 440h5v5h-5zM664 440h5v5h-5zM654 480h5v5h-5zM749 480h5v5h-5zM654 485h5v5h-5zM674 485h5v5h-5z"/>
<path fill="#1fa287" d="M714 330h10v5h-10zM694 355h5v5h-5zM594 365h5v5h-5zM694 365h5v5h-5zM604 375h5v5h-5zM674 375h5v5h-5zM624 390h5v5h-5zM664 410h5v5h-5zM689 420h5v5h-5zM654 430h5v5h-5zM684 430h5v5h-5zM649 435h5v5h-5zM654 440h10v5h-10zM659 475h5v5h-5zM754 475h5v5h-5zM674 480h5v5h-5zM659 490h5v5h-5zM669 490h5v5h-5z"/>
<path fill="#21a585" d="M709 340h5v5h-5zM604 365h5v5h-5zM589 370h5v5h-5zM589 375h5v5h-5zM664 375h5v5h-5zM629 395h5v5h-5zM664 395h5v5h-5zM689 410h5v5h-5zM664 415h5v5h-5zM659 430h5v5h-5zM654 435h5v5h-5zM674 435h5v5h-5zM669 475h5v5h-5zM749 475h5v5h-5zM664 490h5v5h-5z"/>
<path fill="#22a884" d="M714 335h10v5h-10zM714 350h5v5h-5zM709 355h5v5h-5zM704 360h5v5h-5zM599 365h5v5h-5zM674 380h5v5h-5zM629 390h5v5h-5zM624 395h5v5h-5zM679 400h5v5h-5zM689 415h5v5h-5zM659 435h15v5h-15zM664 475h5v5h-5z"/>
<path fill="#25ab82" d="M719 345h5v5h-5zM704 350h5v5h-5zM604 370h5v5h-5zM594 375h10v5h-10zM669 375h5v5h-5zM674 385h5v5h-5zM664 390h5v5h-5zM674 390h5v5h-5zM674 395h5v5h-5zM664 420h5v5h-5zM664 425h5v5h-5zM664 430h5v5h-5z"/>
<path fill="#28ae80" d="M719 340h5v5h-5zM709 345h5v5h-5zM709 350h5v5h-5zM699 355h5v5h-5zM694 360h5v5h-5zM594 370h5v5h-5zM664 380h5v5h-5zM664 385h5v5h-5zM679 430h5v5h-5zM659 485h5v5h-5zM669 485h5v5h-5z"/>
<path fill="#2cb17e" d="M714 340h5v5h-5zM704 355h5v5h-5zM699 360h5v5h-5zM599 370h5v5h-5zM669 395h5v5h-5zM669 400h5v5h-5zM684 405h5v5h-5zM684 425h5v5h-5zM669 430h5v5h-5zM659 480h5v5h-5zM669 480h5v5h-5z"/>
<path fill="#2fb47c" d="M714 345h5v5h-5zM669 390h5v5h-5zM674 400h5v5h-5zM674 430h5v5h-5zM664 485h5v5h-5z"/>
<path fill="#34b679" d="M669 380h5v5h-5zM669 385h5v5h-5zM669 405h5v5h-5zM664 480h5v5h-5z"/>
<path fill="#3fbc73" d="M669 425h5v5h-5z"/>
<path fill="#4ac16d" d="M679 405h5v5h-5zM669 410h5v5h-5z"/>
<path fill="#50c46a" d="M684 410h5v5h-5zM684 420h5v5h-5zM679 425h5v5h-5z"/>
<path fill="#56c667" d="M674 405h5v5h-5zM669 420h5v5h-5zM674 425h5v5h-5z"/>
<path fill="#5ec962" d="M669 415h5v5h-5z"/>
<path fill="#65cb5e" d="M684 415h5v5h-5z"/>
<path fill="#8bd646" d="M674 410h5v5h-5z"/>
<path fill="#93d741" d="M679 410h5v5h-5zM674 420h10v5h-10z"/>
<path fill="#addc30" d="M674 415h5v5h-5z"/>
<path fill="#b5de2b" d="M679 415h5v5h-5z"/></g>
<path fill="none" stroke="#fff" stroke-opacity="0.72" stroke-width="0.95" stroke-linejoin="round" d="M727.4,340.8 727.0,343.8 726.7,345.2 725.5,348.2 724.6,349.8 723.5,351.2 722.0,352.8 720.3,354.2 718.4,355.8 716.5,357.2 714.8,358.8 713.2,360.2 711.8,361.7 710.2,363.2 708.8,364.6 707.2,365.8 705.8,366.8 704.0,367.8 701.2,368.7 699.0,369.2 696.8,369.6 693.8,369.6 691.5,369.2 689.2,367.8 688.8,366.2 689.2,363.2 690.0,361.8 690.9,360.2 692.2,358.6 693.8,357.2 695.4,355.8 697.3,354.2 699.3,352.8 701.2,351.2 702.8,349.9 704.2,348.4 705.7,346.8 706.8,345.2 707.7,343.8 708.8,341.9 709.4,340.8 M594.8,365.5 596.4,364.8 599.2,363.7 601.0,363.2 603.8,362.7 606.8,362.6 609.8,362.8 611.4,363.2 614.1,364.8 615.1,366.2 615.3,369.2 614.4,372.2 613.6,373.8 612.6,375.2 611.2,376.9 609.8,378.3 607.9,379.8 605.2,381.2 603.8,381.8 600.8,382.6 599.2,382.8 596.2,382.8 594.8,382.6 594.8,382.6 M594.8,408.2 596.2,409.5 597.1,411.2 597.5,414.2 596.7,417.2 595.5,418.8 594.8,419.3 M758.2,482.4 756.8,483.3 753.8,484.3 750.8,484.7 747.8,484.3 745.3,483.2 743.9,481.8 743.6,478.8 744.8,476.9 746.2,475.5 748.6,474.2 750.8,473.5 753.8,473.2 756.8,473.5 758.3,474.1 M665.2,373.6 668.2,372.7 671.2,372.7 674.2,373.2 676.2,373.8 678.6,375.2 679.7,376.8 680.2,379.0 680.4,381.2 680.5,384.2 680.5,387.2 680.5,390.2 680.8,393.2 681.6,396.2 682.5,397.8 683.7,399.2 685.5,400.8 687.4,402.2 689.2,403.8 690.7,405.2 691.9,406.8 692.8,408.2 693.8,410.7 694.3,412.8 694.6,415.8 694.5,418.8 694.1,421.8 693.7,423.2 692.9,426.2 692.2,428.1 690.9,430.8 690.0,432.2 688.8,433.8 687.4,435.2 685.8,436.8 683.7,438.2 681.8,439.4 680.2,440.1 677.3,441.2 675.8,441.8 672.8,442.8 671.2,443.3 668.6,444.2 666.8,445.0 664.8,445.8 662.2,446.7 660.8,447.3 657.8,448.1 654.8,448.6 651.8,448.7 648.8,448.0 647.2,447.2 645.8,445.6 644.8,442.8 644.5,439.8 644.4,436.8 644.7,433.8 645.8,431.6 647.2,429.9 648.8,428.8 650.9,427.8 653.2,426.9 655.1,426.2 657.8,425.1 659.2,424.2 660.8,422.8 662.2,420.3 662.8,418.8 663.5,415.8 663.8,414.0 664.1,411.2 664.4,408.2 664.5,405.2 664.3,402.2 663.8,399.5 663.2,397.8 662.2,394.9 661.7,393.2 660.8,390.5 660.3,388.8 659.8,385.8 659.8,382.8 660.4,379.8 661.0,378.2 662.2,376.2 663.8,374.6 665.2,373.6 Z M629.2,388.6 632.2,388.1 635.1,388.8 636.8,390.2 637.2,391.8 636.8,394.1 635.7,396.3 634.7,397.8 633.6,399.2 632.2,400.8 630.4,402.2 628.0,403.8 626.2,404.4 623.2,404.6 621.4,403.8 620.4,400.8 621.0,397.8 621.8,395.9 623.2,393.3 624.5,391.8 626.1,390.3 627.8,389.2 629.2,388.6 Z M666.8,472.6 668.7,472.8 671.2,473.4 673.0,474.2 675.0,475.8 676.6,477.2 677.9,478.8 678.9,480.2 680.1,483.2 680.1,486.2 679.1,489.2 678.2,490.8 677.0,492.2 675.5,493.8 673.5,495.2 671.2,496.4 669.8,496.9 666.8,497.3 663.8,496.9 662.2,496.4 659.9,495.2 657.9,493.8 656.5,492.2 655.4,490.8 654.7,489.2 654.0,486.2 654.3,483.2 654.8,481.8 656.2,479.2 657.8,477.3 659.2,475.9 660.8,474.7 662.2,473.8 665.2,472.8 666.8,472.6 Z M669.8,380.2 672.7,381.0 673.8,382.8 674.3,384.2 674.7,387.3 674.9,390.2 675.1,393.2 675.5,396.2 675.9,397.8 677.2,400.1 678.8,401.6 680.2,402.7 682.0,403.8 684.4,405.2 686.2,406.6 687.8,408.1 689.0,409.8 689.8,411.2 690.7,414.2 690.9,415.8 690.8,418.8 690.6,420.2 689.7,423.2 689.0,424.8 687.8,427.0 686.2,428.9 684.8,430.4 683.2,431.5 681.8,432.4 678.8,433.7 677.2,434.1 674.2,434.4 671.2,433.9 669.8,433.1 668.2,431.7 667.0,429.2 666.7,427.8 666.7,424.8 666.8,423.2 667.0,420.2 667.4,417.2 667.8,414.2 668.2,412.2 668.8,409.8 669.6,406.8 670.0,405.2 670.6,402.2 670.7,399.2 670.0,396.2 669.5,394.8 668.5,391.8 668.0,390.2 667.3,387.2 667.2,384.2 668.2,381.3 669.8,380.2 Z M663.8,481.6 666.8,480.4 669.8,481.3 671.2,483.1 671.5,484.7 671.0,486.2 669.7,487.8 666.8,488.7 664.1,487.8 662.8,486.2 662.6,483.2 663.8,481.6 Z M677.2,406.7 678.8,406.8 681.8,407.7 683.2,408.6 684.8,409.8 686.2,411.6 687.4,414.2 687.8,416.3 687.8,417.8 687.3,420.2 686.2,422.8 684.9,424.7 683.3,426.2 681.8,427.3 680.2,428.0 677.2,428.5 674.3,427.8 672.8,426.6 671.4,424.8 670.9,423.2 670.5,420.2 670.6,417.2 671.1,414.2 671.5,412.8 672.8,410.0 674.0,408.2 675.8,407.0 677.2,406.7 Z M678.8,411.0 680.6,411.2 682.9,412.8 683.9,414.2 684.6,417.2 683.9,420.2 682.9,421.8 681.2,423.2 678.8,424.1 675.8,423.2 674.6,421.8 674.0,420.2 673.8,417.2 674.2,415.1 675.5,412.7 677.2,411.3 678.8,411.0 Z"/>
<ellipse cx="679.6" cy="416.6" rx="17.1" ry="14.3" transform="rotate(-90.0 679.6 416.6)" fill="none" stroke="#e0442c" stroke-width="1"/>
<path d="M677.0 416.0h4.6M679.3 413.7v4.6" stroke="#f05a28" stroke-width="0.9"/>
<path d="M674.5 419.9l4.6 4.6M679.1 419.9l-4.6 4.6" stroke="#3446a8" stroke-width="0.9"/>
<ellipse cx="614.3" cy="484.0" rx="16.8" ry="11.6" transform="rotate(-42.0 614.3 484.0)" fill="#fff"/>
</g>
<rect x="594.5" y="340.5" width="165" height="165" fill="none" stroke="#1a1a1a" stroke-width="1"/>
<text x="610.9" y="356.2" font-size="10.20" fill="#f4f4f4" stroke="#2a2a2a" stroke-width="1.7" paint-order="stroke" stroke-linejoin="round" textLength="34.7" lengthAdjust="spacingAndGlyphs">Line 61</text>
<text x="611.0" y="366.5" font-size="10.20" fill="#f4f4f4" stroke="#2a2a2a" stroke-width="1.7" paint-order="stroke" stroke-linejoin="round" textLength="47" lengthAdjust="spacingAndGlyphs">CH<tspan font-size="7.4" dy="2.3">3</tspan><tspan dy="-2.3">OCHO</tspan></text>
<text x="660.6" y="366.5" font-size="10.20" font-style="italic" fill="#f4f4f4" stroke="#2a2a2a" stroke-width="1.7" paint-order="stroke" stroke-linejoin="round">v</text>
<text x="668.2" y="366.5" font-size="10.20" fill="#f4f4f4" stroke="#2a2a2a" stroke-width="1.7" paint-order="stroke" stroke-linejoin="round" textLength="6.6" lengthAdjust="spacingAndGlyphs">=</text>
<text x="677.0" y="366.5" font-size="10.20" fill="#f4f4f4" stroke="#2a2a2a" stroke-width="1.7" paint-order="stroke" stroke-linejoin="round">1</text>
<text x="693.3" y="355.8" font-size="10.20" fill="#f4f4f4" stroke="#2a2a2a" stroke-width="1.7" paint-order="stroke" stroke-linejoin="round" textLength="63.0" lengthAdjust="spacingAndGlyphs">0.42″ × 0.34″</text>
<text x="693.3" y="366.3" font-size="10.20" fill="#f4f4f4" stroke="#2a2a2a" stroke-width="1.7" paint-order="stroke" stroke-linejoin="round" textLength="58.7" lengthAdjust="spacingAndGlyphs">PA=167.35 °</text>
<text x="662.6" y="488.9" font-size="10.4" fill="#fff" textLength="80.8" lengthAdjust="spacingAndGlyphs">345546.657 MHz</text>
<text x="79.6" y="16.9" font-size="10.50" fill="#0c0c0c" text-anchor="end" textLength="64.4" lengthAdjust="spacingAndGlyphs">-65°08'48.50″</text>
<path d="M82.2 13.4h1.8" stroke="#222" stroke-width="0.9"/>
<text x="79.6" y="58.2" font-size="10.50" fill="#0c0c0c" text-anchor="end" textLength="30.6" lengthAdjust="spacingAndGlyphs">49.00″</text>
<path d="M82.2 54.7h1.8" stroke="#222" stroke-width="0.9"/>
<text x="79.6" y="99.5" font-size="10.50" fill="#0c0c0c" text-anchor="end" textLength="30.6" lengthAdjust="spacingAndGlyphs">49.50″</text>
<path d="M82.2 96.0h1.8" stroke="#222" stroke-width="0.9"/>
<text x="79.6" y="140.8" font-size="10.50" fill="#0c0c0c" text-anchor="end" textLength="30.6" lengthAdjust="spacingAndGlyphs">50.00″</text>
<path d="M82.2 137.3h1.8" stroke="#222" stroke-width="0.9"/>
<text transform="translate(8.3 82.3) rotate(-90)" font-size="10.5" fill="#0c0c0c" text-anchor="middle" textLength="90.2" lengthAdjust="spacingAndGlyphs">Declination (J2000)</text>
<text x="79.6" y="186.9" font-size="10.50" fill="#0c0c0c" text-anchor="end" textLength="64.4" lengthAdjust="spacingAndGlyphs">-65°08'48.50″</text>
<path d="M82.2 183.4h1.8" stroke="#222" stroke-width="0.9"/>
<text x="79.6" y="228.2" font-size="10.50" fill="#0c0c0c" text-anchor="end" textLength="30.6" lengthAdjust="spacingAndGlyphs">49.00″</text>
<path d="M82.2 224.7h1.8" stroke="#222" stroke-width="0.9"/>
<text x="79.6" y="269.5" font-size="10.50" fill="#0c0c0c" text-anchor="end" textLength="30.6" lengthAdjust="spacingAndGlyphs">49.50″</text>
<path d="M82.2 266.0h1.8" stroke="#222" stroke-width="0.9"/>
<text x="79.6" y="310.8" font-size="10.50" fill="#0c0c0c" text-anchor="end" textLength="30.6" lengthAdjust="spacingAndGlyphs">50.00″</text>
<path d="M82.2 307.3h1.8" stroke="#222" stroke-width="0.9"/>
<text transform="translate(8.3 252.3) rotate(-90)" font-size="10.5" fill="#0c0c0c" text-anchor="middle" textLength="90.2" lengthAdjust="spacingAndGlyphs">Declination (J2000)</text>
<text x="79.6" y="356.9" font-size="10.50" fill="#0c0c0c" text-anchor="end" textLength="64.4" lengthAdjust="spacingAndGlyphs">-65°08'48.50″</text>
<path d="M82.2 353.4h1.8" stroke="#222" stroke-width="0.9"/>
<text x="79.6" y="398.2" font-size="10.50" fill="#0c0c0c" text-anchor="end" textLength="30.6" lengthAdjust="spacingAndGlyphs">49.00″</text>
<path d="M82.2 394.7h1.8" stroke="#222" stroke-width="0.9"/>
<text x="79.6" y="439.5" font-size="10.50" fill="#0c0c0c" text-anchor="end" textLength="30.6" lengthAdjust="spacingAndGlyphs">49.50″</text>
<path d="M82.2 436.0h1.8" stroke="#222" stroke-width="0.9"/>
<text x="79.6" y="480.8" font-size="10.50" fill="#0c0c0c" text-anchor="end" textLength="30.6" lengthAdjust="spacingAndGlyphs">50.00″</text>
<path d="M82.2 477.3h1.8" stroke="#222" stroke-width="0.9"/>
<text transform="translate(8.3 422.3) rotate(-90)" font-size="10.5" fill="#0c0c0c" text-anchor="middle" textLength="90.2" lengthAdjust="spacingAndGlyphs">Declination (J2000)</text>
<text x="77.5" y="515.9" font-size="10.50" fill="#0c0c0c" textLength="11.2" lengthAdjust="spacingAndGlyphs">12</text>
<text x="88.5" y="512.4" font-size="7.30" fill="#0c0c0c" textLength="4.6" lengthAdjust="spacingAndGlyphs">h</text>
<text x="93.2" y="515.9" font-size="10.50" fill="#0c0c0c" textLength="12.2" lengthAdjust="spacingAndGlyphs">01</text>
<text x="105.4" y="512.4" font-size="7.30" fill="#0c0c0c" textLength="6.6" lengthAdjust="spacingAndGlyphs">m</text>
<text x="112.3" y="515.9" font-size="10.50" fill="#0c0c0c" textLength="26.8" lengthAdjust="spacingAndGlyphs">36.60</text>
<text x="139.2" y="512.4" font-size="7.30" fill="#0c0c0c" textLength="3.8" lengthAdjust="spacingAndGlyphs">s</text>
<text x="147.0" y="515.9" font-size="10.50" fill="#0c0c0c" textLength="26.8" lengthAdjust="spacingAndGlyphs">36.50</text>
<text x="173.5" y="512.4" font-size="7.30" fill="#0c0c0c" textLength="3.8" lengthAdjust="spacingAndGlyphs">s</text>
<text x="199.2" y="515.9" font-size="10.50" fill="#0c0c0c" textLength="26.8" lengthAdjust="spacingAndGlyphs">36.40</text>
<text x="225.7" y="512.4" font-size="7.30" fill="#0c0c0c" textLength="3.8" lengthAdjust="spacingAndGlyphs">s</text>
<path d="M110.3 506v1.8" stroke="#222" stroke-width="0.9"/>
<path d="M162.4 506v1.8" stroke="#222" stroke-width="0.9"/>
<path d="M214.5 506v1.8" stroke="#222" stroke-width="0.9"/>
<text x="166.5" y="529.9" font-size="10.50" fill="#0c0c0c" text-anchor="middle" textLength="112.2" lengthAdjust="spacingAndGlyphs">Right Ascension (J2000)</text>
<text x="247.5" y="515.9" font-size="10.50" fill="#0c0c0c" textLength="11.2" lengthAdjust="spacingAndGlyphs">12</text>
<text x="258.5" y="512.4" font-size="7.30" fill="#0c0c0c" textLength="4.6" lengthAdjust="spacingAndGlyphs">h</text>
<text x="263.2" y="515.9" font-size="10.50" fill="#0c0c0c" textLength="12.2" lengthAdjust="spacingAndGlyphs">01</text>
<text x="275.4" y="512.4" font-size="7.30" fill="#0c0c0c" textLength="6.6" lengthAdjust="spacingAndGlyphs">m</text>
<text x="282.3" y="515.9" font-size="10.50" fill="#0c0c0c" textLength="26.8" lengthAdjust="spacingAndGlyphs">36.60</text>
<text x="309.2" y="512.4" font-size="7.30" fill="#0c0c0c" textLength="3.8" lengthAdjust="spacingAndGlyphs">s</text>
<text x="317.0" y="515.9" font-size="10.50" fill="#0c0c0c" textLength="26.8" lengthAdjust="spacingAndGlyphs">36.50</text>
<text x="343.5" y="512.4" font-size="7.30" fill="#0c0c0c" textLength="3.8" lengthAdjust="spacingAndGlyphs">s</text>
<text x="369.2" y="515.9" font-size="10.50" fill="#0c0c0c" textLength="26.8" lengthAdjust="spacingAndGlyphs">36.40</text>
<text x="395.7" y="512.4" font-size="7.30" fill="#0c0c0c" textLength="3.8" lengthAdjust="spacingAndGlyphs">s</text>
<path d="M280.3 506v1.8" stroke="#222" stroke-width="0.9"/>
<path d="M332.4 506v1.8" stroke="#222" stroke-width="0.9"/>
<path d="M384.5 506v1.8" stroke="#222" stroke-width="0.9"/>
<text x="336.5" y="529.9" font-size="10.50" fill="#0c0c0c" text-anchor="middle" textLength="112.2" lengthAdjust="spacingAndGlyphs">Right Ascension (J2000)</text>
<text x="417.5" y="515.9" font-size="10.50" fill="#0c0c0c" textLength="11.2" lengthAdjust="spacingAndGlyphs">12</text>
<text x="428.5" y="512.4" font-size="7.30" fill="#0c0c0c" textLength="4.6" lengthAdjust="spacingAndGlyphs">h</text>
<text x="433.2" y="515.9" font-size="10.50" fill="#0c0c0c" textLength="12.2" lengthAdjust="spacingAndGlyphs">01</text>
<text x="445.4" y="512.4" font-size="7.30" fill="#0c0c0c" textLength="6.6" lengthAdjust="spacingAndGlyphs">m</text>
<text x="452.3" y="515.9" font-size="10.50" fill="#0c0c0c" textLength="26.8" lengthAdjust="spacingAndGlyphs">36.60</text>
<text x="479.2" y="512.4" font-size="7.30" fill="#0c0c0c" textLength="3.8" lengthAdjust="spacingAndGlyphs">s</text>
<text x="487.0" y="515.9" font-size="10.50" fill="#0c0c0c" textLength="26.8" lengthAdjust="spacingAndGlyphs">36.50</text>
<text x="513.5" y="512.4" font-size="7.30" fill="#0c0c0c" textLength="3.8" lengthAdjust="spacingAndGlyphs">s</text>
<text x="539.2" y="515.9" font-size="10.50" fill="#0c0c0c" textLength="26.8" lengthAdjust="spacingAndGlyphs">36.40</text>
<text x="565.7" y="512.4" font-size="7.30" fill="#0c0c0c" textLength="3.8" lengthAdjust="spacingAndGlyphs">s</text>
<path d="M450.3 506v1.8" stroke="#222" stroke-width="0.9"/>
<path d="M502.4 506v1.8" stroke="#222" stroke-width="0.9"/>
<path d="M554.5 506v1.8" stroke="#222" stroke-width="0.9"/>
<text x="506.5" y="529.9" font-size="10.50" fill="#0c0c0c" text-anchor="middle" textLength="112.2" lengthAdjust="spacingAndGlyphs">Right Ascension (J2000)</text>
<text x="587.5" y="515.9" font-size="10.50" fill="#0c0c0c" textLength="11.2" lengthAdjust="spacingAndGlyphs">12</text>
<text x="598.5" y="512.4" font-size="7.30" fill="#0c0c0c" textLength="4.6" lengthAdjust="spacingAndGlyphs">h</text>
<text x="603.2" y="515.9" font-size="10.50" fill="#0c0c0c" textLength="12.2" lengthAdjust="spacingAndGlyphs">01</text>
<text x="615.4" y="512.4" font-size="7.30" fill="#0c0c0c" textLength="6.6" lengthAdjust="spacingAndGlyphs">m</text>
<text x="622.3" y="515.9" font-size="10.50" fill="#0c0c0c" textLength="26.8" lengthAdjust="spacingAndGlyphs">36.60</text>
<text x="649.2" y="512.4" font-size="7.30" fill="#0c0c0c" textLength="3.8" lengthAdjust="spacingAndGlyphs">s</text>
<text x="657.0" y="515.9" font-size="10.50" fill="#0c0c0c" textLength="26.8" lengthAdjust="spacingAndGlyphs">36.50</text>
<text x="683.5" y="512.4" font-size="7.30" fill="#0c0c0c" textLength="3.8" lengthAdjust="spacingAndGlyphs">s</text>
<text x="709.2" y="515.9" font-size="10.50" fill="#0c0c0c" textLength="26.8" lengthAdjust="spacingAndGlyphs">36.40</text>
<text x="735.7" y="512.4" font-size="7.30" fill="#0c0c0c" textLength="3.8" lengthAdjust="spacingAndGlyphs">s</text>
<path d="M620.3 506v1.8" stroke="#222" stroke-width="0.9"/>
<path d="M672.4 506v1.8" stroke="#222" stroke-width="0.9"/>
<path d="M724.5 506v1.8" stroke="#222" stroke-width="0.9"/>
<text x="676.5" y="529.9" font-size="10.50" fill="#0c0c0c" text-anchor="middle" textLength="112.2" lengthAdjust="spacingAndGlyphs">Right Ascension (J2000)</text>
</svg>
</body></html>
